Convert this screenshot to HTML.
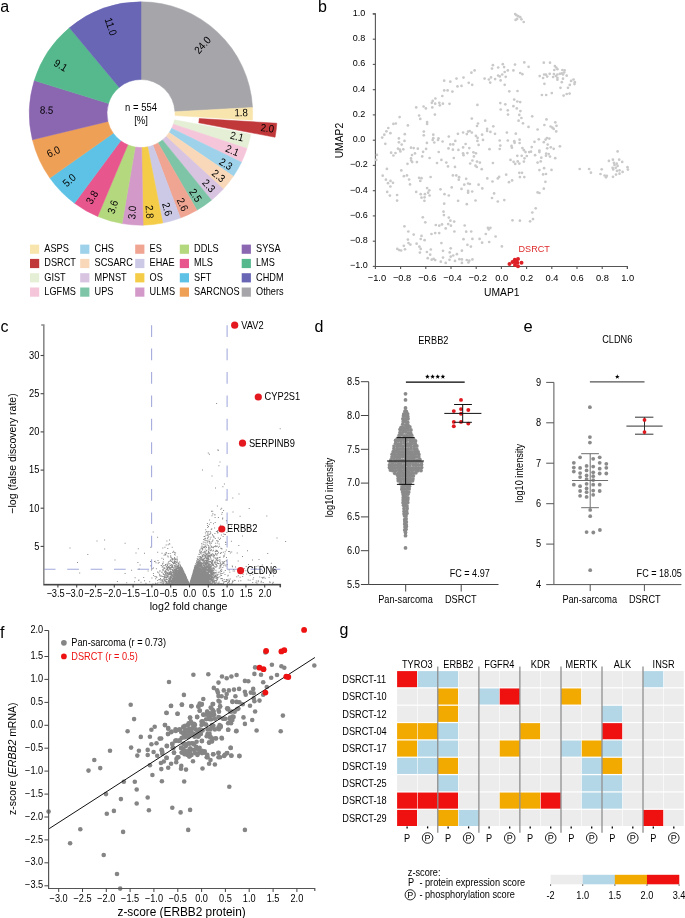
<!DOCTYPE html>
<html><head><meta charset="utf-8"><style>
html,body{margin:0;padding:0;background:#fff;width:685px;height:918px;overflow:hidden}
svg{display:block;font-family:"Liberation Sans", sans-serif;filter:blur(0.4px)}
</style></head><body>
<svg width="685" height="918" viewBox="0 0 685 918">
<rect width="685" height="918" fill="#fff"/>
<text transform="translate(0.20 11.90) scale(1 1)" font-size="16" text-anchor="start" fill="#000" >a</text><path d="M141.00,1.80 A111.7,111.7 0 0 1 252.54,107.50 L174.95,111.67 A34.0,34.0 0 0 0 141.00,79.50Z" fill="#a6a5aa" stroke="#a6a5aa" stroke-width="0.5" stroke-linejoin="round"/><path d="M252.54,107.50 A111.7,111.7 0 0 1 252.50,120.20 L174.94,115.54 A34.0,34.0 0 0 0 174.95,111.67Z" fill="#f8e5ae" stroke="#f8e5ae" stroke-width="0.5" stroke-linejoin="round"/><path d="M276.81,123.22 A111.7,111.7 0 0 1 275.08,137.22 L198.72,122.82 A34.0,34.0 0 0 0 199.25,118.55Z" fill="#c0383a" stroke="#c0383a" stroke-width="0.5" stroke-linejoin="round"/><path d="M250.76,134.21 A111.7,111.7 0 0 1 247.06,148.55 L173.28,124.17 A34.0,34.0 0 0 0 174.41,119.80Z" fill="#e5efd6" stroke="#e5efd6" stroke-width="0.5" stroke-linejoin="round"/><path d="M247.06,148.55 A111.7,111.7 0 0 1 241.48,162.28 L171.59,128.35 A34.0,34.0 0 0 0 173.28,124.17Z" fill="#f5c6da" stroke="#f5c6da" stroke-width="0.5" stroke-linejoin="round"/><path d="M241.48,162.28 A111.7,111.7 0 0 1 233.36,176.33 L169.11,132.62 A34.0,34.0 0 0 0 171.59,128.35Z" fill="#9dd2ea" stroke="#9dd2ea" stroke-width="0.5" stroke-linejoin="round"/><path d="M233.36,176.33 A111.7,111.7 0 0 1 223.28,189.04 L166.05,136.49 A34.0,34.0 0 0 0 169.11,132.62Z" fill="#f8d8b8" stroke="#f8d8b8" stroke-width="0.5" stroke-linejoin="round"/><path d="M223.28,189.04 A111.7,111.7 0 0 1 211.47,200.17 L162.45,139.88 A34.0,34.0 0 0 0 166.05,136.49Z" fill="#d8c3e1" stroke="#d8c3e1" stroke-width="0.5" stroke-linejoin="round"/><path d="M211.47,200.17 A111.7,111.7 0 0 1 196.95,210.18 L158.03,142.93 A34.0,34.0 0 0 0 162.45,139.88Z" fill="#7ec5a7" stroke="#7ec5a7" stroke-width="0.5" stroke-linejoin="round"/><path d="M196.95,210.18 A111.7,111.7 0 0 1 180.38,218.03 L152.99,145.32 A34.0,34.0 0 0 0 158.03,142.93Z" fill="#f0a492" stroke="#f0a492" stroke-width="0.5" stroke-linejoin="round"/><path d="M180.38,218.03 A111.7,111.7 0 0 1 162.75,223.06 L147.62,146.85 A34.0,34.0 0 0 0 152.99,145.32Z" fill="#cbc9e6" stroke="#cbc9e6" stroke-width="0.5" stroke-linejoin="round"/><path d="M162.75,223.06 A111.7,111.7 0 0 1 143.12,225.18 L141.64,147.49 A34.0,34.0 0 0 0 147.62,146.85Z" fill="#f4cc47" stroke="#f4cc47" stroke-width="0.5" stroke-linejoin="round"/><path d="M143.12,225.18 A111.7,111.7 0 0 1 122.03,223.58 L135.23,147.01 A34.0,34.0 0 0 0 141.64,147.49Z" fill="#d39ac9" stroke="#d39ac9" stroke-width="0.5" stroke-linejoin="round"/><path d="M122.03,223.58 A111.7,111.7 0 0 1 97.68,216.46 L127.82,144.84 A34.0,34.0 0 0 0 135.23,147.01Z" fill="#b4d87e" stroke="#b4d87e" stroke-width="0.5" stroke-linejoin="round"/><path d="M97.68,216.46 A111.7,111.7 0 0 1 74.43,203.20 L120.74,140.80 A34.0,34.0 0 0 0 127.82,144.84Z" fill="#e7578e" stroke="#e7578e" stroke-width="0.5" stroke-linejoin="round"/><path d="M74.43,203.20 A111.7,111.7 0 0 1 49.85,178.07 L113.26,133.15 A34.0,34.0 0 0 0 120.74,140.80Z" fill="#5dc2e5" stroke="#5dc2e5" stroke-width="0.5" stroke-linejoin="round"/><path d="M49.85,178.07 A111.7,111.7 0 0 1 32.42,139.73 L107.95,121.48 A34.0,34.0 0 0 0 113.26,133.15Z" fill="#efa057" stroke="#efa057" stroke-width="0.5" stroke-linejoin="round"/><path d="M32.42,139.73 A111.7,111.7 0 0 1 34.30,80.46 L108.52,103.44 A34.0,34.0 0 0 0 107.95,121.48Z" fill="#8b66b1" stroke="#8b66b1" stroke-width="0.5" stroke-linejoin="round"/><path d="M34.30,80.46 A111.7,111.7 0 0 1 69.44,27.73 L119.22,87.39 A34.0,34.0 0 0 0 108.52,103.44Z" fill="#56b98d" stroke="#56b98d" stroke-width="0.5" stroke-linejoin="round"/><path d="M69.44,27.73 A111.7,111.7 0 0 1 141.00,1.80 L141.00,79.50 A34.0,34.0 0 0 0 119.22,87.39Z" fill="#6966b5" stroke="#6966b5" stroke-width="0.5" stroke-linejoin="round"/><text transform="translate(202.60 45.10) rotate(-47.99) scale(1 1.1)" y="3.3" font-size="9.7" text-anchor="middle" fill="#000" >24.0</text><text transform="translate(241.10 112.50) rotate(-0.57) scale(1 1.1)" y="3.3" font-size="9.7" text-anchor="middle" fill="#000" >1.8</text><text transform="translate(267.40 128.20) rotate(7.00) scale(1 1.1)" y="3.3" font-size="9.7" text-anchor="middle" fill="#000" >2.0</text><text transform="translate(237.00 136.40) rotate(13.42) scale(1 1.1)" y="3.3" font-size="9.7" text-anchor="middle" fill="#000" >2.1</text><text transform="translate(232.40 150.50) rotate(22.04) scale(1 1.1)" y="3.3" font-size="9.7" text-anchor="middle" fill="#000" >2.1</text><text transform="translate(225.80 164.00) rotate(30.77) scale(1 1.1)" y="3.3" font-size="9.7" text-anchor="middle" fill="#000" >2.3</text><text transform="translate(218.60 175.80) rotate(38.76) scale(1 1.1)" y="3.3" font-size="9.7" text-anchor="middle" fill="#000" >2.3</text><text transform="translate(208.80 185.70) rotate(46.80) scale(1 1.1)" y="3.3" font-size="9.7" text-anchor="middle" fill="#000" >2.3</text><text transform="translate(195.60 195.30) rotate(56.28) scale(1 1.1)" y="3.3" font-size="9.7" text-anchor="middle" fill="#000" >2.5</text><text transform="translate(182.50 204.50) rotate(65.48) scale(1 1.1)" y="3.3" font-size="9.7" text-anchor="middle" fill="#000" >2.6</text><text transform="translate(167.20 209.20) rotate(74.69) scale(1 1.1)" y="3.3" font-size="9.7" text-anchor="middle" fill="#000" >2.6</text><text transform="translate(149.60 211.80) rotate(85.00) scale(1 1.1)" y="3.3" font-size="9.7" text-anchor="middle" fill="#000" >2.8</text><text transform="translate(132.10 212.40) rotate(-84.86) scale(1 1.1)" y="3.3" font-size="9.7" text-anchor="middle" fill="#000" >3.0</text><text transform="translate(112.80 207.00) rotate(-73.22) scale(1 1.1)" y="3.3" font-size="9.7" text-anchor="middle" fill="#000" >3.6</text><text transform="translate(92.10 197.30) rotate(-59.74) scale(1 1.1)" y="3.3" font-size="9.7" text-anchor="middle" fill="#000" >3.8</text><text transform="translate(69.30 180.30) rotate(-42.97) scale(1 1.1)" y="3.3" font-size="9.7" text-anchor="middle" fill="#000" >5.0</text><text transform="translate(53.40 151.80) rotate(-23.62) scale(1 1.1)" y="3.3" font-size="9.7" text-anchor="middle" fill="#000" >6.0</text><text transform="translate(46.60 110.00) rotate(2.12) scale(1 1.1)" y="3.3" font-size="9.7" text-anchor="middle" fill="#000" >8.5</text><text transform="translate(60.70 65.40) rotate(30.92) scale(1 1.1)" y="3.3" font-size="9.7" text-anchor="middle" fill="#000" >9.1</text><text transform="translate(110.80 26.60) rotate(70.84) scale(1 1.1)" y="3.3" font-size="9.7" text-anchor="middle" fill="#000" >11.0</text><text transform="translate(141.00 111.00) scale(1 1.1)" font-size="9.5" text-anchor="middle" fill="#000" >n = 554</text><text transform="translate(141.00 124.20) scale(1 1.1)" font-size="9.5" text-anchor="middle" fill="#000" >[%]</text><rect x="30.0" y="244.6" width="9.2" height="9.2" fill="#f8e5ae"/><text transform="translate(44.30 252.10) scale(1 1.1)" font-size="9.2" text-anchor="start" fill="#000" >ASPS</text><rect x="30.0" y="258.9" width="9.2" height="9.2" fill="#c0383a"/><text transform="translate(44.30 266.40) scale(1 1.1)" font-size="9.2" text-anchor="start" fill="#000" >DSRCT</text><rect x="30.0" y="273.2" width="9.2" height="9.2" fill="#e5efd6"/><text transform="translate(44.30 280.70) scale(1 1.1)" font-size="9.2" text-anchor="start" fill="#000" >GIST</text><rect x="30.0" y="287.5" width="9.2" height="9.2" fill="#f5c6da"/><text transform="translate(44.30 295.00) scale(1 1.1)" font-size="9.2" text-anchor="start" fill="#000" >LGFMS</text><rect x="80.2" y="244.6" width="9.2" height="9.2" fill="#9dd2ea"/><text transform="translate(94.50 252.10) scale(1 1.1)" font-size="9.2" text-anchor="start" fill="#000" >CHS</text><rect x="80.2" y="258.9" width="9.2" height="9.2" fill="#f8d8b8"/><text transform="translate(94.50 266.40) scale(1 1.1)" font-size="9.2" text-anchor="start" fill="#000" >SCSARC</text><rect x="80.2" y="273.2" width="9.2" height="9.2" fill="#d8c3e1"/><text transform="translate(94.50 280.70) scale(1 1.1)" font-size="9.2" text-anchor="start" fill="#000" >MPNST</text><rect x="80.2" y="287.5" width="9.2" height="9.2" fill="#7ec5a7"/><text transform="translate(94.50 295.00) scale(1 1.1)" font-size="9.2" text-anchor="start" fill="#000" >UPS</text><rect x="135.2" y="244.6" width="9.2" height="9.2" fill="#f0a492"/><text transform="translate(149.50 252.10) scale(1 1.1)" font-size="9.2" text-anchor="start" fill="#000" >ES</text><rect x="135.2" y="258.9" width="9.2" height="9.2" fill="#cbc9e6"/><text transform="translate(149.50 266.40) scale(1 1.1)" font-size="9.2" text-anchor="start" fill="#000" >EHAE</text><rect x="135.2" y="273.2" width="9.2" height="9.2" fill="#f4cc47"/><text transform="translate(149.50 280.70) scale(1 1.1)" font-size="9.2" text-anchor="start" fill="#000" >OS</text><rect x="135.2" y="287.5" width="9.2" height="9.2" fill="#d39ac9"/><text transform="translate(149.50 295.00) scale(1 1.1)" font-size="9.2" text-anchor="start" fill="#000" >ULMS</text><rect x="179.8" y="244.6" width="9.2" height="9.2" fill="#b4d87e"/><text transform="translate(194.10 252.10) scale(1 1.1)" font-size="9.2" text-anchor="start" fill="#000" >DDLS</text><rect x="179.8" y="258.9" width="9.2" height="9.2" fill="#e7578e"/><text transform="translate(194.10 266.40) scale(1 1.1)" font-size="9.2" text-anchor="start" fill="#000" >MLS</text><rect x="179.8" y="273.2" width="9.2" height="9.2" fill="#5dc2e5"/><text transform="translate(194.10 280.70) scale(1 1.1)" font-size="9.2" text-anchor="start" fill="#000" >SFT</text><rect x="179.8" y="287.5" width="9.2" height="9.2" fill="#efa057"/><text transform="translate(194.10 295.00) scale(1 1.1)" font-size="9.2" text-anchor="start" fill="#000" >SARCNOS</text><rect x="241.7" y="244.6" width="9.2" height="9.2" fill="#8b66b1"/><text transform="translate(256.00 252.10) scale(1 1.1)" font-size="9.2" text-anchor="start" fill="#000" >SYSA</text><rect x="241.7" y="258.9" width="9.2" height="9.2" fill="#56b98d"/><text transform="translate(256.00 266.40) scale(1 1.1)" font-size="9.2" text-anchor="start" fill="#000" >LMS</text><rect x="241.7" y="273.2" width="9.2" height="9.2" fill="#6966b5"/><text transform="translate(256.00 280.70) scale(1 1.1)" font-size="9.2" text-anchor="start" fill="#000" >CHDM</text><rect x="241.7" y="287.5" width="9.2" height="9.2" fill="#a6a5aa"/><text transform="translate(256.00 295.00) scale(1 1.1)" font-size="9.2" text-anchor="start" fill="#000" >Others</text><text transform="translate(318.00 11.50) scale(1 1)" font-size="16" text-anchor="start" fill="#000" >b</text><path d="M372.79999999999995,13.9 H375.4 V266.5 H627.4 V269.1" fill="none" stroke="#555" stroke-width="1.1"/><line x1="372.8" y1="13.9" x2="375.4" y2="13.9" stroke="#555" stroke-width="1.1"/><text transform="translate(358.90 15.90) scale(1 1)" font-size="9.0" text-anchor="middle" fill="#000" >1.0</text><line x1="372.8" y1="39.2" x2="375.4" y2="39.2" stroke="#555" stroke-width="1.1"/><text transform="translate(358.90 41.15) scale(1 1)" font-size="9.0" text-anchor="middle" fill="#000" >0.8</text><line x1="372.8" y1="64.4" x2="375.4" y2="64.4" stroke="#555" stroke-width="1.1"/><text transform="translate(358.90 66.40) scale(1 1)" font-size="9.0" text-anchor="middle" fill="#000" >0.6</text><line x1="372.8" y1="89.7" x2="375.4" y2="89.7" stroke="#555" stroke-width="1.1"/><text transform="translate(358.90 91.65) scale(1 1)" font-size="9.0" text-anchor="middle" fill="#000" >0.4</text><line x1="372.8" y1="114.9" x2="375.4" y2="114.9" stroke="#555" stroke-width="1.1"/><text transform="translate(358.90 116.90) scale(1 1)" font-size="9.0" text-anchor="middle" fill="#000" >0.2</text><line x1="372.8" y1="140.2" x2="375.4" y2="140.2" stroke="#555" stroke-width="1.1"/><text transform="translate(358.90 142.15) scale(1 1)" font-size="9.0" text-anchor="middle" fill="#000" >0.0</text><line x1="372.8" y1="165.4" x2="375.4" y2="165.4" stroke="#555" stroke-width="1.1"/><text transform="translate(358.90 167.40) scale(1 1)" font-size="9.0" text-anchor="middle" fill="#000" >−0.2</text><line x1="372.8" y1="190.7" x2="375.4" y2="190.7" stroke="#555" stroke-width="1.1"/><text transform="translate(358.90 192.65) scale(1 1)" font-size="9.0" text-anchor="middle" fill="#000" >−0.4</text><line x1="372.8" y1="215.9" x2="375.4" y2="215.9" stroke="#555" stroke-width="1.1"/><text transform="translate(358.90 217.90) scale(1 1)" font-size="9.0" text-anchor="middle" fill="#000" >−0.6</text><line x1="372.8" y1="241.2" x2="375.4" y2="241.2" stroke="#555" stroke-width="1.1"/><text transform="translate(358.90 243.15) scale(1 1)" font-size="9.0" text-anchor="middle" fill="#000" >−0.8</text><line x1="372.8" y1="266.4" x2="375.4" y2="266.4" stroke="#555" stroke-width="1.1"/><text transform="translate(358.90 268.40) scale(1 1)" font-size="9.0" text-anchor="middle" fill="#000" >−1.0</text><line x1="375.4" y1="266.5" x2="375.4" y2="269.1" stroke="#555" stroke-width="1.1"/><text transform="translate(376.90 281.20) scale(1 1)" font-size="9.3" text-anchor="middle" fill="#000" >−1.0</text><line x1="400.6" y1="266.5" x2="400.6" y2="269.1" stroke="#555" stroke-width="1.1"/><text transform="translate(402.10 281.20) scale(1 1)" font-size="9.3" text-anchor="middle" fill="#000" >−0.8</text><line x1="425.8" y1="266.5" x2="425.8" y2="269.1" stroke="#555" stroke-width="1.1"/><text transform="translate(427.30 281.20) scale(1 1)" font-size="9.3" text-anchor="middle" fill="#000" >−0.6</text><line x1="451.0" y1="266.5" x2="451.0" y2="269.1" stroke="#555" stroke-width="1.1"/><text transform="translate(452.50 281.20) scale(1 1)" font-size="9.3" text-anchor="middle" fill="#000" >−0.4</text><line x1="476.2" y1="266.5" x2="476.2" y2="269.1" stroke="#555" stroke-width="1.1"/><text transform="translate(477.70 281.20) scale(1 1)" font-size="9.3" text-anchor="middle" fill="#000" >−0.2</text><line x1="501.4" y1="266.5" x2="501.4" y2="269.1" stroke="#555" stroke-width="1.1"/><text transform="translate(501.60 281.20) scale(1 1)" font-size="9.3" text-anchor="middle" fill="#000" >0.0</text><line x1="526.6" y1="266.5" x2="526.6" y2="269.1" stroke="#555" stroke-width="1.1"/><text transform="translate(526.80 281.20) scale(1 1)" font-size="9.3" text-anchor="middle" fill="#000" >0.2</text><line x1="551.8" y1="266.5" x2="551.8" y2="269.1" stroke="#555" stroke-width="1.1"/><text transform="translate(552.00 281.20) scale(1 1)" font-size="9.3" text-anchor="middle" fill="#000" >0.4</text><line x1="577.0" y1="266.5" x2="577.0" y2="269.1" stroke="#555" stroke-width="1.1"/><text transform="translate(577.20 281.20) scale(1 1)" font-size="9.3" text-anchor="middle" fill="#000" >0.6</text><line x1="602.2" y1="266.5" x2="602.2" y2="269.1" stroke="#555" stroke-width="1.1"/><text transform="translate(602.40 281.20) scale(1 1)" font-size="9.3" text-anchor="middle" fill="#000" >0.8</text><line x1="627.4" y1="266.5" x2="627.4" y2="269.1" stroke="#555" stroke-width="1.1"/><text transform="translate(627.60 281.20) scale(1 1)" font-size="9.3" text-anchor="middle" fill="#000" >1.0</text><text transform="translate(501.80 296.00) scale(1 1.1)" font-size="10.3" text-anchor="middle" fill="#000" >UMAP1</text><text transform="translate(342.60 140.60) rotate(-90.00) scale(1 1.1)" y="0.0" font-size="10.3" text-anchor="middle" fill="#000" >UMAP2</text><g fill="#c9c9c9"><circle cx="444.2" cy="80.7" r="1.35"/><circle cx="450.3" cy="81.7" r="1.35"/><circle cx="456.5" cy="78.6" r="1.35"/><circle cx="457.5" cy="86.4" r="1.35"/><circle cx="444.2" cy="90.4" r="1.35"/><circle cx="447.6" cy="90.4" r="1.35"/><circle cx="452.4" cy="91.6" r="1.35"/><circle cx="442.3" cy="96.0" r="1.35"/><circle cx="435.4" cy="98.5" r="1.35"/><circle cx="432.7" cy="100.9" r="1.35"/><circle cx="431.8" cy="102.8" r="1.35"/><circle cx="435.2" cy="103.7" r="1.35"/><circle cx="439.3" cy="102.8" r="1.35"/><circle cx="439.8" cy="105.3" r="1.35"/><circle cx="442.9" cy="103.7" r="1.35"/><circle cx="449.5" cy="103.8" r="1.35"/><circle cx="416.2" cy="107.4" r="1.35"/><circle cx="423.6" cy="106.5" r="1.35"/><circle cx="425.9" cy="108.4" r="1.35"/><circle cx="432.3" cy="107.4" r="1.35"/><circle cx="419.1" cy="115.5" r="1.35"/><circle cx="420.3" cy="118.9" r="1.35"/><circle cx="434.9" cy="114.6" r="1.35"/><circle cx="399.6" cy="117.1" r="1.35"/><circle cx="393.4" cy="123.9" r="1.35"/><circle cx="395.8" cy="123.5" r="1.35"/><circle cx="407.9" cy="125.4" r="1.35"/><circle cx="427.1" cy="122.0" r="1.35"/><circle cx="427.1" cy="123.9" r="1.35"/><circle cx="388.3" cy="128.0" r="1.35"/><circle cx="386.4" cy="131.3" r="1.35"/><circle cx="384.3" cy="134.7" r="1.35"/><circle cx="382.2" cy="137.6" r="1.35"/><circle cx="390.4" cy="133.2" r="1.35"/><circle cx="404.8" cy="134.2" r="1.35"/><circle cx="423.8" cy="131.6" r="1.35"/><circle cx="423.8" cy="135.3" r="1.35"/><circle cx="433.3" cy="134.7" r="1.35"/><circle cx="433.3" cy="138.2" r="1.35"/><circle cx="438.5" cy="138.4" r="1.35"/><circle cx="438.0" cy="140.0" r="1.35"/><circle cx="442.6" cy="141.5" r="1.35"/><circle cx="448.8" cy="136.6" r="1.35"/><circle cx="457.9" cy="133.8" r="1.35"/><circle cx="398.9" cy="138.4" r="1.35"/><circle cx="398.9" cy="142.3" r="1.35"/><circle cx="404.5" cy="140.9" r="1.35"/><circle cx="401.7" cy="144.6" r="1.35"/><circle cx="385.3" cy="143.8" r="1.35"/><circle cx="426.9" cy="142.9" r="1.35"/><circle cx="434.3" cy="142.5" r="1.35"/><circle cx="450.3" cy="144.4" r="1.35"/><circle cx="453.2" cy="144.4" r="1.35"/><circle cx="455.3" cy="140.9" r="1.35"/><circle cx="515.2" cy="14.1" r="1.35"/><circle cx="516.5" cy="15.2" r="1.35"/><circle cx="518.3" cy="16.2" r="1.35"/><circle cx="520.2" cy="17.2" r="1.35"/><circle cx="521.4" cy="19.3" r="1.35"/><circle cx="517.1" cy="18.9" r="1.35"/><circle cx="515.6" cy="19.9" r="1.35"/><circle cx="523.7" cy="22.0" r="1.35"/><circle cx="492.9" cy="65.2" r="1.35"/><circle cx="492.0" cy="68.6" r="1.35"/><circle cx="498.2" cy="67.5" r="1.35"/><circle cx="502.8" cy="64.2" r="1.35"/><circle cx="504.1" cy="67.1" r="1.35"/><circle cx="515.0" cy="64.6" r="1.35"/><circle cx="524.3" cy="62.4" r="1.35"/><circle cx="528.6" cy="66.8" r="1.35"/><circle cx="543.8" cy="62.7" r="1.35"/><circle cx="474.6" cy="70.4" r="1.35"/><circle cx="471.4" cy="72.7" r="1.35"/><circle cx="463.5" cy="77.6" r="1.35"/><circle cx="507.8" cy="70.4" r="1.35"/><circle cx="513.4" cy="70.4" r="1.35"/><circle cx="504.7" cy="72.0" r="1.35"/><circle cx="520.2" cy="73.0" r="1.35"/><circle cx="522.4" cy="74.2" r="1.35"/><circle cx="498.1" cy="75.5" r="1.35"/><circle cx="499.7" cy="76.4" r="1.35"/><circle cx="502.2" cy="74.5" r="1.35"/><circle cx="505.7" cy="76.8" r="1.35"/><circle cx="539.7" cy="76.1" r="1.35"/><circle cx="543.1" cy="78.0" r="1.35"/><circle cx="544.1" cy="74.5" r="1.35"/><circle cx="484.6" cy="78.6" r="1.35"/><circle cx="488.9" cy="79.5" r="1.35"/><circle cx="491.0" cy="77.4" r="1.35"/><circle cx="495.1" cy="79.1" r="1.35"/><circle cx="490.2" cy="82.6" r="1.35"/><circle cx="500.6" cy="80.4" r="1.35"/><circle cx="468.7" cy="82.8" r="1.35"/><circle cx="472.2" cy="84.8" r="1.35"/><circle cx="461.5" cy="85.9" r="1.35"/><circle cx="504.7" cy="84.8" r="1.35"/><circle cx="509.3" cy="91.3" r="1.35"/><circle cx="517.5" cy="91.0" r="1.35"/><circle cx="544.4" cy="83.8" r="1.35"/><circle cx="541.9" cy="95.0" r="1.35"/><circle cx="550.0" cy="62.7" r="1.35"/><circle cx="554.9" cy="66.1" r="1.35"/><circle cx="556.2" cy="67.5" r="1.35"/><circle cx="557.4" cy="69.2" r="1.35"/><circle cx="554.3" cy="70.0" r="1.35"/><circle cx="562.4" cy="70.0" r="1.35"/><circle cx="564.6" cy="70.4" r="1.35"/><circle cx="564.2" cy="72.5" r="1.35"/><circle cx="561.8" cy="73.3" r="1.35"/><circle cx="559.9" cy="73.8" r="1.35"/><circle cx="557.4" cy="74.5" r="1.35"/><circle cx="555.9" cy="76.0" r="1.35"/><circle cx="553.1" cy="77.0" r="1.35"/><circle cx="547.2" cy="76.6" r="1.35"/><circle cx="546.0" cy="74.7" r="1.35"/><circle cx="549.7" cy="73.8" r="1.35"/><circle cx="553.9" cy="74.1" r="1.35"/><circle cx="563.0" cy="74.5" r="1.35"/><circle cx="566.7" cy="75.7" r="1.35"/><circle cx="557.4" cy="77.8" r="1.35"/><circle cx="557.4" cy="79.7" r="1.35"/><circle cx="563.0" cy="78.7" r="1.35"/><circle cx="573.5" cy="79.5" r="1.35"/><circle cx="571.1" cy="80.9" r="1.35"/><circle cx="574.8" cy="82.2" r="1.35"/><circle cx="574.5" cy="84.1" r="1.35"/><circle cx="561.8" cy="82.2" r="1.35"/><circle cx="569.8" cy="84.9" r="1.35"/><circle cx="568.0" cy="87.8" r="1.35"/><circle cx="560.5" cy="87.8" r="1.35"/><circle cx="551.8" cy="93.1" r="1.35"/><circle cx="546.2" cy="95.0" r="1.35"/><circle cx="563.6" cy="95.6" r="1.35"/><circle cx="566.7" cy="94.0" r="1.35"/><circle cx="569.6" cy="93.6" r="1.35"/><circle cx="546.5" cy="119.4" r="1.35"/><circle cx="555.3" cy="122.3" r="1.35"/><circle cx="398.0" cy="148.7" r="1.35"/><circle cx="399.8" cy="149.7" r="1.35"/><circle cx="400.4" cy="151.4" r="1.35"/><circle cx="403.3" cy="149.3" r="1.35"/><circle cx="391.1" cy="152.7" r="1.35"/><circle cx="395.5" cy="153.0" r="1.35"/><circle cx="393.4" cy="155.5" r="1.35"/><circle cx="411.0" cy="147.7" r="1.35"/><circle cx="413.7" cy="148.1" r="1.35"/><circle cx="417.8" cy="148.7" r="1.35"/><circle cx="415.0" cy="153.4" r="1.35"/><circle cx="412.0" cy="155.1" r="1.35"/><circle cx="411.0" cy="158.4" r="1.35"/><circle cx="411.2" cy="160.5" r="1.35"/><circle cx="412.2" cy="162.1" r="1.35"/><circle cx="416.9" cy="162.1" r="1.35"/><circle cx="407.5" cy="163.8" r="1.35"/><circle cx="423.1" cy="151.8" r="1.35"/><circle cx="426.1" cy="148.9" r="1.35"/><circle cx="422.2" cy="156.4" r="1.35"/><circle cx="432.7" cy="140.0" r="1.35"/><circle cx="448.5" cy="148.4" r="1.35"/><circle cx="452.9" cy="149.7" r="1.35"/><circle cx="458.4" cy="149.9" r="1.35"/><circle cx="438.7" cy="152.0" r="1.35"/><circle cx="429.6" cy="158.0" r="1.35"/><circle cx="441.4" cy="159.9" r="1.35"/><circle cx="437.0" cy="163.0" r="1.35"/><circle cx="446.3" cy="162.6" r="1.35"/><circle cx="448.0" cy="166.4" r="1.35"/><circle cx="455.0" cy="166.9" r="1.35"/><circle cx="453.8" cy="158.0" r="1.35"/><circle cx="376.9" cy="154.9" r="1.35"/><circle cx="376.2" cy="159.9" r="1.35"/><circle cx="386.9" cy="168.9" r="1.35"/><circle cx="401.3" cy="170.4" r="1.35"/><circle cx="382.7" cy="175.7" r="1.35"/><circle cx="403.9" cy="176.2" r="1.35"/><circle cx="407.0" cy="175.4" r="1.35"/><circle cx="385.9" cy="179.7" r="1.35"/><circle cx="390.5" cy="180.9" r="1.35"/><circle cx="388.0" cy="183.2" r="1.35"/><circle cx="393.0" cy="182.8" r="1.35"/><circle cx="390.4" cy="186.5" r="1.35"/><circle cx="409.1" cy="179.5" r="1.35"/><circle cx="410.0" cy="184.4" r="1.35"/><circle cx="419.1" cy="177.8" r="1.35"/><circle cx="421.5" cy="178.2" r="1.35"/><circle cx="420.3" cy="180.9" r="1.35"/><circle cx="430.6" cy="177.0" r="1.35"/><circle cx="452.9" cy="175.4" r="1.35"/><circle cx="456.3" cy="175.4" r="1.35"/><circle cx="459.1" cy="177.2" r="1.35"/><circle cx="458.8" cy="179.7" r="1.35"/><circle cx="387.2" cy="191.9" r="1.35"/><circle cx="389.9" cy="195.6" r="1.35"/><circle cx="397.1" cy="195.0" r="1.35"/><circle cx="397.1" cy="200.6" r="1.35"/><circle cx="416.2" cy="191.9" r="1.35"/><circle cx="420.7" cy="194.2" r="1.35"/><circle cx="424.9" cy="194.2" r="1.35"/><circle cx="427.1" cy="188.1" r="1.35"/><circle cx="429.3" cy="190.3" r="1.35"/><circle cx="428.1" cy="192.7" r="1.35"/><circle cx="429.6" cy="195.5" r="1.35"/><circle cx="421.5" cy="197.7" r="1.35"/><circle cx="424.6" cy="197.3" r="1.35"/><circle cx="424.4" cy="200.8" r="1.35"/><circle cx="440.5" cy="189.3" r="1.35"/><circle cx="451.7" cy="187.4" r="1.35"/><circle cx="444.5" cy="194.2" r="1.35"/><circle cx="448.8" cy="195.5" r="1.35"/><circle cx="458.1" cy="200.8" r="1.35"/><circle cx="444.2" cy="203.7" r="1.35"/><circle cx="443.5" cy="211.7" r="1.35"/><circle cx="443.9" cy="215.1" r="1.35"/><circle cx="422.8" cy="217.3" r="1.35"/><circle cx="448.8" cy="217.6" r="1.35"/><circle cx="450.4" cy="220.7" r="1.35"/><circle cx="454.2" cy="221.6" r="1.35"/><circle cx="425.3" cy="222.3" r="1.35"/><circle cx="448.2" cy="224.1" r="1.35"/><circle cx="435.8" cy="225.0" r="1.35"/><circle cx="442.0" cy="224.4" r="1.35"/><circle cx="514.2" cy="99.6" r="1.35"/><circle cx="517.3" cy="101.5" r="1.35"/><circle cx="520.2" cy="102.1" r="1.35"/><circle cx="500.3" cy="103.1" r="1.35"/><circle cx="505.3" cy="104.3" r="1.35"/><circle cx="477.4" cy="104.9" r="1.35"/><circle cx="513.4" cy="106.2" r="1.35"/><circle cx="516.8" cy="108.4" r="1.35"/><circle cx="500.7" cy="109.5" r="1.35"/><circle cx="507.8" cy="110.3" r="1.35"/><circle cx="520.4" cy="111.1" r="1.35"/><circle cx="508.0" cy="114.6" r="1.35"/><circle cx="519.3" cy="114.9" r="1.35"/><circle cx="521.4" cy="118.0" r="1.35"/><circle cx="518.6" cy="120.7" r="1.35"/><circle cx="532.2" cy="116.3" r="1.35"/><circle cx="523.0" cy="123.3" r="1.35"/><circle cx="528.5" cy="126.9" r="1.35"/><circle cx="537.6" cy="129.5" r="1.35"/><circle cx="544.4" cy="125.0" r="1.35"/><circle cx="471.8" cy="118.6" r="1.35"/><circle cx="485.2" cy="120.7" r="1.35"/><circle cx="478.0" cy="123.5" r="1.35"/><circle cx="477.0" cy="126.0" r="1.35"/><circle cx="493.3" cy="126.3" r="1.35"/><circle cx="487.1" cy="128.8" r="1.35"/><circle cx="487.1" cy="131.0" r="1.35"/><circle cx="490.4" cy="131.9" r="1.35"/><circle cx="495.0" cy="133.8" r="1.35"/><circle cx="482.1" cy="134.7" r="1.35"/><circle cx="463.1" cy="132.5" r="1.35"/><circle cx="466.8" cy="134.1" r="1.35"/><circle cx="468.1" cy="131.6" r="1.35"/><circle cx="469.7" cy="131.0" r="1.35"/><circle cx="471.8" cy="132.6" r="1.35"/><circle cx="475.9" cy="135.9" r="1.35"/><circle cx="477.6" cy="137.8" r="1.35"/><circle cx="477.4" cy="140.9" r="1.35"/><circle cx="483.0" cy="139.9" r="1.35"/><circle cx="478.6" cy="144.9" r="1.35"/><circle cx="465.6" cy="144.0" r="1.35"/><circle cx="463.1" cy="147.4" r="1.35"/><circle cx="469.3" cy="148.1" r="1.35"/><circle cx="467.4" cy="153.1" r="1.35"/><circle cx="463.1" cy="153.3" r="1.35"/><circle cx="463.5" cy="155.2" r="1.35"/><circle cx="473.4" cy="152.3" r="1.35"/><circle cx="475.9" cy="153.3" r="1.35"/><circle cx="473.9" cy="156.4" r="1.35"/><circle cx="472.4" cy="160.5" r="1.35"/><circle cx="470.2" cy="163.5" r="1.35"/><circle cx="477.0" cy="161.6" r="1.35"/><circle cx="479.9" cy="162.6" r="1.35"/><circle cx="475.5" cy="165.7" r="1.35"/><circle cx="476.8" cy="167.0" r="1.35"/><circle cx="481.7" cy="169.2" r="1.35"/><circle cx="489.5" cy="149.2" r="1.35"/><circle cx="492.9" cy="163.0" r="1.35"/><circle cx="499.7" cy="140.5" r="1.35"/><circle cx="507.8" cy="140.5" r="1.35"/><circle cx="506.9" cy="132.6" r="1.35"/><circle cx="515.8" cy="133.7" r="1.35"/><circle cx="519.6" cy="139.7" r="1.35"/><circle cx="519.6" cy="143.0" r="1.35"/><circle cx="514.3" cy="141.2" r="1.35"/><circle cx="514.6" cy="142.8" r="1.35"/><circle cx="500.3" cy="145.6" r="1.35"/><circle cx="499.7" cy="149.0" r="1.35"/><circle cx="511.5" cy="145.9" r="1.35"/><circle cx="511.9" cy="147.7" r="1.35"/><circle cx="522.4" cy="148.1" r="1.35"/><circle cx="523.9" cy="150.2" r="1.35"/><circle cx="525.5" cy="152.1" r="1.35"/><circle cx="529.2" cy="152.1" r="1.35"/><circle cx="531.0" cy="151.7" r="1.35"/><circle cx="531.7" cy="147.1" r="1.35"/><circle cx="534.5" cy="141.8" r="1.35"/><circle cx="538.8" cy="139.3" r="1.35"/><circle cx="543.8" cy="142.2" r="1.35"/><circle cx="539.4" cy="150.5" r="1.35"/><circle cx="539.4" cy="152.1" r="1.35"/><circle cx="535.1" cy="155.2" r="1.35"/><circle cx="517.3" cy="155.8" r="1.35"/><circle cx="521.7" cy="155.8" r="1.35"/><circle cx="526.8" cy="156.0" r="1.35"/><circle cx="524.5" cy="158.3" r="1.35"/><circle cx="523.9" cy="161.6" r="1.35"/><circle cx="510.5" cy="159.9" r="1.35"/><circle cx="513.6" cy="161.8" r="1.35"/><circle cx="515.2" cy="163.9" r="1.35"/><circle cx="517.7" cy="161.4" r="1.35"/><circle cx="519.3" cy="163.6" r="1.35"/><circle cx="537.6" cy="162.6" r="1.35"/><circle cx="540.7" cy="161.4" r="1.35"/><circle cx="541.3" cy="157.7" r="1.35"/><circle cx="539.4" cy="170.1" r="1.35"/><circle cx="544.1" cy="168.2" r="1.35"/><circle cx="519.3" cy="172.8" r="1.35"/><circle cx="522.0" cy="172.8" r="1.35"/><circle cx="519.9" cy="177.1" r="1.35"/><circle cx="524.3" cy="177.1" r="1.35"/><circle cx="506.2" cy="174.7" r="1.35"/><circle cx="499.1" cy="176.9" r="1.35"/><circle cx="497.8" cy="178.4" r="1.35"/><circle cx="487.3" cy="178.4" r="1.35"/><circle cx="466.2" cy="178.8" r="1.35"/><circle cx="543.1" cy="174.4" r="1.35"/><circle cx="556.5" cy="125.8" r="1.35"/><circle cx="550.6" cy="126.5" r="1.35"/><circle cx="552.4" cy="127.7" r="1.35"/><circle cx="553.7" cy="128.9" r="1.35"/><circle cx="556.2" cy="131.4" r="1.35"/><circle cx="546.9" cy="138.0" r="1.35"/><circle cx="549.3" cy="138.6" r="1.35"/><circle cx="545.6" cy="139.6" r="1.35"/><circle cx="547.7" cy="144.6" r="1.35"/><circle cx="547.2" cy="148.3" r="1.35"/><circle cx="550.8" cy="147.3" r="1.35"/><circle cx="553.7" cy="148.8" r="1.35"/><circle cx="559.9" cy="146.3" r="1.35"/><circle cx="546.2" cy="153.5" r="1.35"/><circle cx="548.7" cy="154.1" r="1.35"/><circle cx="550.0" cy="156.6" r="1.35"/><circle cx="546.0" cy="155.7" r="1.35"/><circle cx="555.2" cy="158.2" r="1.35"/><circle cx="551.5" cy="169.9" r="1.35"/><circle cx="546.0" cy="174.0" r="1.35"/><circle cx="545.4" cy="181.8" r="1.35"/><circle cx="617.6" cy="151.4" r="1.35"/><circle cx="608.9" cy="160.9" r="1.35"/><circle cx="612.9" cy="159.7" r="1.35"/><circle cx="619.2" cy="159.7" r="1.35"/><circle cx="622.2" cy="161.9" r="1.35"/><circle cx="613.9" cy="162.8" r="1.35"/><circle cx="616.7" cy="163.7" r="1.35"/><circle cx="614.5" cy="164.9" r="1.35"/><circle cx="617.6" cy="165.9" r="1.35"/><circle cx="612.6" cy="167.8" r="1.35"/><circle cx="615.7" cy="167.8" r="1.35"/><circle cx="613.2" cy="169.4" r="1.35"/><circle cx="617.0" cy="170.9" r="1.35"/><circle cx="619.5" cy="170.3" r="1.35"/><circle cx="622.6" cy="171.9" r="1.35"/><circle cx="627.5" cy="167.2" r="1.35"/><circle cx="627.9" cy="169.6" r="1.35"/><circle cx="619.5" cy="173.7" r="1.35"/><circle cx="616.0" cy="174.6" r="1.35"/><circle cx="613.0" cy="176.8" r="1.35"/><circle cx="579.7" cy="169.0" r="1.35"/><circle cx="589.1" cy="169.0" r="1.35"/><circle cx="590.9" cy="172.7" r="1.35"/><circle cx="601.7" cy="169.3" r="1.35"/><circle cx="600.5" cy="174.0" r="1.35"/><circle cx="604.6" cy="175.5" r="1.35"/><circle cx="606.8" cy="175.8" r="1.35"/><circle cx="606.0" cy="177.3" r="1.35"/><circle cx="404.4" cy="226.3" r="1.35"/><circle cx="408.3" cy="231.5" r="1.35"/><circle cx="413.7" cy="234.6" r="1.35"/><circle cx="421.5" cy="235.9" r="1.35"/><circle cx="420.7" cy="239.0" r="1.35"/><circle cx="424.6" cy="240.2" r="1.35"/><circle cx="407.9" cy="239.6" r="1.35"/><circle cx="408.5" cy="243.1" r="1.35"/><circle cx="410.4" cy="244.6" r="1.35"/><circle cx="416.6" cy="243.7" r="1.35"/><circle cx="403.8" cy="245.8" r="1.35"/><circle cx="397.3" cy="248.9" r="1.35"/><circle cx="399.2" cy="250.1" r="1.35"/><circle cx="401.1" cy="250.5" r="1.35"/><circle cx="405.0" cy="249.3" r="1.35"/><circle cx="419.4" cy="246.7" r="1.35"/><circle cx="420.7" cy="248.9" r="1.35"/><circle cx="419.9" cy="252.6" r="1.35"/><circle cx="426.9" cy="252.0" r="1.35"/><circle cx="430.8" cy="249.5" r="1.35"/><circle cx="430.2" cy="254.7" r="1.35"/><circle cx="427.7" cy="258.2" r="1.35"/><circle cx="431.7" cy="259.7" r="1.35"/><circle cx="433.6" cy="258.8" r="1.35"/><circle cx="435.2" cy="260.1" r="1.35"/><circle cx="440.8" cy="261.7" r="1.35"/><circle cx="443.0" cy="257.6" r="1.35"/><circle cx="445.7" cy="262.9" r="1.35"/><circle cx="449.5" cy="259.8" r="1.35"/><circle cx="450.7" cy="256.7" r="1.35"/><circle cx="453.2" cy="255.5" r="1.35"/><circle cx="456.9" cy="254.2" r="1.35"/><circle cx="455.0" cy="260.9" r="1.35"/><circle cx="459.4" cy="259.2" r="1.35"/><circle cx="449.7" cy="252.4" r="1.35"/><circle cx="450.7" cy="248.3" r="1.35"/><circle cx="443.0" cy="250.8" r="1.35"/><circle cx="441.4" cy="243.1" r="1.35"/><circle cx="431.5" cy="234.0" r="1.35"/><circle cx="435.2" cy="233.1" r="1.35"/><circle cx="439.2" cy="233.1" r="1.35"/><circle cx="439.3" cy="225.7" r="1.35"/><circle cx="445.7" cy="228.4" r="1.35"/><circle cx="450.9" cy="225.7" r="1.35"/><circle cx="454.4" cy="231.5" r="1.35"/><circle cx="464.3" cy="184.7" r="1.35"/><circle cx="468.1" cy="183.5" r="1.35"/><circle cx="469.9" cy="184.0" r="1.35"/><circle cx="478.6" cy="184.7" r="1.35"/><circle cx="492.5" cy="181.5" r="1.35"/><circle cx="509.0" cy="182.2" r="1.35"/><circle cx="512.1" cy="180.4" r="1.35"/><circle cx="461.5" cy="188.9" r="1.35"/><circle cx="468.1" cy="190.9" r="1.35"/><circle cx="468.1" cy="192.7" r="1.35"/><circle cx="472.2" cy="191.5" r="1.35"/><circle cx="482.3" cy="188.4" r="1.35"/><circle cx="494.1" cy="193.4" r="1.35"/><circle cx="492.0" cy="198.0" r="1.35"/><circle cx="497.8" cy="201.5" r="1.35"/><circle cx="504.3" cy="200.1" r="1.35"/><circle cx="475.5" cy="200.5" r="1.35"/><circle cx="466.8" cy="204.2" r="1.35"/><circle cx="543.8" cy="188.7" r="1.35"/><circle cx="537.6" cy="192.4" r="1.35"/><circle cx="539.4" cy="193.0" r="1.35"/><circle cx="535.7" cy="208.3" r="1.35"/><circle cx="532.3" cy="212.5" r="1.35"/><circle cx="533.0" cy="219.1" r="1.35"/><circle cx="530.1" cy="221.3" r="1.35"/><circle cx="512.5" cy="220.3" r="1.35"/><circle cx="519.9" cy="220.7" r="1.35"/><circle cx="464.7" cy="225.5" r="1.35"/><circle cx="466.2" cy="231.7" r="1.35"/><circle cx="471.2" cy="231.5" r="1.35"/><circle cx="487.9" cy="227.8" r="1.35"/><circle cx="490.4" cy="227.8" r="1.35"/><circle cx="488.8" cy="229.4" r="1.35"/><circle cx="485.8" cy="234.0" r="1.35"/><circle cx="495.6" cy="236.5" r="1.35"/><circle cx="463.5" cy="239.2" r="1.35"/><circle cx="472.4" cy="238.9" r="1.35"/><circle cx="479.6" cy="238.9" r="1.35"/><circle cx="482.1" cy="242.7" r="1.35"/><circle cx="489.2" cy="242.0" r="1.35"/><circle cx="467.4" cy="244.8" r="1.35"/><circle cx="470.9" cy="246.6" r="1.35"/><circle cx="501.9" cy="246.4" r="1.35"/><circle cx="461.9" cy="250.7" r="1.35"/><circle cx="461.9" cy="259.4" r="1.35"/><circle cx="466.8" cy="260.0" r="1.35"/><circle cx="469.3" cy="260.7" r="1.35"/><circle cx="472.4" cy="259.4" r="1.35"/><circle cx="468.4" cy="262.5" r="1.35"/><circle cx="461.9" cy="262.9" r="1.35"/></g><g fill="#dd1f26"><circle cx="509.5" cy="263.9" r="2.0"/><circle cx="512.5" cy="262.1" r="2.0"/><circle cx="514.8" cy="259.8" r="2.0"/><circle cx="518.0" cy="259.0" r="2.0"/><circle cx="515.0" cy="262.1" r="2.0"/><circle cx="517.4" cy="262.7" r="2.0"/><circle cx="521.5" cy="262.7" r="2.0"/><circle cx="515.0" cy="265.0" r="2.0"/><circle cx="518.0" cy="266.2" r="2.0"/><circle cx="516.2" cy="261.0" r="2.0"/></g><text transform="translate(518.50 251.80) scale(1 1.02)" font-size="9.1" text-anchor="start" fill="#dd2a2a" >DSRCT</text><text transform="translate(0.40 331.80) scale(1 1)" font-size="16" text-anchor="start" fill="#000" >c</text><g stroke="#a2a9dc" stroke-width="1.05" fill="none" stroke-dasharray="11.7 11.7"><path d="M43.8,569.2 H151.6"/><path d="M151.6,325.2 V569.2"/><path d="M227.1,325.2 V569.2"/><path d="M227.1,569.2 H280.3"/></g><path d="M200.2 577.4h1v1h-1zM195.1 579.1h1v1h-1zM204.5 578.8h1v1h-1zM197.5 583.6h1v1h-1zM193.3 572.4h1v1h-1zM208.8 583.9h1v1h-1zM197.6 563.6h1v1h-1zM198.5 576.4h1v1h-1zM208.9 523.8h1v1h-1zM202.6 582.9h1v1h-1zM202.1 565.8h1v1h-1zM212.3 584.1h1v1h-1zM193.7 583.3h1v1h-1zM203.5 582.9h1v1h-1zM192.3 583.9h1v1h-1zM195.0 581.9h1v1h-1zM191.3 582.5h1v1h-1zM204.8 582.5h1v1h-1zM194.3 576.6h1v1h-1zM194.0 572.9h1v1h-1zM195.5 583.8h1v1h-1zM197.7 578.3h1v1h-1zM198.5 576.8h1v1h-1zM192.3 582.1h1v1h-1zM200.4 569.2h1v1h-1zM208.0 550.9h1v1h-1zM194.5 583.7h1v1h-1zM199.0 573.0h1v1h-1zM194.1 580.9h1v1h-1zM199.8 562.9h1v1h-1zM197.1 584.0h1v1h-1zM197.6 580.7h1v1h-1zM207.0 540.5h1v1h-1zM199.6 583.7h1v1h-1zM208.5 572.0h1v1h-1zM193.8 573.7h1v1h-1zM202.1 558.6h1v1h-1zM205.8 579.3h1v1h-1zM202.2 569.0h1v1h-1zM199.5 578.8h1v1h-1zM206.9 583.2h1v1h-1zM191.4 578.7h1v1h-1zM206.6 577.7h1v1h-1zM193.0 581.8h1v1h-1zM198.5 583.9h1v1h-1zM200.2 582.0h1v1h-1zM200.9 571.4h1v1h-1zM207.1 577.9h1v1h-1zM198.5 582.8h1v1h-1zM201.3 564.0h1v1h-1zM209.4 583.5h1v1h-1zM198.7 578.2h1v1h-1zM193.2 582.7h1v1h-1zM195.1 570.4h1v1h-1zM191.6 581.7h1v1h-1zM189.6 584.0h1v1h-1zM200.3 577.6h1v1h-1zM204.6 578.0h1v1h-1zM191.9 584.0h1v1h-1zM200.1 570.9h1v1h-1zM196.1 571.7h1v1h-1zM193.1 577.7h1v1h-1zM204.8 573.2h1v1h-1zM202.4 577.2h1v1h-1zM203.3 569.9h1v1h-1zM210.3 558.6h1v1h-1zM200.4 575.6h1v1h-1zM206.9 582.0h1v1h-1zM190.3 583.6h1v1h-1zM192.4 582.4h1v1h-1zM192.3 582.3h1v1h-1zM214.4 566.0h1v1h-1zM193.4 581.3h1v1h-1zM206.2 575.9h1v1h-1zM194.9 580.6h1v1h-1zM204.6 545.8h1v1h-1zM190.2 581.6h1v1h-1zM216.6 545.5h1v1h-1zM210.0 576.6h1v1h-1zM201.9 549.3h1v1h-1zM197.5 581.0h1v1h-1zM207.0 581.5h1v1h-1zM195.1 582.6h1v1h-1zM191.2 579.5h1v1h-1zM196.7 582.9h1v1h-1zM197.0 581.7h1v1h-1zM193.0 581.3h1v1h-1zM197.9 572.8h1v1h-1zM193.8 573.6h1v1h-1zM205.8 578.1h1v1h-1zM193.4 581.4h1v1h-1zM192.4 582.7h1v1h-1zM197.3 578.0h1v1h-1zM195.2 584.0h1v1h-1zM192.4 574.4h1v1h-1zM210.5 583.9h1v1h-1zM192.8 582.4h1v1h-1zM198.6 563.8h1v1h-1zM198.6 569.5h1v1h-1zM201.8 577.9h1v1h-1zM205.4 582.5h1v1h-1zM207.5 582.9h1v1h-1zM195.0 570.6h1v1h-1zM216.8 578.4h1v1h-1zM190.6 580.8h1v1h-1zM212.4 567.4h1v1h-1zM204.8 571.0h1v1h-1zM198.2 578.3h1v1h-1zM192.3 584.0h1v1h-1zM193.9 581.2h1v1h-1zM199.2 574.8h1v1h-1zM223.9 483.5h1v1h-1zM202.8 583.8h1v1h-1zM191.8 583.9h1v1h-1zM198.0 580.9h1v1h-1zM219.3 576.3h1v1h-1zM205.4 573.1h1v1h-1zM194.3 583.6h1v1h-1zM209.7 576.5h1v1h-1zM194.7 575.8h1v1h-1zM196.8 580.4h1v1h-1zM206.7 583.1h1v1h-1zM203.3 578.6h1v1h-1zM192.3 583.5h1v1h-1zM192.0 578.1h1v1h-1zM193.2 575.9h1v1h-1zM206.4 565.3h1v1h-1zM199.8 581.9h1v1h-1zM194.5 577.6h1v1h-1zM203.4 580.7h1v1h-1zM217.9 517.1h1v1h-1zM192.4 581.4h1v1h-1zM202.2 580.6h1v1h-1zM192.0 574.2h1v1h-1zM208.8 540.9h1v1h-1zM199.6 584.0h1v1h-1zM194.6 583.4h1v1h-1zM199.2 575.2h1v1h-1zM197.7 579.4h1v1h-1zM199.6 583.4h1v1h-1zM201.3 579.1h1v1h-1zM198.1 572.4h1v1h-1zM201.5 577.1h1v1h-1zM198.6 582.5h1v1h-1zM196.5 580.2h1v1h-1zM201.5 583.4h1v1h-1zM190.6 582.8h1v1h-1zM202.5 570.4h1v1h-1zM216.8 553.0h1v1h-1zM196.3 580.1h1v1h-1zM195.0 582.9h1v1h-1zM196.3 581.7h1v1h-1zM197.0 575.5h1v1h-1zM191.2 583.7h1v1h-1zM205.0 575.4h1v1h-1zM191.8 583.4h1v1h-1zM192.1 583.4h1v1h-1zM191.7 582.4h1v1h-1zM204.4 581.7h1v1h-1zM192.4 579.5h1v1h-1zM193.9 576.6h1v1h-1zM204.9 578.2h1v1h-1zM206.8 562.8h1v1h-1zM210.1 572.8h1v1h-1zM200.6 576.6h1v1h-1zM200.5 583.0h1v1h-1zM197.3 580.3h1v1h-1zM195.4 572.5h1v1h-1zM191.1 583.7h1v1h-1zM190.4 583.6h1v1h-1zM190.6 582.2h1v1h-1zM195.6 580.0h1v1h-1zM198.1 577.7h1v1h-1zM222.2 579.9h1v1h-1zM195.9 578.7h1v1h-1zM201.6 580.5h1v1h-1zM193.5 578.5h1v1h-1zM200.5 583.6h1v1h-1zM198.8 576.1h1v1h-1zM205.3 582.3h1v1h-1zM206.3 578.9h1v1h-1zM200.0 583.6h1v1h-1zM193.4 580.1h1v1h-1zM196.9 568.3h1v1h-1zM200.1 582.2h1v1h-1zM202.7 582.8h1v1h-1zM193.4 579.0h1v1h-1zM200.9 546.4h1v1h-1zM192.5 576.4h1v1h-1zM190.8 584.0h1v1h-1zM195.2 582.0h1v1h-1zM190.1 581.1h1v1h-1zM196.3 579.7h1v1h-1zM197.0 572.3h1v1h-1zM195.7 571.6h1v1h-1zM194.0 578.4h1v1h-1zM206.6 583.3h1v1h-1zM196.1 576.2h1v1h-1zM192.2 577.8h1v1h-1zM193.8 570.8h1v1h-1zM201.3 572.1h1v1h-1zM191.2 579.7h1v1h-1zM198.7 566.9h1v1h-1zM200.7 558.3h1v1h-1zM201.6 578.6h1v1h-1zM195.3 566.1h1v1h-1zM200.9 583.5h1v1h-1zM198.4 575.3h1v1h-1zM207.1 566.8h1v1h-1zM193.1 580.7h1v1h-1zM208.9 565.3h1v1h-1zM204.9 573.2h1v1h-1zM191.6 581.8h1v1h-1zM204.3 536.0h1v1h-1zM190.9 580.0h1v1h-1zM198.7 580.5h1v1h-1zM194.1 583.1h1v1h-1zM195.7 578.1h1v1h-1zM204.8 548.6h1v1h-1zM196.5 578.2h1v1h-1zM205.8 576.7h1v1h-1zM210.2 575.8h1v1h-1zM199.4 576.6h1v1h-1zM200.4 583.5h1v1h-1zM206.2 574.9h1v1h-1zM195.6 583.7h1v1h-1zM198.1 581.6h1v1h-1zM208.2 557.3h1v1h-1zM210.5 570.6h1v1h-1zM202.5 569.0h1v1h-1zM196.4 584.1h1v1h-1zM192.6 583.4h1v1h-1zM196.9 583.8h1v1h-1zM200.1 580.3h1v1h-1zM191.6 580.2h1v1h-1zM195.7 581.7h1v1h-1zM205.9 560.7h1v1h-1zM196.2 574.3h1v1h-1zM191.5 579.9h1v1h-1zM199.6 574.5h1v1h-1zM191.4 582.1h1v1h-1zM198.4 572.0h1v1h-1zM198.5 572.1h1v1h-1zM201.7 555.2h1v1h-1zM203.4 573.0h1v1h-1zM193.0 583.6h1v1h-1zM196.1 580.9h1v1h-1zM193.2 582.4h1v1h-1zM208.6 558.9h1v1h-1zM192.7 578.7h1v1h-1zM194.7 581.9h1v1h-1zM201.8 567.2h1v1h-1zM221.8 563.4h1v1h-1zM195.0 573.9h1v1h-1zM194.6 577.7h1v1h-1zM205.7 579.8h1v1h-1zM191.6 583.7h1v1h-1zM199.8 584.1h1v1h-1zM190.5 582.4h1v1h-1zM195.3 574.8h1v1h-1zM196.5 583.2h1v1h-1zM192.5 579.2h1v1h-1zM197.9 579.3h1v1h-1zM203.1 577.1h1v1h-1zM199.6 581.4h1v1h-1zM194.4 575.4h1v1h-1zM194.5 583.7h1v1h-1zM195.6 583.9h1v1h-1zM194.6 568.1h1v1h-1zM196.5 581.2h1v1h-1zM192.3 579.5h1v1h-1zM191.8 580.1h1v1h-1zM204.8 562.0h1v1h-1zM200.8 569.2h1v1h-1zM192.8 581.5h1v1h-1zM195.0 581.0h1v1h-1zM210.4 571.5h1v1h-1zM195.6 580.5h1v1h-1zM191.3 578.6h1v1h-1zM196.6 583.6h1v1h-1zM201.2 569.9h1v1h-1zM196.9 583.1h1v1h-1zM203.6 567.8h1v1h-1zM196.6 583.8h1v1h-1zM199.7 578.0h1v1h-1zM197.3 569.8h1v1h-1zM195.5 578.8h1v1h-1zM194.6 583.1h1v1h-1zM201.8 573.1h1v1h-1zM217.9 571.8h1v1h-1zM212.2 571.2h1v1h-1zM195.4 579.4h1v1h-1zM195.9 583.9h1v1h-1zM189.4 583.1h1v1h-1zM193.6 583.1h1v1h-1zM195.6 570.7h1v1h-1zM196.4 584.0h1v1h-1zM199.4 576.5h1v1h-1zM190.5 583.9h1v1h-1zM193.9 580.7h1v1h-1zM202.4 573.1h1v1h-1zM201.5 567.8h1v1h-1zM196.3 580.5h1v1h-1zM195.3 578.8h1v1h-1zM191.3 580.1h1v1h-1zM189.5 582.5h1v1h-1zM190.2 581.4h1v1h-1zM208.2 575.3h1v1h-1zM196.4 580.1h1v1h-1zM203.2 570.2h1v1h-1zM210.2 582.2h1v1h-1zM189.8 581.5h1v1h-1zM199.7 583.5h1v1h-1zM199.6 584.0h1v1h-1zM199.6 577.4h1v1h-1zM191.5 582.1h1v1h-1zM193.6 576.3h1v1h-1zM195.9 574.1h1v1h-1zM203.7 563.6h1v1h-1zM203.2 578.1h1v1h-1zM200.6 583.1h1v1h-1zM210.7 582.8h1v1h-1zM200.5 576.0h1v1h-1zM214.7 554.1h1v1h-1zM193.2 583.7h1v1h-1zM198.4 584.1h1v1h-1zM192.9 580.0h1v1h-1zM192.0 581.8h1v1h-1zM221.0 571.0h1v1h-1zM195.0 583.9h1v1h-1zM191.6 584.1h1v1h-1zM190.4 582.4h1v1h-1zM201.7 583.8h1v1h-1zM193.7 583.7h1v1h-1zM198.8 581.6h1v1h-1zM190.8 581.0h1v1h-1zM212.5 574.0h1v1h-1zM221.1 564.2h1v1h-1zM196.1 584.1h1v1h-1zM202.0 580.0h1v1h-1zM209.8 584.0h1v1h-1zM209.5 566.7h1v1h-1zM204.8 567.9h1v1h-1zM234.1 570.6h1v1h-1zM199.0 580.4h1v1h-1zM200.2 579.1h1v1h-1zM191.8 580.5h1v1h-1zM196.2 573.0h1v1h-1zM194.4 582.8h1v1h-1zM195.2 584.0h1v1h-1zM196.1 579.8h1v1h-1zM192.0 579.8h1v1h-1zM196.4 565.7h1v1h-1zM198.1 582.6h1v1h-1zM194.3 582.6h1v1h-1zM190.9 578.8h1v1h-1zM200.6 573.5h1v1h-1zM201.7 576.3h1v1h-1zM198.9 577.4h1v1h-1zM196.6 573.9h1v1h-1zM199.9 583.7h1v1h-1zM195.8 575.2h1v1h-1zM202.1 573.2h1v1h-1zM190.0 582.6h1v1h-1zM202.2 581.1h1v1h-1zM214.3 566.4h1v1h-1zM190.8 583.4h1v1h-1zM197.8 577.4h1v1h-1zM199.3 582.5h1v1h-1zM195.9 578.1h1v1h-1zM209.2 567.8h1v1h-1zM197.5 583.9h1v1h-1zM200.7 561.9h1v1h-1zM199.8 563.2h1v1h-1zM192.5 583.3h1v1h-1zM204.9 574.5h1v1h-1zM193.7 584.0h1v1h-1zM194.6 582.4h1v1h-1zM200.2 583.3h1v1h-1zM194.1 581.7h1v1h-1zM194.6 579.5h1v1h-1zM193.6 578.0h1v1h-1zM199.0 577.3h1v1h-1zM192.8 581.1h1v1h-1zM198.9 567.8h1v1h-1zM199.6 578.7h1v1h-1zM191.7 581.3h1v1h-1zM199.6 580.3h1v1h-1zM194.2 583.7h1v1h-1zM194.5 579.5h1v1h-1zM208.6 574.2h1v1h-1zM201.1 580.5h1v1h-1zM192.2 579.4h1v1h-1zM190.5 580.8h1v1h-1zM219.4 571.8h1v1h-1zM195.2 578.5h1v1h-1zM203.2 570.7h1v1h-1zM196.9 572.4h1v1h-1zM189.8 582.1h1v1h-1zM196.5 572.5h1v1h-1zM191.8 580.9h1v1h-1zM206.5 578.1h1v1h-1zM202.1 577.4h1v1h-1zM194.2 575.4h1v1h-1zM196.4 583.3h1v1h-1zM189.6 583.9h1v1h-1zM208.4 577.4h1v1h-1zM199.7 565.6h1v1h-1zM206.2 578.3h1v1h-1zM205.5 584.0h1v1h-1zM195.6 576.8h1v1h-1zM200.8 546.6h1v1h-1zM189.3 584.1h1v1h-1zM194.1 581.2h1v1h-1zM222.8 551.7h1v1h-1zM190.3 580.2h1v1h-1zM195.6 581.7h1v1h-1zM212.5 583.5h1v1h-1zM191.0 583.5h1v1h-1zM211.0 583.1h1v1h-1zM203.0 578.3h1v1h-1zM191.0 579.1h1v1h-1zM196.7 580.1h1v1h-1zM203.3 576.1h1v1h-1zM193.7 580.6h1v1h-1zM192.2 578.6h1v1h-1zM194.3 578.0h1v1h-1zM205.1 566.9h1v1h-1zM204.0 573.2h1v1h-1zM198.8 553.9h1v1h-1zM191.2 578.1h1v1h-1zM209.3 569.2h1v1h-1zM194.4 583.3h1v1h-1zM196.0 582.4h1v1h-1zM200.0 583.7h1v1h-1zM194.0 575.0h1v1h-1zM204.4 567.4h1v1h-1zM197.9 584.0h1v1h-1zM211.7 574.0h1v1h-1zM194.2 575.3h1v1h-1zM198.3 579.3h1v1h-1zM195.3 578.7h1v1h-1zM198.5 576.8h1v1h-1zM191.4 580.6h1v1h-1zM200.3 583.4h1v1h-1zM215.7 575.5h1v1h-1zM198.1 582.5h1v1h-1zM202.3 583.1h1v1h-1zM192.3 582.8h1v1h-1zM208.6 568.1h1v1h-1zM198.5 581.6h1v1h-1zM205.5 582.7h1v1h-1zM203.2 571.8h1v1h-1zM191.1 580.3h1v1h-1zM195.7 583.9h1v1h-1zM195.9 583.6h1v1h-1zM190.7 580.5h1v1h-1zM196.9 582.2h1v1h-1zM204.4 569.4h1v1h-1zM197.3 556.2h1v1h-1zM193.5 579.1h1v1h-1zM200.5 579.2h1v1h-1zM194.0 579.6h1v1h-1zM219.9 552.9h1v1h-1zM200.6 575.0h1v1h-1zM194.9 571.4h1v1h-1zM203.2 539.1h1v1h-1zM205.4 567.1h1v1h-1zM195.3 580.0h1v1h-1zM200.3 577.5h1v1h-1zM206.7 544.3h1v1h-1zM212.1 581.3h1v1h-1zM208.9 555.4h1v1h-1zM193.6 584.0h1v1h-1zM204.1 574.2h1v1h-1zM190.2 583.8h1v1h-1zM208.9 564.5h1v1h-1zM190.8 582.9h1v1h-1zM209.4 543.1h1v1h-1zM193.3 583.9h1v1h-1zM199.2 574.3h1v1h-1zM201.2 581.1h1v1h-1zM190.9 583.2h1v1h-1zM198.9 578.0h1v1h-1zM192.8 579.7h1v1h-1zM201.1 571.7h1v1h-1zM189.5 583.2h1v1h-1zM197.5 577.3h1v1h-1zM193.5 581.5h1v1h-1zM205.8 579.1h1v1h-1zM204.2 571.8h1v1h-1zM190.1 583.4h1v1h-1zM209.4 581.6h1v1h-1zM198.7 570.5h1v1h-1zM199.8 582.5h1v1h-1zM198.5 583.3h1v1h-1zM191.6 580.6h1v1h-1zM191.6 582.9h1v1h-1zM214.6 574.8h1v1h-1zM192.7 583.2h1v1h-1zM202.7 555.5h1v1h-1zM196.9 580.2h1v1h-1zM196.9 577.3h1v1h-1zM199.8 552.2h1v1h-1zM197.6 584.0h1v1h-1zM192.2 583.5h1v1h-1zM198.5 584.0h1v1h-1zM195.6 583.8h1v1h-1zM197.5 580.4h1v1h-1zM198.7 578.1h1v1h-1zM191.8 581.2h1v1h-1zM199.7 574.4h1v1h-1zM192.2 575.8h1v1h-1zM192.6 582.2h1v1h-1zM199.2 576.5h1v1h-1zM191.1 581.5h1v1h-1zM201.5 580.7h1v1h-1zM194.3 572.7h1v1h-1zM204.2 569.3h1v1h-1zM199.3 580.8h1v1h-1zM191.9 574.9h1v1h-1zM198.9 563.7h1v1h-1zM200.8 564.2h1v1h-1zM202.2 556.5h1v1h-1zM208.7 569.5h1v1h-1zM200.4 581.0h1v1h-1zM195.8 566.7h1v1h-1zM213.0 554.3h1v1h-1zM208.5 539.5h1v1h-1zM191.0 581.8h1v1h-1zM211.1 582.6h1v1h-1zM207.3 567.1h1v1h-1zM209.3 552.3h1v1h-1zM189.5 583.9h1v1h-1zM196.5 572.4h1v1h-1zM199.6 581.8h1v1h-1zM201.6 566.4h1v1h-1zM196.4 573.4h1v1h-1zM192.0 581.8h1v1h-1zM191.0 577.8h1v1h-1zM206.4 581.6h1v1h-1zM200.6 583.8h1v1h-1zM193.8 581.4h1v1h-1zM190.1 583.1h1v1h-1zM212.2 553.2h1v1h-1zM197.6 575.5h1v1h-1zM190.1 583.7h1v1h-1zM200.4 570.0h1v1h-1zM204.9 578.2h1v1h-1zM195.2 577.0h1v1h-1zM194.3 580.6h1v1h-1zM193.7 574.7h1v1h-1zM194.6 572.5h1v1h-1zM206.0 583.4h1v1h-1zM195.0 577.4h1v1h-1zM201.9 576.7h1v1h-1zM213.4 580.6h1v1h-1zM191.3 578.9h1v1h-1zM205.4 581.2h1v1h-1zM196.7 579.9h1v1h-1zM194.9 578.2h1v1h-1zM206.3 578.9h1v1h-1zM195.2 571.8h1v1h-1zM201.6 569.8h1v1h-1zM203.4 575.1h1v1h-1zM203.4 570.5h1v1h-1zM190.9 580.8h1v1h-1zM229.8 578.5h1v1h-1zM196.8 574.4h1v1h-1zM201.6 570.3h1v1h-1zM201.8 577.3h1v1h-1zM193.5 582.5h1v1h-1zM195.2 569.7h1v1h-1zM201.9 579.4h1v1h-1zM196.6 574.4h1v1h-1zM193.5 577.3h1v1h-1zM217.0 574.8h1v1h-1zM196.3 580.1h1v1h-1zM208.9 582.2h1v1h-1zM198.4 582.5h1v1h-1zM202.1 583.7h1v1h-1zM205.3 581.7h1v1h-1zM205.6 581.5h1v1h-1zM192.3 579.5h1v1h-1zM201.2 577.6h1v1h-1zM193.2 573.7h1v1h-1zM195.6 582.3h1v1h-1zM202.3 578.8h1v1h-1zM197.3 579.2h1v1h-1zM197.5 560.4h1v1h-1zM204.6 574.3h1v1h-1zM198.1 583.7h1v1h-1zM205.0 537.8h1v1h-1zM191.4 583.9h1v1h-1zM192.7 580.6h1v1h-1zM197.5 580.3h1v1h-1zM189.5 582.7h1v1h-1zM190.9 583.0h1v1h-1zM198.4 577.1h1v1h-1zM211.0 573.3h1v1h-1zM199.8 581.1h1v1h-1zM191.7 575.7h1v1h-1zM204.2 583.3h1v1h-1zM193.1 580.9h1v1h-1zM193.1 571.4h1v1h-1zM202.1 575.2h1v1h-1zM204.6 556.5h1v1h-1zM194.7 575.4h1v1h-1zM199.8 562.2h1v1h-1zM189.2 584.0h1v1h-1zM197.9 582.8h1v1h-1zM195.7 574.2h1v1h-1zM194.0 577.2h1v1h-1zM196.1 579.1h1v1h-1zM189.8 584.0h1v1h-1zM193.7 579.6h1v1h-1zM190.6 582.9h1v1h-1zM204.8 583.6h1v1h-1zM194.0 584.0h1v1h-1zM198.7 580.5h1v1h-1zM194.9 572.9h1v1h-1zM191.6 578.8h1v1h-1zM197.8 577.2h1v1h-1zM202.4 556.5h1v1h-1zM196.2 580.3h1v1h-1zM209.2 540.9h1v1h-1zM196.4 580.4h1v1h-1zM197.2 583.9h1v1h-1zM190.4 582.3h1v1h-1zM204.5 581.9h1v1h-1zM192.9 581.9h1v1h-1zM191.3 582.1h1v1h-1zM194.0 568.9h1v1h-1zM202.2 584.0h1v1h-1zM195.1 583.3h1v1h-1zM190.9 582.0h1v1h-1zM195.3 581.6h1v1h-1zM193.1 582.1h1v1h-1zM199.3 580.4h1v1h-1zM194.0 580.1h1v1h-1zM195.1 578.6h1v1h-1zM193.7 574.5h1v1h-1zM189.1 584.0h1v1h-1zM207.6 576.6h1v1h-1zM194.8 568.4h1v1h-1zM211.4 573.8h1v1h-1zM210.2 574.6h1v1h-1zM191.3 576.4h1v1h-1zM200.7 582.5h1v1h-1zM195.1 579.8h1v1h-1zM198.1 577.5h1v1h-1zM192.9 573.0h1v1h-1zM189.5 584.1h1v1h-1zM190.0 580.5h1v1h-1zM190.3 583.4h1v1h-1zM207.9 562.6h1v1h-1zM189.9 582.8h1v1h-1zM199.2 582.3h1v1h-1zM191.0 581.6h1v1h-1zM191.6 581.9h1v1h-1zM195.7 571.7h1v1h-1zM195.7 577.3h1v1h-1zM190.6 580.8h1v1h-1zM191.4 583.1h1v1h-1zM194.7 573.9h1v1h-1zM197.5 569.7h1v1h-1zM203.4 574.4h1v1h-1zM219.3 567.6h1v1h-1zM197.1 584.1h1v1h-1zM195.2 583.7h1v1h-1zM207.0 532.5h1v1h-1zM205.0 567.5h1v1h-1zM192.3 582.1h1v1h-1zM189.3 583.2h1v1h-1zM190.1 583.0h1v1h-1zM200.3 579.0h1v1h-1zM193.5 584.0h1v1h-1zM202.0 559.6h1v1h-1zM206.5 577.6h1v1h-1zM192.6 582.4h1v1h-1zM207.1 583.7h1v1h-1zM192.9 582.6h1v1h-1zM216.2 580.1h1v1h-1zM204.6 555.6h1v1h-1zM206.8 558.2h1v1h-1zM191.7 575.3h1v1h-1zM192.1 580.9h1v1h-1zM196.1 577.5h1v1h-1zM193.9 582.4h1v1h-1zM194.4 576.5h1v1h-1zM194.2 579.1h1v1h-1zM195.1 574.0h1v1h-1zM201.8 573.7h1v1h-1zM191.2 582.2h1v1h-1zM194.3 580.0h1v1h-1zM203.6 578.7h1v1h-1zM196.6 580.8h1v1h-1zM192.7 583.2h1v1h-1zM191.9 583.4h1v1h-1zM207.3 582.0h1v1h-1zM202.5 580.5h1v1h-1zM195.8 583.6h1v1h-1zM200.1 584.0h1v1h-1zM196.9 584.0h1v1h-1zM197.3 561.7h1v1h-1zM195.5 573.9h1v1h-1zM191.7 582.2h1v1h-1zM197.1 558.9h1v1h-1zM208.9 567.4h1v1h-1zM193.4 579.8h1v1h-1zM209.7 566.9h1v1h-1zM196.2 583.8h1v1h-1zM193.1 577.2h1v1h-1zM193.3 570.0h1v1h-1zM192.8 583.0h1v1h-1zM208.3 574.2h1v1h-1zM190.7 580.3h1v1h-1zM202.1 583.2h1v1h-1zM193.2 584.1h1v1h-1zM203.7 564.7h1v1h-1zM200.1 568.5h1v1h-1zM191.8 582.3h1v1h-1zM190.4 581.6h1v1h-1zM204.8 576.5h1v1h-1zM191.9 580.6h1v1h-1zM196.6 583.4h1v1h-1zM201.8 583.9h1v1h-1zM196.9 582.8h1v1h-1zM190.5 583.5h1v1h-1zM200.5 569.8h1v1h-1zM190.1 582.3h1v1h-1zM197.7 580.2h1v1h-1zM216.2 565.7h1v1h-1zM202.7 582.0h1v1h-1zM206.9 578.6h1v1h-1zM195.7 581.6h1v1h-1zM192.1 581.8h1v1h-1zM192.8 574.1h1v1h-1zM209.2 583.8h1v1h-1zM196.7 578.4h1v1h-1zM194.1 583.9h1v1h-1zM197.9 583.1h1v1h-1zM206.6 583.5h1v1h-1zM217.4 577.6h1v1h-1zM199.1 581.0h1v1h-1zM201.5 576.4h1v1h-1zM207.8 577.5h1v1h-1zM193.3 575.9h1v1h-1zM194.6 573.5h1v1h-1zM193.9 583.9h1v1h-1zM191.2 582.4h1v1h-1zM199.9 571.1h1v1h-1zM196.1 560.7h1v1h-1zM189.6 583.2h1v1h-1zM193.3 580.1h1v1h-1zM193.4 582.9h1v1h-1zM191.9 580.6h1v1h-1zM200.4 582.0h1v1h-1zM203.6 554.4h1v1h-1zM196.7 582.8h1v1h-1zM198.2 583.7h1v1h-1zM191.1 581.5h1v1h-1zM192.1 581.0h1v1h-1zM203.8 580.8h1v1h-1zM196.3 568.9h1v1h-1zM194.1 580.6h1v1h-1zM196.1 582.3h1v1h-1zM208.9 581.3h1v1h-1zM202.8 563.2h1v1h-1zM220.0 583.2h1v1h-1zM207.2 583.4h1v1h-1zM192.4 577.5h1v1h-1zM210.0 575.7h1v1h-1zM198.0 580.4h1v1h-1zM193.3 571.5h1v1h-1zM189.7 583.4h1v1h-1zM193.7 570.9h1v1h-1zM193.8 573.7h1v1h-1zM190.6 583.8h1v1h-1zM200.0 557.3h1v1h-1zM206.8 565.8h1v1h-1zM212.8 583.9h1v1h-1zM196.1 562.1h1v1h-1zM192.9 573.2h1v1h-1zM207.5 562.9h1v1h-1zM190.1 582.3h1v1h-1zM192.0 578.9h1v1h-1zM193.7 580.8h1v1h-1zM198.5 566.6h1v1h-1zM198.9 584.0h1v1h-1zM214.3 576.7h1v1h-1zM191.9 580.2h1v1h-1zM216.8 561.8h1v1h-1zM208.2 563.8h1v1h-1zM198.0 582.2h1v1h-1zM210.9 545.8h1v1h-1zM192.6 582.8h1v1h-1zM196.2 580.1h1v1h-1zM213.3 572.0h1v1h-1zM191.0 580.9h1v1h-1zM193.5 583.1h1v1h-1zM217.2 577.5h1v1h-1zM199.3 583.9h1v1h-1zM200.6 583.7h1v1h-1zM200.0 570.0h1v1h-1zM204.7 567.8h1v1h-1zM195.7 580.4h1v1h-1zM212.6 581.0h1v1h-1zM205.0 539.7h1v1h-1zM194.7 573.6h1v1h-1zM190.5 583.2h1v1h-1zM192.4 578.4h1v1h-1zM196.8 564.7h1v1h-1zM194.4 570.7h1v1h-1zM193.8 571.2h1v1h-1zM208.3 546.3h1v1h-1zM192.7 580.9h1v1h-1zM190.8 583.6h1v1h-1zM199.8 583.9h1v1h-1zM221.2 583.0h1v1h-1zM195.8 580.7h1v1h-1zM202.2 578.6h1v1h-1zM193.3 570.2h1v1h-1zM191.5 582.8h1v1h-1zM199.8 583.4h1v1h-1zM206.0 553.8h1v1h-1zM195.5 582.0h1v1h-1zM202.4 583.8h1v1h-1zM198.5 579.5h1v1h-1zM199.1 582.5h1v1h-1zM201.0 583.9h1v1h-1zM195.5 583.8h1v1h-1zM215.4 557.2h1v1h-1zM205.5 577.8h1v1h-1zM197.0 575.9h1v1h-1zM219.1 545.7h1v1h-1zM205.3 576.9h1v1h-1zM199.5 579.7h1v1h-1zM194.8 578.1h1v1h-1zM207.2 575.7h1v1h-1zM195.3 581.4h1v1h-1zM193.0 579.0h1v1h-1zM200.3 561.8h1v1h-1zM198.4 574.4h1v1h-1zM200.4 583.9h1v1h-1zM206.8 582.2h1v1h-1zM192.3 580.2h1v1h-1zM189.3 583.8h1v1h-1zM202.4 581.0h1v1h-1zM199.5 576.3h1v1h-1zM203.6 561.6h1v1h-1zM196.2 577.8h1v1h-1zM189.4 583.3h1v1h-1zM193.5 582.4h1v1h-1zM198.6 579.1h1v1h-1zM208.2 573.9h1v1h-1zM196.1 580.4h1v1h-1zM199.0 562.0h1v1h-1zM195.1 584.0h1v1h-1zM202.0 573.8h1v1h-1zM192.0 575.1h1v1h-1zM201.8 560.0h1v1h-1zM197.5 574.6h1v1h-1zM190.6 583.8h1v1h-1zM195.2 582.9h1v1h-1zM202.7 577.5h1v1h-1zM194.3 577.2h1v1h-1zM218.7 543.4h1v1h-1zM204.4 578.1h1v1h-1zM195.5 581.8h1v1h-1zM197.9 576.5h1v1h-1zM194.8 583.9h1v1h-1zM206.9 573.5h1v1h-1zM198.5 573.0h1v1h-1zM193.6 578.0h1v1h-1zM199.1 580.4h1v1h-1zM195.6 582.1h1v1h-1zM204.7 576.0h1v1h-1zM204.3 565.4h1v1h-1zM194.9 581.7h1v1h-1zM204.1 573.8h1v1h-1zM194.0 574.4h1v1h-1zM191.9 580.6h1v1h-1zM191.3 582.9h1v1h-1zM191.7 580.3h1v1h-1zM208.8 566.5h1v1h-1zM205.5 542.4h1v1h-1zM196.9 577.7h1v1h-1zM203.7 567.5h1v1h-1zM195.0 575.9h1v1h-1zM229.2 550.9h1v1h-1zM189.5 583.5h1v1h-1zM192.7 576.5h1v1h-1zM190.3 583.8h1v1h-1zM210.6 572.5h1v1h-1zM199.7 582.6h1v1h-1zM206.2 580.3h1v1h-1zM190.5 581.7h1v1h-1zM193.3 576.3h1v1h-1zM209.1 568.7h1v1h-1zM193.6 574.4h1v1h-1zM192.2 584.0h1v1h-1zM194.2 582.2h1v1h-1zM208.0 525.9h1v1h-1zM200.3 575.5h1v1h-1zM202.6 581.9h1v1h-1zM194.1 581.8h1v1h-1zM219.6 565.4h1v1h-1zM200.5 577.6h1v1h-1zM200.6 577.3h1v1h-1zM201.1 578.6h1v1h-1zM189.9 582.3h1v1h-1zM202.2 580.7h1v1h-1zM200.7 567.2h1v1h-1zM199.1 581.9h1v1h-1zM192.7 582.2h1v1h-1zM207.3 584.0h1v1h-1zM201.1 584.0h1v1h-1zM194.8 583.6h1v1h-1zM194.2 575.9h1v1h-1zM193.4 573.9h1v1h-1zM194.6 575.9h1v1h-1zM198.4 572.9h1v1h-1zM199.2 575.7h1v1h-1zM199.7 564.6h1v1h-1zM199.5 582.9h1v1h-1zM200.1 573.6h1v1h-1zM196.1 580.1h1v1h-1zM200.7 582.2h1v1h-1zM200.0 567.9h1v1h-1zM196.3 575.6h1v1h-1zM197.2 578.1h1v1h-1zM210.4 582.7h1v1h-1zM200.6 558.3h1v1h-1zM196.7 580.9h1v1h-1zM196.1 571.7h1v1h-1zM196.7 581.9h1v1h-1zM198.1 571.6h1v1h-1zM201.3 582.2h1v1h-1zM207.0 553.5h1v1h-1zM202.3 578.5h1v1h-1zM196.7 572.2h1v1h-1zM201.7 581.6h1v1h-1zM201.7 582.6h1v1h-1zM191.2 581.7h1v1h-1zM194.5 570.7h1v1h-1zM203.0 573.4h1v1h-1zM216.5 550.5h1v1h-1zM196.6 578.5h1v1h-1zM194.3 583.9h1v1h-1zM212.5 579.3h1v1h-1zM204.9 570.6h1v1h-1zM200.8 572.8h1v1h-1zM210.5 576.0h1v1h-1zM200.8 563.7h1v1h-1zM211.2 576.6h1v1h-1zM201.4 580.7h1v1h-1zM229.0 581.0h1v1h-1zM204.1 579.7h1v1h-1zM189.4 583.9h1v1h-1zM199.3 583.8h1v1h-1zM203.3 582.7h1v1h-1zM198.1 580.2h1v1h-1zM192.7 583.9h1v1h-1zM196.9 583.4h1v1h-1zM227.1 583.2h1v1h-1zM211.7 569.5h1v1h-1zM199.5 582.0h1v1h-1zM197.0 581.2h1v1h-1zM194.7 580.9h1v1h-1zM200.6 548.0h1v1h-1zM200.3 552.8h1v1h-1zM195.0 577.3h1v1h-1zM200.7 578.3h1v1h-1zM194.9 581.0h1v1h-1zM201.6 573.7h1v1h-1zM191.3 576.5h1v1h-1zM192.0 580.6h1v1h-1zM197.0 562.2h1v1h-1zM201.8 554.7h1v1h-1zM194.4 582.7h1v1h-1zM203.5 583.7h1v1h-1zM197.1 573.0h1v1h-1zM198.3 583.7h1v1h-1zM192.4 583.6h1v1h-1zM196.7 578.4h1v1h-1zM207.1 577.2h1v1h-1zM197.4 569.5h1v1h-1zM192.2 582.0h1v1h-1zM199.3 580.0h1v1h-1zM195.3 578.2h1v1h-1zM200.6 564.0h1v1h-1zM195.1 581.5h1v1h-1zM190.2 581.0h1v1h-1zM203.2 582.9h1v1h-1zM210.6 577.3h1v1h-1zM224.6 564.4h1v1h-1zM191.3 577.6h1v1h-1zM194.6 574.3h1v1h-1zM208.4 581.3h1v1h-1zM202.4 548.5h1v1h-1zM204.4 581.5h1v1h-1zM195.8 579.1h1v1h-1zM222.3 567.0h1v1h-1zM200.7 583.0h1v1h-1zM198.1 583.9h1v1h-1zM196.4 583.3h1v1h-1zM197.3 583.5h1v1h-1zM192.1 576.6h1v1h-1zM193.1 575.1h1v1h-1zM216.9 557.2h1v1h-1zM193.7 581.0h1v1h-1zM196.5 573.4h1v1h-1zM193.8 581.4h1v1h-1zM191.5 580.3h1v1h-1zM204.0 568.1h1v1h-1zM193.7 583.8h1v1h-1zM202.2 583.1h1v1h-1zM207.2 556.7h1v1h-1zM196.8 567.5h1v1h-1zM200.8 583.9h1v1h-1zM204.5 580.3h1v1h-1zM193.7 582.9h1v1h-1zM199.2 574.1h1v1h-1zM196.5 576.2h1v1h-1zM199.9 583.8h1v1h-1zM204.5 580.6h1v1h-1zM198.7 579.1h1v1h-1zM198.0 572.8h1v1h-1zM193.8 574.1h1v1h-1zM195.3 581.4h1v1h-1zM193.0 575.3h1v1h-1zM189.9 581.4h1v1h-1zM198.2 561.6h1v1h-1zM198.5 582.5h1v1h-1zM196.0 583.9h1v1h-1zM198.0 560.9h1v1h-1zM210.9 546.7h1v1h-1zM209.7 583.1h1v1h-1zM193.1 581.2h1v1h-1zM200.7 576.4h1v1h-1zM202.4 579.3h1v1h-1zM190.4 583.9h1v1h-1zM202.3 565.8h1v1h-1zM194.1 569.8h1v1h-1zM206.7 574.1h1v1h-1zM193.4 575.6h1v1h-1zM195.7 580.0h1v1h-1zM199.2 584.1h1v1h-1zM197.3 582.8h1v1h-1zM198.3 583.0h1v1h-1zM199.8 576.3h1v1h-1zM199.1 577.8h1v1h-1zM202.4 583.9h1v1h-1zM203.5 574.8h1v1h-1zM207.7 559.3h1v1h-1zM192.6 572.4h1v1h-1zM206.0 558.0h1v1h-1zM190.7 583.0h1v1h-1zM210.5 583.5h1v1h-1zM200.6 582.7h1v1h-1zM196.2 582.6h1v1h-1zM191.2 579.1h1v1h-1zM195.9 567.6h1v1h-1zM194.8 576.6h1v1h-1zM191.4 580.5h1v1h-1zM195.8 566.9h1v1h-1zM194.5 574.3h1v1h-1zM199.1 583.7h1v1h-1zM207.1 572.6h1v1h-1zM207.6 575.1h1v1h-1zM197.1 573.6h1v1h-1zM190.6 583.1h1v1h-1zM192.4 584.0h1v1h-1zM193.9 577.8h1v1h-1zM196.7 582.7h1v1h-1zM197.3 582.1h1v1h-1zM194.8 577.4h1v1h-1zM202.9 583.0h1v1h-1zM202.9 577.7h1v1h-1zM192.8 578.3h1v1h-1zM192.6 582.2h1v1h-1zM193.8 584.0h1v1h-1zM199.2 564.2h1v1h-1zM193.3 579.9h1v1h-1zM197.3 564.2h1v1h-1zM189.9 581.9h1v1h-1zM198.9 578.0h1v1h-1zM204.4 582.5h1v1h-1zM210.2 570.2h1v1h-1zM207.7 583.6h1v1h-1zM208.4 576.7h1v1h-1zM214.8 537.9h1v1h-1zM220.0 566.5h1v1h-1zM193.4 583.8h1v1h-1zM206.5 576.7h1v1h-1zM198.1 567.8h1v1h-1zM196.0 584.1h1v1h-1zM190.6 582.9h1v1h-1zM203.8 583.5h1v1h-1zM190.8 578.9h1v1h-1zM210.3 580.8h1v1h-1zM195.2 582.0h1v1h-1zM197.3 582.6h1v1h-1zM195.5 570.0h1v1h-1zM234.6 579.9h1v1h-1zM192.1 574.8h1v1h-1zM196.0 567.3h1v1h-1zM203.2 577.7h1v1h-1zM199.3 577.2h1v1h-1zM194.2 576.3h1v1h-1zM217.0 531.4h1v1h-1zM201.3 543.0h1v1h-1zM195.0 577.4h1v1h-1zM200.4 582.4h1v1h-1zM206.8 583.8h1v1h-1zM212.3 578.8h1v1h-1zM193.0 581.2h1v1h-1zM197.5 580.2h1v1h-1zM200.2 575.1h1v1h-1zM201.9 580.7h1v1h-1zM205.6 583.7h1v1h-1zM194.0 581.5h1v1h-1zM200.0 583.4h1v1h-1zM208.8 561.1h1v1h-1zM202.7 578.8h1v1h-1zM193.8 582.6h1v1h-1zM222.3 573.0h1v1h-1zM197.5 583.2h1v1h-1zM194.5 582.3h1v1h-1zM194.6 569.6h1v1h-1zM192.4 578.8h1v1h-1zM205.3 574.2h1v1h-1zM190.5 583.3h1v1h-1zM204.0 583.6h1v1h-1zM196.0 576.5h1v1h-1zM189.4 583.6h1v1h-1zM212.5 583.8h1v1h-1zM205.6 582.7h1v1h-1zM212.8 547.2h1v1h-1zM208.0 579.9h1v1h-1zM202.3 568.2h1v1h-1zM201.2 578.0h1v1h-1zM193.6 577.5h1v1h-1zM203.1 573.1h1v1h-1zM204.2 584.0h1v1h-1zM197.6 583.2h1v1h-1zM204.2 578.6h1v1h-1zM215.5 566.7h1v1h-1zM194.5 569.2h1v1h-1zM202.2 571.5h1v1h-1zM200.3 570.5h1v1h-1zM205.0 582.8h1v1h-1zM193.1 582.2h1v1h-1zM205.4 582.7h1v1h-1zM193.2 576.2h1v1h-1zM201.5 567.1h1v1h-1zM211.9 579.8h1v1h-1zM190.6 583.4h1v1h-1zM191.3 582.5h1v1h-1zM190.9 578.7h1v1h-1zM199.3 581.1h1v1h-1zM200.4 583.8h1v1h-1zM201.1 575.1h1v1h-1zM195.6 582.4h1v1h-1zM209.8 567.3h1v1h-1zM196.9 569.0h1v1h-1zM196.5 576.4h1v1h-1zM202.8 577.8h1v1h-1zM198.8 583.4h1v1h-1zM202.9 547.1h1v1h-1zM197.5 581.2h1v1h-1zM195.8 576.9h1v1h-1zM198.2 582.7h1v1h-1zM191.6 578.3h1v1h-1zM197.2 584.0h1v1h-1zM205.9 547.1h1v1h-1zM193.6 578.4h1v1h-1zM198.2 580.7h1v1h-1zM197.1 575.2h1v1h-1zM203.2 574.2h1v1h-1zM197.3 579.0h1v1h-1zM191.7 582.6h1v1h-1zM205.4 562.7h1v1h-1zM196.1 582.4h1v1h-1zM216.3 540.0h1v1h-1zM200.7 557.8h1v1h-1zM208.3 558.4h1v1h-1zM205.6 571.0h1v1h-1zM208.2 556.0h1v1h-1zM191.9 577.9h1v1h-1zM190.1 580.7h1v1h-1zM204.4 562.1h1v1h-1zM194.6 577.3h1v1h-1zM208.7 556.0h1v1h-1zM192.6 582.6h1v1h-1zM200.2 581.9h1v1h-1zM194.8 573.5h1v1h-1zM207.1 570.5h1v1h-1zM191.5 583.5h1v1h-1zM216.8 574.7h1v1h-1zM194.5 580.9h1v1h-1zM201.3 579.8h1v1h-1zM209.2 570.8h1v1h-1zM198.5 568.1h1v1h-1zM214.6 582.8h1v1h-1zM199.5 581.6h1v1h-1zM193.0 576.0h1v1h-1zM194.1 580.9h1v1h-1zM190.9 582.8h1v1h-1zM193.8 580.1h1v1h-1zM192.4 582.5h1v1h-1zM204.5 562.8h1v1h-1zM197.1 578.9h1v1h-1zM197.1 576.7h1v1h-1zM215.3 562.5h1v1h-1zM209.5 570.5h1v1h-1zM209.3 569.3h1v1h-1zM190.2 579.8h1v1h-1zM194.8 568.3h1v1h-1zM195.4 581.9h1v1h-1zM191.7 578.5h1v1h-1zM189.2 583.7h1v1h-1zM191.2 578.8h1v1h-1zM191.4 581.1h1v1h-1zM193.8 579.3h1v1h-1zM197.3 575.7h1v1h-1zM201.9 558.4h1v1h-1zM199.5 574.9h1v1h-1zM196.6 580.8h1v1h-1zM194.2 582.5h1v1h-1zM202.9 573.9h1v1h-1zM195.2 574.8h1v1h-1zM194.3 570.7h1v1h-1zM200.7 580.1h1v1h-1zM199.6 583.3h1v1h-1zM199.8 568.3h1v1h-1zM207.6 559.9h1v1h-1zM194.5 574.9h1v1h-1zM190.2 581.1h1v1h-1zM192.5 583.8h1v1h-1zM197.7 578.9h1v1h-1zM226.6 580.1h1v1h-1zM198.2 575.8h1v1h-1zM200.6 579.9h1v1h-1zM206.7 574.8h1v1h-1zM199.6 576.9h1v1h-1zM205.4 545.6h1v1h-1zM209.1 567.5h1v1h-1zM191.6 580.3h1v1h-1zM193.4 569.4h1v1h-1zM198.9 567.3h1v1h-1zM190.6 582.8h1v1h-1zM191.4 581.8h1v1h-1zM203.7 584.1h1v1h-1zM198.9 584.1h1v1h-1zM197.0 572.5h1v1h-1zM192.2 578.6h1v1h-1zM199.3 580.3h1v1h-1zM210.2 564.6h1v1h-1zM196.0 583.0h1v1h-1zM193.3 583.4h1v1h-1zM202.0 575.6h1v1h-1zM191.4 582.3h1v1h-1zM204.0 568.9h1v1h-1zM198.7 574.9h1v1h-1zM189.4 583.9h1v1h-1zM198.9 578.8h1v1h-1zM190.7 579.4h1v1h-1zM195.1 583.5h1v1h-1zM202.7 580.9h1v1h-1zM195.8 580.8h1v1h-1zM197.6 568.6h1v1h-1zM195.5 579.3h1v1h-1zM196.2 583.0h1v1h-1zM205.9 573.8h1v1h-1zM194.4 578.3h1v1h-1zM196.0 576.4h1v1h-1zM191.5 577.0h1v1h-1zM193.8 584.0h1v1h-1zM196.0 582.6h1v1h-1zM199.6 559.7h1v1h-1zM203.1 581.3h1v1h-1zM204.6 583.9h1v1h-1zM200.5 582.8h1v1h-1zM199.2 577.1h1v1h-1zM192.2 583.4h1v1h-1zM203.7 577.8h1v1h-1zM216.0 550.4h1v1h-1zM196.4 582.7h1v1h-1zM201.2 583.7h1v1h-1zM195.6 571.4h1v1h-1zM191.3 580.0h1v1h-1zM195.7 580.1h1v1h-1zM197.4 575.8h1v1h-1zM202.7 582.2h1v1h-1zM195.5 580.5h1v1h-1zM210.5 567.8h1v1h-1zM199.3 551.3h1v1h-1zM214.4 575.5h1v1h-1zM196.4 574.2h1v1h-1zM195.0 575.3h1v1h-1zM193.7 583.1h1v1h-1zM207.7 534.3h1v1h-1zM191.0 582.4h1v1h-1zM199.6 583.3h1v1h-1zM193.3 580.9h1v1h-1zM211.5 569.0h1v1h-1zM208.9 575.6h1v1h-1zM215.4 581.8h1v1h-1zM195.5 574.2h1v1h-1zM199.5 573.5h1v1h-1zM192.9 583.8h1v1h-1zM192.3 580.8h1v1h-1zM211.2 576.9h1v1h-1zM198.4 576.8h1v1h-1zM193.6 579.2h1v1h-1zM216.1 559.6h1v1h-1zM193.9 580.6h1v1h-1zM195.2 579.4h1v1h-1zM194.9 581.8h1v1h-1zM198.1 574.3h1v1h-1zM202.7 581.1h1v1h-1zM193.6 583.9h1v1h-1zM192.5 574.5h1v1h-1zM193.7 582.2h1v1h-1zM195.7 569.2h1v1h-1zM199.5 575.3h1v1h-1zM191.9 582.3h1v1h-1zM201.8 583.1h1v1h-1zM223.9 584.0h1v1h-1zM201.9 575.8h1v1h-1zM204.2 582.5h1v1h-1zM204.0 583.4h1v1h-1zM196.1 566.4h1v1h-1zM192.7 584.1h1v1h-1zM194.6 576.7h1v1h-1zM213.5 556.5h1v1h-1zM199.7 568.3h1v1h-1zM194.0 573.3h1v1h-1zM195.4 578.7h1v1h-1zM210.3 532.6h1v1h-1zM196.3 580.6h1v1h-1zM196.4 583.6h1v1h-1zM196.0 575.8h1v1h-1zM194.8 582.5h1v1h-1zM200.1 581.9h1v1h-1zM194.6 572.1h1v1h-1zM210.5 550.0h1v1h-1zM195.3 581.6h1v1h-1zM203.0 580.6h1v1h-1zM203.8 552.5h1v1h-1zM192.7 584.1h1v1h-1zM204.5 581.6h1v1h-1zM197.6 578.1h1v1h-1zM197.2 579.8h1v1h-1zM192.1 582.9h1v1h-1zM190.7 583.9h1v1h-1zM204.1 563.2h1v1h-1zM189.4 583.3h1v1h-1zM191.6 580.7h1v1h-1zM192.0 582.3h1v1h-1zM193.1 583.9h1v1h-1zM193.5 572.9h1v1h-1zM197.6 578.9h1v1h-1zM193.7 575.2h1v1h-1zM217.1 542.6h1v1h-1zM192.9 579.2h1v1h-1zM199.6 580.1h1v1h-1zM197.4 579.9h1v1h-1zM198.6 570.8h1v1h-1zM198.8 579.9h1v1h-1zM197.1 566.1h1v1h-1zM197.3 565.9h1v1h-1zM196.2 571.9h1v1h-1zM192.6 583.4h1v1h-1zM192.9 575.6h1v1h-1zM206.2 569.2h1v1h-1zM201.2 583.1h1v1h-1zM204.2 581.4h1v1h-1zM210.7 579.0h1v1h-1zM199.4 576.3h1v1h-1zM206.8 572.2h1v1h-1zM193.4 575.1h1v1h-1zM198.2 581.9h1v1h-1zM203.6 571.1h1v1h-1zM203.9 583.1h1v1h-1zM202.8 541.5h1v1h-1zM191.1 577.4h1v1h-1zM206.1 565.6h1v1h-1zM191.7 583.3h1v1h-1zM206.1 583.7h1v1h-1zM192.1 577.5h1v1h-1zM192.0 582.4h1v1h-1zM199.0 574.7h1v1h-1zM192.1 583.3h1v1h-1zM200.3 583.7h1v1h-1zM192.5 581.1h1v1h-1zM190.0 583.9h1v1h-1zM210.3 580.3h1v1h-1zM198.9 580.0h1v1h-1zM192.5 576.9h1v1h-1zM204.5 561.3h1v1h-1zM191.4 584.0h1v1h-1zM201.1 569.0h1v1h-1zM207.4 577.1h1v1h-1zM207.8 551.8h1v1h-1zM206.8 558.5h1v1h-1zM196.3 580.7h1v1h-1zM201.7 578.2h1v1h-1zM196.8 569.6h1v1h-1zM214.2 573.4h1v1h-1zM195.6 582.9h1v1h-1zM194.1 583.5h1v1h-1zM203.5 576.4h1v1h-1zM211.8 561.8h1v1h-1zM215.1 553.0h1v1h-1zM191.5 581.9h1v1h-1zM192.5 575.6h1v1h-1zM195.0 580.3h1v1h-1zM195.8 581.2h1v1h-1zM191.5 583.5h1v1h-1zM201.0 581.6h1v1h-1zM194.9 569.1h1v1h-1zM193.7 582.8h1v1h-1zM189.8 583.7h1v1h-1zM210.6 567.0h1v1h-1zM193.4 583.9h1v1h-1zM202.6 577.9h1v1h-1zM209.0 578.9h1v1h-1zM197.3 571.7h1v1h-1zM203.1 579.7h1v1h-1zM198.4 575.0h1v1h-1zM192.3 581.8h1v1h-1zM198.6 583.9h1v1h-1zM195.7 575.3h1v1h-1zM195.6 567.2h1v1h-1zM208.4 570.6h1v1h-1zM198.0 584.1h1v1h-1zM210.4 572.0h1v1h-1zM197.5 575.3h1v1h-1zM197.2 583.3h1v1h-1zM192.8 583.1h1v1h-1zM212.5 572.9h1v1h-1zM199.5 577.7h1v1h-1zM204.9 577.8h1v1h-1zM208.4 564.1h1v1h-1zM197.8 583.4h1v1h-1zM195.7 577.7h1v1h-1zM193.2 583.1h1v1h-1zM192.3 580.3h1v1h-1zM203.5 581.5h1v1h-1zM201.0 572.4h1v1h-1zM192.7 584.1h1v1h-1zM195.4 580.1h1v1h-1zM191.9 583.1h1v1h-1zM194.1 582.6h1v1h-1zM190.4 582.7h1v1h-1zM195.5 572.6h1v1h-1zM196.8 583.7h1v1h-1zM214.9 572.0h1v1h-1zM195.2 577.8h1v1h-1zM192.9 583.9h1v1h-1zM196.6 580.5h1v1h-1zM206.9 576.8h1v1h-1zM194.0 578.4h1v1h-1zM190.4 583.8h1v1h-1zM194.0 584.0h1v1h-1zM200.4 580.8h1v1h-1zM200.0 570.4h1v1h-1zM209.8 571.0h1v1h-1zM196.6 583.7h1v1h-1zM209.0 575.1h1v1h-1zM203.0 579.3h1v1h-1zM201.9 577.3h1v1h-1zM192.5 580.5h1v1h-1zM201.5 565.4h1v1h-1zM189.6 582.9h1v1h-1zM204.9 576.1h1v1h-1zM205.4 582.1h1v1h-1zM191.9 582.2h1v1h-1zM197.3 581.6h1v1h-1zM206.8 583.2h1v1h-1zM194.8 579.4h1v1h-1zM201.7 570.9h1v1h-1zM199.7 583.2h1v1h-1zM204.0 569.0h1v1h-1zM201.2 584.0h1v1h-1zM204.5 544.2h1v1h-1zM197.1 565.7h1v1h-1zM201.1 583.5h1v1h-1zM190.2 582.0h1v1h-1zM209.8 582.2h1v1h-1zM191.8 581.9h1v1h-1zM196.5 575.7h1v1h-1zM195.0 576.5h1v1h-1zM220.2 573.3h1v1h-1zM199.8 576.5h1v1h-1zM195.6 572.6h1v1h-1zM208.5 575.1h1v1h-1zM189.9 582.0h1v1h-1zM197.0 579.5h1v1h-1zM199.3 571.1h1v1h-1zM212.0 576.7h1v1h-1zM191.1 583.8h1v1h-1zM202.1 576.5h1v1h-1zM196.0 579.4h1v1h-1zM196.6 582.4h1v1h-1zM205.1 564.0h1v1h-1zM192.3 583.5h1v1h-1zM206.1 566.7h1v1h-1zM200.9 572.9h1v1h-1zM206.0 565.3h1v1h-1zM191.8 583.8h1v1h-1zM190.5 579.4h1v1h-1zM191.8 582.3h1v1h-1zM190.9 582.6h1v1h-1zM194.8 578.7h1v1h-1zM191.5 580.0h1v1h-1zM201.0 557.1h1v1h-1zM191.7 575.4h1v1h-1zM195.6 583.5h1v1h-1zM190.0 580.9h1v1h-1zM193.2 575.3h1v1h-1zM189.5 582.8h1v1h-1zM207.5 574.3h1v1h-1zM195.0 573.7h1v1h-1zM200.6 580.6h1v1h-1zM191.6 580.9h1v1h-1zM193.1 575.4h1v1h-1zM197.4 571.3h1v1h-1zM192.6 582.2h1v1h-1zM192.9 577.1h1v1h-1zM205.5 534.7h1v1h-1zM216.5 558.0h1v1h-1zM198.4 577.1h1v1h-1zM200.6 565.2h1v1h-1zM196.2 580.0h1v1h-1zM199.5 561.2h1v1h-1zM206.1 575.4h1v1h-1zM194.4 583.9h1v1h-1zM195.6 576.0h1v1h-1zM192.8 583.8h1v1h-1zM193.0 581.7h1v1h-1zM190.4 584.1h1v1h-1zM190.7 580.1h1v1h-1zM191.1 578.0h1v1h-1zM193.1 574.1h1v1h-1zM210.4 536.7h1v1h-1zM195.9 580.1h1v1h-1zM220.3 578.2h1v1h-1zM198.4 579.6h1v1h-1zM192.2 580.4h1v1h-1zM195.4 568.4h1v1h-1zM196.4 566.9h1v1h-1zM198.0 582.8h1v1h-1zM194.2 582.7h1v1h-1zM204.9 532.5h1v1h-1zM198.9 581.6h1v1h-1zM199.0 578.9h1v1h-1zM199.7 572.8h1v1h-1zM197.3 583.5h1v1h-1zM200.4 574.0h1v1h-1zM202.3 581.1h1v1h-1zM202.0 583.1h1v1h-1zM190.4 582.9h1v1h-1zM202.6 583.1h1v1h-1zM199.9 581.5h1v1h-1zM198.5 583.2h1v1h-1zM193.3 582.6h1v1h-1zM194.4 574.6h1v1h-1zM205.7 565.4h1v1h-1zM200.2 580.7h1v1h-1zM195.5 576.8h1v1h-1zM198.2 577.3h1v1h-1zM195.1 568.2h1v1h-1zM205.0 583.2h1v1h-1zM195.2 580.8h1v1h-1zM199.6 574.9h1v1h-1zM190.8 579.6h1v1h-1zM200.2 566.2h1v1h-1zM197.7 572.9h1v1h-1zM193.0 584.1h1v1h-1zM193.1 577.5h1v1h-1zM209.1 568.4h1v1h-1zM204.3 572.6h1v1h-1zM205.3 546.2h1v1h-1zM193.6 582.4h1v1h-1zM196.4 582.6h1v1h-1zM221.4 569.6h1v1h-1zM203.5 583.0h1v1h-1zM200.2 574.2h1v1h-1zM199.5 582.6h1v1h-1zM194.4 583.7h1v1h-1zM202.0 584.0h1v1h-1zM191.2 577.3h1v1h-1zM197.9 578.7h1v1h-1zM190.0 582.9h1v1h-1zM194.3 584.0h1v1h-1zM197.9 583.6h1v1h-1zM189.2 583.9h1v1h-1zM190.7 583.7h1v1h-1zM209.7 533.2h1v1h-1zM199.2 583.9h1v1h-1zM208.6 582.9h1v1h-1zM211.4 583.9h1v1h-1zM195.8 580.2h1v1h-1zM197.8 578.2h1v1h-1zM196.8 565.2h1v1h-1zM193.8 579.2h1v1h-1zM195.8 578.5h1v1h-1zM191.9 579.9h1v1h-1zM205.8 579.5h1v1h-1zM191.3 577.0h1v1h-1zM194.2 582.6h1v1h-1zM206.7 575.6h1v1h-1zM202.3 581.2h1v1h-1zM206.3 582.8h1v1h-1zM189.4 582.9h1v1h-1zM198.7 580.2h1v1h-1zM196.5 583.5h1v1h-1zM198.9 570.3h1v1h-1zM209.0 575.7h1v1h-1zM194.4 581.7h1v1h-1zM194.2 582.7h1v1h-1zM195.9 584.0h1v1h-1zM194.9 579.6h1v1h-1zM191.9 581.5h1v1h-1zM191.0 582.0h1v1h-1zM197.3 582.4h1v1h-1zM202.5 575.9h1v1h-1zM201.5 570.4h1v1h-1zM196.4 573.8h1v1h-1zM206.6 575.5h1v1h-1zM194.2 581.0h1v1h-1zM208.4 562.5h1v1h-1zM192.9 575.6h1v1h-1zM203.1 543.7h1v1h-1zM232.1 580.6h1v1h-1zM195.8 567.4h1v1h-1zM194.4 581.5h1v1h-1zM190.0 583.8h1v1h-1zM193.1 583.3h1v1h-1zM189.3 584.1h1v1h-1zM193.9 582.5h1v1h-1zM199.0 581.5h1v1h-1zM212.3 568.2h1v1h-1zM195.4 581.9h1v1h-1zM199.5 577.7h1v1h-1zM191.5 583.3h1v1h-1zM192.2 577.9h1v1h-1zM191.3 580.7h1v1h-1zM192.3 583.4h1v1h-1zM209.2 554.7h1v1h-1zM192.6 581.5h1v1h-1zM207.2 542.2h1v1h-1zM193.2 582.1h1v1h-1zM193.7 579.5h1v1h-1zM191.9 578.9h1v1h-1zM189.7 581.8h1v1h-1zM207.7 554.6h1v1h-1zM196.8 564.4h1v1h-1zM195.0 567.6h1v1h-1zM194.2 573.0h1v1h-1zM195.6 582.7h1v1h-1zM216.3 584.0h1v1h-1zM191.8 580.3h1v1h-1zM198.2 571.2h1v1h-1zM194.7 583.6h1v1h-1zM197.5 583.9h1v1h-1zM213.3 572.0h1v1h-1zM206.1 554.0h1v1h-1zM197.7 580.2h1v1h-1zM195.9 582.0h1v1h-1zM197.8 581.2h1v1h-1zM208.0 552.7h1v1h-1zM205.6 553.2h1v1h-1zM190.0 582.7h1v1h-1zM203.6 582.9h1v1h-1zM205.5 554.8h1v1h-1zM197.5 572.2h1v1h-1zM196.8 581.9h1v1h-1zM194.3 582.8h1v1h-1zM201.5 578.1h1v1h-1zM191.9 583.6h1v1h-1zM200.6 583.9h1v1h-1zM203.8 574.3h1v1h-1zM201.5 577.0h1v1h-1zM198.2 580.9h1v1h-1zM193.7 582.1h1v1h-1zM211.8 568.8h1v1h-1zM205.1 580.4h1v1h-1zM193.9 570.5h1v1h-1zM191.6 581.0h1v1h-1zM200.5 577.4h1v1h-1zM206.7 575.0h1v1h-1zM192.5 577.7h1v1h-1zM198.8 584.0h1v1h-1zM196.7 580.5h1v1h-1zM192.3 582.8h1v1h-1zM201.8 582.2h1v1h-1zM193.6 582.4h1v1h-1zM209.3 575.4h1v1h-1zM209.4 575.1h1v1h-1zM201.2 582.6h1v1h-1zM197.6 578.0h1v1h-1zM194.1 568.8h1v1h-1zM192.7 583.8h1v1h-1zM199.8 574.3h1v1h-1zM197.7 567.8h1v1h-1zM199.2 576.8h1v1h-1zM190.9 580.5h1v1h-1zM199.7 561.0h1v1h-1zM201.0 582.1h1v1h-1zM201.2 568.7h1v1h-1zM207.8 572.5h1v1h-1zM202.5 567.1h1v1h-1zM202.6 581.8h1v1h-1zM196.3 577.6h1v1h-1zM192.8 582.4h1v1h-1zM192.7 579.1h1v1h-1zM196.2 568.7h1v1h-1zM193.2 583.0h1v1h-1zM198.0 583.2h1v1h-1zM198.8 578.6h1v1h-1zM192.4 581.8h1v1h-1zM201.7 583.8h1v1h-1zM206.4 580.3h1v1h-1zM197.4 569.0h1v1h-1zM213.1 546.5h1v1h-1zM197.3 577.0h1v1h-1zM198.5 582.9h1v1h-1zM202.3 580.0h1v1h-1zM204.5 581.6h1v1h-1zM207.0 577.6h1v1h-1zM191.4 577.1h1v1h-1zM193.5 583.7h1v1h-1zM198.0 582.4h1v1h-1zM191.1 582.6h1v1h-1zM209.4 570.1h1v1h-1zM203.4 579.5h1v1h-1zM208.9 555.3h1v1h-1zM194.4 581.0h1v1h-1zM204.9 573.1h1v1h-1zM194.2 583.9h1v1h-1zM196.6 576.5h1v1h-1zM193.5 583.4h1v1h-1zM206.1 550.2h1v1h-1zM193.5 579.6h1v1h-1zM193.4 573.3h1v1h-1zM198.4 574.7h1v1h-1zM194.7 578.7h1v1h-1zM191.4 582.7h1v1h-1zM203.9 579.6h1v1h-1zM216.1 581.6h1v1h-1zM205.6 581.4h1v1h-1zM195.4 577.2h1v1h-1zM194.5 576.0h1v1h-1zM191.0 583.7h1v1h-1zM201.7 577.3h1v1h-1zM198.1 582.3h1v1h-1zM195.3 579.3h1v1h-1zM208.1 551.5h1v1h-1zM193.2 581.5h1v1h-1zM203.0 580.3h1v1h-1zM195.1 581.3h1v1h-1zM208.1 582.6h1v1h-1zM198.9 582.0h1v1h-1zM205.4 582.6h1v1h-1zM192.4 577.5h1v1h-1zM191.8 582.7h1v1h-1zM201.0 557.2h1v1h-1zM192.4 583.8h1v1h-1zM197.0 581.7h1v1h-1zM203.8 566.4h1v1h-1zM195.0 581.1h1v1h-1zM201.2 575.4h1v1h-1zM203.7 582.1h1v1h-1zM197.9 576.7h1v1h-1zM195.8 576.6h1v1h-1zM215.9 564.1h1v1h-1zM201.7 581.3h1v1h-1zM195.2 581.2h1v1h-1zM218.0 552.2h1v1h-1zM195.5 584.0h1v1h-1zM193.9 578.1h1v1h-1zM208.0 569.6h1v1h-1zM205.8 582.5h1v1h-1zM195.7 574.1h1v1h-1zM206.0 583.9h1v1h-1zM190.3 583.7h1v1h-1zM197.7 582.2h1v1h-1zM208.5 576.3h1v1h-1zM191.2 583.9h1v1h-1zM199.8 583.6h1v1h-1zM197.3 579.1h1v1h-1zM196.0 582.7h1v1h-1zM193.2 581.4h1v1h-1zM193.8 580.7h1v1h-1zM206.3 576.2h1v1h-1zM191.8 578.3h1v1h-1zM203.8 568.7h1v1h-1zM207.4 570.3h1v1h-1zM196.5 583.3h1v1h-1zM191.8 580.2h1v1h-1zM209.2 533.9h1v1h-1zM192.7 581.8h1v1h-1zM198.0 577.8h1v1h-1zM208.3 576.8h1v1h-1zM199.3 583.9h1v1h-1zM207.4 571.9h1v1h-1zM212.8 574.4h1v1h-1zM193.7 581.4h1v1h-1zM203.7 584.0h1v1h-1zM207.4 583.1h1v1h-1zM204.9 578.8h1v1h-1zM194.9 567.9h1v1h-1zM194.2 583.6h1v1h-1zM196.2 569.8h1v1h-1zM195.6 571.1h1v1h-1zM193.5 571.0h1v1h-1zM206.0 561.8h1v1h-1zM198.3 575.1h1v1h-1zM206.2 582.5h1v1h-1zM204.6 562.9h1v1h-1zM195.6 584.1h1v1h-1zM190.0 582.7h1v1h-1zM208.2 536.2h1v1h-1zM195.0 576.9h1v1h-1zM203.0 582.1h1v1h-1zM206.2 573.6h1v1h-1zM189.7 583.8h1v1h-1zM190.0 582.6h1v1h-1zM194.8 574.4h1v1h-1zM218.3 583.5h1v1h-1zM191.1 580.7h1v1h-1zM200.2 577.3h1v1h-1zM194.9 581.6h1v1h-1zM216.5 583.0h1v1h-1zM211.4 574.2h1v1h-1zM203.7 579.1h1v1h-1zM199.9 584.0h1v1h-1zM214.9 576.2h1v1h-1zM220.0 537.7h1v1h-1zM190.2 581.9h1v1h-1zM212.9 572.6h1v1h-1zM205.2 581.2h1v1h-1zM197.5 563.1h1v1h-1zM193.4 580.8h1v1h-1zM213.9 580.9h1v1h-1zM201.6 582.5h1v1h-1zM203.7 574.6h1v1h-1zM207.2 557.7h1v1h-1zM199.5 562.7h1v1h-1zM215.9 563.9h1v1h-1zM197.3 583.0h1v1h-1zM211.0 574.2h1v1h-1zM196.5 575.6h1v1h-1zM202.7 579.3h1v1h-1zM189.7 583.8h1v1h-1zM206.5 581.2h1v1h-1zM197.8 573.1h1v1h-1zM202.8 562.6h1v1h-1zM195.1 565.2h1v1h-1zM197.8 566.5h1v1h-1zM203.3 573.4h1v1h-1zM206.8 582.2h1v1h-1zM210.3 560.9h1v1h-1zM200.5 579.1h1v1h-1zM197.0 578.1h1v1h-1zM205.7 574.5h1v1h-1zM196.5 583.2h1v1h-1zM198.0 583.8h1v1h-1zM191.3 580.1h1v1h-1zM195.1 581.0h1v1h-1zM198.5 580.2h1v1h-1zM195.9 582.7h1v1h-1zM194.3 578.1h1v1h-1zM204.6 566.1h1v1h-1zM204.9 583.1h1v1h-1zM200.5 565.8h1v1h-1zM194.9 574.6h1v1h-1zM195.5 568.3h1v1h-1zM199.8 567.5h1v1h-1zM193.3 583.5h1v1h-1zM194.8 566.5h1v1h-1zM205.7 576.4h1v1h-1zM193.9 575.8h1v1h-1zM204.7 575.6h1v1h-1zM195.9 584.0h1v1h-1zM210.2 583.7h1v1h-1zM196.2 577.1h1v1h-1zM199.0 578.8h1v1h-1zM200.6 582.1h1v1h-1zM189.5 583.6h1v1h-1zM200.6 583.5h1v1h-1zM191.7 577.5h1v1h-1zM197.3 571.1h1v1h-1zM213.8 583.1h1v1h-1zM200.9 582.1h1v1h-1zM192.3 582.6h1v1h-1zM205.6 556.8h1v1h-1zM206.6 578.8h1v1h-1zM192.1 583.1h1v1h-1zM190.9 579.5h1v1h-1zM197.5 583.2h1v1h-1zM192.4 579.6h1v1h-1zM195.7 580.1h1v1h-1zM212.2 561.6h1v1h-1zM204.4 579.2h1v1h-1zM201.9 580.4h1v1h-1zM196.5 577.3h1v1h-1zM191.9 583.3h1v1h-1zM199.7 573.9h1v1h-1zM201.0 581.9h1v1h-1zM201.3 582.5h1v1h-1zM191.1 579.6h1v1h-1zM200.4 582.7h1v1h-1zM196.7 577.9h1v1h-1zM202.8 574.9h1v1h-1zM191.7 576.2h1v1h-1zM208.1 567.9h1v1h-1zM195.2 583.4h1v1h-1zM203.1 583.1h1v1h-1zM191.6 583.6h1v1h-1zM194.2 577.2h1v1h-1zM201.0 584.0h1v1h-1zM191.1 580.8h1v1h-1zM215.6 580.2h1v1h-1zM194.4 582.7h1v1h-1zM203.2 574.9h1v1h-1zM208.4 583.5h1v1h-1zM195.6 583.5h1v1h-1zM194.4 575.6h1v1h-1zM196.2 569.7h1v1h-1zM216.1 576.4h1v1h-1zM202.3 572.5h1v1h-1zM194.7 575.3h1v1h-1zM198.7 583.6h1v1h-1zM196.1 582.8h1v1h-1zM226.1 580.9h1v1h-1zM227.2 584.0h1v1h-1zM203.5 583.3h1v1h-1zM205.0 569.3h1v1h-1zM209.4 571.3h1v1h-1zM205.4 555.1h1v1h-1zM205.1 576.2h1v1h-1zM197.9 577.5h1v1h-1zM195.6 576.5h1v1h-1zM200.2 583.2h1v1h-1zM198.3 575.7h1v1h-1zM199.4 567.8h1v1h-1zM208.6 583.5h1v1h-1zM192.4 583.8h1v1h-1zM206.1 576.1h1v1h-1zM191.6 578.7h1v1h-1zM193.5 583.2h1v1h-1zM202.1 577.3h1v1h-1zM191.5 583.3h1v1h-1zM206.8 538.3h1v1h-1zM195.6 579.6h1v1h-1zM199.9 582.5h1v1h-1zM195.9 575.9h1v1h-1zM189.9 582.4h1v1h-1zM189.5 582.9h1v1h-1zM191.6 578.2h1v1h-1zM203.9 584.0h1v1h-1zM209.3 549.4h1v1h-1zM199.2 576.3h1v1h-1zM207.1 579.3h1v1h-1zM200.6 581.1h1v1h-1zM200.2 570.3h1v1h-1zM210.7 565.2h1v1h-1zM205.2 553.2h1v1h-1zM193.5 575.3h1v1h-1zM197.1 584.0h1v1h-1zM202.0 582.3h1v1h-1zM199.5 574.0h1v1h-1zM204.2 567.6h1v1h-1zM194.9 579.3h1v1h-1zM193.6 583.9h1v1h-1zM190.1 580.5h1v1h-1zM191.8 584.0h1v1h-1zM190.6 581.5h1v1h-1zM208.6 583.4h1v1h-1zM190.2 584.1h1v1h-1zM191.7 583.9h1v1h-1zM192.4 583.5h1v1h-1zM190.7 584.0h1v1h-1zM209.0 577.5h1v1h-1zM195.7 566.2h1v1h-1zM191.8 581.4h1v1h-1zM189.9 581.8h1v1h-1zM195.4 577.9h1v1h-1zM198.9 570.5h1v1h-1zM195.0 581.0h1v1h-1zM204.6 571.7h1v1h-1zM189.9 584.0h1v1h-1zM203.4 561.3h1v1h-1zM201.8 584.0h1v1h-1zM201.5 573.4h1v1h-1zM191.3 582.5h1v1h-1zM203.7 568.0h1v1h-1zM200.4 565.0h1v1h-1zM191.8 583.3h1v1h-1zM199.8 577.5h1v1h-1zM201.1 579.1h1v1h-1zM189.7 583.3h1v1h-1zM201.5 569.9h1v1h-1zM190.3 583.5h1v1h-1zM212.9 578.4h1v1h-1zM204.5 581.7h1v1h-1zM196.3 572.4h1v1h-1zM199.8 556.9h1v1h-1zM193.2 580.0h1v1h-1zM216.9 560.2h1v1h-1zM196.7 582.1h1v1h-1zM201.6 560.0h1v1h-1zM203.1 579.8h1v1h-1zM201.3 577.7h1v1h-1zM200.9 567.0h1v1h-1zM211.4 559.8h1v1h-1zM198.9 584.1h1v1h-1zM195.0 584.0h1v1h-1zM193.8 582.2h1v1h-1zM193.4 575.8h1v1h-1zM198.2 583.0h1v1h-1zM192.7 584.1h1v1h-1zM190.6 583.3h1v1h-1zM199.7 569.1h1v1h-1zM208.2 579.5h1v1h-1zM194.2 583.2h1v1h-1zM206.1 566.5h1v1h-1zM191.5 582.7h1v1h-1zM205.7 558.5h1v1h-1zM215.2 574.8h1v1h-1zM210.2 575.2h1v1h-1zM200.9 580.6h1v1h-1zM210.9 567.9h1v1h-1zM198.3 574.3h1v1h-1zM189.2 583.9h1v1h-1zM196.0 581.0h1v1h-1zM211.8 570.4h1v1h-1zM196.9 584.1h1v1h-1zM190.8 580.7h1v1h-1zM192.6 578.0h1v1h-1zM205.1 582.1h1v1h-1zM194.7 580.6h1v1h-1zM208.3 583.4h1v1h-1zM196.0 582.4h1v1h-1zM196.1 575.3h1v1h-1zM189.5 582.3h1v1h-1zM189.4 583.8h1v1h-1zM191.4 582.0h1v1h-1zM213.2 555.7h1v1h-1zM192.4 575.6h1v1h-1zM189.3 583.3h1v1h-1zM200.4 575.4h1v1h-1zM198.1 584.0h1v1h-1zM205.6 580.0h1v1h-1zM190.9 579.9h1v1h-1zM200.1 572.8h1v1h-1zM194.8 574.9h1v1h-1zM208.5 554.7h1v1h-1zM205.2 582.9h1v1h-1zM193.1 580.1h1v1h-1zM193.1 582.4h1v1h-1zM204.5 538.0h1v1h-1zM200.9 574.1h1v1h-1zM191.9 582.1h1v1h-1zM205.8 581.9h1v1h-1zM208.5 583.9h1v1h-1zM206.1 583.6h1v1h-1zM212.3 577.5h1v1h-1zM196.3 583.8h1v1h-1zM210.5 570.0h1v1h-1zM191.3 581.8h1v1h-1zM193.7 582.6h1v1h-1zM193.4 571.7h1v1h-1zM208.9 579.5h1v1h-1zM200.6 572.9h1v1h-1zM197.8 579.9h1v1h-1zM192.5 578.9h1v1h-1zM200.5 573.9h1v1h-1zM200.6 583.6h1v1h-1zM198.9 581.7h1v1h-1zM194.9 582.5h1v1h-1zM204.0 578.4h1v1h-1zM192.3 583.4h1v1h-1zM196.9 579.2h1v1h-1zM207.5 570.0h1v1h-1zM200.1 583.1h1v1h-1zM197.7 583.2h1v1h-1zM194.7 584.0h1v1h-1zM202.4 573.4h1v1h-1zM195.4 581.1h1v1h-1zM191.5 580.7h1v1h-1zM198.8 581.9h1v1h-1zM209.7 583.7h1v1h-1zM207.8 567.7h1v1h-1zM190.8 578.7h1v1h-1zM193.2 573.1h1v1h-1zM196.8 578.0h1v1h-1zM221.4 548.4h1v1h-1zM196.6 566.4h1v1h-1zM192.9 583.3h1v1h-1zM190.8 582.3h1v1h-1zM209.2 553.1h1v1h-1zM191.9 582.3h1v1h-1zM193.4 583.8h1v1h-1zM203.1 565.3h1v1h-1zM201.5 544.6h1v1h-1zM198.0 579.3h1v1h-1zM196.3 577.1h1v1h-1zM199.9 574.6h1v1h-1zM193.5 574.0h1v1h-1zM195.4 583.1h1v1h-1zM203.7 582.9h1v1h-1zM197.8 582.1h1v1h-1zM194.1 582.6h1v1h-1zM192.4 582.6h1v1h-1zM218.0 583.4h1v1h-1zM199.8 581.7h1v1h-1zM192.4 583.4h1v1h-1zM190.4 583.7h1v1h-1zM194.5 574.5h1v1h-1zM203.2 581.5h1v1h-1zM195.3 584.0h1v1h-1zM207.3 580.7h1v1h-1zM199.6 565.3h1v1h-1zM190.5 581.0h1v1h-1zM196.0 581.4h1v1h-1zM199.5 573.3h1v1h-1zM194.3 579.5h1v1h-1zM196.9 574.8h1v1h-1zM201.9 567.9h1v1h-1zM195.9 577.4h1v1h-1zM202.4 584.0h1v1h-1zM192.3 584.1h1v1h-1zM194.4 579.0h1v1h-1zM197.8 583.0h1v1h-1zM191.4 583.7h1v1h-1zM200.6 580.7h1v1h-1zM215.9 550.0h1v1h-1zM196.1 580.0h1v1h-1zM192.8 575.0h1v1h-1zM215.2 561.9h1v1h-1zM196.9 578.7h1v1h-1zM217.0 574.3h1v1h-1zM203.2 567.3h1v1h-1zM192.6 582.9h1v1h-1zM210.2 579.8h1v1h-1zM191.8 583.7h1v1h-1zM190.6 582.4h1v1h-1zM206.5 576.2h1v1h-1zM198.5 582.1h1v1h-1zM209.8 538.5h1v1h-1zM196.7 572.9h1v1h-1zM195.6 583.3h1v1h-1zM193.1 583.5h1v1h-1zM192.9 580.6h1v1h-1zM189.9 582.3h1v1h-1zM193.7 577.0h1v1h-1zM195.1 566.1h1v1h-1zM195.2 572.7h1v1h-1zM204.0 582.2h1v1h-1zM205.2 529.3h1v1h-1zM204.4 537.9h1v1h-1zM198.5 573.7h1v1h-1zM202.0 572.2h1v1h-1zM193.8 584.1h1v1h-1zM193.0 583.8h1v1h-1zM195.3 572.7h1v1h-1zM207.9 557.9h1v1h-1zM192.1 581.9h1v1h-1zM190.5 581.5h1v1h-1zM194.5 582.0h1v1h-1zM199.6 581.2h1v1h-1zM192.2 579.5h1v1h-1zM203.3 583.8h1v1h-1zM200.3 576.2h1v1h-1zM193.9 579.1h1v1h-1zM213.8 568.2h1v1h-1zM203.8 576.8h1v1h-1zM208.7 578.5h1v1h-1zM198.0 577.9h1v1h-1zM197.6 566.6h1v1h-1zM204.9 568.7h1v1h-1zM206.6 583.9h1v1h-1zM197.8 570.4h1v1h-1zM194.4 567.8h1v1h-1zM202.1 582.4h1v1h-1zM201.1 584.0h1v1h-1zM191.6 583.2h1v1h-1zM201.2 579.9h1v1h-1zM194.4 576.7h1v1h-1zM190.6 583.9h1v1h-1zM206.4 569.0h1v1h-1zM202.7 583.4h1v1h-1zM192.4 584.0h1v1h-1zM209.9 571.8h1v1h-1zM191.3 580.6h1v1h-1zM191.2 580.1h1v1h-1zM200.1 562.9h1v1h-1zM200.5 582.8h1v1h-1zM201.4 559.2h1v1h-1zM198.7 581.9h1v1h-1zM212.1 583.7h1v1h-1zM190.4 580.8h1v1h-1zM193.2 577.1h1v1h-1zM189.6 583.0h1v1h-1zM205.1 568.1h1v1h-1zM202.7 582.4h1v1h-1zM202.9 583.7h1v1h-1zM206.7 582.1h1v1h-1zM194.2 580.4h1v1h-1zM203.6 578.3h1v1h-1zM203.9 574.6h1v1h-1zM197.6 583.5h1v1h-1zM190.1 583.2h1v1h-1zM199.4 583.5h1v1h-1zM202.8 558.5h1v1h-1zM207.5 557.3h1v1h-1zM206.5 583.3h1v1h-1zM192.7 577.1h1v1h-1zM191.6 583.7h1v1h-1zM191.4 581.7h1v1h-1zM223.4 582.0h1v1h-1zM199.4 581.3h1v1h-1zM199.6 582.2h1v1h-1zM194.2 578.5h1v1h-1zM205.1 582.7h1v1h-1zM207.1 575.4h1v1h-1zM191.5 581.6h1v1h-1zM190.5 583.8h1v1h-1zM200.9 579.5h1v1h-1zM190.1 583.6h1v1h-1zM195.7 583.4h1v1h-1zM194.0 583.7h1v1h-1zM195.4 583.7h1v1h-1zM193.5 578.6h1v1h-1zM198.8 567.8h1v1h-1zM199.0 584.0h1v1h-1zM196.1 577.6h1v1h-1zM209.5 566.8h1v1h-1zM197.0 566.0h1v1h-1zM197.8 583.3h1v1h-1zM196.1 583.9h1v1h-1zM195.7 572.5h1v1h-1zM196.2 576.8h1v1h-1zM203.6 582.4h1v1h-1zM197.3 582.7h1v1h-1zM208.2 568.8h1v1h-1zM202.9 581.7h1v1h-1zM195.9 578.2h1v1h-1zM208.5 582.7h1v1h-1zM190.5 583.5h1v1h-1zM197.5 579.3h1v1h-1zM217.8 576.8h1v1h-1zM190.3 581.3h1v1h-1zM201.0 568.5h1v1h-1zM198.2 573.3h1v1h-1zM195.5 578.0h1v1h-1zM208.5 577.7h1v1h-1zM191.4 583.9h1v1h-1zM204.9 577.3h1v1h-1zM207.9 573.4h1v1h-1zM202.6 573.7h1v1h-1zM199.4 552.0h1v1h-1zM240.3 580.3h1v1h-1zM191.4 580.3h1v1h-1zM190.2 584.0h1v1h-1zM203.9 582.7h1v1h-1zM219.4 559.2h1v1h-1zM189.6 583.9h1v1h-1zM191.2 577.8h1v1h-1zM190.8 583.4h1v1h-1zM191.7 579.1h1v1h-1zM191.1 582.7h1v1h-1zM203.8 583.4h1v1h-1zM201.1 582.3h1v1h-1zM190.4 580.4h1v1h-1zM199.0 579.1h1v1h-1zM189.5 584.1h1v1h-1zM197.4 578.9h1v1h-1zM191.0 580.0h1v1h-1zM193.0 581.8h1v1h-1zM193.9 581.0h1v1h-1zM196.1 571.2h1v1h-1zM192.0 578.5h1v1h-1zM201.8 581.9h1v1h-1zM195.6 580.4h1v1h-1zM196.4 578.2h1v1h-1zM211.4 554.3h1v1h-1zM195.4 581.2h1v1h-1zM193.3 583.5h1v1h-1zM211.4 571.4h1v1h-1zM192.1 576.6h1v1h-1zM195.3 581.2h1v1h-1zM193.3 574.4h1v1h-1zM193.4 584.1h1v1h-1zM192.5 583.7h1v1h-1zM197.3 570.3h1v1h-1zM195.3 582.0h1v1h-1zM206.2 557.7h1v1h-1zM197.1 581.2h1v1h-1zM197.9 574.3h1v1h-1zM194.9 583.2h1v1h-1zM201.5 567.9h1v1h-1zM193.2 582.7h1v1h-1zM198.5 578.9h1v1h-1zM203.7 572.3h1v1h-1zM225.3 544.1h1v1h-1zM210.2 583.0h1v1h-1zM210.5 572.9h1v1h-1zM201.5 574.3h1v1h-1zM201.1 551.4h1v1h-1zM209.3 577.8h1v1h-1zM192.7 580.5h1v1h-1zM198.5 566.1h1v1h-1zM194.5 582.2h1v1h-1zM198.3 583.6h1v1h-1zM197.4 575.7h1v1h-1zM194.2 581.1h1v1h-1zM201.7 549.4h1v1h-1zM194.8 573.6h1v1h-1zM196.3 568.3h1v1h-1zM194.9 577.5h1v1h-1zM200.8 574.3h1v1h-1zM196.4 574.2h1v1h-1zM210.4 569.3h1v1h-1zM204.0 579.1h1v1h-1zM195.2 579.3h1v1h-1zM193.2 583.8h1v1h-1zM202.7 580.4h1v1h-1zM199.9 580.2h1v1h-1zM193.4 579.2h1v1h-1zM198.0 582.9h1v1h-1zM211.0 573.6h1v1h-1zM200.4 565.5h1v1h-1zM200.9 578.0h1v1h-1zM215.4 562.0h1v1h-1zM203.8 572.8h1v1h-1zM192.6 580.3h1v1h-1zM191.8 580.1h1v1h-1zM196.3 577.3h1v1h-1zM206.7 578.1h1v1h-1zM208.7 568.6h1v1h-1zM222.4 563.1h1v1h-1zM192.3 583.7h1v1h-1zM194.2 581.4h1v1h-1zM220.8 552.0h1v1h-1zM210.8 574.9h1v1h-1zM196.9 569.1h1v1h-1zM200.9 582.1h1v1h-1zM191.8 578.4h1v1h-1zM204.6 570.7h1v1h-1zM200.8 583.9h1v1h-1zM201.5 575.6h1v1h-1zM191.9 583.1h1v1h-1zM189.2 584.0h1v1h-1zM202.9 574.3h1v1h-1zM191.3 584.1h1v1h-1zM192.3 579.9h1v1h-1zM196.1 574.0h1v1h-1zM236.3 576.3h1v1h-1zM193.8 582.1h1v1h-1zM197.3 583.5h1v1h-1zM198.3 580.7h1v1h-1zM212.0 581.8h1v1h-1zM197.9 569.3h1v1h-1zM207.9 578.6h1v1h-1zM191.0 583.0h1v1h-1zM211.1 579.5h1v1h-1zM194.6 577.4h1v1h-1zM231.0 525.8h1v1h-1zM197.2 582.9h1v1h-1zM200.5 575.8h1v1h-1zM204.8 567.7h1v1h-1zM191.6 578.1h1v1h-1zM192.0 581.4h1v1h-1zM192.1 583.8h1v1h-1zM191.5 583.7h1v1h-1zM196.7 581.3h1v1h-1zM207.0 577.4h1v1h-1zM209.1 573.7h1v1h-1zM197.4 575.3h1v1h-1zM213.0 523.2h1v1h-1zM201.8 581.6h1v1h-1zM197.8 581.4h1v1h-1zM195.3 581.6h1v1h-1zM195.0 581.5h1v1h-1zM204.9 576.5h1v1h-1zM195.6 583.8h1v1h-1zM195.5 583.1h1v1h-1zM201.5 582.2h1v1h-1zM202.6 572.7h1v1h-1zM197.2 582.3h1v1h-1zM213.4 554.9h1v1h-1zM195.7 575.0h1v1h-1zM197.6 576.6h1v1h-1zM198.8 573.0h1v1h-1zM196.3 560.3h1v1h-1zM209.6 583.8h1v1h-1zM194.3 583.6h1v1h-1zM207.1 570.7h1v1h-1zM202.4 577.7h1v1h-1zM201.5 581.9h1v1h-1zM204.7 568.2h1v1h-1zM196.1 568.6h1v1h-1zM193.4 583.8h1v1h-1zM200.1 577.6h1v1h-1zM198.7 575.4h1v1h-1zM192.5 575.8h1v1h-1zM196.9 581.8h1v1h-1zM205.7 567.2h1v1h-1zM193.0 580.7h1v1h-1zM195.7 580.5h1v1h-1zM192.6 583.7h1v1h-1zM201.5 580.1h1v1h-1zM192.9 578.2h1v1h-1zM197.2 575.2h1v1h-1zM194.2 584.0h1v1h-1zM193.9 578.9h1v1h-1zM192.7 582.5h1v1h-1zM206.7 563.6h1v1h-1zM195.5 577.1h1v1h-1zM223.9 561.3h1v1h-1zM192.7 573.4h1v1h-1zM231.8 565.5h1v1h-1zM201.6 570.4h1v1h-1zM198.9 577.0h1v1h-1zM191.8 576.7h1v1h-1zM192.3 582.1h1v1h-1zM197.2 583.2h1v1h-1zM204.9 582.2h1v1h-1zM202.5 577.3h1v1h-1zM201.3 582.0h1v1h-1zM196.5 576.6h1v1h-1zM202.6 567.0h1v1h-1zM197.9 565.1h1v1h-1zM193.4 580.6h1v1h-1zM192.1 582.6h1v1h-1zM197.2 583.8h1v1h-1zM192.6 582.6h1v1h-1zM197.8 575.0h1v1h-1zM201.7 577.6h1v1h-1zM202.4 583.4h1v1h-1zM195.6 581.5h1v1h-1zM194.5 577.7h1v1h-1zM214.0 572.3h1v1h-1zM195.3 575.5h1v1h-1zM220.3 547.8h1v1h-1zM205.9 567.2h1v1h-1zM210.6 566.2h1v1h-1zM194.2 569.5h1v1h-1zM203.6 558.5h1v1h-1zM212.5 573.3h1v1h-1zM193.9 582.8h1v1h-1zM194.0 583.6h1v1h-1zM221.7 583.8h1v1h-1zM198.9 568.4h1v1h-1zM195.9 573.2h1v1h-1zM194.5 582.2h1v1h-1zM192.0 578.3h1v1h-1zM198.7 576.8h1v1h-1zM203.9 576.1h1v1h-1zM194.5 571.9h1v1h-1zM193.6 583.1h1v1h-1zM196.0 565.7h1v1h-1zM200.8 575.4h1v1h-1zM192.3 580.7h1v1h-1zM197.5 583.8h1v1h-1zM199.8 569.8h1v1h-1zM197.3 580.8h1v1h-1zM196.6 582.8h1v1h-1zM197.9 584.1h1v1h-1zM198.4 578.4h1v1h-1zM194.4 583.4h1v1h-1zM202.2 570.9h1v1h-1zM192.4 580.0h1v1h-1zM207.7 575.4h1v1h-1zM192.7 578.3h1v1h-1zM204.4 579.5h1v1h-1zM199.8 580.6h1v1h-1zM200.8 576.2h1v1h-1zM211.0 549.2h1v1h-1zM201.3 571.4h1v1h-1zM193.7 581.1h1v1h-1zM191.0 578.2h1v1h-1zM203.7 583.2h1v1h-1zM223.4 571.7h1v1h-1zM211.7 564.2h1v1h-1zM199.1 577.0h1v1h-1zM196.0 570.7h1v1h-1zM203.0 564.5h1v1h-1zM195.6 583.6h1v1h-1zM204.4 583.3h1v1h-1zM204.2 582.8h1v1h-1zM193.4 579.3h1v1h-1zM196.0 574.7h1v1h-1zM200.9 581.3h1v1h-1zM196.1 574.8h1v1h-1zM203.8 578.6h1v1h-1zM194.7 576.1h1v1h-1zM190.9 578.5h1v1h-1zM193.5 573.3h1v1h-1zM211.0 561.8h1v1h-1zM194.6 572.6h1v1h-1zM213.7 562.7h1v1h-1zM198.9 583.2h1v1h-1zM224.5 574.1h1v1h-1zM189.3 583.6h1v1h-1zM208.4 551.4h1v1h-1zM206.5 583.9h1v1h-1zM214.2 565.7h1v1h-1zM192.6 580.9h1v1h-1zM194.0 577.6h1v1h-1zM194.7 583.4h1v1h-1zM196.5 583.3h1v1h-1zM193.5 581.6h1v1h-1zM200.6 583.3h1v1h-1zM232.5 580.9h1v1h-1zM192.8 578.2h1v1h-1zM203.7 582.4h1v1h-1zM215.4 575.8h1v1h-1zM209.2 581.4h1v1h-1zM205.0 584.0h1v1h-1zM204.4 578.6h1v1h-1zM190.9 579.3h1v1h-1zM205.6 555.3h1v1h-1zM195.8 583.6h1v1h-1zM194.7 580.1h1v1h-1zM210.0 575.4h1v1h-1zM195.6 579.0h1v1h-1zM200.8 568.5h1v1h-1zM202.0 548.1h1v1h-1zM204.4 569.7h1v1h-1zM193.7 583.9h1v1h-1zM202.1 575.3h1v1h-1zM201.9 579.0h1v1h-1zM195.7 564.7h1v1h-1zM200.5 584.0h1v1h-1zM200.0 577.2h1v1h-1zM197.2 583.6h1v1h-1zM194.2 581.6h1v1h-1zM206.9 576.0h1v1h-1zM199.5 580.8h1v1h-1zM196.9 583.5h1v1h-1zM193.8 580.0h1v1h-1zM189.7 583.8h1v1h-1zM203.6 580.0h1v1h-1zM197.1 581.7h1v1h-1zM230.5 583.5h1v1h-1zM190.9 581.7h1v1h-1zM196.8 573.4h1v1h-1zM220.1 570.1h1v1h-1zM203.2 558.9h1v1h-1zM210.9 559.7h1v1h-1zM192.5 575.9h1v1h-1zM191.2 579.9h1v1h-1zM193.9 582.5h1v1h-1zM208.5 581.2h1v1h-1zM198.9 582.9h1v1h-1zM198.7 576.4h1v1h-1zM204.3 554.6h1v1h-1zM199.5 576.4h1v1h-1zM193.6 579.2h1v1h-1zM196.7 580.2h1v1h-1zM199.6 549.3h1v1h-1zM221.0 578.1h1v1h-1zM195.3 574.5h1v1h-1zM210.8 554.1h1v1h-1zM193.9 567.2h1v1h-1zM192.1 578.0h1v1h-1zM211.4 541.3h1v1h-1zM198.1 579.6h1v1h-1zM190.6 583.3h1v1h-1zM191.2 579.5h1v1h-1zM193.7 583.9h1v1h-1zM193.6 576.9h1v1h-1zM193.1 575.7h1v1h-1zM196.4 577.1h1v1h-1zM193.9 582.0h1v1h-1zM198.2 583.6h1v1h-1zM192.0 577.7h1v1h-1zM200.4 584.0h1v1h-1zM202.4 559.4h1v1h-1zM208.3 548.0h1v1h-1zM191.8 579.6h1v1h-1zM199.0 569.6h1v1h-1zM209.8 564.0h1v1h-1zM194.7 582.4h1v1h-1zM191.6 581.0h1v1h-1zM194.8 571.6h1v1h-1zM206.4 583.7h1v1h-1zM190.9 581.4h1v1h-1zM200.9 584.0h1v1h-1zM197.3 583.4h1v1h-1zM194.3 579.1h1v1h-1zM193.1 580.2h1v1h-1zM193.0 582.1h1v1h-1zM195.4 580.8h1v1h-1zM196.0 567.0h1v1h-1zM193.9 577.2h1v1h-1zM196.8 574.9h1v1h-1zM198.4 580.0h1v1h-1zM196.1 579.3h1v1h-1zM203.9 582.2h1v1h-1zM201.1 577.1h1v1h-1zM214.0 583.0h1v1h-1zM200.8 580.9h1v1h-1zM193.3 574.8h1v1h-1zM193.4 581.7h1v1h-1zM202.6 579.4h1v1h-1zM196.3 584.1h1v1h-1zM196.3 574.5h1v1h-1zM191.9 584.0h1v1h-1zM194.4 575.5h1v1h-1zM197.4 582.5h1v1h-1zM193.1 584.0h1v1h-1zM189.7 584.1h1v1h-1zM196.5 580.5h1v1h-1zM207.3 558.0h1v1h-1zM189.9 583.0h1v1h-1zM194.4 571.4h1v1h-1zM195.7 582.1h1v1h-1zM199.1 582.5h1v1h-1zM202.8 583.9h1v1h-1zM192.3 580.9h1v1h-1zM207.0 580.3h1v1h-1zM199.1 573.6h1v1h-1zM202.7 580.5h1v1h-1zM197.5 583.5h1v1h-1zM198.6 581.8h1v1h-1zM201.3 571.4h1v1h-1zM216.5 546.0h1v1h-1zM193.2 583.2h1v1h-1zM194.4 572.1h1v1h-1zM196.7 582.7h1v1h-1zM201.3 579.8h1v1h-1zM209.8 582.5h1v1h-1zM203.7 575.4h1v1h-1zM192.7 580.7h1v1h-1zM195.6 580.5h1v1h-1zM200.5 575.0h1v1h-1zM207.3 563.2h1v1h-1zM204.2 578.8h1v1h-1zM194.0 583.1h1v1h-1zM208.4 583.9h1v1h-1zM191.2 576.8h1v1h-1zM193.5 582.5h1v1h-1zM196.7 571.5h1v1h-1zM193.4 581.8h1v1h-1zM204.2 583.5h1v1h-1zM208.2 564.6h1v1h-1zM194.5 583.6h1v1h-1zM195.5 576.4h1v1h-1zM197.0 567.6h1v1h-1zM196.7 575.1h1v1h-1zM196.1 583.4h1v1h-1zM194.7 581.5h1v1h-1zM205.0 581.8h1v1h-1zM200.8 578.3h1v1h-1zM199.1 579.2h1v1h-1zM199.3 549.9h1v1h-1zM200.3 564.1h1v1h-1zM196.2 582.3h1v1h-1zM197.2 581.5h1v1h-1zM194.8 583.2h1v1h-1zM200.8 577.7h1v1h-1zM203.1 538.9h1v1h-1zM202.2 560.4h1v1h-1zM189.7 583.6h1v1h-1zM202.6 570.5h1v1h-1zM191.0 578.4h1v1h-1zM199.6 576.3h1v1h-1zM194.4 569.4h1v1h-1zM190.7 584.1h1v1h-1zM243.7 568.0h1v1h-1zM201.6 575.8h1v1h-1zM199.5 577.5h1v1h-1zM195.3 583.3h1v1h-1zM195.1 583.1h1v1h-1zM197.9 583.3h1v1h-1zM190.6 580.1h1v1h-1zM191.6 577.2h1v1h-1zM189.7 582.9h1v1h-1zM210.8 573.9h1v1h-1zM202.5 580.1h1v1h-1zM212.4 581.4h1v1h-1zM199.0 576.8h1v1h-1zM196.7 582.9h1v1h-1zM191.5 581.5h1v1h-1zM200.6 577.7h1v1h-1zM199.4 582.3h1v1h-1zM199.8 573.5h1v1h-1zM202.4 583.2h1v1h-1zM207.8 581.1h1v1h-1zM199.8 577.9h1v1h-1zM232.3 497.5h1v1h-1zM205.4 583.8h1v1h-1zM192.8 571.2h1v1h-1zM192.0 582.5h1v1h-1zM192.7 580.6h1v1h-1zM195.1 583.8h1v1h-1zM192.6 582.4h1v1h-1zM195.0 566.1h1v1h-1zM198.1 582.3h1v1h-1zM192.7 576.2h1v1h-1zM193.5 573.3h1v1h-1zM191.2 583.4h1v1h-1zM207.4 566.3h1v1h-1zM200.6 583.4h1v1h-1zM211.4 578.9h1v1h-1zM196.0 579.4h1v1h-1zM192.3 581.3h1v1h-1zM199.5 582.6h1v1h-1zM191.9 582.9h1v1h-1zM209.7 583.9h1v1h-1zM193.2 579.4h1v1h-1zM194.4 582.1h1v1h-1zM195.4 583.2h1v1h-1zM199.1 582.5h1v1h-1zM207.3 570.7h1v1h-1zM204.9 561.7h1v1h-1zM193.5 582.5h1v1h-1zM195.6 564.1h1v1h-1zM192.7 573.9h1v1h-1zM198.8 583.8h1v1h-1zM205.5 582.1h1v1h-1zM228.3 582.1h1v1h-1zM192.3 573.3h1v1h-1zM202.0 567.7h1v1h-1zM202.9 580.5h1v1h-1zM194.6 568.1h1v1h-1zM200.0 584.1h1v1h-1zM203.1 572.0h1v1h-1zM192.9 581.5h1v1h-1zM194.9 565.7h1v1h-1zM193.4 571.1h1v1h-1zM202.6 580.4h1v1h-1zM201.0 583.1h1v1h-1zM210.9 571.2h1v1h-1zM195.6 583.8h1v1h-1zM198.8 583.2h1v1h-1zM205.2 573.0h1v1h-1zM204.4 581.5h1v1h-1zM207.1 578.7h1v1h-1zM193.9 567.9h1v1h-1zM195.6 565.1h1v1h-1zM194.0 583.2h1v1h-1zM208.3 571.1h1v1h-1zM193.1 574.1h1v1h-1zM210.2 550.3h1v1h-1zM195.0 584.1h1v1h-1zM191.2 583.3h1v1h-1zM194.0 579.2h1v1h-1zM200.8 566.8h1v1h-1zM191.3 583.9h1v1h-1zM196.3 569.9h1v1h-1zM193.5 571.4h1v1h-1zM218.0 562.9h1v1h-1zM195.1 581.1h1v1h-1zM208.3 530.9h1v1h-1zM194.8 573.3h1v1h-1zM196.0 577.8h1v1h-1zM192.2 581.7h1v1h-1zM193.4 582.6h1v1h-1zM189.7 582.4h1v1h-1zM194.5 565.0h1v1h-1zM202.3 577.2h1v1h-1zM194.6 577.6h1v1h-1zM224.0 555.5h1v1h-1zM191.2 578.2h1v1h-1zM197.9 566.2h1v1h-1zM192.5 578.6h1v1h-1zM193.7 578.0h1v1h-1zM223.0 583.1h1v1h-1zM209.9 554.5h1v1h-1zM189.8 583.1h1v1h-1zM208.0 558.5h1v1h-1zM204.8 576.5h1v1h-1zM194.9 582.0h1v1h-1zM192.3 579.5h1v1h-1zM198.6 559.6h1v1h-1zM208.9 583.6h1v1h-1zM203.6 581.9h1v1h-1zM212.7 570.0h1v1h-1zM199.4 583.6h1v1h-1zM190.0 584.1h1v1h-1zM199.7 578.8h1v1h-1zM193.0 579.8h1v1h-1zM191.5 582.7h1v1h-1zM200.0 569.5h1v1h-1zM191.3 577.3h1v1h-1zM202.1 577.8h1v1h-1zM196.9 575.0h1v1h-1zM194.7 582.2h1v1h-1zM189.8 582.8h1v1h-1zM206.0 584.1h1v1h-1zM216.5 582.9h1v1h-1zM194.9 577.5h1v1h-1zM201.2 582.9h1v1h-1zM190.4 582.2h1v1h-1zM194.9 574.9h1v1h-1zM206.5 561.2h1v1h-1zM194.8 583.8h1v1h-1zM195.9 576.0h1v1h-1zM202.2 579.6h1v1h-1zM197.1 581.8h1v1h-1zM198.0 579.2h1v1h-1zM194.7 583.8h1v1h-1zM193.5 572.1h1v1h-1zM201.0 576.8h1v1h-1zM194.2 579.2h1v1h-1zM203.3 575.2h1v1h-1zM204.2 562.3h1v1h-1zM201.9 579.0h1v1h-1zM195.4 581.8h1v1h-1zM195.2 566.5h1v1h-1zM199.5 575.6h1v1h-1zM202.6 577.0h1v1h-1zM197.2 579.9h1v1h-1zM199.1 567.4h1v1h-1zM193.4 582.2h1v1h-1zM209.7 583.8h1v1h-1zM192.3 579.9h1v1h-1zM194.3 582.7h1v1h-1zM212.7 580.9h1v1h-1zM216.2 565.4h1v1h-1zM193.3 582.3h1v1h-1zM194.9 578.8h1v1h-1zM199.7 575.9h1v1h-1zM196.0 583.7h1v1h-1zM190.9 582.5h1v1h-1zM191.6 579.6h1v1h-1zM190.9 583.6h1v1h-1zM191.3 583.9h1v1h-1zM208.4 580.2h1v1h-1zM207.1 561.7h1v1h-1zM208.0 571.1h1v1h-1zM194.3 582.6h1v1h-1zM192.5 576.3h1v1h-1zM197.8 579.4h1v1h-1zM200.6 579.7h1v1h-1zM191.5 583.3h1v1h-1zM210.9 578.6h1v1h-1zM199.5 556.0h1v1h-1zM203.7 581.4h1v1h-1zM193.0 582.3h1v1h-1zM192.5 572.9h1v1h-1zM193.0 582.1h1v1h-1zM194.0 581.9h1v1h-1zM203.6 583.3h1v1h-1zM190.9 581.5h1v1h-1zM195.0 570.0h1v1h-1zM196.8 577.4h1v1h-1zM213.3 580.2h1v1h-1zM190.0 583.6h1v1h-1zM200.4 573.7h1v1h-1zM203.9 583.9h1v1h-1zM194.7 566.5h1v1h-1zM224.8 580.9h1v1h-1zM195.7 576.7h1v1h-1zM192.6 579.2h1v1h-1zM195.2 582.8h1v1h-1zM194.0 581.9h1v1h-1zM197.6 577.0h1v1h-1zM193.5 579.8h1v1h-1zM192.5 574.3h1v1h-1zM194.2 583.3h1v1h-1zM200.8 580.9h1v1h-1zM200.9 580.5h1v1h-1zM194.2 574.1h1v1h-1zM202.2 580.5h1v1h-1zM195.3 580.3h1v1h-1zM197.2 583.0h1v1h-1zM211.8 574.0h1v1h-1zM214.7 560.7h1v1h-1zM192.4 581.4h1v1h-1zM197.2 576.4h1v1h-1zM190.6 584.1h1v1h-1zM208.4 551.4h1v1h-1zM198.8 570.4h1v1h-1zM190.7 582.6h1v1h-1zM193.4 578.6h1v1h-1zM195.1 578.4h1v1h-1zM203.2 582.9h1v1h-1zM209.1 578.7h1v1h-1zM189.9 583.9h1v1h-1zM195.1 570.7h1v1h-1zM199.2 581.3h1v1h-1zM193.9 580.7h1v1h-1zM200.6 582.3h1v1h-1zM192.0 583.1h1v1h-1zM201.8 584.1h1v1h-1zM200.3 579.1h1v1h-1zM203.3 572.9h1v1h-1zM217.2 557.8h1v1h-1zM194.6 580.0h1v1h-1zM196.7 566.0h1v1h-1zM200.4 576.6h1v1h-1zM191.7 578.6h1v1h-1zM214.1 576.4h1v1h-1zM205.9 580.6h1v1h-1zM191.4 578.4h1v1h-1zM193.2 575.1h1v1h-1zM195.8 582.1h1v1h-1zM190.3 583.7h1v1h-1zM198.4 559.0h1v1h-1zM197.4 582.7h1v1h-1zM205.1 579.3h1v1h-1zM199.3 580.0h1v1h-1zM215.6 584.1h1v1h-1zM190.4 583.7h1v1h-1zM202.0 578.8h1v1h-1zM194.3 583.0h1v1h-1zM197.2 578.4h1v1h-1zM195.8 580.9h1v1h-1zM193.0 582.2h1v1h-1zM194.8 579.4h1v1h-1zM192.9 579.4h1v1h-1zM227.2 582.2h1v1h-1zM190.9 578.6h1v1h-1zM196.3 582.3h1v1h-1zM200.6 582.5h1v1h-1zM202.9 572.1h1v1h-1zM197.8 580.6h1v1h-1zM204.8 581.8h1v1h-1zM190.2 582.4h1v1h-1zM197.0 577.8h1v1h-1zM209.7 569.7h1v1h-1zM210.9 574.3h1v1h-1zM196.7 572.3h1v1h-1zM200.9 546.4h1v1h-1zM192.9 583.5h1v1h-1zM191.2 579.1h1v1h-1zM207.2 576.2h1v1h-1zM209.8 544.6h1v1h-1zM210.9 573.9h1v1h-1zM197.5 580.2h1v1h-1zM199.4 570.2h1v1h-1zM203.8 578.2h1v1h-1zM191.0 583.7h1v1h-1zM206.4 582.7h1v1h-1zM193.3 580.1h1v1h-1zM194.9 576.0h1v1h-1zM195.5 566.2h1v1h-1zM205.1 556.0h1v1h-1zM196.1 583.5h1v1h-1zM195.3 580.6h1v1h-1zM194.6 565.5h1v1h-1zM202.9 580.2h1v1h-1zM202.9 582.8h1v1h-1zM213.1 572.2h1v1h-1zM197.9 579.0h1v1h-1zM199.3 579.9h1v1h-1zM200.3 577.8h1v1h-1zM195.6 581.5h1v1h-1zM189.5 583.3h1v1h-1zM200.1 576.0h1v1h-1zM198.4 584.0h1v1h-1zM191.0 583.1h1v1h-1zM197.2 583.4h1v1h-1zM214.2 579.8h1v1h-1zM193.0 582.9h1v1h-1zM209.3 560.9h1v1h-1zM208.3 560.9h1v1h-1zM206.8 558.4h1v1h-1zM199.5 577.4h1v1h-1zM196.5 574.2h1v1h-1zM225.5 565.4h1v1h-1zM191.9 578.7h1v1h-1zM194.1 575.0h1v1h-1zM190.4 580.0h1v1h-1zM207.2 575.8h1v1h-1zM210.9 575.4h1v1h-1zM195.6 566.0h1v1h-1zM196.4 568.4h1v1h-1zM208.7 583.6h1v1h-1zM197.9 563.6h1v1h-1zM192.9 578.6h1v1h-1zM195.0 578.4h1v1h-1zM220.7 568.7h1v1h-1zM230.9 540.8h1v1h-1zM195.4 577.5h1v1h-1zM198.9 576.7h1v1h-1zM209.6 571.5h1v1h-1zM207.6 536.8h1v1h-1zM191.9 583.1h1v1h-1zM200.4 568.7h1v1h-1zM197.8 565.1h1v1h-1zM197.9 574.6h1v1h-1zM196.8 574.8h1v1h-1zM203.6 570.5h1v1h-1zM207.8 583.7h1v1h-1zM201.2 566.8h1v1h-1zM189.5 582.6h1v1h-1zM199.7 570.2h1v1h-1zM196.5 573.6h1v1h-1zM202.6 582.8h1v1h-1zM201.2 566.6h1v1h-1zM202.4 576.0h1v1h-1zM199.8 567.6h1v1h-1zM202.7 580.9h1v1h-1zM204.9 575.5h1v1h-1zM201.3 579.8h1v1h-1zM203.9 582.0h1v1h-1zM194.7 572.3h1v1h-1zM194.3 583.8h1v1h-1zM192.9 575.9h1v1h-1zM195.2 583.7h1v1h-1zM197.5 573.8h1v1h-1zM199.5 576.9h1v1h-1zM197.9 583.8h1v1h-1zM200.7 572.6h1v1h-1zM219.6 565.0h1v1h-1zM200.1 583.9h1v1h-1zM194.4 583.4h1v1h-1zM196.2 583.9h1v1h-1zM190.8 578.9h1v1h-1zM201.9 573.5h1v1h-1zM194.4 581.4h1v1h-1zM211.3 580.4h1v1h-1zM196.4 582.8h1v1h-1zM210.6 554.3h1v1h-1zM190.2 581.3h1v1h-1zM207.8 583.4h1v1h-1zM192.0 582.3h1v1h-1zM206.9 561.7h1v1h-1zM196.6 573.4h1v1h-1zM203.1 564.5h1v1h-1zM209.8 561.6h1v1h-1zM203.1 584.0h1v1h-1zM198.1 560.6h1v1h-1zM218.7 557.1h1v1h-1zM197.2 568.7h1v1h-1zM194.1 580.4h1v1h-1zM198.8 583.5h1v1h-1zM196.1 580.0h1v1h-1zM199.4 583.6h1v1h-1zM199.6 579.1h1v1h-1zM198.4 581.7h1v1h-1zM194.2 583.8h1v1h-1zM212.3 564.6h1v1h-1zM194.2 582.0h1v1h-1zM199.5 583.8h1v1h-1zM197.0 579.5h1v1h-1zM198.3 563.1h1v1h-1zM203.2 582.3h1v1h-1zM192.6 579.5h1v1h-1zM210.2 583.9h1v1h-1zM191.3 577.6h1v1h-1zM203.4 572.0h1v1h-1zM196.1 575.5h1v1h-1zM192.5 573.3h1v1h-1zM193.1 580.2h1v1h-1zM201.0 570.7h1v1h-1zM197.6 582.4h1v1h-1zM189.4 582.9h1v1h-1zM207.9 584.0h1v1h-1zM202.4 578.7h1v1h-1zM206.9 572.1h1v1h-1zM189.9 581.7h1v1h-1zM205.6 584.1h1v1h-1zM201.0 566.2h1v1h-1zM207.7 581.4h1v1h-1zM199.3 580.3h1v1h-1zM198.8 582.3h1v1h-1zM194.2 583.0h1v1h-1zM196.4 583.7h1v1h-1zM196.5 576.9h1v1h-1zM198.7 567.1h1v1h-1zM199.7 560.3h1v1h-1zM206.2 583.6h1v1h-1zM197.8 574.4h1v1h-1zM196.8 582.1h1v1h-1zM191.4 584.1h1v1h-1zM198.3 584.0h1v1h-1zM198.8 583.8h1v1h-1zM192.1 583.9h1v1h-1zM196.2 580.7h1v1h-1zM197.9 567.1h1v1h-1zM190.0 582.4h1v1h-1zM202.9 576.8h1v1h-1zM212.1 546.7h1v1h-1zM194.1 577.3h1v1h-1zM192.1 578.7h1v1h-1zM196.3 572.1h1v1h-1zM197.9 573.7h1v1h-1zM191.0 579.3h1v1h-1zM192.0 583.2h1v1h-1zM209.4 542.1h1v1h-1zM190.9 584.0h1v1h-1zM214.5 576.6h1v1h-1zM198.3 583.2h1v1h-1zM211.4 577.5h1v1h-1zM196.8 583.1h1v1h-1zM210.2 573.7h1v1h-1zM196.6 580.1h1v1h-1zM198.2 571.3h1v1h-1zM201.4 567.4h1v1h-1zM198.7 583.0h1v1h-1zM193.1 583.7h1v1h-1zM209.7 569.4h1v1h-1zM197.6 583.7h1v1h-1zM204.0 546.5h1v1h-1zM207.1 562.3h1v1h-1zM189.5 584.1h1v1h-1zM194.7 580.9h1v1h-1zM190.3 582.8h1v1h-1zM197.4 582.9h1v1h-1zM203.4 579.6h1v1h-1zM199.4 582.6h1v1h-1zM193.6 581.0h1v1h-1zM205.5 571.2h1v1h-1zM218.6 563.3h1v1h-1zM206.5 560.0h1v1h-1zM192.8 583.3h1v1h-1zM195.3 581.6h1v1h-1zM195.5 573.2h1v1h-1zM197.5 577.5h1v1h-1zM193.4 578.4h1v1h-1zM198.4 569.7h1v1h-1zM236.7 552.5h1v1h-1zM190.9 577.7h1v1h-1zM189.1 584.1h1v1h-1zM195.9 580.4h1v1h-1zM202.2 581.7h1v1h-1zM192.4 582.9h1v1h-1zM192.3 582.4h1v1h-1zM202.8 569.9h1v1h-1zM197.1 582.2h1v1h-1zM190.5 583.6h1v1h-1zM194.8 581.4h1v1h-1zM191.7 579.2h1v1h-1zM194.0 583.4h1v1h-1zM223.2 565.3h1v1h-1zM202.7 579.9h1v1h-1zM205.0 580.1h1v1h-1zM201.6 576.9h1v1h-1zM207.1 575.5h1v1h-1zM210.1 571.7h1v1h-1zM194.6 569.2h1v1h-1zM191.0 577.6h1v1h-1zM202.0 572.7h1v1h-1zM192.4 578.9h1v1h-1zM195.9 575.7h1v1h-1zM192.0 581.9h1v1h-1zM192.0 578.5h1v1h-1zM193.7 580.1h1v1h-1zM190.4 583.8h1v1h-1zM201.8 582.4h1v1h-1zM192.7 578.4h1v1h-1zM195.2 573.5h1v1h-1zM214.9 583.5h1v1h-1zM207.8 545.0h1v1h-1zM198.7 574.9h1v1h-1zM202.4 580.1h1v1h-1zM190.8 579.2h1v1h-1zM199.9 576.9h1v1h-1zM207.2 574.2h1v1h-1zM194.4 566.2h1v1h-1zM196.6 572.9h1v1h-1zM204.8 583.0h1v1h-1zM202.8 582.4h1v1h-1zM195.5 581.7h1v1h-1zM198.4 577.6h1v1h-1zM200.3 583.6h1v1h-1zM213.0 580.5h1v1h-1zM205.4 552.4h1v1h-1zM190.2 580.6h1v1h-1zM196.7 576.0h1v1h-1zM199.3 563.7h1v1h-1zM193.2 580.2h1v1h-1zM201.3 579.3h1v1h-1zM190.2 583.1h1v1h-1zM192.3 578.0h1v1h-1zM196.2 577.4h1v1h-1zM193.2 573.7h1v1h-1zM193.3 583.5h1v1h-1zM194.2 582.7h1v1h-1zM199.5 582.7h1v1h-1zM196.1 580.3h1v1h-1zM197.3 572.0h1v1h-1zM205.1 577.6h1v1h-1zM201.3 583.2h1v1h-1zM190.8 583.4h1v1h-1zM202.3 582.0h1v1h-1zM200.4 577.5h1v1h-1zM193.1 579.3h1v1h-1zM193.0 580.4h1v1h-1zM201.6 580.0h1v1h-1zM203.8 558.0h1v1h-1zM198.8 584.0h1v1h-1zM193.0 583.8h1v1h-1zM214.2 573.2h1v1h-1zM211.9 560.7h1v1h-1zM199.6 581.9h1v1h-1zM198.9 583.2h1v1h-1zM195.0 572.8h1v1h-1zM196.7 579.5h1v1h-1zM202.2 581.8h1v1h-1zM197.8 583.0h1v1h-1zM195.1 581.6h1v1h-1zM198.3 581.9h1v1h-1zM214.8 580.0h1v1h-1zM198.8 583.1h1v1h-1zM192.6 573.7h1v1h-1zM202.2 571.5h1v1h-1zM191.4 580.8h1v1h-1zM225.5 560.4h1v1h-1zM193.2 574.1h1v1h-1zM207.3 555.1h1v1h-1zM191.4 579.5h1v1h-1zM206.7 582.9h1v1h-1zM206.7 572.8h1v1h-1zM205.2 583.7h1v1h-1zM206.0 581.0h1v1h-1zM197.5 571.4h1v1h-1zM196.8 584.0h1v1h-1zM196.9 577.5h1v1h-1zM191.7 584.0h1v1h-1zM199.7 581.6h1v1h-1zM195.3 576.6h1v1h-1zM193.5 579.4h1v1h-1zM200.8 580.0h1v1h-1zM201.0 583.2h1v1h-1zM194.0 581.0h1v1h-1zM202.6 577.3h1v1h-1zM194.2 571.2h1v1h-1zM194.5 583.2h1v1h-1zM194.9 576.8h1v1h-1zM194.1 571.9h1v1h-1zM194.3 581.2h1v1h-1zM193.7 579.1h1v1h-1zM192.7 580.3h1v1h-1zM193.3 583.9h1v1h-1zM200.0 577.6h1v1h-1zM201.3 583.6h1v1h-1zM207.2 578.5h1v1h-1zM202.1 579.4h1v1h-1zM206.8 584.0h1v1h-1zM199.8 562.9h1v1h-1zM195.4 580.0h1v1h-1zM201.2 577.9h1v1h-1zM224.4 534.0h1v1h-1zM194.2 582.4h1v1h-1zM197.2 571.2h1v1h-1zM191.4 581.4h1v1h-1zM192.6 572.8h1v1h-1zM206.4 582.7h1v1h-1zM197.1 584.0h1v1h-1zM195.6 580.0h1v1h-1zM194.1 576.5h1v1h-1zM193.4 581.8h1v1h-1zM199.0 581.1h1v1h-1zM204.9 583.7h1v1h-1zM212.0 572.8h1v1h-1zM196.0 577.6h1v1h-1zM205.9 576.8h1v1h-1zM193.7 583.8h1v1h-1zM194.3 581.4h1v1h-1zM191.7 580.2h1v1h-1zM193.1 581.7h1v1h-1zM206.8 577.5h1v1h-1zM194.4 583.6h1v1h-1zM192.7 574.1h1v1h-1zM202.0 580.6h1v1h-1zM197.5 572.0h1v1h-1zM203.8 568.4h1v1h-1zM217.5 582.5h1v1h-1zM190.9 583.7h1v1h-1zM194.7 582.9h1v1h-1zM204.3 555.5h1v1h-1zM199.9 565.6h1v1h-1zM191.8 580.4h1v1h-1zM196.9 583.9h1v1h-1zM201.8 583.2h1v1h-1zM202.3 582.9h1v1h-1zM196.6 575.1h1v1h-1zM193.7 577.3h1v1h-1zM191.9 576.8h1v1h-1zM200.2 576.5h1v1h-1zM194.1 581.8h1v1h-1zM257.7 581.2h1v1h-1zM203.3 576.2h1v1h-1zM204.3 576.3h1v1h-1zM226.8 579.2h1v1h-1zM209.5 555.8h1v1h-1zM204.6 569.0h1v1h-1zM200.2 582.9h1v1h-1zM191.6 582.2h1v1h-1zM200.2 583.6h1v1h-1zM199.5 575.6h1v1h-1zM191.8 583.1h1v1h-1zM192.1 582.7h1v1h-1zM197.8 572.4h1v1h-1zM194.4 580.9h1v1h-1zM196.0 568.7h1v1h-1zM212.1 580.5h1v1h-1zM206.2 582.8h1v1h-1zM203.6 574.1h1v1h-1zM189.2 583.8h1v1h-1zM193.7 577.7h1v1h-1zM194.7 583.0h1v1h-1zM194.4 574.7h1v1h-1zM197.5 568.6h1v1h-1zM191.1 577.9h1v1h-1zM192.5 581.1h1v1h-1zM191.1 582.8h1v1h-1zM206.1 581.4h1v1h-1zM191.7 576.4h1v1h-1zM193.2 578.7h1v1h-1zM202.8 581.9h1v1h-1zM193.9 583.7h1v1h-1zM200.2 581.7h1v1h-1zM207.5 560.4h1v1h-1zM189.4 584.1h1v1h-1zM191.2 582.6h1v1h-1zM195.8 575.4h1v1h-1zM202.1 580.9h1v1h-1zM196.0 578.4h1v1h-1zM196.0 567.7h1v1h-1zM195.7 575.0h1v1h-1zM222.5 583.6h1v1h-1zM202.2 583.6h1v1h-1zM193.8 568.9h1v1h-1zM197.5 575.0h1v1h-1zM207.3 581.9h1v1h-1zM197.7 581.8h1v1h-1zM209.6 583.4h1v1h-1zM204.5 583.5h1v1h-1zM204.1 539.5h1v1h-1zM194.1 583.1h1v1h-1zM191.7 583.0h1v1h-1zM216.4 578.7h1v1h-1zM191.2 583.8h1v1h-1zM191.6 583.6h1v1h-1zM196.5 581.3h1v1h-1zM214.1 555.0h1v1h-1zM197.2 560.5h1v1h-1zM191.3 581.9h1v1h-1zM197.7 570.8h1v1h-1zM204.3 560.1h1v1h-1zM190.5 582.8h1v1h-1zM200.4 582.9h1v1h-1zM199.6 579.7h1v1h-1zM190.6 582.9h1v1h-1zM194.6 578.1h1v1h-1zM192.1 582.1h1v1h-1zM197.3 582.1h1v1h-1zM198.7 568.4h1v1h-1zM207.0 558.1h1v1h-1zM195.9 582.9h1v1h-1zM212.0 534.3h1v1h-1zM208.5 578.4h1v1h-1zM200.7 583.7h1v1h-1zM217.4 529.9h1v1h-1zM198.8 581.9h1v1h-1zM191.5 579.0h1v1h-1zM190.2 581.9h1v1h-1zM196.9 578.8h1v1h-1zM205.1 582.9h1v1h-1zM206.1 540.2h1v1h-1zM196.6 580.7h1v1h-1zM194.4 575.3h1v1h-1zM201.0 582.1h1v1h-1zM191.5 578.6h1v1h-1zM209.9 583.5h1v1h-1zM203.9 582.1h1v1h-1zM192.6 583.3h1v1h-1zM193.0 571.3h1v1h-1zM192.5 580.8h1v1h-1zM196.8 577.0h1v1h-1zM216.3 554.8h1v1h-1zM195.2 583.4h1v1h-1zM195.9 582.9h1v1h-1zM192.3 581.6h1v1h-1zM201.8 571.4h1v1h-1zM207.3 583.7h1v1h-1zM195.1 579.9h1v1h-1zM191.0 583.6h1v1h-1zM191.2 582.9h1v1h-1zM196.3 583.0h1v1h-1zM199.4 574.1h1v1h-1zM200.6 579.4h1v1h-1zM193.4 580.4h1v1h-1zM202.7 574.6h1v1h-1zM198.3 583.4h1v1h-1zM208.3 581.8h1v1h-1zM199.9 570.8h1v1h-1zM199.5 579.6h1v1h-1zM192.7 580.3h1v1h-1zM210.4 576.4h1v1h-1zM196.7 581.1h1v1h-1zM194.9 583.5h1v1h-1zM196.2 573.2h1v1h-1zM197.0 583.5h1v1h-1zM204.1 567.6h1v1h-1zM190.6 583.4h1v1h-1zM189.7 583.4h1v1h-1zM199.3 561.0h1v1h-1zM192.7 581.2h1v1h-1zM199.0 582.0h1v1h-1zM195.6 583.9h1v1h-1zM210.2 568.5h1v1h-1zM202.4 575.1h1v1h-1zM205.4 568.6h1v1h-1zM203.2 568.3h1v1h-1zM191.3 582.3h1v1h-1zM204.4 557.8h1v1h-1zM197.7 574.9h1v1h-1zM195.7 578.2h1v1h-1zM193.8 582.3h1v1h-1zM202.9 583.6h1v1h-1zM204.7 572.8h1v1h-1zM206.7 572.4h1v1h-1zM191.8 581.3h1v1h-1zM191.8 577.0h1v1h-1zM199.4 579.5h1v1h-1zM199.8 568.8h1v1h-1zM219.3 559.3h1v1h-1zM192.4 582.5h1v1h-1zM204.9 578.9h1v1h-1zM211.2 565.6h1v1h-1zM189.4 583.6h1v1h-1zM213.0 564.2h1v1h-1zM207.7 559.3h1v1h-1zM223.5 563.2h1v1h-1zM200.2 583.1h1v1h-1zM192.0 583.3h1v1h-1zM198.3 582.2h1v1h-1zM192.4 574.4h1v1h-1zM190.5 580.0h1v1h-1zM205.1 581.6h1v1h-1zM220.9 534.5h1v1h-1zM204.5 573.8h1v1h-1zM204.9 563.8h1v1h-1zM193.6 574.5h1v1h-1zM197.7 576.0h1v1h-1zM193.5 583.8h1v1h-1zM195.5 578.6h1v1h-1zM202.4 567.3h1v1h-1zM193.8 583.7h1v1h-1zM196.0 578.7h1v1h-1zM200.0 577.9h1v1h-1zM203.8 581.9h1v1h-1zM196.7 569.6h1v1h-1zM194.4 583.1h1v1h-1zM189.6 583.7h1v1h-1zM193.9 575.4h1v1h-1zM197.2 583.5h1v1h-1zM195.3 583.9h1v1h-1zM197.6 573.4h1v1h-1zM206.9 569.2h1v1h-1zM198.2 565.0h1v1h-1zM190.1 582.8h1v1h-1zM192.7 580.0h1v1h-1zM197.5 568.2h1v1h-1zM210.0 582.2h1v1h-1zM210.8 580.5h1v1h-1zM195.1 571.9h1v1h-1zM196.2 576.7h1v1h-1zM201.1 577.0h1v1h-1zM192.9 579.6h1v1h-1zM196.2 565.7h1v1h-1zM193.2 579.3h1v1h-1zM206.1 581.3h1v1h-1zM191.5 582.0h1v1h-1zM198.0 573.5h1v1h-1zM202.0 581.8h1v1h-1zM199.3 567.7h1v1h-1zM207.7 555.5h1v1h-1zM196.2 583.4h1v1h-1zM197.7 582.6h1v1h-1zM206.5 582.6h1v1h-1zM194.3 581.1h1v1h-1zM195.7 573.6h1v1h-1zM191.6 581.8h1v1h-1zM198.4 566.4h1v1h-1zM200.7 582.7h1v1h-1zM198.1 579.8h1v1h-1zM197.5 583.1h1v1h-1zM191.6 580.2h1v1h-1zM235.0 566.6h1v1h-1zM198.1 579.1h1v1h-1zM202.9 567.7h1v1h-1zM193.4 580.3h1v1h-1zM200.8 574.3h1v1h-1zM193.2 570.2h1v1h-1zM202.5 582.5h1v1h-1zM202.0 580.2h1v1h-1zM192.0 582.7h1v1h-1zM208.3 576.8h1v1h-1zM191.7 581.7h1v1h-1zM216.3 583.9h1v1h-1zM198.3 578.0h1v1h-1zM215.4 577.8h1v1h-1zM201.6 575.0h1v1h-1zM202.4 580.4h1v1h-1zM204.6 581.7h1v1h-1zM196.7 581.5h1v1h-1zM191.3 578.6h1v1h-1zM196.8 581.5h1v1h-1zM195.3 580.4h1v1h-1zM196.6 573.1h1v1h-1zM197.7 581.1h1v1h-1zM194.2 570.8h1v1h-1zM200.7 569.0h1v1h-1zM195.4 582.9h1v1h-1zM203.2 579.2h1v1h-1zM204.1 582.5h1v1h-1zM195.5 570.1h1v1h-1zM196.7 575.6h1v1h-1zM199.5 583.9h1v1h-1zM204.3 569.2h1v1h-1zM205.5 578.7h1v1h-1zM208.7 577.3h1v1h-1zM204.1 547.0h1v1h-1zM191.2 583.4h1v1h-1zM210.4 575.5h1v1h-1zM198.9 582.4h1v1h-1zM197.5 573.1h1v1h-1zM191.6 581.3h1v1h-1zM203.6 578.4h1v1h-1zM198.2 567.5h1v1h-1zM201.0 584.1h1v1h-1zM190.2 582.7h1v1h-1zM198.9 565.1h1v1h-1zM191.1 580.9h1v1h-1zM204.7 583.7h1v1h-1zM195.5 584.1h1v1h-1zM204.5 582.8h1v1h-1zM194.5 570.9h1v1h-1zM195.2 581.3h1v1h-1zM191.8 581.4h1v1h-1zM200.6 576.1h1v1h-1zM204.1 565.9h1v1h-1zM201.6 581.5h1v1h-1zM191.6 575.2h1v1h-1zM190.3 582.6h1v1h-1zM195.0 578.3h1v1h-1zM190.6 581.4h1v1h-1zM191.9 580.3h1v1h-1zM210.8 562.6h1v1h-1zM198.1 579.3h1v1h-1zM196.8 580.3h1v1h-1zM199.2 569.6h1v1h-1zM197.1 576.4h1v1h-1zM195.4 566.2h1v1h-1zM199.8 563.0h1v1h-1zM196.7 580.9h1v1h-1zM191.2 582.6h1v1h-1zM202.4 577.9h1v1h-1zM191.4 579.9h1v1h-1zM194.7 582.9h1v1h-1zM199.1 580.3h1v1h-1zM207.0 568.7h1v1h-1zM193.1 582.6h1v1h-1zM202.6 579.4h1v1h-1zM190.8 578.6h1v1h-1zM202.7 568.3h1v1h-1zM194.7 581.3h1v1h-1zM197.5 566.5h1v1h-1zM194.0 574.9h1v1h-1zM193.6 583.1h1v1h-1zM191.4 581.4h1v1h-1zM205.3 571.8h1v1h-1zM203.0 575.7h1v1h-1zM197.4 567.4h1v1h-1zM206.8 574.1h1v1h-1zM196.2 573.5h1v1h-1zM198.5 556.4h1v1h-1zM191.8 581.4h1v1h-1zM190.6 583.9h1v1h-1zM189.6 582.7h1v1h-1zM191.3 584.0h1v1h-1zM215.4 546.3h1v1h-1zM192.2 580.4h1v1h-1zM193.8 579.4h1v1h-1zM195.0 583.4h1v1h-1zM205.7 581.9h1v1h-1zM212.9 567.8h1v1h-1zM204.7 556.1h1v1h-1zM195.3 581.3h1v1h-1zM196.6 574.9h1v1h-1zM192.9 583.2h1v1h-1zM190.9 579.9h1v1h-1zM204.5 569.9h1v1h-1zM200.0 557.5h1v1h-1zM210.6 569.8h1v1h-1zM199.5 576.0h1v1h-1zM202.8 579.3h1v1h-1zM191.3 581.9h1v1h-1zM193.6 577.3h1v1h-1zM196.4 577.5h1v1h-1zM195.3 583.3h1v1h-1zM192.8 575.9h1v1h-1zM192.6 583.9h1v1h-1zM205.7 578.4h1v1h-1zM195.1 583.6h1v1h-1zM203.2 570.6h1v1h-1zM192.8 575.9h1v1h-1zM202.4 571.0h1v1h-1zM198.6 581.8h1v1h-1zM197.8 580.5h1v1h-1zM197.3 583.0h1v1h-1zM195.3 583.8h1v1h-1zM210.3 581.1h1v1h-1zM201.9 582.2h1v1h-1zM212.9 572.9h1v1h-1zM214.2 545.9h1v1h-1zM204.6 581.0h1v1h-1zM197.3 583.9h1v1h-1zM206.2 580.3h1v1h-1zM205.2 567.9h1v1h-1zM194.2 579.3h1v1h-1zM189.5 583.8h1v1h-1zM190.1 581.6h1v1h-1zM197.3 580.2h1v1h-1zM190.7 582.2h1v1h-1zM195.0 577.3h1v1h-1zM192.4 579.6h1v1h-1zM194.4 572.4h1v1h-1zM194.7 576.9h1v1h-1zM195.8 582.3h1v1h-1zM191.3 580.8h1v1h-1zM197.3 578.0h1v1h-1zM197.6 563.1h1v1h-1zM194.2 577.6h1v1h-1zM197.8 571.2h1v1h-1zM205.8 577.6h1v1h-1zM190.9 581.5h1v1h-1zM201.7 555.6h1v1h-1zM195.2 578.6h1v1h-1zM195.3 577.2h1v1h-1zM206.6 583.8h1v1h-1zM203.6 535.9h1v1h-1zM191.6 580.8h1v1h-1zM207.4 561.9h1v1h-1zM205.0 581.6h1v1h-1zM198.1 580.3h1v1h-1zM227.3 575.5h1v1h-1zM199.7 583.7h1v1h-1zM200.7 583.5h1v1h-1zM191.4 580.2h1v1h-1zM192.2 579.0h1v1h-1zM195.6 571.5h1v1h-1zM204.3 574.8h1v1h-1zM196.6 575.0h1v1h-1zM196.3 580.5h1v1h-1zM209.3 566.9h1v1h-1zM202.0 573.0h1v1h-1zM208.0 574.9h1v1h-1zM197.7 583.9h1v1h-1zM209.4 581.6h1v1h-1zM211.3 570.5h1v1h-1zM198.4 578.7h1v1h-1zM212.2 571.5h1v1h-1zM195.2 578.4h1v1h-1zM216.7 574.5h1v1h-1zM197.9 583.0h1v1h-1zM199.1 577.7h1v1h-1zM194.7 584.0h1v1h-1zM200.9 584.0h1v1h-1zM196.2 582.0h1v1h-1zM208.2 576.7h1v1h-1zM200.0 582.5h1v1h-1zM189.3 583.3h1v1h-1zM199.9 583.9h1v1h-1zM192.9 583.9h1v1h-1zM190.4 583.8h1v1h-1zM190.8 582.4h1v1h-1zM199.3 575.2h1v1h-1zM190.0 582.7h1v1h-1zM193.6 574.6h1v1h-1zM206.0 583.0h1v1h-1zM204.6 573.5h1v1h-1zM196.0 575.9h1v1h-1zM199.1 582.4h1v1h-1zM197.5 566.2h1v1h-1zM190.9 582.1h1v1h-1zM205.2 577.6h1v1h-1zM193.7 583.5h1v1h-1zM202.9 583.8h1v1h-1zM192.9 573.6h1v1h-1zM193.3 577.9h1v1h-1zM197.9 580.6h1v1h-1zM194.6 568.6h1v1h-1zM204.8 565.2h1v1h-1zM192.0 582.7h1v1h-1zM196.7 579.3h1v1h-1zM193.2 573.5h1v1h-1zM204.1 583.6h1v1h-1zM191.9 583.8h1v1h-1zM197.3 581.3h1v1h-1zM208.8 565.3h1v1h-1zM192.6 582.7h1v1h-1zM214.7 566.4h1v1h-1zM190.3 580.4h1v1h-1zM197.2 573.7h1v1h-1zM196.8 583.0h1v1h-1zM212.5 574.1h1v1h-1zM194.3 568.3h1v1h-1zM191.6 583.9h1v1h-1zM201.7 575.1h1v1h-1zM199.4 568.5h1v1h-1zM191.3 582.4h1v1h-1zM189.9 583.2h1v1h-1zM208.9 578.1h1v1h-1zM189.6 583.7h1v1h-1zM191.1 583.7h1v1h-1zM200.8 570.6h1v1h-1zM203.0 583.6h1v1h-1zM213.3 571.6h1v1h-1zM203.8 582.0h1v1h-1zM196.2 580.6h1v1h-1zM199.4 575.5h1v1h-1zM199.4 564.9h1v1h-1zM192.9 582.3h1v1h-1zM198.3 562.4h1v1h-1zM202.0 574.5h1v1h-1zM201.8 580.2h1v1h-1zM191.7 576.3h1v1h-1zM196.7 579.5h1v1h-1zM204.1 579.8h1v1h-1zM193.5 580.3h1v1h-1zM215.5 549.7h1v1h-1zM203.4 567.0h1v1h-1zM202.5 572.4h1v1h-1zM199.4 577.4h1v1h-1zM194.7 582.1h1v1h-1zM210.7 555.1h1v1h-1zM201.5 581.8h1v1h-1zM197.3 575.9h1v1h-1zM197.1 582.3h1v1h-1zM200.7 550.9h1v1h-1zM202.3 574.0h1v1h-1zM200.2 575.2h1v1h-1zM197.2 582.2h1v1h-1zM199.2 570.3h1v1h-1zM198.3 584.1h1v1h-1zM200.7 578.9h1v1h-1zM193.8 576.9h1v1h-1zM205.1 570.9h1v1h-1zM193.5 581.8h1v1h-1zM196.0 582.1h1v1h-1zM200.6 575.2h1v1h-1zM196.0 577.6h1v1h-1zM200.2 576.9h1v1h-1zM194.8 583.5h1v1h-1zM197.1 567.1h1v1h-1zM197.4 583.7h1v1h-1zM193.3 584.0h1v1h-1zM192.3 583.1h1v1h-1zM204.0 570.9h1v1h-1zM197.1 579.4h1v1h-1zM195.1 582.7h1v1h-1zM196.6 580.1h1v1h-1zM193.8 568.6h1v1h-1zM202.5 579.7h1v1h-1zM208.5 581.7h1v1h-1zM194.1 582.3h1v1h-1zM198.3 567.2h1v1h-1zM195.1 575.8h1v1h-1zM206.3 582.8h1v1h-1zM195.4 583.7h1v1h-1zM194.2 577.7h1v1h-1zM204.7 569.6h1v1h-1zM190.6 581.0h1v1h-1zM195.9 581.5h1v1h-1zM194.8 584.1h1v1h-1zM192.4 577.5h1v1h-1zM199.1 578.8h1v1h-1zM205.2 575.1h1v1h-1zM195.5 578.6h1v1h-1zM192.2 583.7h1v1h-1zM203.0 559.3h1v1h-1zM191.4 580.9h1v1h-1zM200.7 583.5h1v1h-1zM200.2 575.5h1v1h-1zM202.6 580.5h1v1h-1zM202.1 583.6h1v1h-1zM213.0 559.6h1v1h-1zM193.6 575.9h1v1h-1zM193.3 582.3h1v1h-1zM193.2 578.8h1v1h-1zM191.1 581.4h1v1h-1zM196.1 579.6h1v1h-1zM208.3 576.5h1v1h-1zM198.2 578.8h1v1h-1zM194.5 582.8h1v1h-1zM212.3 573.8h1v1h-1zM191.3 579.6h1v1h-1zM209.9 566.6h1v1h-1zM197.6 576.4h1v1h-1zM208.6 573.7h1v1h-1zM195.7 583.8h1v1h-1zM212.1 573.1h1v1h-1zM192.8 582.8h1v1h-1zM201.9 581.5h1v1h-1zM209.2 582.8h1v1h-1zM198.7 583.3h1v1h-1zM203.9 568.2h1v1h-1zM205.1 579.2h1v1h-1zM192.1 579.7h1v1h-1zM198.6 579.6h1v1h-1zM206.7 584.0h1v1h-1zM215.4 569.7h1v1h-1zM196.8 584.1h1v1h-1zM193.1 571.2h1v1h-1zM192.5 583.0h1v1h-1zM210.9 542.8h1v1h-1zM190.8 582.1h1v1h-1zM202.8 567.8h1v1h-1zM196.1 575.5h1v1h-1zM197.5 563.1h1v1h-1zM192.1 583.8h1v1h-1zM204.6 580.1h1v1h-1zM197.3 572.4h1v1h-1zM196.2 576.3h1v1h-1zM205.2 574.4h1v1h-1zM192.3 583.4h1v1h-1zM201.3 563.3h1v1h-1zM196.5 563.5h1v1h-1zM197.0 568.9h1v1h-1zM197.1 584.1h1v1h-1zM195.3 583.1h1v1h-1zM190.4 583.3h1v1h-1zM197.8 584.1h1v1h-1zM193.5 576.3h1v1h-1zM190.1 582.5h1v1h-1zM200.0 581.9h1v1h-1zM196.9 571.9h1v1h-1zM199.1 583.2h1v1h-1zM202.6 573.6h1v1h-1zM196.8 568.4h1v1h-1zM193.8 568.2h1v1h-1zM199.9 570.7h1v1h-1zM199.3 580.9h1v1h-1zM204.5 573.6h1v1h-1zM200.8 583.9h1v1h-1zM190.2 583.9h1v1h-1zM190.7 578.8h1v1h-1zM204.8 575.5h1v1h-1zM195.6 577.5h1v1h-1zM194.7 581.8h1v1h-1zM191.5 581.7h1v1h-1zM192.8 580.8h1v1h-1zM192.5 582.7h1v1h-1zM195.7 583.4h1v1h-1zM200.8 581.0h1v1h-1zM207.6 532.6h1v1h-1zM200.2 559.1h1v1h-1zM195.8 582.3h1v1h-1zM193.8 575.3h1v1h-1zM191.4 581.3h1v1h-1zM196.5 580.5h1v1h-1zM203.6 578.0h1v1h-1zM194.6 576.6h1v1h-1zM201.4 583.8h1v1h-1zM198.3 575.6h1v1h-1zM190.6 583.8h1v1h-1zM192.1 579.3h1v1h-1zM192.7 581.4h1v1h-1zM193.8 571.7h1v1h-1zM207.5 570.3h1v1h-1zM203.0 567.1h1v1h-1zM192.8 579.6h1v1h-1zM205.6 568.4h1v1h-1zM192.8 581.7h1v1h-1zM197.2 566.8h1v1h-1zM203.7 573.3h1v1h-1zM213.5 577.1h1v1h-1zM191.2 578.0h1v1h-1zM199.4 581.2h1v1h-1zM194.3 570.9h1v1h-1zM190.9 583.2h1v1h-1zM216.8 560.0h1v1h-1zM194.6 583.6h1v1h-1zM195.8 579.5h1v1h-1zM193.1 581.8h1v1h-1zM207.4 540.8h1v1h-1zM204.3 578.8h1v1h-1zM197.9 583.1h1v1h-1zM198.5 583.0h1v1h-1zM210.0 578.9h1v1h-1zM210.6 580.6h1v1h-1zM203.4 579.8h1v1h-1zM190.7 578.5h1v1h-1zM207.6 584.0h1v1h-1zM211.3 553.8h1v1h-1zM196.5 576.5h1v1h-1zM193.5 582.1h1v1h-1zM206.8 580.2h1v1h-1zM193.2 576.7h1v1h-1zM194.0 578.4h1v1h-1zM193.5 583.2h1v1h-1zM207.4 564.6h1v1h-1zM202.1 563.4h1v1h-1zM191.1 581.5h1v1h-1zM197.8 579.5h1v1h-1zM190.4 583.4h1v1h-1zM195.1 578.5h1v1h-1zM200.2 573.9h1v1h-1zM197.7 584.1h1v1h-1zM212.8 581.6h1v1h-1zM217.8 559.8h1v1h-1zM211.3 571.1h1v1h-1zM196.2 574.5h1v1h-1zM197.3 574.7h1v1h-1zM189.6 582.3h1v1h-1zM192.2 576.8h1v1h-1zM193.5 582.7h1v1h-1zM198.0 578.9h1v1h-1zM201.2 576.0h1v1h-1zM190.5 581.8h1v1h-1zM196.4 577.5h1v1h-1zM199.2 581.7h1v1h-1zM201.0 576.7h1v1h-1zM190.1 582.5h1v1h-1zM198.2 575.3h1v1h-1zM189.7 582.8h1v1h-1zM191.2 582.6h1v1h-1zM193.4 571.5h1v1h-1zM194.5 582.4h1v1h-1zM194.3 579.3h1v1h-1zM201.6 571.2h1v1h-1zM215.1 551.0h1v1h-1zM190.6 581.6h1v1h-1zM190.8 583.1h1v1h-1zM195.7 572.6h1v1h-1zM196.7 573.2h1v1h-1zM193.7 577.2h1v1h-1zM205.8 581.7h1v1h-1zM192.9 582.2h1v1h-1zM207.0 583.0h1v1h-1zM190.7 581.4h1v1h-1zM197.6 578.0h1v1h-1zM196.8 578.8h1v1h-1zM195.3 584.0h1v1h-1zM197.0 569.2h1v1h-1zM194.9 580.2h1v1h-1zM201.9 582.1h1v1h-1zM201.6 579.8h1v1h-1zM196.0 583.4h1v1h-1zM195.2 583.1h1v1h-1zM192.5 579.3h1v1h-1zM194.7 574.4h1v1h-1zM197.1 579.7h1v1h-1zM197.7 566.2h1v1h-1zM202.9 560.1h1v1h-1zM195.3 572.5h1v1h-1zM197.1 580.6h1v1h-1zM201.7 573.8h1v1h-1zM199.7 582.1h1v1h-1zM194.0 580.1h1v1h-1zM192.5 583.8h1v1h-1zM190.5 584.0h1v1h-1zM206.5 565.1h1v1h-1zM190.0 581.9h1v1h-1zM199.6 569.4h1v1h-1zM192.7 584.0h1v1h-1zM195.3 578.0h1v1h-1zM203.5 565.2h1v1h-1zM200.6 573.0h1v1h-1zM202.6 580.0h1v1h-1zM197.7 582.6h1v1h-1zM211.3 528.2h1v1h-1zM205.8 570.0h1v1h-1zM195.1 583.4h1v1h-1zM206.1 563.4h1v1h-1zM194.2 581.9h1v1h-1zM194.4 582.1h1v1h-1zM215.2 562.3h1v1h-1zM205.5 550.6h1v1h-1zM199.8 583.9h1v1h-1zM196.5 580.7h1v1h-1zM209.1 583.8h1v1h-1zM192.2 581.7h1v1h-1zM194.1 577.8h1v1h-1zM198.5 579.6h1v1h-1zM192.7 580.1h1v1h-1zM199.5 577.3h1v1h-1zM197.0 579.5h1v1h-1zM208.5 565.9h1v1h-1zM212.6 566.9h1v1h-1zM201.2 579.0h1v1h-1zM201.2 578.4h1v1h-1zM190.7 580.7h1v1h-1zM192.3 578.4h1v1h-1zM202.1 555.2h1v1h-1zM208.1 557.5h1v1h-1zM197.2 573.9h1v1h-1zM191.9 582.2h1v1h-1zM203.1 577.7h1v1h-1zM199.9 583.6h1v1h-1zM206.7 555.8h1v1h-1zM196.4 583.1h1v1h-1zM204.3 564.9h1v1h-1zM212.9 567.7h1v1h-1zM202.4 552.3h1v1h-1zM189.8 582.5h1v1h-1zM194.6 566.0h1v1h-1zM203.8 580.3h1v1h-1zM199.0 572.3h1v1h-1zM197.8 582.0h1v1h-1zM192.0 582.6h1v1h-1zM205.7 556.9h1v1h-1zM189.6 582.8h1v1h-1zM199.6 582.3h1v1h-1zM193.8 568.5h1v1h-1zM215.1 545.3h1v1h-1zM190.8 583.4h1v1h-1zM204.0 567.2h1v1h-1zM219.6 583.6h1v1h-1zM194.4 574.1h1v1h-1zM191.5 583.7h1v1h-1zM206.0 575.2h1v1h-1zM200.9 567.0h1v1h-1zM202.7 575.7h1v1h-1zM200.8 577.7h1v1h-1zM194.9 581.1h1v1h-1zM208.5 560.8h1v1h-1zM205.3 576.3h1v1h-1zM190.7 584.0h1v1h-1zM204.7 569.0h1v1h-1zM200.4 571.3h1v1h-1zM199.9 583.2h1v1h-1zM189.7 581.9h1v1h-1zM191.2 581.0h1v1h-1zM194.7 577.5h1v1h-1zM209.8 576.2h1v1h-1zM197.0 567.1h1v1h-1zM209.6 548.2h1v1h-1zM201.7 547.4h1v1h-1zM199.1 575.9h1v1h-1zM193.4 575.6h1v1h-1zM193.1 581.9h1v1h-1zM196.9 577.4h1v1h-1zM216.6 577.0h1v1h-1zM190.8 580.7h1v1h-1zM191.1 582.6h1v1h-1zM191.4 577.8h1v1h-1zM190.8 582.5h1v1h-1zM213.4 568.0h1v1h-1zM198.9 568.7h1v1h-1zM203.5 574.8h1v1h-1zM191.6 581.6h1v1h-1zM195.6 582.0h1v1h-1zM197.0 568.5h1v1h-1zM222.0 578.2h1v1h-1zM206.1 549.7h1v1h-1zM209.9 583.4h1v1h-1zM212.9 574.2h1v1h-1zM197.5 583.7h1v1h-1zM192.5 581.0h1v1h-1zM212.2 561.0h1v1h-1zM206.4 584.1h1v1h-1zM191.0 583.4h1v1h-1zM207.7 566.8h1v1h-1zM193.8 583.2h1v1h-1zM197.5 583.2h1v1h-1zM193.9 580.6h1v1h-1zM212.3 550.6h1v1h-1zM192.0 574.9h1v1h-1zM190.4 581.3h1v1h-1zM202.8 583.8h1v1h-1zM203.2 582.0h1v1h-1zM191.0 578.3h1v1h-1zM192.6 573.8h1v1h-1zM210.8 561.8h1v1h-1zM208.0 568.7h1v1h-1zM190.9 583.2h1v1h-1zM198.8 575.4h1v1h-1zM200.9 580.4h1v1h-1zM195.2 582.8h1v1h-1zM209.4 561.5h1v1h-1zM191.8 575.1h1v1h-1zM194.2 583.5h1v1h-1zM191.4 583.8h1v1h-1zM194.7 580.6h1v1h-1zM191.8 577.5h1v1h-1zM195.0 579.6h1v1h-1zM211.6 575.6h1v1h-1zM195.7 583.0h1v1h-1zM192.1 577.9h1v1h-1zM198.1 584.0h1v1h-1zM195.2 577.8h1v1h-1zM195.2 582.7h1v1h-1zM192.1 579.4h1v1h-1zM198.9 580.5h1v1h-1zM199.6 570.9h1v1h-1zM211.8 575.9h1v1h-1zM196.0 580.3h1v1h-1zM205.7 571.1h1v1h-1zM196.2 582.6h1v1h-1zM209.4 546.7h1v1h-1zM190.9 583.4h1v1h-1zM198.3 575.1h1v1h-1zM205.2 582.2h1v1h-1zM204.7 565.2h1v1h-1zM201.2 569.7h1v1h-1zM205.1 553.2h1v1h-1zM202.4 583.0h1v1h-1zM191.9 581.3h1v1h-1zM192.1 583.3h1v1h-1zM195.0 580.5h1v1h-1zM216.6 578.7h1v1h-1zM194.8 570.7h1v1h-1zM194.8 580.6h1v1h-1zM205.6 572.6h1v1h-1zM193.9 577.7h1v1h-1zM195.5 579.0h1v1h-1zM196.1 582.7h1v1h-1zM192.8 583.7h1v1h-1zM201.9 570.4h1v1h-1zM203.5 572.3h1v1h-1zM198.4 553.8h1v1h-1zM203.0 584.0h1v1h-1zM195.5 582.9h1v1h-1zM197.1 576.7h1v1h-1zM196.8 581.5h1v1h-1zM202.4 582.7h1v1h-1zM196.4 579.6h1v1h-1zM191.4 581.3h1v1h-1zM194.5 583.4h1v1h-1zM194.5 583.3h1v1h-1zM203.7 560.7h1v1h-1zM200.2 575.7h1v1h-1zM191.9 583.8h1v1h-1zM202.2 575.1h1v1h-1zM205.8 562.4h1v1h-1zM212.9 578.8h1v1h-1zM213.0 554.3h1v1h-1zM199.1 576.3h1v1h-1zM219.6 566.2h1v1h-1zM194.4 582.4h1v1h-1zM191.9 577.5h1v1h-1zM213.3 581.1h1v1h-1zM206.6 567.5h1v1h-1zM191.4 583.0h1v1h-1zM194.8 577.6h1v1h-1zM189.7 582.8h1v1h-1zM193.7 579.9h1v1h-1zM201.2 579.2h1v1h-1zM194.6 583.2h1v1h-1zM194.5 571.8h1v1h-1zM200.8 583.4h1v1h-1zM193.7 581.8h1v1h-1zM219.9 524.8h1v1h-1zM197.1 562.7h1v1h-1zM194.5 583.0h1v1h-1zM198.3 573.6h1v1h-1zM200.6 576.0h1v1h-1zM197.1 580.4h1v1h-1zM193.3 578.0h1v1h-1zM210.6 566.4h1v1h-1zM198.8 582.4h1v1h-1zM203.1 570.1h1v1h-1zM190.7 581.5h1v1h-1zM210.1 569.5h1v1h-1zM195.1 574.6h1v1h-1zM206.1 571.9h1v1h-1zM195.6 579.1h1v1h-1zM195.3 583.9h1v1h-1zM198.0 581.6h1v1h-1zM207.0 570.3h1v1h-1zM202.0 574.4h1v1h-1zM195.0 574.9h1v1h-1zM192.1 582.2h1v1h-1zM210.4 558.3h1v1h-1zM192.8 581.5h1v1h-1zM208.4 567.0h1v1h-1zM194.1 580.9h1v1h-1zM202.5 546.1h1v1h-1zM206.4 566.8h1v1h-1zM217.1 576.8h1v1h-1zM192.8 574.7h1v1h-1zM200.7 570.3h1v1h-1zM209.7 567.2h1v1h-1zM189.3 583.6h1v1h-1zM214.8 572.4h1v1h-1zM190.5 580.5h1v1h-1zM202.3 562.8h1v1h-1zM195.8 583.4h1v1h-1zM191.2 584.0h1v1h-1zM192.1 584.0h1v1h-1zM194.1 583.6h1v1h-1zM199.8 576.3h1v1h-1zM195.8 581.4h1v1h-1zM194.4 573.0h1v1h-1zM198.9 576.3h1v1h-1zM203.5 576.3h1v1h-1zM191.7 582.7h1v1h-1zM193.8 582.2h1v1h-1zM195.8 572.6h1v1h-1zM237.8 572.4h1v1h-1zM199.7 583.9h1v1h-1zM201.7 569.5h1v1h-1zM197.1 579.9h1v1h-1zM190.3 584.0h1v1h-1zM197.2 575.2h1v1h-1zM196.1 584.1h1v1h-1zM206.3 581.4h1v1h-1zM194.0 582.9h1v1h-1zM198.0 563.9h1v1h-1zM195.9 582.4h1v1h-1zM190.6 582.6h1v1h-1zM202.3 581.3h1v1h-1zM191.6 581.0h1v1h-1zM199.1 579.6h1v1h-1zM197.5 580.6h1v1h-1zM204.7 551.6h1v1h-1zM199.3 580.9h1v1h-1zM206.5 579.4h1v1h-1zM200.6 578.9h1v1h-1zM191.3 577.4h1v1h-1zM198.9 581.8h1v1h-1zM194.9 577.5h1v1h-1zM192.1 583.8h1v1h-1zM202.1 576.8h1v1h-1zM213.5 557.3h1v1h-1zM194.9 581.5h1v1h-1zM211.5 562.2h1v1h-1zM214.0 561.7h1v1h-1zM193.8 579.6h1v1h-1zM190.5 581.8h1v1h-1zM196.9 583.1h1v1h-1zM208.8 581.8h1v1h-1zM197.7 571.2h1v1h-1zM198.9 583.5h1v1h-1zM189.4 584.0h1v1h-1zM204.3 581.2h1v1h-1zM197.1 574.7h1v1h-1zM196.6 576.9h1v1h-1zM196.4 581.7h1v1h-1zM194.1 580.7h1v1h-1zM194.1 584.1h1v1h-1zM189.5 582.5h1v1h-1zM201.6 577.5h1v1h-1zM191.9 583.9h1v1h-1zM196.7 558.3h1v1h-1zM209.1 552.7h1v1h-1zM197.4 580.6h1v1h-1zM196.9 571.3h1v1h-1zM195.4 575.3h1v1h-1zM195.2 578.6h1v1h-1zM196.2 581.7h1v1h-1zM206.0 564.0h1v1h-1zM194.0 583.0h1v1h-1zM214.7 574.9h1v1h-1zM201.8 573.5h1v1h-1zM224.3 553.6h1v1h-1zM191.3 576.9h1v1h-1zM197.0 579.6h1v1h-1zM216.3 573.4h1v1h-1zM197.7 573.3h1v1h-1zM190.3 583.9h1v1h-1zM214.1 581.4h1v1h-1zM197.0 570.5h1v1h-1zM205.3 560.1h1v1h-1zM196.7 579.7h1v1h-1zM190.7 578.7h1v1h-1zM198.5 574.6h1v1h-1zM202.1 570.8h1v1h-1zM194.0 568.3h1v1h-1zM194.5 580.8h1v1h-1zM190.6 581.6h1v1h-1zM191.3 577.2h1v1h-1zM201.0 580.3h1v1h-1zM190.0 583.6h1v1h-1zM201.2 569.6h1v1h-1zM205.3 576.6h1v1h-1zM197.3 583.9h1v1h-1zM207.1 553.3h1v1h-1zM191.6 583.1h1v1h-1zM207.9 580.7h1v1h-1zM192.4 575.8h1v1h-1zM200.7 581.6h1v1h-1zM196.1 583.2h1v1h-1zM189.6 584.0h1v1h-1zM201.1 578.7h1v1h-1zM194.1 576.4h1v1h-1zM196.9 575.8h1v1h-1zM193.7 583.3h1v1h-1zM192.2 582.3h1v1h-1zM211.1 582.9h1v1h-1zM193.2 583.0h1v1h-1zM195.3 577.0h1v1h-1zM191.7 582.4h1v1h-1zM193.1 582.7h1v1h-1zM193.3 578.3h1v1h-1zM204.4 570.3h1v1h-1zM192.7 578.9h1v1h-1zM205.9 583.9h1v1h-1zM195.2 583.8h1v1h-1zM191.2 582.8h1v1h-1zM193.9 581.8h1v1h-1zM213.0 565.3h1v1h-1zM194.9 567.9h1v1h-1zM195.6 575.7h1v1h-1zM197.7 580.5h1v1h-1zM193.0 576.0h1v1h-1zM216.4 554.1h1v1h-1zM194.6 573.0h1v1h-1zM200.6 576.3h1v1h-1zM200.6 567.2h1v1h-1zM200.8 551.5h1v1h-1zM209.5 583.7h1v1h-1zM194.1 582.9h1v1h-1zM200.2 583.2h1v1h-1zM207.6 567.0h1v1h-1zM196.1 581.9h1v1h-1zM225.1 581.0h1v1h-1zM200.1 582.7h1v1h-1zM202.3 577.0h1v1h-1zM194.2 570.8h1v1h-1zM203.1 579.2h1v1h-1zM214.6 516.9h1v1h-1zM197.7 574.3h1v1h-1zM197.5 562.4h1v1h-1zM207.5 535.0h1v1h-1zM202.4 580.2h1v1h-1zM196.7 575.1h1v1h-1zM238.1 580.5h1v1h-1zM199.1 581.1h1v1h-1zM191.8 583.0h1v1h-1zM198.3 577.2h1v1h-1zM199.6 563.6h1v1h-1zM194.0 566.7h1v1h-1zM201.3 572.6h1v1h-1zM219.6 571.3h1v1h-1zM203.7 580.6h1v1h-1zM189.3 583.2h1v1h-1zM193.7 574.1h1v1h-1zM193.0 577.6h1v1h-1zM202.6 580.3h1v1h-1zM199.2 558.1h1v1h-1zM193.1 576.4h1v1h-1zM195.7 583.2h1v1h-1zM208.1 549.2h1v1h-1zM201.4 579.8h1v1h-1zM198.1 571.0h1v1h-1zM204.4 583.5h1v1h-1zM202.3 576.4h1v1h-1zM203.4 577.7h1v1h-1zM198.1 582.9h1v1h-1zM201.0 577.8h1v1h-1zM193.2 582.6h1v1h-1zM200.5 576.2h1v1h-1zM195.0 577.9h1v1h-1zM196.6 583.4h1v1h-1zM194.3 578.4h1v1h-1zM192.7 571.7h1v1h-1zM205.4 566.7h1v1h-1zM189.5 583.0h1v1h-1zM193.1 580.5h1v1h-1zM199.7 578.1h1v1h-1zM198.8 584.1h1v1h-1zM202.0 571.1h1v1h-1zM213.3 576.9h1v1h-1zM199.2 582.6h1v1h-1zM195.6 572.7h1v1h-1zM191.7 577.0h1v1h-1zM209.7 567.1h1v1h-1zM192.9 571.7h1v1h-1zM196.4 580.3h1v1h-1zM199.3 584.0h1v1h-1zM197.9 579.6h1v1h-1zM193.8 571.5h1v1h-1zM212.1 564.0h1v1h-1zM208.5 581.8h1v1h-1zM190.5 583.3h1v1h-1zM209.6 582.7h1v1h-1zM198.2 578.9h1v1h-1zM196.5 578.3h1v1h-1zM191.7 582.8h1v1h-1zM198.9 581.7h1v1h-1zM202.7 583.4h1v1h-1zM193.7 580.6h1v1h-1zM194.1 579.5h1v1h-1zM202.9 581.5h1v1h-1zM193.6 583.4h1v1h-1zM213.4 568.6h1v1h-1zM200.4 563.5h1v1h-1zM191.5 584.1h1v1h-1zM201.0 582.9h1v1h-1zM201.4 581.8h1v1h-1zM192.9 580.4h1v1h-1zM195.5 571.3h1v1h-1zM196.9 579.6h1v1h-1zM194.3 577.7h1v1h-1zM200.7 565.7h1v1h-1zM203.6 581.2h1v1h-1zM193.2 579.7h1v1h-1zM209.7 565.7h1v1h-1zM190.7 583.8h1v1h-1zM207.9 565.2h1v1h-1zM203.4 581.2h1v1h-1zM199.2 583.8h1v1h-1zM201.9 583.4h1v1h-1zM202.7 578.0h1v1h-1zM189.7 582.7h1v1h-1zM193.4 582.5h1v1h-1zM193.1 583.7h1v1h-1zM212.3 580.3h1v1h-1zM194.4 570.0h1v1h-1zM202.2 581.8h1v1h-1zM221.1 574.9h1v1h-1zM194.7 582.4h1v1h-1zM201.0 563.2h1v1h-1zM194.2 583.5h1v1h-1zM199.5 582.0h1v1h-1zM195.4 562.9h1v1h-1zM193.8 583.8h1v1h-1zM190.1 583.5h1v1h-1zM205.7 571.7h1v1h-1zM195.6 575.5h1v1h-1zM193.8 576.3h1v1h-1zM196.3 571.3h1v1h-1zM197.5 576.7h1v1h-1zM196.1 573.6h1v1h-1zM200.1 572.3h1v1h-1zM206.0 580.1h1v1h-1zM202.5 580.7h1v1h-1zM197.1 583.1h1v1h-1zM204.7 570.5h1v1h-1zM194.8 579.7h1v1h-1zM198.6 567.3h1v1h-1zM199.8 584.0h1v1h-1zM194.7 583.3h1v1h-1zM202.4 582.9h1v1h-1zM205.8 569.4h1v1h-1zM208.3 572.2h1v1h-1zM201.3 565.5h1v1h-1zM195.7 583.3h1v1h-1zM200.2 566.5h1v1h-1zM195.4 584.0h1v1h-1zM204.9 574.7h1v1h-1zM198.5 582.9h1v1h-1zM197.5 561.9h1v1h-1zM192.8 581.5h1v1h-1zM193.4 583.5h1v1h-1zM193.7 581.7h1v1h-1zM197.2 582.8h1v1h-1zM200.5 578.8h1v1h-1zM195.5 583.7h1v1h-1zM194.4 582.8h1v1h-1zM202.0 583.2h1v1h-1zM193.1 580.0h1v1h-1zM222.2 517.6h1v1h-1zM218.7 567.8h1v1h-1zM193.9 584.1h1v1h-1zM221.2 583.8h1v1h-1zM198.6 574.5h1v1h-1zM201.2 573.8h1v1h-1zM199.8 580.7h1v1h-1zM195.2 573.8h1v1h-1zM202.8 576.0h1v1h-1zM192.4 582.3h1v1h-1zM201.1 580.9h1v1h-1zM202.5 560.6h1v1h-1zM208.2 583.5h1v1h-1zM213.0 581.7h1v1h-1zM203.5 566.4h1v1h-1zM194.7 577.2h1v1h-1zM189.7 583.6h1v1h-1zM191.8 578.9h1v1h-1zM196.0 574.7h1v1h-1zM192.7 577.4h1v1h-1zM204.7 580.9h1v1h-1zM198.0 582.2h1v1h-1zM207.0 573.9h1v1h-1zM190.4 580.0h1v1h-1zM196.9 581.7h1v1h-1zM204.1 566.9h1v1h-1zM207.3 583.3h1v1h-1zM205.1 571.9h1v1h-1zM190.9 583.0h1v1h-1zM192.1 579.4h1v1h-1zM201.8 573.6h1v1h-1zM193.5 582.0h1v1h-1zM199.3 576.9h1v1h-1zM193.3 582.6h1v1h-1zM200.6 562.5h1v1h-1zM194.6 566.8h1v1h-1zM196.9 582.8h1v1h-1zM192.8 579.6h1v1h-1zM198.3 570.9h1v1h-1zM195.9 579.4h1v1h-1zM191.4 579.9h1v1h-1zM198.6 583.5h1v1h-1zM192.3 580.0h1v1h-1zM197.9 580.6h1v1h-1zM194.7 583.2h1v1h-1zM202.0 583.6h1v1h-1zM195.4 581.2h1v1h-1zM196.2 568.3h1v1h-1zM203.7 581.6h1v1h-1zM207.3 575.9h1v1h-1zM207.8 583.3h1v1h-1zM209.8 571.9h1v1h-1zM192.5 583.4h1v1h-1zM201.8 583.8h1v1h-1zM189.2 584.0h1v1h-1zM195.2 568.1h1v1h-1zM208.6 571.1h1v1h-1zM208.0 579.2h1v1h-1zM204.6 575.1h1v1h-1zM211.7 555.6h1v1h-1zM195.4 581.8h1v1h-1zM199.6 577.7h1v1h-1zM199.7 573.4h1v1h-1zM196.1 568.0h1v1h-1zM192.8 581.3h1v1h-1zM193.2 577.5h1v1h-1zM201.0 569.3h1v1h-1zM207.0 578.6h1v1h-1zM198.0 573.4h1v1h-1zM195.2 583.3h1v1h-1zM199.3 579.5h1v1h-1zM199.5 572.5h1v1h-1zM214.3 583.0h1v1h-1zM200.3 571.3h1v1h-1zM228.2 580.4h1v1h-1zM197.8 576.6h1v1h-1zM200.5 583.3h1v1h-1zM196.0 579.3h1v1h-1zM199.0 583.4h1v1h-1zM194.8 583.7h1v1h-1zM195.5 564.2h1v1h-1zM193.7 579.8h1v1h-1zM197.8 573.8h1v1h-1zM200.7 579.0h1v1h-1zM190.7 581.7h1v1h-1zM213.5 578.3h1v1h-1zM206.2 557.8h1v1h-1zM201.1 562.4h1v1h-1zM198.8 581.7h1v1h-1zM191.7 582.8h1v1h-1zM204.2 550.7h1v1h-1zM202.3 583.6h1v1h-1zM195.3 579.9h1v1h-1zM194.5 581.2h1v1h-1zM192.6 583.0h1v1h-1zM210.7 578.0h1v1h-1zM201.9 568.5h1v1h-1zM201.4 566.6h1v1h-1zM195.6 578.6h1v1h-1zM199.0 581.5h1v1h-1zM194.0 582.8h1v1h-1zM198.8 568.7h1v1h-1zM195.2 580.7h1v1h-1zM195.7 579.3h1v1h-1zM189.9 583.5h1v1h-1zM197.6 582.9h1v1h-1zM199.0 573.1h1v1h-1zM196.0 583.5h1v1h-1zM197.0 577.7h1v1h-1zM198.3 572.5h1v1h-1zM232.0 566.3h1v1h-1zM203.3 581.2h1v1h-1zM207.5 573.2h1v1h-1zM202.2 573.8h1v1h-1zM196.5 576.1h1v1h-1zM213.9 582.4h1v1h-1zM207.3 580.1h1v1h-1zM200.4 576.8h1v1h-1zM200.2 573.9h1v1h-1zM211.2 570.0h1v1h-1zM194.0 584.1h1v1h-1zM206.9 583.9h1v1h-1zM197.4 576.6h1v1h-1zM192.3 576.5h1v1h-1zM203.8 572.3h1v1h-1zM197.5 558.5h1v1h-1zM196.7 566.5h1v1h-1zM192.0 580.5h1v1h-1zM193.5 568.9h1v1h-1zM194.2 584.0h1v1h-1zM202.0 578.0h1v1h-1zM193.6 580.1h1v1h-1zM208.2 568.5h1v1h-1zM193.1 578.8h1v1h-1zM194.7 582.6h1v1h-1zM201.6 571.2h1v1h-1zM195.6 577.1h1v1h-1zM217.2 550.9h1v1h-1zM203.5 569.5h1v1h-1zM216.9 579.2h1v1h-1zM199.8 582.0h1v1h-1zM193.2 579.0h1v1h-1zM197.2 579.1h1v1h-1zM192.0 580.6h1v1h-1zM198.9 584.0h1v1h-1zM196.8 571.0h1v1h-1zM211.6 571.6h1v1h-1zM193.0 584.1h1v1h-1zM214.4 514.1h1v1h-1zM201.0 568.8h1v1h-1zM216.6 558.5h1v1h-1zM197.5 579.9h1v1h-1zM204.0 584.1h1v1h-1zM194.0 582.2h1v1h-1zM203.1 569.4h1v1h-1zM195.3 575.8h1v1h-1zM191.9 579.7h1v1h-1zM193.6 581.7h1v1h-1zM210.5 573.5h1v1h-1zM201.2 570.0h1v1h-1zM195.1 578.6h1v1h-1zM211.5 559.7h1v1h-1zM189.0 584.1h1v1h-1zM199.4 565.0h1v1h-1zM207.3 575.9h1v1h-1zM207.5 572.7h1v1h-1zM229.8 531.0h1v1h-1zM211.7 582.8h1v1h-1zM197.0 582.2h1v1h-1zM190.2 584.1h1v1h-1zM199.4 569.9h1v1h-1zM190.9 582.8h1v1h-1zM202.8 554.0h1v1h-1zM200.6 553.6h1v1h-1zM203.5 582.9h1v1h-1zM202.6 582.9h1v1h-1zM192.4 581.9h1v1h-1zM213.5 537.0h1v1h-1zM207.1 583.0h1v1h-1zM193.1 577.9h1v1h-1zM204.6 578.7h1v1h-1zM200.0 581.5h1v1h-1zM200.9 564.6h1v1h-1zM212.9 584.0h1v1h-1zM201.0 582.0h1v1h-1zM202.9 560.5h1v1h-1zM198.9 571.9h1v1h-1zM190.4 581.0h1v1h-1zM205.9 563.0h1v1h-1zM191.5 580.8h1v1h-1zM193.2 583.7h1v1h-1zM189.2 583.6h1v1h-1zM192.1 574.2h1v1h-1zM197.9 582.1h1v1h-1zM207.5 581.0h1v1h-1zM199.7 583.6h1v1h-1zM200.0 583.8h1v1h-1zM216.5 565.7h1v1h-1zM191.6 582.9h1v1h-1zM189.9 582.5h1v1h-1zM198.9 576.4h1v1h-1zM196.6 582.1h1v1h-1zM208.2 578.0h1v1h-1zM201.3 567.3h1v1h-1zM204.4 541.8h1v1h-1zM192.5 579.7h1v1h-1zM197.0 582.3h1v1h-1zM198.2 583.0h1v1h-1zM195.2 579.5h1v1h-1zM193.3 580.4h1v1h-1zM203.4 551.4h1v1h-1zM192.7 582.5h1v1h-1zM195.1 582.1h1v1h-1zM211.0 576.3h1v1h-1zM208.7 580.1h1v1h-1zM202.9 580.7h1v1h-1zM204.2 563.4h1v1h-1zM202.3 581.8h1v1h-1zM219.6 529.6h1v1h-1zM201.9 565.3h1v1h-1zM210.1 555.7h1v1h-1zM195.5 573.4h1v1h-1zM194.9 582.4h1v1h-1zM218.6 581.5h1v1h-1zM202.6 570.5h1v1h-1zM191.9 581.6h1v1h-1zM193.2 582.7h1v1h-1zM198.1 582.7h1v1h-1zM207.7 578.9h1v1h-1zM191.6 582.2h1v1h-1zM202.2 578.7h1v1h-1zM201.2 581.6h1v1h-1zM192.3 579.4h1v1h-1zM197.3 561.0h1v1h-1zM195.4 581.5h1v1h-1zM191.6 582.5h1v1h-1zM197.3 581.3h1v1h-1zM194.5 581.8h1v1h-1zM221.2 547.9h1v1h-1zM206.4 573.7h1v1h-1zM194.1 583.7h1v1h-1zM193.3 573.1h1v1h-1zM201.0 583.2h1v1h-1zM197.2 584.0h1v1h-1zM196.3 583.5h1v1h-1zM231.2 551.4h1v1h-1zM206.2 577.1h1v1h-1zM201.3 571.1h1v1h-1zM199.4 581.6h1v1h-1zM193.1 582.0h1v1h-1zM219.2 561.0h1v1h-1zM191.8 582.3h1v1h-1zM193.7 577.6h1v1h-1zM190.3 581.8h1v1h-1zM203.1 582.8h1v1h-1zM199.2 562.7h1v1h-1zM194.5 584.1h1v1h-1zM201.9 565.4h1v1h-1zM193.4 583.8h1v1h-1zM207.0 568.8h1v1h-1zM193.6 584.1h1v1h-1zM200.2 580.7h1v1h-1zM193.8 578.3h1v1h-1zM202.1 579.3h1v1h-1zM194.4 569.5h1v1h-1zM201.5 582.1h1v1h-1zM232.6 570.4h1v1h-1zM191.8 582.7h1v1h-1zM205.8 531.3h1v1h-1zM206.4 565.9h1v1h-1zM191.2 582.9h1v1h-1zM193.4 574.8h1v1h-1zM202.0 565.7h1v1h-1zM194.5 584.1h1v1h-1zM206.6 580.3h1v1h-1zM212.3 560.0h1v1h-1zM193.1 570.0h1v1h-1zM198.6 583.8h1v1h-1zM194.6 577.6h1v1h-1zM201.7 580.6h1v1h-1zM197.8 583.7h1v1h-1zM196.1 568.6h1v1h-1zM196.0 583.7h1v1h-1zM210.2 578.7h1v1h-1zM195.6 583.3h1v1h-1zM207.1 579.2h1v1h-1zM201.3 581.8h1v1h-1zM196.0 583.0h1v1h-1zM204.7 578.5h1v1h-1zM193.0 583.8h1v1h-1zM193.8 568.8h1v1h-1zM201.2 559.6h1v1h-1zM202.8 568.4h1v1h-1zM190.8 580.8h1v1h-1zM201.4 569.1h1v1h-1zM200.9 582.7h1v1h-1zM191.9 581.4h1v1h-1zM212.6 535.3h1v1h-1zM199.9 556.0h1v1h-1zM189.7 583.6h1v1h-1zM195.3 568.9h1v1h-1zM204.1 577.0h1v1h-1zM197.9 570.3h1v1h-1zM204.6 569.6h1v1h-1zM192.0 582.4h1v1h-1zM193.0 571.9h1v1h-1zM192.7 581.3h1v1h-1zM203.6 581.1h1v1h-1zM202.6 577.6h1v1h-1zM205.4 567.3h1v1h-1zM206.3 575.6h1v1h-1zM206.0 561.9h1v1h-1zM197.9 580.7h1v1h-1zM196.3 569.1h1v1h-1zM196.1 584.0h1v1h-1zM201.7 579.4h1v1h-1zM195.4 579.6h1v1h-1zM196.0 582.1h1v1h-1zM193.7 578.6h1v1h-1zM195.1 583.4h1v1h-1zM196.5 572.6h1v1h-1zM193.6 583.3h1v1h-1zM212.6 575.3h1v1h-1zM199.8 582.0h1v1h-1zM192.7 583.5h1v1h-1zM199.7 580.9h1v1h-1zM191.8 581.9h1v1h-1zM198.4 583.3h1v1h-1zM201.1 581.3h1v1h-1zM207.0 583.1h1v1h-1zM193.8 576.2h1v1h-1zM195.1 580.7h1v1h-1zM192.0 574.8h1v1h-1zM200.2 563.7h1v1h-1zM196.1 570.4h1v1h-1zM208.8 578.3h1v1h-1zM204.3 579.0h1v1h-1zM198.3 577.6h1v1h-1zM213.2 583.9h1v1h-1zM193.4 583.5h1v1h-1zM206.2 573.6h1v1h-1zM193.9 572.1h1v1h-1zM199.5 583.6h1v1h-1zM197.6 582.0h1v1h-1zM222.2 583.4h1v1h-1zM193.6 577.1h1v1h-1zM193.9 578.5h1v1h-1zM204.4 565.8h1v1h-1zM197.0 574.8h1v1h-1zM197.2 580.1h1v1h-1zM190.5 583.1h1v1h-1zM193.7 581.8h1v1h-1zM192.0 577.2h1v1h-1zM192.4 575.8h1v1h-1zM190.9 583.6h1v1h-1zM196.1 577.8h1v1h-1zM197.8 584.0h1v1h-1zM196.2 583.3h1v1h-1zM190.9 583.0h1v1h-1zM207.9 572.6h1v1h-1zM194.5 582.5h1v1h-1zM209.4 561.5h1v1h-1zM192.1 577.7h1v1h-1zM193.5 579.0h1v1h-1zM192.7 581.7h1v1h-1zM223.1 556.4h1v1h-1zM199.1 582.1h1v1h-1zM197.0 583.0h1v1h-1zM210.2 577.9h1v1h-1zM212.3 571.4h1v1h-1zM193.2 579.0h1v1h-1zM228.3 581.8h1v1h-1zM205.9 575.6h1v1h-1zM203.9 583.3h1v1h-1zM202.6 579.1h1v1h-1zM199.5 578.5h1v1h-1zM195.7 571.5h1v1h-1zM213.6 575.8h1v1h-1zM201.4 582.5h1v1h-1zM195.3 583.3h1v1h-1zM216.2 571.8h1v1h-1zM204.7 578.2h1v1h-1zM204.7 573.4h1v1h-1zM221.8 580.2h1v1h-1zM199.1 571.4h1v1h-1zM204.2 577.6h1v1h-1zM218.3 573.7h1v1h-1zM202.4 578.3h1v1h-1zM202.6 562.0h1v1h-1zM192.5 582.6h1v1h-1zM193.9 578.0h1v1h-1zM210.9 567.8h1v1h-1zM200.1 576.3h1v1h-1zM215.9 577.8h1v1h-1zM205.9 570.4h1v1h-1zM192.9 582.2h1v1h-1zM200.4 582.8h1v1h-1zM209.1 574.5h1v1h-1zM210.7 582.8h1v1h-1zM194.5 577.1h1v1h-1zM202.6 577.0h1v1h-1zM199.5 583.6h1v1h-1zM209.0 578.3h1v1h-1zM198.7 581.1h1v1h-1zM229.1 583.2h1v1h-1zM200.3 579.1h1v1h-1zM199.5 575.1h1v1h-1zM203.5 571.9h1v1h-1zM195.3 582.3h1v1h-1zM190.9 583.7h1v1h-1zM199.5 583.8h1v1h-1zM199.1 560.3h1v1h-1zM191.6 583.4h1v1h-1zM216.2 559.1h1v1h-1zM192.7 578.5h1v1h-1zM204.2 577.5h1v1h-1zM200.0 582.9h1v1h-1zM195.1 583.9h1v1h-1zM191.2 584.0h1v1h-1zM198.2 581.3h1v1h-1zM193.9 571.1h1v1h-1zM203.2 575.1h1v1h-1zM200.4 579.6h1v1h-1zM201.4 576.3h1v1h-1zM193.8 581.2h1v1h-1zM195.8 572.8h1v1h-1zM195.4 575.7h1v1h-1zM207.7 578.5h1v1h-1zM201.8 574.5h1v1h-1zM200.4 580.0h1v1h-1zM192.8 583.9h1v1h-1zM205.5 578.3h1v1h-1zM200.8 584.1h1v1h-1zM199.3 581.9h1v1h-1zM192.8 581.2h1v1h-1zM189.9 582.0h1v1h-1zM192.9 576.9h1v1h-1zM189.4 583.4h1v1h-1zM196.8 583.7h1v1h-1zM196.2 579.7h1v1h-1zM214.4 533.0h1v1h-1zM197.2 574.3h1v1h-1zM194.2 583.4h1v1h-1zM209.3 577.2h1v1h-1zM223.5 581.1h1v1h-1zM193.8 582.4h1v1h-1zM193.0 583.2h1v1h-1zM192.2 579.1h1v1h-1zM197.1 583.0h1v1h-1zM195.6 581.6h1v1h-1zM210.1 582.6h1v1h-1zM204.4 581.3h1v1h-1zM191.0 582.8h1v1h-1zM195.3 566.6h1v1h-1zM191.7 583.3h1v1h-1zM194.4 583.5h1v1h-1zM201.6 556.0h1v1h-1zM199.4 565.9h1v1h-1zM195.0 582.5h1v1h-1zM200.5 579.4h1v1h-1zM190.8 582.5h1v1h-1zM198.5 568.6h1v1h-1zM212.7 577.3h1v1h-1zM209.0 576.5h1v1h-1zM200.5 565.9h1v1h-1zM191.4 576.8h1v1h-1zM197.9 567.1h1v1h-1zM204.7 556.8h1v1h-1zM191.4 583.8h1v1h-1zM196.2 583.9h1v1h-1zM213.6 569.6h1v1h-1zM191.0 579.3h1v1h-1zM197.8 583.0h1v1h-1zM201.0 572.8h1v1h-1zM192.4 583.8h1v1h-1zM196.5 565.8h1v1h-1zM199.3 581.0h1v1h-1zM194.8 582.3h1v1h-1zM191.1 578.6h1v1h-1zM193.0 583.8h1v1h-1zM195.7 583.8h1v1h-1zM192.8 583.0h1v1h-1zM211.5 572.3h1v1h-1zM204.4 583.0h1v1h-1zM203.4 582.1h1v1h-1zM202.5 582.6h1v1h-1zM190.1 584.1h1v1h-1zM195.1 583.6h1v1h-1zM207.3 582.6h1v1h-1zM199.3 582.3h1v1h-1zM192.9 584.0h1v1h-1zM190.5 580.6h1v1h-1zM197.6 574.1h1v1h-1zM193.4 582.9h1v1h-1zM202.2 570.7h1v1h-1zM203.4 582.2h1v1h-1zM194.0 575.4h1v1h-1zM192.4 577.5h1v1h-1zM201.5 577.8h1v1h-1zM195.4 584.1h1v1h-1zM193.6 576.3h1v1h-1zM193.5 583.3h1v1h-1zM194.9 567.8h1v1h-1zM191.4 584.0h1v1h-1zM193.9 582.2h1v1h-1zM189.8 581.6h1v1h-1zM220.4 566.4h1v1h-1zM196.9 573.3h1v1h-1zM200.8 568.8h1v1h-1zM196.9 583.9h1v1h-1zM197.4 581.2h1v1h-1zM191.6 582.4h1v1h-1zM193.8 583.8h1v1h-1zM204.9 579.0h1v1h-1zM195.5 571.2h1v1h-1zM200.5 581.5h1v1h-1zM192.1 574.9h1v1h-1zM191.9 584.0h1v1h-1zM205.7 559.7h1v1h-1zM194.7 578.5h1v1h-1zM197.8 570.1h1v1h-1zM192.9 583.4h1v1h-1zM213.3 535.9h1v1h-1zM202.8 583.7h1v1h-1zM192.8 583.3h1v1h-1zM190.3 581.0h1v1h-1zM194.8 569.4h1v1h-1zM204.9 576.9h1v1h-1zM190.3 584.0h1v1h-1zM199.6 583.5h1v1h-1zM193.4 579.7h1v1h-1zM207.7 577.2h1v1h-1zM213.5 576.4h1v1h-1zM209.4 570.9h1v1h-1zM206.0 583.7h1v1h-1zM190.8 582.7h1v1h-1zM193.4 582.6h1v1h-1zM214.7 551.3h1v1h-1zM195.0 583.6h1v1h-1zM211.2 573.4h1v1h-1zM197.2 580.0h1v1h-1zM195.3 583.3h1v1h-1zM192.8 577.4h1v1h-1zM205.9 566.7h1v1h-1zM190.4 583.7h1v1h-1zM194.6 573.2h1v1h-1zM220.2 574.7h1v1h-1zM185.4 576.9h1v1h-1zM180.2 583.9h1v1h-1zM176.8 579.5h1v1h-1zM184.1 581.7h1v1h-1zM183.1 581.1h1v1h-1zM183.4 572.5h1v1h-1zM183.0 583.8h1v1h-1zM185.6 583.5h1v1h-1zM184.8 583.2h1v1h-1zM171.0 579.5h1v1h-1zM185.4 582.6h1v1h-1zM174.3 582.5h1v1h-1zM174.9 571.1h1v1h-1zM182.7 581.8h1v1h-1zM181.4 582.7h1v1h-1zM176.7 573.0h1v1h-1zM176.4 578.6h1v1h-1zM182.2 582.9h1v1h-1zM180.9 567.1h1v1h-1zM171.3 582.6h1v1h-1zM183.2 584.1h1v1h-1zM179.8 579.4h1v1h-1zM164.3 571.7h1v1h-1zM151.4 577.6h1v1h-1zM186.2 579.1h1v1h-1zM184.0 577.6h1v1h-1zM181.2 581.7h1v1h-1zM173.1 580.5h1v1h-1zM183.2 582.4h1v1h-1zM168.3 581.7h1v1h-1zM179.7 570.0h1v1h-1zM173.2 584.0h1v1h-1zM176.7 558.4h1v1h-1zM168.0 581.5h1v1h-1zM181.9 582.8h1v1h-1zM183.4 581.1h1v1h-1zM184.0 581.5h1v1h-1zM185.2 584.1h1v1h-1zM179.5 583.6h1v1h-1zM159.7 570.4h1v1h-1zM176.7 576.6h1v1h-1zM187.0 584.0h1v1h-1zM186.4 583.5h1v1h-1zM185.9 584.1h1v1h-1zM185.2 579.0h1v1h-1zM169.7 567.3h1v1h-1zM182.4 577.0h1v1h-1zM179.2 569.9h1v1h-1zM184.5 576.5h1v1h-1zM181.2 581.2h1v1h-1zM187.9 583.4h1v1h-1zM185.4 578.4h1v1h-1zM184.3 583.8h1v1h-1zM176.7 556.6h1v1h-1zM179.5 580.7h1v1h-1zM180.8 584.1h1v1h-1zM185.8 584.1h1v1h-1zM184.0 582.7h1v1h-1zM174.3 578.0h1v1h-1zM183.8 578.8h1v1h-1zM179.7 581.7h1v1h-1zM179.0 580.3h1v1h-1zM180.5 571.3h1v1h-1zM181.0 580.2h1v1h-1zM168.4 565.9h1v1h-1zM181.8 573.2h1v1h-1zM185.6 583.0h1v1h-1zM173.9 569.5h1v1h-1zM183.1 582.1h1v1h-1zM182.8 583.1h1v1h-1zM155.9 576.7h1v1h-1zM186.4 579.7h1v1h-1zM181.7 580.4h1v1h-1zM181.3 579.9h1v1h-1zM183.1 583.0h1v1h-1zM183.0 583.7h1v1h-1zM171.2 583.8h1v1h-1zM185.5 582.8h1v1h-1zM174.7 569.9h1v1h-1zM177.8 580.7h1v1h-1zM175.0 566.8h1v1h-1zM184.0 577.0h1v1h-1zM180.8 581.9h1v1h-1zM180.3 583.5h1v1h-1zM185.3 581.3h1v1h-1zM184.0 582.8h1v1h-1zM180.5 574.2h1v1h-1zM177.8 575.7h1v1h-1zM181.0 581.3h1v1h-1zM179.3 575.8h1v1h-1zM184.0 583.7h1v1h-1zM185.2 580.0h1v1h-1zM186.5 580.0h1v1h-1zM188.0 584.0h1v1h-1zM179.1 583.7h1v1h-1zM179.9 582.8h1v1h-1zM188.5 583.8h1v1h-1zM175.1 581.8h1v1h-1zM178.2 582.5h1v1h-1zM186.5 580.6h1v1h-1zM177.6 579.7h1v1h-1zM187.0 581.8h1v1h-1zM171.9 580.5h1v1h-1zM168.1 580.4h1v1h-1zM180.3 583.4h1v1h-1zM182.0 580.6h1v1h-1zM184.5 575.3h1v1h-1zM178.8 575.3h1v1h-1zM169.6 584.1h1v1h-1zM187.9 583.8h1v1h-1zM173.7 568.6h1v1h-1zM173.0 571.5h1v1h-1zM178.9 583.5h1v1h-1zM177.6 580.8h1v1h-1zM178.1 579.3h1v1h-1zM174.0 561.7h1v1h-1zM183.0 582.4h1v1h-1zM182.9 577.5h1v1h-1zM154.0 560.9h1v1h-1zM186.3 580.9h1v1h-1zM178.6 581.9h1v1h-1zM182.7 579.5h1v1h-1zM183.7 576.1h1v1h-1zM183.5 579.8h1v1h-1zM175.3 583.3h1v1h-1zM186.3 583.1h1v1h-1zM179.8 565.8h1v1h-1zM180.7 573.0h1v1h-1zM184.6 583.7h1v1h-1zM185.5 578.9h1v1h-1zM184.9 581.0h1v1h-1zM185.1 580.5h1v1h-1zM182.1 583.3h1v1h-1zM184.4 583.5h1v1h-1zM185.4 584.1h1v1h-1zM187.3 583.4h1v1h-1zM176.5 583.9h1v1h-1zM181.8 582.3h1v1h-1zM183.7 579.0h1v1h-1zM186.3 584.1h1v1h-1zM172.2 581.3h1v1h-1zM177.9 584.0h1v1h-1zM172.2 582.4h1v1h-1zM172.0 570.1h1v1h-1zM180.3 582.3h1v1h-1zM187.4 580.6h1v1h-1zM184.7 583.8h1v1h-1zM176.7 566.7h1v1h-1zM157.5 582.2h1v1h-1zM181.8 582.7h1v1h-1zM187.7 582.4h1v1h-1zM181.0 580.6h1v1h-1zM179.4 576.6h1v1h-1zM170.9 582.1h1v1h-1zM177.5 573.4h1v1h-1zM182.2 578.5h1v1h-1zM176.5 584.1h1v1h-1zM181.6 579.1h1v1h-1zM185.9 584.1h1v1h-1zM178.3 568.6h1v1h-1zM178.5 574.8h1v1h-1zM179.7 572.6h1v1h-1zM181.5 583.6h1v1h-1zM182.0 575.4h1v1h-1zM182.4 584.0h1v1h-1zM184.3 573.6h1v1h-1zM178.6 566.8h1v1h-1zM184.2 581.5h1v1h-1zM180.9 582.8h1v1h-1zM175.2 578.5h1v1h-1zM178.1 565.2h1v1h-1zM186.8 583.6h1v1h-1zM177.5 584.1h1v1h-1zM181.7 583.9h1v1h-1zM186.4 583.8h1v1h-1zM176.2 580.1h1v1h-1zM162.6 581.2h1v1h-1zM182.1 583.7h1v1h-1zM185.1 580.1h1v1h-1zM171.7 577.3h1v1h-1zM178.8 572.2h1v1h-1zM184.8 580.2h1v1h-1zM184.8 581.0h1v1h-1zM179.7 577.0h1v1h-1zM187.2 584.1h1v1h-1zM174.8 571.4h1v1h-1zM170.2 578.7h1v1h-1zM182.6 579.0h1v1h-1zM182.9 581.2h1v1h-1zM176.9 583.5h1v1h-1zM185.5 581.6h1v1h-1zM179.2 584.0h1v1h-1zM178.2 582.5h1v1h-1zM184.7 577.5h1v1h-1zM172.2 579.4h1v1h-1zM157.5 560.1h1v1h-1zM185.9 582.6h1v1h-1zM183.0 584.0h1v1h-1zM188.7 583.5h1v1h-1zM175.1 572.7h1v1h-1zM172.0 579.2h1v1h-1zM170.0 576.8h1v1h-1zM179.1 580.1h1v1h-1zM179.6 583.9h1v1h-1zM176.8 578.8h1v1h-1zM187.4 581.8h1v1h-1zM186.3 581.3h1v1h-1zM186.5 582.8h1v1h-1zM177.9 564.3h1v1h-1zM179.5 582.4h1v1h-1zM171.3 575.8h1v1h-1zM184.1 581.0h1v1h-1zM180.2 575.8h1v1h-1zM185.8 579.9h1v1h-1zM181.7 567.4h1v1h-1zM185.9 581.2h1v1h-1zM185.5 580.4h1v1h-1zM169.1 574.2h1v1h-1zM188.2 582.4h1v1h-1zM183.4 578.1h1v1h-1zM180.4 578.6h1v1h-1zM176.9 583.4h1v1h-1zM177.0 576.0h1v1h-1zM180.4 578.2h1v1h-1zM186.2 583.5h1v1h-1zM176.0 584.1h1v1h-1zM166.4 575.0h1v1h-1zM179.9 582.7h1v1h-1zM184.2 574.0h1v1h-1zM184.1 579.8h1v1h-1zM179.8 571.8h1v1h-1zM180.5 582.2h1v1h-1zM184.7 583.7h1v1h-1zM183.4 583.6h1v1h-1zM176.7 583.5h1v1h-1zM181.8 583.5h1v1h-1zM186.3 584.1h1v1h-1zM182.6 581.8h1v1h-1zM184.3 581.8h1v1h-1zM183.1 584.1h1v1h-1zM179.5 581.8h1v1h-1zM169.0 573.6h1v1h-1zM178.8 568.4h1v1h-1zM186.8 582.7h1v1h-1zM178.3 583.1h1v1h-1zM179.0 574.9h1v1h-1zM182.8 576.2h1v1h-1zM178.6 582.7h1v1h-1zM181.6 582.7h1v1h-1zM181.0 572.5h1v1h-1zM184.8 579.1h1v1h-1zM178.8 576.1h1v1h-1zM182.8 584.1h1v1h-1zM187.1 583.3h1v1h-1zM188.6 583.3h1v1h-1zM175.9 573.5h1v1h-1zM179.6 580.4h1v1h-1zM180.5 582.2h1v1h-1zM181.8 573.8h1v1h-1zM176.1 576.7h1v1h-1zM176.2 580.1h1v1h-1zM185.2 581.1h1v1h-1zM186.8 583.2h1v1h-1zM181.8 581.5h1v1h-1zM186.5 581.3h1v1h-1zM183.3 583.8h1v1h-1zM187.2 580.3h1v1h-1zM170.5 575.5h1v1h-1zM176.3 579.9h1v1h-1zM184.5 584.0h1v1h-1zM166.5 581.4h1v1h-1zM181.8 581.7h1v1h-1zM185.7 580.6h1v1h-1zM185.7 584.0h1v1h-1zM184.2 576.1h1v1h-1zM182.0 578.3h1v1h-1zM183.2 583.4h1v1h-1zM183.8 579.0h1v1h-1zM178.3 580.7h1v1h-1zM180.1 582.3h1v1h-1zM171.1 573.9h1v1h-1zM181.2 580.0h1v1h-1zM177.3 582.5h1v1h-1zM165.9 583.3h1v1h-1zM184.9 580.4h1v1h-1zM183.3 581.6h1v1h-1zM181.5 577.5h1v1h-1zM185.7 580.0h1v1h-1zM183.6 583.9h1v1h-1zM179.5 581.1h1v1h-1zM184.7 574.1h1v1h-1zM184.1 581.5h1v1h-1zM174.3 583.4h1v1h-1zM186.1 582.6h1v1h-1zM138.6 568.5h1v1h-1zM184.4 582.7h1v1h-1zM178.2 581.7h1v1h-1zM175.6 568.9h1v1h-1zM186.4 583.6h1v1h-1zM173.9 583.6h1v1h-1zM155.2 584.1h1v1h-1zM180.3 583.9h1v1h-1zM162.3 547.6h1v1h-1zM177.1 567.6h1v1h-1zM185.3 584.0h1v1h-1zM182.1 581.8h1v1h-1zM180.8 584.1h1v1h-1zM176.4 580.4h1v1h-1zM177.4 581.4h1v1h-1zM182.2 583.0h1v1h-1zM178.8 580.8h1v1h-1zM187.6 583.1h1v1h-1zM177.0 580.9h1v1h-1zM184.8 583.5h1v1h-1zM178.9 583.3h1v1h-1zM185.9 579.1h1v1h-1zM186.4 583.9h1v1h-1zM184.2 583.7h1v1h-1zM181.6 573.8h1v1h-1zM187.1 582.8h1v1h-1zM149.2 581.2h1v1h-1zM173.1 572.1h1v1h-1zM181.5 575.7h1v1h-1zM178.0 577.1h1v1h-1zM186.6 583.0h1v1h-1zM179.3 583.2h1v1h-1zM176.0 581.7h1v1h-1zM180.6 579.2h1v1h-1zM186.6 580.5h1v1h-1zM169.2 573.4h1v1h-1zM181.7 576.9h1v1h-1zM177.1 583.9h1v1h-1zM179.9 583.3h1v1h-1zM184.4 583.8h1v1h-1zM182.8 582.2h1v1h-1zM181.5 581.2h1v1h-1zM177.4 579.6h1v1h-1zM183.4 581.1h1v1h-1zM176.8 582.1h1v1h-1zM170.9 573.9h1v1h-1zM178.0 583.3h1v1h-1zM181.5 583.4h1v1h-1zM178.7 571.0h1v1h-1zM182.9 572.1h1v1h-1zM174.7 582.2h1v1h-1zM182.9 581.7h1v1h-1zM182.3 582.7h1v1h-1zM184.3 584.0h1v1h-1zM176.3 576.9h1v1h-1zM179.9 570.3h1v1h-1zM184.7 584.1h1v1h-1zM180.1 579.5h1v1h-1zM187.1 583.6h1v1h-1zM177.5 578.8h1v1h-1zM157.6 583.9h1v1h-1zM181.0 579.5h1v1h-1zM177.3 579.8h1v1h-1zM184.8 584.0h1v1h-1zM185.1 581.0h1v1h-1zM178.2 583.3h1v1h-1zM182.1 583.2h1v1h-1zM174.3 583.8h1v1h-1zM185.8 581.0h1v1h-1zM183.6 582.8h1v1h-1zM171.6 572.2h1v1h-1zM185.1 578.3h1v1h-1zM164.2 579.2h1v1h-1zM179.0 582.5h1v1h-1zM174.8 570.8h1v1h-1zM186.7 581.5h1v1h-1zM185.0 583.1h1v1h-1zM180.1 574.8h1v1h-1zM186.0 582.7h1v1h-1zM181.0 579.6h1v1h-1zM187.1 583.3h1v1h-1zM179.4 578.5h1v1h-1zM184.8 575.5h1v1h-1zM181.1 584.0h1v1h-1zM185.5 581.9h1v1h-1zM180.8 581.4h1v1h-1zM180.0 583.7h1v1h-1zM187.6 582.0h1v1h-1zM179.2 573.1h1v1h-1zM169.8 570.8h1v1h-1zM184.1 582.9h1v1h-1zM170.3 572.7h1v1h-1zM185.7 583.4h1v1h-1zM183.9 582.5h1v1h-1zM184.0 583.5h1v1h-1zM185.4 583.8h1v1h-1zM181.4 581.6h1v1h-1zM178.7 567.3h1v1h-1zM185.4 581.0h1v1h-1zM181.9 581.2h1v1h-1zM185.2 580.5h1v1h-1zM177.9 582.6h1v1h-1zM184.3 577.8h1v1h-1zM183.4 579.7h1v1h-1zM183.4 583.3h1v1h-1zM177.1 580.9h1v1h-1zM170.3 578.1h1v1h-1zM187.6 584.1h1v1h-1zM180.4 583.3h1v1h-1zM185.1 581.8h1v1h-1zM181.9 571.0h1v1h-1zM183.6 583.3h1v1h-1zM183.3 582.3h1v1h-1zM183.2 579.7h1v1h-1zM180.2 574.8h1v1h-1zM185.9 580.3h1v1h-1zM188.8 584.0h1v1h-1zM174.3 582.5h1v1h-1zM174.7 583.1h1v1h-1zM186.9 584.1h1v1h-1zM182.8 584.0h1v1h-1zM178.7 578.6h1v1h-1zM175.4 575.8h1v1h-1zM185.3 576.8h1v1h-1zM185.4 584.0h1v1h-1zM181.9 576.4h1v1h-1zM180.7 582.2h1v1h-1zM170.1 582.4h1v1h-1zM179.2 579.9h1v1h-1zM181.0 570.6h1v1h-1zM186.7 583.6h1v1h-1zM169.2 583.0h1v1h-1zM183.7 581.3h1v1h-1zM188.1 582.8h1v1h-1zM182.2 581.7h1v1h-1zM170.9 580.8h1v1h-1zM176.0 577.1h1v1h-1zM180.4 575.1h1v1h-1zM178.3 581.7h1v1h-1zM182.7 581.6h1v1h-1zM186.8 580.0h1v1h-1zM187.6 582.8h1v1h-1zM182.5 583.5h1v1h-1zM169.2 579.2h1v1h-1zM182.6 581.8h1v1h-1zM175.7 579.8h1v1h-1zM186.8 579.6h1v1h-1zM186.0 583.1h1v1h-1zM178.8 583.9h1v1h-1zM187.5 583.0h1v1h-1zM183.6 574.7h1v1h-1zM184.3 583.6h1v1h-1zM180.6 577.5h1v1h-1zM180.0 583.9h1v1h-1zM185.5 580.0h1v1h-1zM165.2 573.1h1v1h-1zM173.9 578.1h1v1h-1zM180.8 575.0h1v1h-1zM181.0 570.2h1v1h-1zM188.3 583.1h1v1h-1zM185.1 580.6h1v1h-1zM178.8 576.7h1v1h-1zM183.4 573.9h1v1h-1zM183.4 576.6h1v1h-1zM178.7 581.5h1v1h-1zM184.0 579.0h1v1h-1zM185.6 583.5h1v1h-1zM184.9 581.9h1v1h-1zM182.0 578.0h1v1h-1zM172.5 571.0h1v1h-1zM182.4 575.2h1v1h-1zM187.5 582.9h1v1h-1zM181.8 580.5h1v1h-1zM173.1 579.3h1v1h-1zM184.1 583.3h1v1h-1zM181.1 571.5h1v1h-1zM177.9 581.6h1v1h-1zM170.2 583.3h1v1h-1zM186.6 582.6h1v1h-1zM176.6 582.4h1v1h-1zM176.6 574.3h1v1h-1zM178.8 584.0h1v1h-1zM177.9 569.4h1v1h-1zM179.8 583.7h1v1h-1zM182.5 583.7h1v1h-1zM180.9 583.0h1v1h-1zM185.3 584.0h1v1h-1zM178.0 572.6h1v1h-1zM182.4 573.1h1v1h-1zM186.2 582.4h1v1h-1zM179.4 581.6h1v1h-1zM153.0 567.6h1v1h-1zM188.2 583.9h1v1h-1zM187.3 582.4h1v1h-1zM177.3 567.3h1v1h-1zM174.2 574.5h1v1h-1zM172.3 552.1h1v1h-1zM180.6 584.0h1v1h-1zM186.8 582.3h1v1h-1zM174.1 578.3h1v1h-1zM174.1 583.5h1v1h-1zM183.8 581.2h1v1h-1zM185.9 583.3h1v1h-1zM188.8 584.0h1v1h-1zM179.1 583.7h1v1h-1zM163.5 576.3h1v1h-1zM187.8 583.1h1v1h-1zM168.2 572.8h1v1h-1zM187.6 581.2h1v1h-1zM182.6 580.1h1v1h-1zM177.5 582.8h1v1h-1zM179.7 569.7h1v1h-1zM177.1 580.4h1v1h-1zM177.7 581.3h1v1h-1zM184.8 582.1h1v1h-1zM182.9 571.2h1v1h-1zM145.4 582.7h1v1h-1zM181.7 582.4h1v1h-1zM180.1 583.4h1v1h-1zM178.7 570.1h1v1h-1zM186.4 582.7h1v1h-1zM131.1 569.8h1v1h-1zM185.5 583.5h1v1h-1zM183.1 583.2h1v1h-1zM183.0 570.5h1v1h-1zM183.6 583.8h1v1h-1zM188.3 583.6h1v1h-1zM181.1 583.1h1v1h-1zM174.0 553.7h1v1h-1zM185.7 583.8h1v1h-1zM187.1 581.0h1v1h-1zM166.0 552.4h1v1h-1zM175.0 577.5h1v1h-1zM181.6 581.3h1v1h-1zM180.0 580.5h1v1h-1zM182.9 577.5h1v1h-1zM180.3 583.5h1v1h-1zM185.3 582.5h1v1h-1zM186.9 583.1h1v1h-1zM180.6 584.0h1v1h-1zM176.8 582.4h1v1h-1zM185.5 583.9h1v1h-1zM172.2 561.6h1v1h-1zM186.8 583.3h1v1h-1zM187.8 582.8h1v1h-1zM177.2 574.3h1v1h-1zM185.5 580.7h1v1h-1zM184.3 583.3h1v1h-1zM182.7 582.4h1v1h-1zM188.0 582.5h1v1h-1zM180.6 578.8h1v1h-1zM172.6 571.5h1v1h-1zM168.8 578.0h1v1h-1zM185.2 582.4h1v1h-1zM180.5 580.7h1v1h-1zM185.2 575.8h1v1h-1zM184.7 584.0h1v1h-1zM185.5 579.8h1v1h-1zM180.2 577.4h1v1h-1zM183.8 581.6h1v1h-1zM184.9 583.9h1v1h-1zM167.7 544.3h1v1h-1zM181.1 574.9h1v1h-1zM181.6 580.2h1v1h-1zM180.7 583.8h1v1h-1zM186.6 582.4h1v1h-1zM187.0 581.9h1v1h-1zM183.7 584.0h1v1h-1zM187.5 581.5h1v1h-1zM186.8 583.1h1v1h-1zM187.9 581.6h1v1h-1zM182.4 582.1h1v1h-1zM182.8 580.3h1v1h-1zM175.2 582.1h1v1h-1zM184.6 583.8h1v1h-1zM181.4 575.8h1v1h-1zM179.3 573.6h1v1h-1zM184.7 582.5h1v1h-1zM182.1 583.6h1v1h-1zM185.4 579.1h1v1h-1zM173.3 578.1h1v1h-1zM177.7 583.1h1v1h-1zM178.7 570.2h1v1h-1zM169.2 577.9h1v1h-1zM173.5 576.0h1v1h-1zM182.1 582.7h1v1h-1zM185.0 582.4h1v1h-1zM164.0 577.1h1v1h-1zM182.2 577.1h1v1h-1zM183.8 583.0h1v1h-1zM173.6 584.0h1v1h-1zM179.3 573.7h1v1h-1zM179.8 582.9h1v1h-1zM185.8 583.0h1v1h-1zM181.6 569.7h1v1h-1zM180.7 578.9h1v1h-1zM186.1 580.2h1v1h-1zM173.1 579.7h1v1h-1zM182.5 580.9h1v1h-1zM175.8 582.5h1v1h-1zM174.1 577.1h1v1h-1zM184.2 582.7h1v1h-1zM187.2 581.5h1v1h-1zM183.9 584.1h1v1h-1zM183.1 578.7h1v1h-1zM179.6 579.8h1v1h-1zM179.7 583.1h1v1h-1zM179.3 579.8h1v1h-1zM180.7 584.0h1v1h-1zM182.0 584.0h1v1h-1zM175.8 583.9h1v1h-1zM174.0 583.8h1v1h-1zM177.4 581.7h1v1h-1zM173.6 584.0h1v1h-1zM182.5 574.8h1v1h-1zM182.0 569.0h1v1h-1zM165.2 572.5h1v1h-1zM184.7 578.0h1v1h-1zM179.1 583.7h1v1h-1zM179.1 583.1h1v1h-1zM176.2 575.9h1v1h-1zM182.2 583.0h1v1h-1zM175.6 579.7h1v1h-1zM180.7 582.8h1v1h-1zM187.6 583.1h1v1h-1zM184.9 583.5h1v1h-1zM185.7 582.7h1v1h-1zM182.7 583.8h1v1h-1zM173.3 562.3h1v1h-1zM175.0 578.3h1v1h-1zM179.8 582.2h1v1h-1zM176.4 581.8h1v1h-1zM187.3 581.0h1v1h-1zM180.5 578.2h1v1h-1zM168.1 583.7h1v1h-1zM186.5 582.0h1v1h-1zM181.4 583.8h1v1h-1zM168.7 567.4h1v1h-1zM181.9 576.0h1v1h-1zM182.9 582.0h1v1h-1zM180.0 580.5h1v1h-1zM184.1 572.9h1v1h-1zM183.9 578.1h1v1h-1zM184.2 582.1h1v1h-1zM186.0 584.1h1v1h-1zM179.8 577.8h1v1h-1zM185.8 583.5h1v1h-1zM181.3 568.8h1v1h-1zM179.6 582.2h1v1h-1zM175.1 552.5h1v1h-1zM172.2 571.8h1v1h-1zM184.9 583.5h1v1h-1zM169.0 582.2h1v1h-1zM184.0 582.8h1v1h-1zM167.7 579.4h1v1h-1zM164.8 583.6h1v1h-1zM176.7 583.9h1v1h-1zM184.8 581.9h1v1h-1zM181.8 580.6h1v1h-1zM182.5 582.3h1v1h-1zM180.6 579.5h1v1h-1zM185.0 580.3h1v1h-1zM182.0 581.0h1v1h-1zM182.6 583.0h1v1h-1zM175.2 571.0h1v1h-1zM184.9 580.5h1v1h-1zM155.0 582.7h1v1h-1zM170.5 567.3h1v1h-1zM183.5 582.3h1v1h-1zM175.0 558.6h1v1h-1zM176.5 582.2h1v1h-1zM172.8 582.7h1v1h-1zM181.7 571.3h1v1h-1zM181.7 579.8h1v1h-1zM184.3 579.4h1v1h-1zM183.8 581.3h1v1h-1zM175.3 582.0h1v1h-1zM178.9 582.7h1v1h-1zM178.0 576.8h1v1h-1zM184.1 582.5h1v1h-1zM159.2 574.1h1v1h-1zM172.7 567.0h1v1h-1zM185.1 579.6h1v1h-1zM172.5 559.1h1v1h-1zM181.0 580.9h1v1h-1zM169.7 553.0h1v1h-1zM185.4 583.8h1v1h-1zM178.6 570.5h1v1h-1zM179.6 581.3h1v1h-1zM179.2 577.6h1v1h-1zM186.4 581.3h1v1h-1zM187.7 583.3h1v1h-1zM184.4 575.5h1v1h-1zM172.4 564.3h1v1h-1zM186.6 582.3h1v1h-1zM176.1 583.6h1v1h-1zM177.7 579.0h1v1h-1zM183.1 583.0h1v1h-1zM185.9 579.6h1v1h-1zM176.9 580.6h1v1h-1zM181.9 577.2h1v1h-1zM186.0 582.4h1v1h-1zM182.9 581.5h1v1h-1zM178.8 584.1h1v1h-1zM186.1 583.6h1v1h-1zM177.8 569.6h1v1h-1zM179.5 578.8h1v1h-1zM182.5 583.1h1v1h-1zM185.5 579.2h1v1h-1zM179.0 575.8h1v1h-1zM177.4 570.6h1v1h-1zM187.7 583.7h1v1h-1zM165.4 581.3h1v1h-1zM174.0 575.5h1v1h-1zM188.2 583.3h1v1h-1zM185.4 583.9h1v1h-1zM172.9 576.1h1v1h-1zM184.8 584.0h1v1h-1zM183.5 572.8h1v1h-1zM184.1 577.1h1v1h-1zM174.3 574.2h1v1h-1zM156.1 584.0h1v1h-1zM187.9 581.7h1v1h-1zM183.5 583.3h1v1h-1zM182.3 579.3h1v1h-1zM179.1 568.4h1v1h-1zM180.1 584.0h1v1h-1zM186.4 584.0h1v1h-1zM177.7 584.0h1v1h-1zM183.4 583.9h1v1h-1zM182.0 577.2h1v1h-1zM174.9 581.0h1v1h-1zM179.5 583.3h1v1h-1zM181.1 576.8h1v1h-1zM180.1 581.3h1v1h-1zM187.4 582.3h1v1h-1zM173.9 569.3h1v1h-1zM181.0 582.5h1v1h-1zM186.0 578.2h1v1h-1zM179.5 582.6h1v1h-1zM186.6 583.6h1v1h-1zM178.1 578.4h1v1h-1zM175.7 579.1h1v1h-1zM178.2 573.8h1v1h-1zM184.8 582.7h1v1h-1zM181.4 583.9h1v1h-1zM179.0 577.1h1v1h-1zM174.0 576.9h1v1h-1zM178.8 576.0h1v1h-1zM181.2 580.4h1v1h-1zM184.0 581.9h1v1h-1zM174.8 579.3h1v1h-1zM181.6 571.3h1v1h-1zM185.2 580.4h1v1h-1zM185.0 578.8h1v1h-1zM178.5 575.4h1v1h-1zM184.3 574.7h1v1h-1zM184.2 583.9h1v1h-1zM182.8 583.1h1v1h-1zM181.2 583.2h1v1h-1zM173.6 578.2h1v1h-1zM188.1 584.1h1v1h-1zM174.2 572.3h1v1h-1zM180.9 582.8h1v1h-1zM180.6 573.2h1v1h-1zM183.6 580.5h1v1h-1zM187.4 582.8h1v1h-1zM181.2 583.3h1v1h-1zM178.9 574.4h1v1h-1zM182.3 583.7h1v1h-1zM169.2 580.6h1v1h-1zM166.5 582.7h1v1h-1zM175.9 575.2h1v1h-1zM174.3 580.6h1v1h-1zM181.8 578.7h1v1h-1zM185.1 579.0h1v1h-1zM176.0 583.8h1v1h-1zM175.8 568.1h1v1h-1zM171.3 566.9h1v1h-1zM177.1 581.2h1v1h-1zM180.5 581.1h1v1h-1zM172.1 581.3h1v1h-1zM176.0 583.2h1v1h-1zM186.6 583.6h1v1h-1zM169.3 566.7h1v1h-1zM156.5 583.5h1v1h-1zM184.5 578.2h1v1h-1zM178.5 580.2h1v1h-1zM186.2 580.0h1v1h-1zM174.7 582.8h1v1h-1zM184.5 581.9h1v1h-1zM183.1 581.0h1v1h-1zM178.4 580.3h1v1h-1zM176.6 576.6h1v1h-1zM174.7 569.9h1v1h-1zM172.5 580.6h1v1h-1zM177.7 581.6h1v1h-1zM171.0 583.3h1v1h-1zM181.2 579.2h1v1h-1zM187.0 581.2h1v1h-1zM182.5 584.0h1v1h-1zM184.7 583.1h1v1h-1zM180.9 579.8h1v1h-1zM174.4 582.2h1v1h-1zM174.7 584.0h1v1h-1zM178.1 582.8h1v1h-1zM183.8 583.7h1v1h-1zM181.6 584.0h1v1h-1zM185.6 580.5h1v1h-1zM187.6 581.7h1v1h-1zM161.9 580.0h1v1h-1zM167.4 575.4h1v1h-1zM185.8 576.8h1v1h-1zM187.0 580.6h1v1h-1zM188.0 583.2h1v1h-1zM174.8 573.6h1v1h-1zM179.3 579.1h1v1h-1zM180.7 578.4h1v1h-1zM177.0 583.8h1v1h-1zM179.6 582.3h1v1h-1zM177.8 576.7h1v1h-1zM188.4 583.7h1v1h-1zM184.5 581.0h1v1h-1zM174.3 583.5h1v1h-1zM162.9 565.2h1v1h-1zM182.5 584.1h1v1h-1zM182.7 579.7h1v1h-1zM177.3 569.5h1v1h-1zM180.7 578.2h1v1h-1zM182.1 582.5h1v1h-1zM162.9 567.5h1v1h-1zM177.9 581.5h1v1h-1zM182.9 582.8h1v1h-1zM182.9 583.4h1v1h-1zM164.9 583.5h1v1h-1zM184.1 573.1h1v1h-1zM178.4 580.6h1v1h-1zM184.4 582.2h1v1h-1zM180.9 581.5h1v1h-1zM185.1 577.1h1v1h-1zM176.7 576.0h1v1h-1zM184.3 578.6h1v1h-1zM185.5 584.1h1v1h-1zM181.1 578.1h1v1h-1zM184.5 583.2h1v1h-1zM185.7 578.4h1v1h-1zM160.1 575.6h1v1h-1zM179.8 581.5h1v1h-1zM180.7 582.7h1v1h-1zM186.9 583.9h1v1h-1zM175.8 581.4h1v1h-1zM173.5 576.1h1v1h-1zM181.6 575.4h1v1h-1zM174.3 576.9h1v1h-1zM183.5 583.1h1v1h-1zM179.2 582.8h1v1h-1zM167.4 576.4h1v1h-1zM173.6 581.5h1v1h-1zM185.7 580.9h1v1h-1zM167.0 568.3h1v1h-1zM172.3 582.6h1v1h-1zM180.0 578.2h1v1h-1zM176.4 580.9h1v1h-1zM182.8 579.9h1v1h-1zM180.7 577.0h1v1h-1zM187.7 581.5h1v1h-1zM181.4 580.0h1v1h-1zM182.1 583.3h1v1h-1zM179.0 577.2h1v1h-1zM177.0 566.1h1v1h-1zM177.6 573.2h1v1h-1zM163.8 567.7h1v1h-1zM168.2 566.9h1v1h-1zM180.6 583.9h1v1h-1zM180.3 577.6h1v1h-1zM174.7 554.6h1v1h-1zM183.4 576.2h1v1h-1zM177.7 579.5h1v1h-1zM180.5 576.4h1v1h-1zM186.6 583.0h1v1h-1zM185.5 582.6h1v1h-1zM188.0 581.7h1v1h-1zM177.4 568.0h1v1h-1zM182.9 583.0h1v1h-1zM176.5 566.9h1v1h-1zM176.9 569.8h1v1h-1zM179.7 578.3h1v1h-1zM181.1 579.4h1v1h-1zM183.0 583.8h1v1h-1zM173.7 575.2h1v1h-1zM187.9 584.1h1v1h-1zM180.0 578.5h1v1h-1zM182.9 582.5h1v1h-1zM172.5 578.3h1v1h-1zM173.8 575.3h1v1h-1zM176.1 582.5h1v1h-1zM186.8 584.1h1v1h-1zM177.7 582.7h1v1h-1zM175.5 583.9h1v1h-1zM185.9 577.7h1v1h-1zM181.2 573.1h1v1h-1zM181.2 582.8h1v1h-1zM187.3 583.7h1v1h-1zM172.6 583.3h1v1h-1zM179.3 563.8h1v1h-1zM168.8 543.3h1v1h-1zM178.1 581.5h1v1h-1zM171.8 583.1h1v1h-1zM157.3 571.7h1v1h-1zM188.4 582.9h1v1h-1zM179.6 580.1h1v1h-1zM171.0 583.4h1v1h-1zM184.8 582.6h1v1h-1zM184.3 580.8h1v1h-1zM183.4 571.2h1v1h-1zM187.5 581.2h1v1h-1zM182.4 582.7h1v1h-1zM183.3 584.0h1v1h-1zM183.7 578.1h1v1h-1zM162.4 563.0h1v1h-1zM180.7 576.2h1v1h-1zM185.1 583.1h1v1h-1zM185.3 583.4h1v1h-1zM185.1 582.6h1v1h-1zM184.8 581.3h1v1h-1zM187.8 584.0h1v1h-1zM167.8 576.2h1v1h-1zM185.1 584.0h1v1h-1zM185.0 581.0h1v1h-1zM180.0 584.1h1v1h-1zM177.3 579.3h1v1h-1zM187.3 582.9h1v1h-1zM178.7 576.5h1v1h-1zM178.7 577.6h1v1h-1zM187.1 584.0h1v1h-1zM187.5 583.4h1v1h-1zM180.5 581.4h1v1h-1zM183.4 580.9h1v1h-1zM184.5 575.2h1v1h-1zM180.4 581.1h1v1h-1zM174.1 577.9h1v1h-1zM176.0 573.6h1v1h-1zM187.3 584.0h1v1h-1zM180.6 579.1h1v1h-1zM169.0 539.4h1v1h-1zM178.1 580.8h1v1h-1zM184.2 577.9h1v1h-1zM174.1 571.6h1v1h-1zM161.2 575.6h1v1h-1zM184.4 582.7h1v1h-1zM184.6 581.4h1v1h-1zM188.2 583.4h1v1h-1zM186.0 583.5h1v1h-1zM186.5 583.9h1v1h-1zM174.6 576.5h1v1h-1zM183.7 583.4h1v1h-1zM180.7 578.2h1v1h-1zM183.9 580.7h1v1h-1zM176.1 583.5h1v1h-1zM178.0 578.9h1v1h-1zM181.4 577.3h1v1h-1zM183.2 584.0h1v1h-1zM185.8 581.2h1v1h-1zM179.5 572.6h1v1h-1zM178.7 578.6h1v1h-1zM188.5 583.9h1v1h-1zM182.7 579.2h1v1h-1zM172.5 581.1h1v1h-1zM176.3 572.7h1v1h-1zM179.4 568.7h1v1h-1zM188.3 584.0h1v1h-1zM182.0 581.2h1v1h-1zM180.2 579.2h1v1h-1zM182.5 584.0h1v1h-1zM182.5 582.9h1v1h-1zM185.9 580.0h1v1h-1zM181.3 581.2h1v1h-1zM187.8 581.6h1v1h-1zM175.0 583.6h1v1h-1zM179.2 567.9h1v1h-1zM183.0 582.0h1v1h-1zM166.4 577.2h1v1h-1zM183.0 577.2h1v1h-1zM187.2 580.2h1v1h-1zM176.9 572.5h1v1h-1zM173.9 578.2h1v1h-1zM184.8 583.2h1v1h-1zM179.9 576.0h1v1h-1zM179.5 583.1h1v1h-1zM183.8 581.5h1v1h-1zM155.9 583.7h1v1h-1zM180.5 583.9h1v1h-1zM169.1 578.4h1v1h-1zM186.4 582.6h1v1h-1zM184.6 576.2h1v1h-1zM178.3 576.6h1v1h-1zM182.5 573.1h1v1h-1zM186.4 580.4h1v1h-1zM176.9 570.8h1v1h-1zM187.0 584.1h1v1h-1zM157.2 551.8h1v1h-1zM183.8 584.0h1v1h-1zM172.5 574.4h1v1h-1zM186.7 584.1h1v1h-1zM177.2 583.0h1v1h-1zM187.1 582.9h1v1h-1zM175.2 579.3h1v1h-1zM175.2 561.5h1v1h-1zM184.8 581.8h1v1h-1zM176.0 583.8h1v1h-1zM180.8 576.8h1v1h-1zM182.3 584.0h1v1h-1zM174.3 583.6h1v1h-1zM174.6 582.4h1v1h-1zM179.1 581.2h1v1h-1zM176.5 579.0h1v1h-1zM184.0 581.3h1v1h-1zM184.7 583.7h1v1h-1zM176.1 577.5h1v1h-1zM178.8 583.8h1v1h-1zM177.8 577.4h1v1h-1zM181.1 567.2h1v1h-1zM182.6 583.1h1v1h-1zM180.0 583.8h1v1h-1zM185.4 579.8h1v1h-1zM179.9 564.7h1v1h-1zM179.6 572.3h1v1h-1zM185.2 584.1h1v1h-1zM174.3 570.2h1v1h-1zM180.9 569.2h1v1h-1zM188.5 584.1h1v1h-1zM183.2 578.7h1v1h-1zM181.0 577.8h1v1h-1zM172.7 581.7h1v1h-1zM164.7 570.1h1v1h-1zM183.1 584.0h1v1h-1zM182.3 583.7h1v1h-1zM180.9 583.7h1v1h-1zM175.6 583.4h1v1h-1zM184.5 575.0h1v1h-1zM187.3 584.0h1v1h-1zM186.6 582.9h1v1h-1zM183.2 583.3h1v1h-1zM184.6 574.8h1v1h-1zM176.8 577.1h1v1h-1zM179.5 582.0h1v1h-1zM181.7 577.2h1v1h-1zM175.9 580.8h1v1h-1zM164.5 575.8h1v1h-1zM187.2 582.8h1v1h-1zM180.7 571.1h1v1h-1zM175.2 571.7h1v1h-1zM181.7 583.9h1v1h-1zM183.8 581.0h1v1h-1zM183.7 583.9h1v1h-1zM184.4 577.2h1v1h-1zM185.4 583.0h1v1h-1zM183.9 582.7h1v1h-1zM175.6 582.8h1v1h-1zM180.8 579.8h1v1h-1zM180.6 576.4h1v1h-1zM174.3 582.3h1v1h-1zM163.9 571.4h1v1h-1zM181.9 583.6h1v1h-1zM182.4 578.9h1v1h-1zM181.3 583.8h1v1h-1zM175.4 577.4h1v1h-1zM180.0 583.9h1v1h-1zM177.7 564.8h1v1h-1zM178.7 580.0h1v1h-1zM166.3 582.1h1v1h-1zM182.4 578.8h1v1h-1zM180.7 579.9h1v1h-1zM182.1 581.7h1v1h-1zM185.9 583.6h1v1h-1zM167.1 568.6h1v1h-1zM185.9 584.1h1v1h-1zM179.0 580.3h1v1h-1zM159.6 581.8h1v1h-1zM181.9 571.1h1v1h-1zM179.2 582.5h1v1h-1zM183.5 575.5h1v1h-1zM185.0 583.7h1v1h-1zM180.3 574.8h1v1h-1zM182.1 579.5h1v1h-1zM183.6 572.4h1v1h-1zM180.2 576.4h1v1h-1zM185.2 576.3h1v1h-1zM182.9 578.1h1v1h-1zM187.2 580.3h1v1h-1zM182.7 578.3h1v1h-1zM175.0 582.3h1v1h-1zM176.3 575.9h1v1h-1zM185.7 583.9h1v1h-1zM180.7 581.6h1v1h-1zM186.4 579.9h1v1h-1zM188.9 584.0h1v1h-1zM187.4 582.5h1v1h-1zM166.7 563.4h1v1h-1zM174.7 573.6h1v1h-1zM184.8 584.0h1v1h-1zM177.3 580.6h1v1h-1zM188.5 583.8h1v1h-1zM181.7 571.3h1v1h-1zM168.3 583.9h1v1h-1zM178.2 572.3h1v1h-1zM181.7 580.5h1v1h-1zM178.3 571.5h1v1h-1zM173.9 579.0h1v1h-1zM187.2 581.9h1v1h-1zM172.2 566.9h1v1h-1zM180.5 584.1h1v1h-1zM186.9 583.0h1v1h-1zM178.2 579.8h1v1h-1zM182.4 581.8h1v1h-1zM182.2 580.7h1v1h-1zM186.8 581.7h1v1h-1zM178.5 580.6h1v1h-1zM186.2 582.5h1v1h-1zM179.9 582.9h1v1h-1zM187.0 584.1h1v1h-1zM180.7 577.5h1v1h-1zM182.3 582.8h1v1h-1zM185.4 584.1h1v1h-1zM186.9 584.1h1v1h-1zM157.7 584.1h1v1h-1zM176.1 571.2h1v1h-1zM174.7 582.6h1v1h-1zM179.6 569.3h1v1h-1zM185.1 582.3h1v1h-1zM178.3 568.5h1v1h-1zM183.4 583.3h1v1h-1zM185.3 581.7h1v1h-1zM166.2 568.7h1v1h-1zM160.8 583.9h1v1h-1zM173.2 574.0h1v1h-1zM182.9 580.8h1v1h-1zM175.8 582.1h1v1h-1zM166.2 567.2h1v1h-1zM186.6 583.9h1v1h-1zM181.5 583.0h1v1h-1zM183.3 571.7h1v1h-1zM182.9 580.6h1v1h-1zM185.2 583.9h1v1h-1zM152.9 573.1h1v1h-1zM177.6 575.3h1v1h-1zM183.0 583.6h1v1h-1zM181.1 578.7h1v1h-1zM182.3 581.4h1v1h-1zM175.8 582.8h1v1h-1zM184.5 578.7h1v1h-1zM174.1 566.7h1v1h-1zM177.9 583.8h1v1h-1zM182.3 578.5h1v1h-1zM170.9 583.8h1v1h-1zM181.9 579.8h1v1h-1zM178.5 584.0h1v1h-1zM181.5 583.5h1v1h-1zM185.3 580.2h1v1h-1zM186.4 581.9h1v1h-1zM184.8 583.4h1v1h-1zM183.9 579.0h1v1h-1zM171.0 571.4h1v1h-1zM186.4 583.5h1v1h-1zM184.5 583.9h1v1h-1zM186.1 581.2h1v1h-1zM182.0 576.1h1v1h-1zM184.0 576.3h1v1h-1zM174.5 571.6h1v1h-1zM185.5 583.8h1v1h-1zM188.6 584.1h1v1h-1zM184.4 581.3h1v1h-1zM180.6 583.6h1v1h-1zM182.5 580.2h1v1h-1zM178.1 576.3h1v1h-1zM179.8 581.0h1v1h-1zM165.9 578.6h1v1h-1zM171.3 575.5h1v1h-1zM186.9 582.6h1v1h-1zM172.6 561.4h1v1h-1zM184.9 581.5h1v1h-1zM186.4 578.6h1v1h-1zM164.2 578.4h1v1h-1zM188.4 583.7h1v1h-1zM182.0 583.8h1v1h-1zM184.4 581.7h1v1h-1zM185.5 583.7h1v1h-1zM181.4 583.5h1v1h-1zM173.7 582.9h1v1h-1zM186.6 583.0h1v1h-1zM183.5 580.4h1v1h-1zM183.0 582.4h1v1h-1zM181.6 576.5h1v1h-1zM186.6 582.3h1v1h-1zM181.3 582.5h1v1h-1zM184.9 583.7h1v1h-1zM181.2 574.8h1v1h-1zM180.5 583.2h1v1h-1zM144.0 552.8h1v1h-1zM180.7 584.1h1v1h-1zM179.3 574.0h1v1h-1zM173.2 581.3h1v1h-1zM177.5 583.6h1v1h-1zM186.0 581.8h1v1h-1zM181.0 584.0h1v1h-1zM169.1 583.8h1v1h-1zM171.8 579.3h1v1h-1zM185.8 579.5h1v1h-1zM180.8 582.4h1v1h-1zM181.0 580.3h1v1h-1zM179.2 570.9h1v1h-1zM187.2 583.4h1v1h-1zM186.1 580.0h1v1h-1zM179.3 580.6h1v1h-1zM183.9 583.9h1v1h-1zM179.4 578.4h1v1h-1zM183.1 580.7h1v1h-1zM176.7 580.2h1v1h-1zM185.7 583.5h1v1h-1zM182.0 571.4h1v1h-1zM183.0 574.6h1v1h-1zM175.8 579.4h1v1h-1zM187.7 581.6h1v1h-1zM160.7 565.1h1v1h-1zM161.7 566.6h1v1h-1zM169.5 580.1h1v1h-1zM156.3 576.7h1v1h-1zM187.1 580.8h1v1h-1zM173.4 572.2h1v1h-1zM186.3 582.3h1v1h-1zM185.0 583.2h1v1h-1zM187.8 581.9h1v1h-1zM174.2 575.3h1v1h-1zM179.5 580.4h1v1h-1zM182.1 580.4h1v1h-1zM185.9 578.4h1v1h-1zM185.5 583.8h1v1h-1zM176.0 577.6h1v1h-1zM169.2 572.3h1v1h-1zM181.5 584.0h1v1h-1zM178.6 581.7h1v1h-1zM176.3 580.6h1v1h-1zM184.5 582.1h1v1h-1zM170.7 583.7h1v1h-1zM185.8 583.9h1v1h-1zM178.2 580.4h1v1h-1zM183.8 582.4h1v1h-1zM185.2 581.3h1v1h-1zM176.3 579.9h1v1h-1zM164.8 580.9h1v1h-1zM182.4 574.9h1v1h-1zM186.6 581.0h1v1h-1zM182.7 582.1h1v1h-1zM180.2 582.8h1v1h-1zM187.3 582.3h1v1h-1zM183.1 584.1h1v1h-1zM173.6 579.7h1v1h-1zM182.2 580.9h1v1h-1zM181.6 582.6h1v1h-1zM181.5 581.8h1v1h-1zM185.5 575.9h1v1h-1zM181.7 583.4h1v1h-1zM176.8 581.2h1v1h-1zM179.0 578.8h1v1h-1zM178.1 581.0h1v1h-1zM180.9 576.8h1v1h-1zM182.4 583.6h1v1h-1zM177.8 579.7h1v1h-1zM178.4 570.6h1v1h-1zM165.6 551.9h1v1h-1zM162.0 563.5h1v1h-1zM177.1 580.2h1v1h-1zM183.9 581.6h1v1h-1zM167.0 573.0h1v1h-1zM176.2 568.7h1v1h-1zM180.2 567.5h1v1h-1zM161.1 579.6h1v1h-1zM181.2 577.7h1v1h-1zM169.6 577.1h1v1h-1zM183.7 583.9h1v1h-1zM180.6 584.0h1v1h-1zM180.6 566.4h1v1h-1zM188.8 583.8h1v1h-1zM182.3 583.7h1v1h-1zM187.3 582.7h1v1h-1zM183.4 576.6h1v1h-1zM179.0 576.8h1v1h-1zM186.7 579.9h1v1h-1zM174.9 568.2h1v1h-1zM179.7 572.4h1v1h-1zM170.8 580.9h1v1h-1zM182.7 583.6h1v1h-1zM179.3 583.1h1v1h-1zM185.5 577.6h1v1h-1zM187.8 584.0h1v1h-1zM179.9 583.1h1v1h-1zM188.4 583.9h1v1h-1zM186.6 582.9h1v1h-1zM179.5 582.9h1v1h-1zM185.1 579.5h1v1h-1zM172.4 580.3h1v1h-1zM171.3 573.6h1v1h-1zM182.4 583.8h1v1h-1zM183.2 572.6h1v1h-1zM184.2 579.8h1v1h-1zM179.4 581.3h1v1h-1zM184.5 584.0h1v1h-1zM182.1 584.1h1v1h-1zM183.5 574.5h1v1h-1zM171.7 578.0h1v1h-1zM166.5 574.4h1v1h-1zM172.0 562.1h1v1h-1zM180.6 581.5h1v1h-1zM186.1 584.0h1v1h-1zM182.5 582.4h1v1h-1zM181.5 581.9h1v1h-1zM187.4 583.7h1v1h-1zM184.6 579.0h1v1h-1zM182.0 573.4h1v1h-1zM186.3 581.3h1v1h-1zM181.3 582.6h1v1h-1zM176.4 584.0h1v1h-1zM183.0 576.6h1v1h-1zM180.6 580.6h1v1h-1zM184.3 576.5h1v1h-1zM186.5 579.5h1v1h-1zM185.7 583.7h1v1h-1zM181.9 578.6h1v1h-1zM183.2 581.5h1v1h-1zM181.9 582.5h1v1h-1zM174.9 569.2h1v1h-1zM185.1 583.5h1v1h-1zM173.0 583.0h1v1h-1zM178.0 580.6h1v1h-1zM183.8 580.8h1v1h-1zM180.9 576.4h1v1h-1zM181.9 582.2h1v1h-1zM186.4 580.1h1v1h-1zM178.0 580.9h1v1h-1zM185.7 582.2h1v1h-1zM170.4 584.0h1v1h-1zM185.6 580.8h1v1h-1zM172.7 581.4h1v1h-1zM180.9 579.9h1v1h-1zM186.2 579.9h1v1h-1zM181.0 576.7h1v1h-1zM145.7 583.7h1v1h-1zM176.9 577.4h1v1h-1zM185.4 577.8h1v1h-1zM179.2 579.7h1v1h-1zM180.3 576.9h1v1h-1zM182.6 581.6h1v1h-1zM183.7 580.9h1v1h-1zM185.5 576.6h1v1h-1zM186.6 582.9h1v1h-1zM178.5 582.7h1v1h-1zM179.5 565.2h1v1h-1zM188.8 583.7h1v1h-1zM180.1 580.2h1v1h-1zM182.5 579.2h1v1h-1zM184.4 577.4h1v1h-1zM183.6 579.1h1v1h-1zM167.2 583.0h1v1h-1zM169.8 574.1h1v1h-1zM184.5 576.8h1v1h-1zM168.4 561.0h1v1h-1zM185.6 584.1h1v1h-1zM186.3 583.3h1v1h-1zM167.9 580.5h1v1h-1zM178.7 581.2h1v1h-1zM186.1 583.0h1v1h-1zM186.6 582.3h1v1h-1zM179.9 582.6h1v1h-1zM181.4 582.7h1v1h-1zM178.8 579.9h1v1h-1zM182.0 582.2h1v1h-1zM173.7 583.3h1v1h-1zM186.5 583.9h1v1h-1zM177.7 583.9h1v1h-1zM172.2 565.7h1v1h-1zM187.6 584.1h1v1h-1zM167.8 574.4h1v1h-1zM185.3 584.1h1v1h-1zM181.5 570.8h1v1h-1zM180.6 583.2h1v1h-1zM170.6 575.2h1v1h-1zM184.9 580.5h1v1h-1zM186.7 583.2h1v1h-1zM184.4 584.0h1v1h-1zM186.9 583.4h1v1h-1zM183.8 581.7h1v1h-1zM180.2 582.1h1v1h-1zM179.2 579.8h1v1h-1zM186.1 579.8h1v1h-1zM188.6 583.7h1v1h-1zM178.7 583.4h1v1h-1zM185.6 579.7h1v1h-1zM186.8 583.3h1v1h-1zM176.2 583.1h1v1h-1zM186.8 583.9h1v1h-1zM163.4 580.5h1v1h-1zM178.8 569.8h1v1h-1zM178.4 571.4h1v1h-1zM171.3 580.3h1v1h-1zM175.6 576.4h1v1h-1zM187.4 583.8h1v1h-1zM171.7 580.3h1v1h-1zM162.9 583.7h1v1h-1zM180.6 579.6h1v1h-1zM181.9 577.8h1v1h-1zM183.0 583.9h1v1h-1zM176.2 579.9h1v1h-1zM186.1 583.8h1v1h-1zM178.0 582.4h1v1h-1zM177.4 571.3h1v1h-1zM180.9 575.9h1v1h-1zM164.2 576.2h1v1h-1zM180.2 580.8h1v1h-1zM155.0 583.2h1v1h-1zM179.1 575.5h1v1h-1zM165.7 579.2h1v1h-1zM185.7 582.9h1v1h-1zM176.3 577.7h1v1h-1zM182.6 583.5h1v1h-1zM165.1 579.5h1v1h-1zM183.5 583.2h1v1h-1zM177.6 580.2h1v1h-1zM184.4 580.9h1v1h-1zM179.2 581.9h1v1h-1zM185.1 582.5h1v1h-1zM182.2 581.0h1v1h-1zM185.2 582.1h1v1h-1zM174.0 568.6h1v1h-1zM187.6 583.4h1v1h-1zM182.0 571.0h1v1h-1zM173.2 581.5h1v1h-1zM187.5 583.4h1v1h-1zM184.8 581.7h1v1h-1zM185.7 583.7h1v1h-1zM183.9 583.4h1v1h-1zM186.4 583.8h1v1h-1zM183.7 582.4h1v1h-1zM182.2 571.5h1v1h-1zM176.2 570.5h1v1h-1zM174.1 557.1h1v1h-1zM179.6 573.0h1v1h-1zM176.4 572.9h1v1h-1zM184.9 581.0h1v1h-1zM180.9 583.9h1v1h-1zM166.9 572.4h1v1h-1zM179.7 580.7h1v1h-1zM183.3 581.0h1v1h-1zM174.5 581.6h1v1h-1zM185.8 583.5h1v1h-1zM184.2 583.7h1v1h-1zM180.8 568.2h1v1h-1zM173.3 582.5h1v1h-1zM173.7 571.7h1v1h-1zM178.1 574.7h1v1h-1zM174.7 573.7h1v1h-1zM185.6 580.6h1v1h-1zM183.7 584.0h1v1h-1zM187.0 583.7h1v1h-1zM182.6 582.2h1v1h-1zM171.1 572.8h1v1h-1zM185.6 579.3h1v1h-1zM182.0 580.7h1v1h-1zM179.2 582.9h1v1h-1zM182.1 581.2h1v1h-1zM177.5 573.0h1v1h-1zM179.5 578.7h1v1h-1zM180.9 583.6h1v1h-1zM180.5 582.6h1v1h-1zM179.6 583.1h1v1h-1zM184.7 575.8h1v1h-1zM176.8 566.4h1v1h-1zM180.1 581.6h1v1h-1zM169.2 576.8h1v1h-1zM183.1 576.6h1v1h-1zM176.5 573.7h1v1h-1zM172.5 582.4h1v1h-1zM180.3 569.3h1v1h-1zM176.2 571.8h1v1h-1zM178.6 582.6h1v1h-1zM178.7 581.4h1v1h-1zM183.2 577.0h1v1h-1zM176.0 569.8h1v1h-1zM176.6 559.8h1v1h-1zM188.0 583.2h1v1h-1zM178.7 582.6h1v1h-1zM184.7 577.9h1v1h-1zM186.7 579.0h1v1h-1zM175.4 574.6h1v1h-1zM171.5 573.1h1v1h-1zM181.0 570.4h1v1h-1zM161.7 575.9h1v1h-1zM176.9 579.4h1v1h-1zM175.1 583.4h1v1h-1zM182.4 583.9h1v1h-1zM179.1 583.3h1v1h-1zM179.6 580.3h1v1h-1zM180.3 583.9h1v1h-1zM186.6 582.8h1v1h-1zM179.6 570.3h1v1h-1zM188.1 582.8h1v1h-1zM174.7 562.7h1v1h-1zM174.2 579.1h1v1h-1zM186.7 583.6h1v1h-1zM163.2 578.2h1v1h-1zM177.2 580.8h1v1h-1zM184.9 584.0h1v1h-1zM185.3 582.6h1v1h-1zM183.0 581.7h1v1h-1zM187.1 583.2h1v1h-1zM180.6 567.5h1v1h-1zM181.7 583.6h1v1h-1zM176.3 578.3h1v1h-1zM185.7 576.6h1v1h-1zM174.2 579.7h1v1h-1zM183.4 579.9h1v1h-1zM183.1 581.5h1v1h-1zM179.3 577.7h1v1h-1zM182.6 581.2h1v1h-1zM182.3 581.8h1v1h-1zM180.6 575.5h1v1h-1zM185.4 581.4h1v1h-1zM185.5 584.0h1v1h-1zM185.8 581.7h1v1h-1zM180.9 580.5h1v1h-1zM171.8 582.9h1v1h-1zM187.3 583.2h1v1h-1zM188.6 583.5h1v1h-1zM178.6 584.0h1v1h-1zM187.8 582.7h1v1h-1zM181.4 581.7h1v1h-1zM184.7 576.1h1v1h-1zM182.4 569.5h1v1h-1zM181.9 579.3h1v1h-1zM176.5 577.8h1v1h-1zM182.6 582.3h1v1h-1zM184.7 582.7h1v1h-1zM178.5 582.8h1v1h-1zM183.5 576.4h1v1h-1zM171.5 583.6h1v1h-1zM187.3 580.9h1v1h-1zM182.7 583.7h1v1h-1zM177.1 579.0h1v1h-1zM172.1 579.6h1v1h-1zM185.6 582.1h1v1h-1zM186.1 583.3h1v1h-1zM179.9 583.8h1v1h-1zM183.6 578.7h1v1h-1zM187.5 583.8h1v1h-1zM184.5 579.5h1v1h-1zM182.8 581.8h1v1h-1zM187.6 582.5h1v1h-1zM185.7 580.7h1v1h-1zM186.7 583.1h1v1h-1zM184.4 582.3h1v1h-1zM183.2 579.3h1v1h-1zM178.8 575.3h1v1h-1zM181.2 578.8h1v1h-1zM188.4 583.4h1v1h-1zM177.0 573.6h1v1h-1zM179.2 582.0h1v1h-1zM181.6 582.6h1v1h-1zM187.7 582.1h1v1h-1zM180.3 583.6h1v1h-1zM175.7 582.5h1v1h-1zM165.3 570.7h1v1h-1zM186.6 580.5h1v1h-1zM169.4 581.0h1v1h-1zM172.5 581.5h1v1h-1zM181.3 577.6h1v1h-1zM185.5 581.4h1v1h-1zM185.0 575.8h1v1h-1zM184.8 580.2h1v1h-1zM186.1 580.3h1v1h-1zM185.6 583.2h1v1h-1zM176.0 584.0h1v1h-1zM175.2 584.0h1v1h-1zM184.2 582.7h1v1h-1zM184.1 582.3h1v1h-1zM185.1 581.7h1v1h-1zM186.3 583.0h1v1h-1zM169.6 573.3h1v1h-1zM159.2 574.6h1v1h-1zM185.3 580.9h1v1h-1zM162.1 569.5h1v1h-1zM180.7 577.5h1v1h-1zM182.8 583.5h1v1h-1zM182.7 578.6h1v1h-1zM176.2 583.9h1v1h-1zM179.4 582.9h1v1h-1zM182.1 582.6h1v1h-1zM168.8 579.4h1v1h-1zM172.1 575.1h1v1h-1zM181.0 582.3h1v1h-1zM182.6 584.0h1v1h-1zM174.1 577.2h1v1h-1zM178.2 579.9h1v1h-1zM167.6 583.5h1v1h-1zM175.4 583.6h1v1h-1zM181.7 584.0h1v1h-1zM179.4 578.0h1v1h-1zM183.4 582.2h1v1h-1zM181.2 576.5h1v1h-1zM174.8 580.6h1v1h-1zM187.3 581.0h1v1h-1zM187.4 581.9h1v1h-1zM181.8 579.4h1v1h-1zM175.2 583.6h1v1h-1zM176.8 561.3h1v1h-1zM184.4 583.8h1v1h-1zM177.3 578.5h1v1h-1zM181.6 580.1h1v1h-1zM177.5 580.9h1v1h-1zM187.7 584.1h1v1h-1zM181.8 580.4h1v1h-1zM185.0 578.0h1v1h-1zM181.1 582.2h1v1h-1zM185.2 576.8h1v1h-1zM164.6 571.0h1v1h-1zM179.8 576.5h1v1h-1zM182.5 582.2h1v1h-1zM182.2 581.7h1v1h-1zM165.8 566.1h1v1h-1zM184.1 576.2h1v1h-1zM134.1 581.2h1v1h-1zM177.4 580.8h1v1h-1zM182.3 572.1h1v1h-1zM178.7 580.3h1v1h-1zM181.6 582.5h1v1h-1zM184.3 581.2h1v1h-1zM173.3 581.7h1v1h-1zM182.6 584.0h1v1h-1zM170.8 573.5h1v1h-1zM168.1 583.9h1v1h-1zM184.9 581.8h1v1h-1zM184.8 582.6h1v1h-1zM179.1 576.1h1v1h-1zM183.7 583.7h1v1h-1zM185.2 583.0h1v1h-1zM182.5 583.6h1v1h-1zM185.0 581.5h1v1h-1zM176.1 581.2h1v1h-1zM174.5 566.0h1v1h-1zM182.3 581.8h1v1h-1zM169.3 543.5h1v1h-1zM168.7 583.5h1v1h-1zM188.0 584.0h1v1h-1zM179.0 582.2h1v1h-1zM170.0 580.6h1v1h-1zM174.9 581.7h1v1h-1zM175.9 568.1h1v1h-1zM186.9 580.5h1v1h-1zM180.2 582.9h1v1h-1zM171.3 581.9h1v1h-1zM174.4 583.5h1v1h-1zM173.2 576.7h1v1h-1zM175.1 582.1h1v1h-1zM184.5 584.1h1v1h-1zM173.5 576.4h1v1h-1zM183.9 578.7h1v1h-1zM169.8 579.6h1v1h-1zM183.6 581.2h1v1h-1zM177.0 578.6h1v1h-1zM183.5 583.8h1v1h-1zM184.9 582.9h1v1h-1zM187.9 583.5h1v1h-1zM185.2 578.0h1v1h-1zM176.9 581.5h1v1h-1zM172.2 581.0h1v1h-1zM173.7 582.8h1v1h-1zM183.7 583.1h1v1h-1zM182.8 581.8h1v1h-1zM169.6 583.1h1v1h-1zM181.4 577.0h1v1h-1zM166.4 540.6h1v1h-1zM180.5 579.9h1v1h-1zM187.3 583.1h1v1h-1zM180.9 581.9h1v1h-1zM179.3 576.6h1v1h-1zM183.0 582.7h1v1h-1zM181.3 577.4h1v1h-1zM184.2 577.8h1v1h-1zM182.2 583.8h1v1h-1zM184.3 581.3h1v1h-1zM180.2 578.6h1v1h-1zM177.7 574.1h1v1h-1zM185.8 578.6h1v1h-1zM180.9 569.4h1v1h-1zM187.6 583.0h1v1h-1zM180.3 569.8h1v1h-1zM185.7 578.6h1v1h-1zM185.6 583.6h1v1h-1zM186.2 583.5h1v1h-1zM185.6 577.8h1v1h-1zM155.9 568.3h1v1h-1zM186.9 583.7h1v1h-1zM165.0 564.1h1v1h-1zM138.2 579.9h1v1h-1zM158.6 562.0h1v1h-1zM170.9 584.0h1v1h-1zM183.8 576.9h1v1h-1zM188.1 582.5h1v1h-1zM179.9 575.1h1v1h-1zM177.4 583.2h1v1h-1zM184.7 583.3h1v1h-1zM178.2 583.1h1v1h-1zM174.8 577.6h1v1h-1zM182.8 577.7h1v1h-1zM177.1 582.3h1v1h-1zM178.1 575.4h1v1h-1zM183.1 574.9h1v1h-1zM184.2 581.7h1v1h-1zM177.2 576.6h1v1h-1zM182.6 581.8h1v1h-1zM183.6 583.0h1v1h-1zM183.8 576.7h1v1h-1zM182.3 583.7h1v1h-1zM178.4 580.0h1v1h-1zM181.4 583.5h1v1h-1zM183.6 576.6h1v1h-1zM179.9 582.5h1v1h-1zM184.2 577.9h1v1h-1zM179.4 583.8h1v1h-1zM182.2 570.6h1v1h-1zM182.9 580.1h1v1h-1zM161.8 582.5h1v1h-1zM177.5 583.1h1v1h-1zM178.8 571.6h1v1h-1zM171.5 580.8h1v1h-1zM185.6 580.6h1v1h-1zM177.7 581.8h1v1h-1zM185.9 578.6h1v1h-1zM181.7 580.8h1v1h-1zM183.1 576.1h1v1h-1zM184.5 575.6h1v1h-1zM183.8 572.8h1v1h-1zM165.8 582.9h1v1h-1zM183.6 582.3h1v1h-1zM185.9 576.9h1v1h-1zM181.5 569.7h1v1h-1zM172.5 578.2h1v1h-1zM154.5 576.0h1v1h-1zM183.0 581.3h1v1h-1zM170.5 565.1h1v1h-1zM170.2 555.3h1v1h-1zM176.1 579.0h1v1h-1zM187.6 583.3h1v1h-1zM177.9 575.8h1v1h-1zM187.6 584.1h1v1h-1zM176.9 574.8h1v1h-1zM187.8 582.3h1v1h-1zM182.6 570.5h1v1h-1zM173.3 583.1h1v1h-1zM186.5 580.4h1v1h-1zM174.1 557.7h1v1h-1zM164.4 565.1h1v1h-1zM173.2 582.5h1v1h-1zM184.5 582.1h1v1h-1zM183.4 573.8h1v1h-1zM177.4 575.4h1v1h-1zM182.9 574.8h1v1h-1zM186.4 583.2h1v1h-1zM185.1 583.3h1v1h-1zM176.8 578.6h1v1h-1zM137.4 562.0h1v1h-1zM178.4 577.8h1v1h-1zM182.6 572.3h1v1h-1zM177.0 582.0h1v1h-1zM187.3 582.4h1v1h-1zM185.8 578.4h1v1h-1zM181.0 580.6h1v1h-1zM175.3 579.6h1v1h-1zM180.8 575.5h1v1h-1zM177.1 581.7h1v1h-1zM187.3 582.8h1v1h-1zM185.5 578.9h1v1h-1zM180.5 568.7h1v1h-1zM180.0 580.3h1v1h-1zM170.9 568.8h1v1h-1zM184.4 582.0h1v1h-1zM188.2 583.5h1v1h-1zM180.3 572.1h1v1h-1zM186.3 578.8h1v1h-1zM183.0 583.1h1v1h-1zM180.0 578.7h1v1h-1zM176.7 579.0h1v1h-1zM180.9 584.0h1v1h-1zM173.4 578.2h1v1h-1zM185.1 583.7h1v1h-1zM179.7 577.9h1v1h-1zM171.1 582.2h1v1h-1zM181.8 580.7h1v1h-1zM183.9 581.9h1v1h-1zM186.1 580.0h1v1h-1zM186.8 583.7h1v1h-1zM181.5 577.2h1v1h-1zM184.6 584.0h1v1h-1zM184.6 574.3h1v1h-1zM184.6 580.7h1v1h-1zM182.7 582.5h1v1h-1zM186.1 582.7h1v1h-1zM187.1 581.4h1v1h-1zM187.9 583.8h1v1h-1zM186.8 582.6h1v1h-1zM176.8 582.8h1v1h-1zM184.8 578.4h1v1h-1zM179.7 577.7h1v1h-1zM186.3 583.1h1v1h-1zM181.3 574.4h1v1h-1zM186.9 584.1h1v1h-1zM183.0 582.7h1v1h-1zM179.8 582.9h1v1h-1zM173.6 571.3h1v1h-1zM183.1 577.5h1v1h-1zM180.1 583.4h1v1h-1zM178.1 577.5h1v1h-1zM171.5 558.9h1v1h-1zM177.3 583.5h1v1h-1zM175.1 571.2h1v1h-1zM176.8 583.9h1v1h-1zM176.1 577.7h1v1h-1zM186.1 582.0h1v1h-1zM176.8 582.1h1v1h-1zM183.7 573.7h1v1h-1zM184.6 580.3h1v1h-1zM184.5 582.1h1v1h-1zM185.8 582.2h1v1h-1zM168.1 577.8h1v1h-1zM183.5 583.2h1v1h-1zM180.8 578.9h1v1h-1zM176.6 583.2h1v1h-1zM185.2 580.5h1v1h-1zM175.1 583.9h1v1h-1zM184.6 577.6h1v1h-1zM188.6 583.9h1v1h-1zM186.9 582.4h1v1h-1zM185.1 581.7h1v1h-1zM183.8 582.8h1v1h-1zM162.4 579.1h1v1h-1zM178.5 578.8h1v1h-1zM176.8 576.2h1v1h-1zM183.9 576.1h1v1h-1zM177.2 580.7h1v1h-1zM172.7 582.3h1v1h-1zM182.3 580.9h1v1h-1zM178.2 571.6h1v1h-1zM182.9 583.9h1v1h-1zM186.4 580.7h1v1h-1zM181.2 574.2h1v1h-1zM178.8 582.7h1v1h-1zM186.1 583.8h1v1h-1zM170.8 564.1h1v1h-1zM181.3 582.4h1v1h-1zM175.6 572.3h1v1h-1zM187.8 583.4h1v1h-1zM174.1 582.7h1v1h-1zM138.4 579.6h1v1h-1zM187.8 583.6h1v1h-1zM183.5 582.0h1v1h-1zM177.7 576.4h1v1h-1zM177.0 583.8h1v1h-1zM176.3 564.2h1v1h-1zM179.6 574.4h1v1h-1zM178.8 580.3h1v1h-1zM168.9 572.2h1v1h-1zM179.5 583.4h1v1h-1zM179.0 572.8h1v1h-1zM176.1 583.9h1v1h-1zM176.0 580.3h1v1h-1zM178.7 577.5h1v1h-1zM184.7 577.2h1v1h-1zM177.7 576.2h1v1h-1zM171.0 580.0h1v1h-1zM186.5 583.8h1v1h-1zM172.6 574.8h1v1h-1zM172.4 583.8h1v1h-1zM175.8 580.1h1v1h-1zM185.0 583.8h1v1h-1zM186.0 583.5h1v1h-1zM171.9 581.9h1v1h-1zM186.4 583.9h1v1h-1zM169.2 573.8h1v1h-1zM177.9 581.0h1v1h-1zM184.7 584.0h1v1h-1zM188.0 582.6h1v1h-1zM187.1 581.0h1v1h-1zM181.7 582.5h1v1h-1zM187.0 581.0h1v1h-1zM181.3 575.0h1v1h-1zM181.8 577.5h1v1h-1zM174.4 583.3h1v1h-1zM181.4 582.4h1v1h-1zM184.7 583.2h1v1h-1zM171.2 583.3h1v1h-1zM185.2 583.4h1v1h-1zM177.0 565.6h1v1h-1zM186.1 583.6h1v1h-1zM184.6 581.1h1v1h-1zM188.4 583.6h1v1h-1zM177.9 571.4h1v1h-1zM186.8 580.3h1v1h-1zM174.4 582.7h1v1h-1zM187.4 584.1h1v1h-1zM169.6 583.3h1v1h-1zM170.1 581.1h1v1h-1zM182.6 581.1h1v1h-1zM182.6 581.8h1v1h-1zM172.8 580.8h1v1h-1zM184.7 582.8h1v1h-1zM182.7 576.3h1v1h-1zM188.6 583.9h1v1h-1zM179.0 581.4h1v1h-1zM177.8 573.5h1v1h-1zM172.3 581.4h1v1h-1zM183.6 582.2h1v1h-1zM180.0 583.9h1v1h-1zM183.7 574.8h1v1h-1zM184.9 582.9h1v1h-1zM161.7 580.8h1v1h-1zM176.6 583.9h1v1h-1zM173.2 583.4h1v1h-1zM173.8 580.3h1v1h-1zM183.7 582.3h1v1h-1zM173.7 577.4h1v1h-1zM171.1 581.7h1v1h-1zM173.2 584.0h1v1h-1zM181.1 579.0h1v1h-1zM187.1 583.7h1v1h-1zM173.8 580.4h1v1h-1zM184.2 583.8h1v1h-1zM176.6 566.1h1v1h-1zM186.8 583.9h1v1h-1zM180.0 583.3h1v1h-1zM177.6 581.4h1v1h-1zM182.9 580.4h1v1h-1zM177.7 583.8h1v1h-1zM178.6 579.3h1v1h-1zM173.2 573.2h1v1h-1zM182.6 571.8h1v1h-1zM179.6 566.5h1v1h-1zM170.5 581.0h1v1h-1zM180.1 583.6h1v1h-1zM171.0 575.8h1v1h-1zM187.1 581.4h1v1h-1zM178.4 581.5h1v1h-1zM167.4 569.7h1v1h-1zM184.4 581.5h1v1h-1zM183.2 573.4h1v1h-1zM172.3 583.5h1v1h-1zM173.0 582.4h1v1h-1zM187.0 582.3h1v1h-1zM185.0 582.9h1v1h-1zM188.6 583.8h1v1h-1zM185.5 582.5h1v1h-1zM187.1 583.9h1v1h-1zM185.6 582.6h1v1h-1zM184.0 580.4h1v1h-1zM186.9 583.3h1v1h-1zM185.8 582.2h1v1h-1zM182.9 582.6h1v1h-1zM182.3 580.1h1v1h-1zM159.1 570.4h1v1h-1zM174.1 583.2h1v1h-1zM180.0 581.2h1v1h-1zM184.4 583.9h1v1h-1zM187.1 579.6h1v1h-1zM173.8 581.3h1v1h-1zM177.2 583.6h1v1h-1zM179.5 577.8h1v1h-1zM172.8 581.0h1v1h-1zM181.8 581.5h1v1h-1zM170.0 575.8h1v1h-1zM176.3 582.4h1v1h-1zM172.8 581.6h1v1h-1zM180.7 576.4h1v1h-1zM177.8 582.5h1v1h-1zM177.9 579.2h1v1h-1zM186.7 580.7h1v1h-1zM165.7 568.7h1v1h-1zM174.4 563.2h1v1h-1zM185.2 583.8h1v1h-1zM174.6 559.1h1v1h-1zM183.2 572.4h1v1h-1zM157.0 583.5h1v1h-1zM177.7 583.6h1v1h-1zM174.2 577.6h1v1h-1zM177.4 583.1h1v1h-1zM172.1 569.0h1v1h-1zM184.1 583.4h1v1h-1zM184.2 582.3h1v1h-1zM168.3 563.6h1v1h-1zM166.6 563.8h1v1h-1zM172.1 580.2h1v1h-1zM176.7 566.9h1v1h-1zM174.2 583.8h1v1h-1zM179.2 580.8h1v1h-1zM172.6 575.1h1v1h-1zM185.1 583.7h1v1h-1zM179.8 583.8h1v1h-1zM186.6 579.4h1v1h-1zM175.6 570.0h1v1h-1zM182.4 583.0h1v1h-1zM179.2 577.9h1v1h-1zM165.2 576.7h1v1h-1zM184.8 581.4h1v1h-1zM182.2 581.3h1v1h-1zM185.7 580.3h1v1h-1zM171.5 583.4h1v1h-1zM178.7 583.9h1v1h-1zM180.4 582.6h1v1h-1zM177.8 574.2h1v1h-1zM179.4 574.0h1v1h-1zM177.3 581.1h1v1h-1zM179.7 570.8h1v1h-1zM174.7 584.1h1v1h-1zM184.4 575.7h1v1h-1zM178.0 576.8h1v1h-1zM183.1 581.8h1v1h-1zM180.3 583.0h1v1h-1zM184.4 584.1h1v1h-1zM176.8 582.7h1v1h-1zM161.4 557.7h1v1h-1zM183.1 581.3h1v1h-1zM186.3 580.7h1v1h-1zM180.8 582.3h1v1h-1zM186.0 582.7h1v1h-1zM187.9 583.0h1v1h-1zM174.9 578.6h1v1h-1zM181.1 571.3h1v1h-1zM186.5 582.5h1v1h-1zM187.0 582.4h1v1h-1zM172.4 578.3h1v1h-1zM183.3 580.3h1v1h-1zM188.4 583.6h1v1h-1zM180.3 573.8h1v1h-1zM186.8 581.7h1v1h-1zM164.5 580.1h1v1h-1zM176.8 581.8h1v1h-1zM185.8 583.9h1v1h-1zM184.8 579.2h1v1h-1zM187.1 583.5h1v1h-1zM183.3 581.8h1v1h-1zM181.9 581.5h1v1h-1zM174.9 581.2h1v1h-1zM179.5 581.5h1v1h-1zM157.1 536.7h1v1h-1zM184.2 580.7h1v1h-1zM181.5 580.0h1v1h-1zM166.4 569.3h1v1h-1zM181.9 583.5h1v1h-1zM176.8 578.6h1v1h-1zM178.1 572.8h1v1h-1zM183.8 583.9h1v1h-1zM180.0 579.2h1v1h-1zM175.8 579.7h1v1h-1zM188.0 584.0h1v1h-1zM178.0 583.9h1v1h-1zM179.6 571.2h1v1h-1zM176.2 558.6h1v1h-1zM184.2 578.7h1v1h-1zM175.0 583.0h1v1h-1zM180.1 571.4h1v1h-1zM179.8 581.8h1v1h-1zM178.4 583.2h1v1h-1zM166.6 578.9h1v1h-1zM179.9 572.3h1v1h-1zM188.2 584.1h1v1h-1zM181.8 583.6h1v1h-1zM186.3 581.3h1v1h-1zM184.8 576.7h1v1h-1zM168.2 580.4h1v1h-1zM188.0 583.9h1v1h-1zM176.2 579.4h1v1h-1zM177.6 565.7h1v1h-1zM179.2 567.7h1v1h-1zM179.4 583.9h1v1h-1zM175.0 583.8h1v1h-1zM167.7 579.5h1v1h-1zM172.8 583.7h1v1h-1zM171.9 583.6h1v1h-1zM176.2 578.4h1v1h-1zM174.5 579.7h1v1h-1zM177.7 582.8h1v1h-1zM178.0 583.2h1v1h-1zM186.2 583.8h1v1h-1zM179.0 574.0h1v1h-1zM184.2 578.9h1v1h-1zM174.5 583.9h1v1h-1zM178.3 581.5h1v1h-1zM182.1 581.9h1v1h-1zM178.2 582.3h1v1h-1zM181.8 573.9h1v1h-1zM184.9 574.7h1v1h-1zM168.5 573.3h1v1h-1zM175.4 582.1h1v1h-1zM177.6 581.5h1v1h-1zM163.6 554.8h1v1h-1zM163.2 574.1h1v1h-1zM184.4 580.4h1v1h-1zM183.4 584.1h1v1h-1zM182.6 582.3h1v1h-1zM179.8 583.8h1v1h-1zM178.8 583.9h1v1h-1zM186.2 582.8h1v1h-1zM186.5 583.4h1v1h-1zM172.4 582.9h1v1h-1zM165.2 554.5h1v1h-1zM188.7 583.6h1v1h-1zM185.2 584.0h1v1h-1zM185.7 581.0h1v1h-1zM184.6 580.2h1v1h-1zM175.6 568.2h1v1h-1zM181.5 583.4h1v1h-1zM177.8 580.4h1v1h-1zM177.0 583.6h1v1h-1zM179.0 579.2h1v1h-1zM183.4 581.3h1v1h-1zM182.3 583.8h1v1h-1zM183.3 580.3h1v1h-1zM164.3 584.0h1v1h-1zM175.1 577.1h1v1h-1zM178.3 581.8h1v1h-1zM182.9 581.5h1v1h-1zM185.3 576.7h1v1h-1zM175.6 579.9h1v1h-1zM186.5 581.6h1v1h-1zM185.7 583.9h1v1h-1zM185.2 583.5h1v1h-1zM177.5 570.7h1v1h-1zM187.4 583.8h1v1h-1zM187.2 583.9h1v1h-1zM177.9 563.0h1v1h-1zM186.5 583.6h1v1h-1zM143.2 577.0h1v1h-1zM169.4 568.4h1v1h-1zM177.2 583.7h1v1h-1zM181.8 581.7h1v1h-1zM177.4 566.1h1v1h-1zM185.2 582.1h1v1h-1zM171.1 583.8h1v1h-1zM177.1 583.1h1v1h-1zM187.8 583.8h1v1h-1zM180.9 575.7h1v1h-1zM173.2 550.7h1v1h-1zM172.4 574.3h1v1h-1zM155.7 576.3h1v1h-1zM184.9 578.5h1v1h-1zM184.0 576.6h1v1h-1zM182.0 573.5h1v1h-1zM184.7 577.8h1v1h-1zM177.2 580.7h1v1h-1zM181.6 572.1h1v1h-1zM180.0 583.7h1v1h-1zM182.7 581.2h1v1h-1zM187.4 582.5h1v1h-1zM180.9 580.1h1v1h-1zM187.7 584.0h1v1h-1zM171.2 576.9h1v1h-1zM169.8 583.7h1v1h-1zM174.4 583.8h1v1h-1zM180.7 582.0h1v1h-1zM180.2 582.9h1v1h-1zM177.4 583.7h1v1h-1zM171.6 575.7h1v1h-1zM186.0 583.1h1v1h-1zM185.2 581.0h1v1h-1zM179.2 577.3h1v1h-1zM180.6 583.9h1v1h-1zM184.6 582.3h1v1h-1zM173.8 573.3h1v1h-1zM172.3 578.9h1v1h-1zM176.0 583.2h1v1h-1zM182.4 577.4h1v1h-1zM177.2 581.6h1v1h-1zM182.9 578.3h1v1h-1zM182.9 575.2h1v1h-1zM188.0 584.0h1v1h-1zM185.6 579.9h1v1h-1zM175.2 574.7h1v1h-1zM181.4 580.4h1v1h-1zM180.3 579.8h1v1h-1zM178.6 580.0h1v1h-1zM172.8 577.7h1v1h-1zM180.4 574.1h1v1h-1zM175.5 583.6h1v1h-1zM165.6 570.8h1v1h-1zM177.1 583.8h1v1h-1zM172.0 579.1h1v1h-1zM186.4 583.5h1v1h-1zM187.8 583.3h1v1h-1zM185.2 583.2h1v1h-1zM183.7 577.6h1v1h-1zM183.3 584.0h1v1h-1zM162.6 573.2h1v1h-1zM186.9 583.2h1v1h-1zM185.6 581.2h1v1h-1zM161.4 571.9h1v1h-1zM177.8 572.9h1v1h-1zM183.5 577.2h1v1h-1zM182.0 581.2h1v1h-1zM152.7 531.6h1v1h-1zM181.4 580.8h1v1h-1zM178.6 578.6h1v1h-1zM186.6 580.4h1v1h-1zM183.9 581.9h1v1h-1zM187.2 583.6h1v1h-1zM184.1 574.1h1v1h-1zM177.0 581.2h1v1h-1zM162.1 566.2h1v1h-1zM178.3 579.1h1v1h-1zM179.8 582.6h1v1h-1zM181.7 577.6h1v1h-1zM188.1 583.5h1v1h-1zM175.2 573.1h1v1h-1zM179.9 584.1h1v1h-1zM182.2 576.8h1v1h-1zM172.7 578.7h1v1h-1zM178.4 579.2h1v1h-1zM184.8 583.8h1v1h-1zM170.6 583.0h1v1h-1zM159.7 583.8h1v1h-1zM182.3 578.6h1v1h-1zM179.8 580.5h1v1h-1zM187.8 581.3h1v1h-1zM179.9 578.3h1v1h-1zM167.2 567.3h1v1h-1zM175.9 583.6h1v1h-1zM185.5 582.8h1v1h-1zM183.0 583.1h1v1h-1zM179.7 581.1h1v1h-1zM181.5 582.1h1v1h-1zM183.6 583.8h1v1h-1zM182.5 582.0h1v1h-1zM185.8 584.0h1v1h-1zM187.1 583.5h1v1h-1zM178.5 576.4h1v1h-1zM182.5 582.6h1v1h-1zM174.4 571.4h1v1h-1zM181.0 583.3h1v1h-1zM177.9 576.4h1v1h-1zM168.7 582.8h1v1h-1zM183.1 583.9h1v1h-1zM182.3 573.2h1v1h-1zM183.5 572.7h1v1h-1zM167.2 566.8h1v1h-1zM177.5 583.0h1v1h-1zM180.9 573.5h1v1h-1zM180.4 583.7h1v1h-1zM177.8 572.1h1v1h-1zM172.7 583.4h1v1h-1zM164.3 568.1h1v1h-1zM184.3 581.0h1v1h-1zM182.5 576.1h1v1h-1zM179.3 576.4h1v1h-1zM178.3 578.6h1v1h-1zM185.1 577.5h1v1h-1zM186.4 583.0h1v1h-1zM179.0 581.4h1v1h-1zM181.3 580.7h1v1h-1zM188.0 583.7h1v1h-1zM182.3 583.8h1v1h-1zM161.4 583.5h1v1h-1zM180.9 582.2h1v1h-1zM182.5 580.3h1v1h-1zM177.8 583.4h1v1h-1zM176.1 578.8h1v1h-1zM187.3 581.6h1v1h-1zM178.1 581.5h1v1h-1zM186.2 581.3h1v1h-1zM181.2 581.0h1v1h-1zM174.3 582.8h1v1h-1zM159.4 579.2h1v1h-1zM184.5 581.3h1v1h-1zM174.1 579.9h1v1h-1zM188.4 583.4h1v1h-1zM177.4 582.9h1v1h-1zM172.2 565.3h1v1h-1zM187.5 583.5h1v1h-1zM169.2 579.2h1v1h-1zM184.1 580.3h1v1h-1zM181.2 578.0h1v1h-1zM187.9 582.2h1v1h-1zM186.2 578.6h1v1h-1zM181.1 579.7h1v1h-1zM184.6 578.4h1v1h-1zM173.1 570.8h1v1h-1zM179.4 571.6h1v1h-1zM180.0 583.8h1v1h-1zM184.5 574.5h1v1h-1zM185.8 581.4h1v1h-1zM181.4 571.8h1v1h-1zM180.6 582.0h1v1h-1zM186.5 583.7h1v1h-1zM180.1 576.4h1v1h-1zM188.1 583.6h1v1h-1zM186.6 580.1h1v1h-1zM187.5 583.6h1v1h-1zM182.8 583.6h1v1h-1zM185.9 582.5h1v1h-1zM179.6 578.7h1v1h-1zM181.7 584.1h1v1h-1zM185.2 583.5h1v1h-1zM177.5 582.6h1v1h-1zM183.3 582.7h1v1h-1zM174.0 580.2h1v1h-1zM185.2 577.9h1v1h-1zM186.7 584.0h1v1h-1zM181.0 577.6h1v1h-1zM188.5 583.4h1v1h-1zM187.5 581.1h1v1h-1zM168.8 579.5h1v1h-1zM183.2 578.5h1v1h-1zM179.6 582.0h1v1h-1zM167.9 573.8h1v1h-1zM188.0 582.5h1v1h-1zM180.7 582.3h1v1h-1zM184.4 581.0h1v1h-1zM185.5 584.0h1v1h-1zM177.9 579.0h1v1h-1zM178.3 562.7h1v1h-1zM181.9 583.8h1v1h-1zM176.5 582.2h1v1h-1zM171.2 557.8h1v1h-1zM179.6 580.7h1v1h-1zM182.4 579.4h1v1h-1zM185.5 582.7h1v1h-1zM182.3 577.5h1v1h-1zM187.2 582.4h1v1h-1zM184.4 580.6h1v1h-1zM186.6 583.7h1v1h-1zM175.8 583.2h1v1h-1zM176.5 583.5h1v1h-1zM152.5 583.5h1v1h-1zM175.1 568.2h1v1h-1zM165.0 573.6h1v1h-1zM171.5 580.6h1v1h-1zM185.6 581.6h1v1h-1zM177.0 583.8h1v1h-1zM185.7 579.0h1v1h-1zM180.2 581.3h1v1h-1zM185.9 578.9h1v1h-1zM178.9 583.3h1v1h-1zM173.3 580.8h1v1h-1zM187.1 580.2h1v1h-1zM186.0 583.9h1v1h-1zM182.8 582.8h1v1h-1zM179.1 584.0h1v1h-1zM180.6 584.0h1v1h-1zM184.1 583.0h1v1h-1zM181.8 576.1h1v1h-1zM179.3 582.4h1v1h-1zM182.7 579.1h1v1h-1zM184.8 578.3h1v1h-1zM173.1 572.9h1v1h-1zM188.2 583.7h1v1h-1zM186.7 582.7h1v1h-1zM184.5 582.2h1v1h-1zM183.2 583.2h1v1h-1zM179.8 583.5h1v1h-1zM160.7 581.8h1v1h-1zM186.7 584.0h1v1h-1zM181.8 574.7h1v1h-1zM187.0 584.0h1v1h-1zM180.9 575.7h1v1h-1zM183.5 574.8h1v1h-1zM184.3 581.9h1v1h-1zM163.0 558.8h1v1h-1zM173.7 562.7h1v1h-1zM178.8 582.9h1v1h-1zM176.3 572.9h1v1h-1zM187.9 582.1h1v1h-1zM182.6 583.6h1v1h-1zM175.4 582.2h1v1h-1zM165.9 581.1h1v1h-1zM182.1 581.6h1v1h-1zM182.0 580.8h1v1h-1zM181.9 576.3h1v1h-1zM169.2 579.4h1v1h-1zM174.0 580.5h1v1h-1zM180.5 582.6h1v1h-1zM177.9 569.9h1v1h-1zM182.0 580.0h1v1h-1zM175.1 573.5h1v1h-1zM180.5 581.8h1v1h-1zM167.1 575.7h1v1h-1zM184.7 583.7h1v1h-1zM180.3 583.9h1v1h-1zM185.1 583.8h1v1h-1zM182.8 580.7h1v1h-1zM183.3 581.8h1v1h-1zM183.9 582.7h1v1h-1zM180.0 581.2h1v1h-1zM184.7 583.8h1v1h-1zM180.6 583.8h1v1h-1zM185.6 580.6h1v1h-1zM185.5 580.3h1v1h-1zM186.0 582.4h1v1h-1zM185.9 581.0h1v1h-1zM183.1 576.4h1v1h-1zM175.6 581.0h1v1h-1zM184.1 583.3h1v1h-1zM183.3 578.6h1v1h-1zM182.6 583.6h1v1h-1zM183.7 582.2h1v1h-1zM169.4 576.8h1v1h-1zM183.2 576.5h1v1h-1zM186.8 583.2h1v1h-1zM167.7 583.0h1v1h-1zM187.6 581.1h1v1h-1zM158.4 572.6h1v1h-1zM184.1 583.9h1v1h-1zM187.1 583.5h1v1h-1zM179.8 583.0h1v1h-1zM178.9 579.0h1v1h-1zM165.1 572.9h1v1h-1zM169.5 584.0h1v1h-1zM172.6 580.8h1v1h-1zM185.2 583.8h1v1h-1zM171.1 582.7h1v1h-1zM182.6 581.8h1v1h-1zM184.6 576.4h1v1h-1zM182.4 584.0h1v1h-1zM181.2 580.7h1v1h-1zM183.9 575.5h1v1h-1zM183.8 582.8h1v1h-1zM184.2 582.8h1v1h-1zM181.5 578.7h1v1h-1zM177.2 576.1h1v1h-1zM187.7 582.2h1v1h-1zM181.3 583.0h1v1h-1zM187.7 583.2h1v1h-1zM182.6 583.6h1v1h-1zM186.7 579.5h1v1h-1zM187.3 583.9h1v1h-1zM176.9 579.8h1v1h-1zM182.2 577.6h1v1h-1zM187.2 580.2h1v1h-1zM176.7 581.3h1v1h-1zM186.6 580.9h1v1h-1zM188.0 581.8h1v1h-1zM185.9 577.3h1v1h-1zM186.6 583.2h1v1h-1zM177.0 584.0h1v1h-1zM179.1 570.8h1v1h-1zM179.7 583.6h1v1h-1zM185.1 577.4h1v1h-1zM181.4 584.1h1v1h-1zM166.6 573.5h1v1h-1zM183.4 576.1h1v1h-1zM185.1 578.5h1v1h-1zM186.7 583.0h1v1h-1zM185.7 580.8h1v1h-1zM183.3 583.4h1v1h-1zM178.1 582.3h1v1h-1zM183.2 579.5h1v1h-1zM180.0 583.9h1v1h-1zM186.2 583.6h1v1h-1zM183.7 582.1h1v1h-1zM187.6 583.5h1v1h-1zM182.4 569.3h1v1h-1zM181.2 580.4h1v1h-1zM183.3 582.7h1v1h-1zM180.9 568.8h1v1h-1zM177.9 582.8h1v1h-1zM182.3 578.2h1v1h-1zM181.8 582.5h1v1h-1zM176.9 583.9h1v1h-1zM187.8 583.0h1v1h-1zM178.5 576.4h1v1h-1zM165.1 554.1h1v1h-1zM184.5 583.0h1v1h-1zM174.2 571.8h1v1h-1zM171.9 558.0h1v1h-1zM184.4 580.5h1v1h-1zM179.5 583.8h1v1h-1zM176.0 577.4h1v1h-1zM186.2 578.7h1v1h-1zM188.1 583.5h1v1h-1zM150.0 561.1h1v1h-1zM188.8 583.7h1v1h-1zM182.6 580.2h1v1h-1zM181.8 583.1h1v1h-1zM183.5 580.2h1v1h-1zM184.8 579.2h1v1h-1zM174.2 552.1h1v1h-1zM186.5 580.5h1v1h-1zM182.2 584.0h1v1h-1zM183.4 582.0h1v1h-1zM187.5 584.0h1v1h-1zM186.7 579.3h1v1h-1zM179.9 583.5h1v1h-1zM187.6 583.9h1v1h-1zM169.9 583.8h1v1h-1zM182.4 579.2h1v1h-1zM182.4 583.4h1v1h-1zM183.2 577.2h1v1h-1zM183.2 581.8h1v1h-1zM177.6 583.9h1v1h-1zM182.1 583.0h1v1h-1zM176.3 583.6h1v1h-1zM176.3 582.8h1v1h-1zM181.3 576.3h1v1h-1zM180.5 580.3h1v1h-1zM155.2 578.2h1v1h-1zM174.3 566.3h1v1h-1zM183.7 580.4h1v1h-1zM170.3 576.8h1v1h-1zM188.0 583.3h1v1h-1zM180.5 582.7h1v1h-1zM182.7 582.7h1v1h-1zM173.9 579.5h1v1h-1zM166.2 583.6h1v1h-1zM179.4 575.8h1v1h-1zM178.7 583.9h1v1h-1zM187.7 581.6h1v1h-1zM176.5 578.0h1v1h-1zM179.3 580.8h1v1h-1zM178.2 576.9h1v1h-1zM184.7 580.5h1v1h-1zM183.9 578.9h1v1h-1zM175.8 583.7h1v1h-1zM184.4 577.6h1v1h-1zM183.1 583.3h1v1h-1zM158.4 579.0h1v1h-1zM182.6 578.4h1v1h-1zM173.5 577.7h1v1h-1zM185.9 577.4h1v1h-1zM182.0 584.1h1v1h-1zM180.8 577.4h1v1h-1zM179.4 575.8h1v1h-1zM176.5 568.3h1v1h-1zM150.2 546.7h1v1h-1zM178.3 579.4h1v1h-1zM179.5 583.7h1v1h-1zM178.5 579.9h1v1h-1zM178.6 581.1h1v1h-1zM179.3 579.0h1v1h-1zM172.6 571.1h1v1h-1zM173.1 579.5h1v1h-1zM174.0 582.9h1v1h-1zM167.2 584.0h1v1h-1zM180.5 583.6h1v1h-1zM182.8 575.6h1v1h-1zM185.6 576.4h1v1h-1zM185.5 581.4h1v1h-1zM187.5 581.3h1v1h-1zM179.1 579.1h1v1h-1zM171.3 584.0h1v1h-1zM171.3 565.7h1v1h-1zM179.6 574.7h1v1h-1zM182.8 581.7h1v1h-1zM179.2 578.0h1v1h-1zM164.2 567.3h1v1h-1zM185.4 576.4h1v1h-1zM186.3 578.3h1v1h-1zM179.9 580.0h1v1h-1zM175.9 582.7h1v1h-1zM180.0 576.9h1v1h-1zM157.2 580.1h1v1h-1zM181.6 579.8h1v1h-1zM182.3 578.2h1v1h-1zM185.5 582.3h1v1h-1zM185.7 576.5h1v1h-1zM187.3 583.5h1v1h-1zM180.6 583.7h1v1h-1zM177.8 578.0h1v1h-1zM176.6 582.9h1v1h-1zM168.7 571.8h1v1h-1zM183.0 580.4h1v1h-1zM170.9 579.4h1v1h-1zM179.2 581.2h1v1h-1zM184.3 580.9h1v1h-1zM183.4 575.6h1v1h-1zM182.1 581.1h1v1h-1zM179.9 577.8h1v1h-1zM188.2 584.0h1v1h-1zM186.7 584.0h1v1h-1zM185.7 583.0h1v1h-1zM174.4 581.0h1v1h-1zM188.3 583.8h1v1h-1zM165.4 564.6h1v1h-1zM186.7 579.5h1v1h-1zM185.6 581.6h1v1h-1zM184.3 583.2h1v1h-1zM186.4 578.9h1v1h-1zM181.9 572.3h1v1h-1zM185.3 579.2h1v1h-1zM182.7 580.5h1v1h-1zM184.7 582.6h1v1h-1zM181.8 577.9h1v1h-1zM186.3 580.4h1v1h-1zM185.8 583.4h1v1h-1zM175.4 572.5h1v1h-1zM179.7 573.7h1v1h-1zM178.3 581.1h1v1h-1zM184.9 583.8h1v1h-1zM173.2 578.4h1v1h-1zM183.6 580.6h1v1h-1zM185.4 575.7h1v1h-1zM162.8 576.3h1v1h-1zM168.4 580.7h1v1h-1zM183.9 584.1h1v1h-1zM183.2 583.6h1v1h-1zM182.4 578.0h1v1h-1zM185.9 579.7h1v1h-1zM187.4 582.8h1v1h-1zM179.3 579.1h1v1h-1zM182.1 583.0h1v1h-1zM177.0 583.6h1v1h-1zM172.9 578.3h1v1h-1zM174.8 570.3h1v1h-1zM162.8 561.6h1v1h-1zM166.8 576.5h1v1h-1zM173.0 576.2h1v1h-1zM187.6 581.2h1v1h-1zM184.0 580.3h1v1h-1zM180.5 570.8h1v1h-1zM179.7 583.1h1v1h-1zM186.0 582.3h1v1h-1zM184.6 582.2h1v1h-1zM180.9 578.4h1v1h-1zM181.0 582.4h1v1h-1zM183.5 581.0h1v1h-1zM172.8 568.2h1v1h-1zM183.8 579.5h1v1h-1zM186.9 584.1h1v1h-1zM178.6 584.0h1v1h-1zM187.3 583.0h1v1h-1zM177.1 580.3h1v1h-1zM184.9 574.6h1v1h-1zM178.8 583.9h1v1h-1zM170.9 561.1h1v1h-1zM184.9 577.5h1v1h-1zM172.1 559.4h1v1h-1zM173.8 574.3h1v1h-1zM184.7 581.0h1v1h-1zM186.3 579.5h1v1h-1zM179.8 573.5h1v1h-1zM184.3 582.6h1v1h-1zM181.3 574.3h1v1h-1zM176.0 561.5h1v1h-1zM184.4 581.1h1v1h-1zM174.7 581.9h1v1h-1zM170.5 583.2h1v1h-1zM187.9 582.4h1v1h-1zM174.4 581.9h1v1h-1zM185.7 582.3h1v1h-1zM185.3 583.2h1v1h-1zM187.5 581.5h1v1h-1zM182.7 579.2h1v1h-1zM184.7 581.8h1v1h-1zM176.6 574.4h1v1h-1zM177.0 581.0h1v1h-1zM162.8 569.8h1v1h-1zM187.5 582.4h1v1h-1zM186.2 580.9h1v1h-1zM186.5 583.5h1v1h-1zM184.8 577.9h1v1h-1zM186.1 582.0h1v1h-1zM188.9 583.9h1v1h-1zM171.7 546.7h1v1h-1zM185.9 577.2h1v1h-1zM186.1 582.4h1v1h-1zM176.4 578.5h1v1h-1zM168.9 582.9h1v1h-1zM181.3 578.9h1v1h-1zM184.5 581.0h1v1h-1zM183.0 576.9h1v1h-1zM182.6 582.5h1v1h-1zM188.1 583.4h1v1h-1zM176.9 581.8h1v1h-1zM182.0 583.3h1v1h-1zM186.0 579.7h1v1h-1zM184.2 581.2h1v1h-1zM186.7 583.2h1v1h-1zM186.2 579.4h1v1h-1zM176.4 577.9h1v1h-1zM183.0 579.0h1v1h-1zM183.8 579.8h1v1h-1zM186.6 580.7h1v1h-1zM173.3 580.4h1v1h-1zM186.1 582.5h1v1h-1zM187.3 582.8h1v1h-1zM185.0 576.0h1v1h-1zM177.4 580.0h1v1h-1zM137.8 548.2h1v1h-1zM179.2 582.9h1v1h-1zM169.7 577.6h1v1h-1zM172.9 563.0h1v1h-1zM179.6 571.2h1v1h-1zM168.8 584.0h1v1h-1zM181.4 577.4h1v1h-1zM187.8 581.4h1v1h-1zM178.9 579.8h1v1h-1zM183.6 578.8h1v1h-1zM185.8 578.0h1v1h-1zM186.5 583.4h1v1h-1zM176.2 583.7h1v1h-1zM186.2 579.7h1v1h-1zM184.0 579.2h1v1h-1zM181.8 579.6h1v1h-1zM185.0 580.7h1v1h-1zM182.5 571.0h1v1h-1zM185.8 583.4h1v1h-1zM179.6 583.8h1v1h-1zM179.4 577.1h1v1h-1zM176.2 581.1h1v1h-1zM178.3 571.8h1v1h-1zM185.7 580.0h1v1h-1zM183.6 583.6h1v1h-1zM185.6 583.8h1v1h-1zM183.9 582.2h1v1h-1zM181.2 579.8h1v1h-1zM184.2 583.2h1v1h-1zM179.1 581.1h1v1h-1zM184.3 583.3h1v1h-1zM182.4 569.5h1v1h-1zM186.6 580.4h1v1h-1zM174.8 583.9h1v1h-1zM180.5 582.3h1v1h-1zM179.2 577.0h1v1h-1zM184.9 574.8h1v1h-1zM185.2 582.8h1v1h-1zM164.4 546.7h1v1h-1zM180.6 583.5h1v1h-1zM177.4 574.9h1v1h-1zM183.4 584.1h1v1h-1zM181.4 579.8h1v1h-1zM163.1 583.1h1v1h-1zM174.4 581.3h1v1h-1zM186.4 582.0h1v1h-1zM180.0 582.6h1v1h-1zM165.7 582.9h1v1h-1zM172.8 582.4h1v1h-1zM180.3 584.0h1v1h-1zM175.0 572.1h1v1h-1zM177.1 582.3h1v1h-1zM181.1 577.6h1v1h-1zM182.5 572.1h1v1h-1zM184.5 582.1h1v1h-1zM183.8 580.8h1v1h-1zM185.5 583.8h1v1h-1zM185.9 583.0h1v1h-1zM175.2 564.8h1v1h-1zM187.0 582.5h1v1h-1zM180.2 580.9h1v1h-1zM180.5 581.2h1v1h-1zM175.8 582.8h1v1h-1zM180.8 579.9h1v1h-1zM182.8 577.5h1v1h-1zM173.6 558.0h1v1h-1zM180.8 574.8h1v1h-1zM184.6 583.1h1v1h-1zM174.4 566.2h1v1h-1zM173.8 574.6h1v1h-1zM182.8 577.6h1v1h-1zM167.8 582.9h1v1h-1zM166.3 571.7h1v1h-1zM185.6 581.3h1v1h-1zM167.0 572.2h1v1h-1zM181.1 575.2h1v1h-1zM180.0 582.6h1v1h-1zM185.0 578.1h1v1h-1zM188.2 583.1h1v1h-1zM186.8 584.1h1v1h-1zM179.3 574.8h1v1h-1zM187.0 583.9h1v1h-1zM173.5 578.0h1v1h-1zM175.5 566.2h1v1h-1zM183.8 581.9h1v1h-1zM180.8 583.9h1v1h-1zM183.3 582.0h1v1h-1zM159.9 583.8h1v1h-1zM184.5 584.0h1v1h-1zM185.1 575.8h1v1h-1zM169.8 568.2h1v1h-1zM183.0 578.9h1v1h-1zM176.0 575.2h1v1h-1zM173.4 569.7h1v1h-1zM184.1 583.3h1v1h-1zM174.0 568.9h1v1h-1zM165.9 582.7h1v1h-1zM184.4 581.2h1v1h-1zM188.0 583.8h1v1h-1zM178.8 583.4h1v1h-1zM169.4 563.3h1v1h-1zM184.9 583.6h1v1h-1zM176.3 573.7h1v1h-1zM186.8 582.6h1v1h-1zM180.5 582.7h1v1h-1zM161.1 565.1h1v1h-1zM181.3 583.2h1v1h-1zM178.1 569.3h1v1h-1zM185.7 580.3h1v1h-1zM168.0 573.8h1v1h-1zM181.4 569.8h1v1h-1zM165.0 571.2h1v1h-1zM184.8 582.7h1v1h-1zM165.3 564.6h1v1h-1zM180.4 581.3h1v1h-1zM174.6 583.1h1v1h-1zM184.4 579.4h1v1h-1zM151.0 569.4h1v1h-1zM176.5 578.3h1v1h-1zM182.0 581.4h1v1h-1zM174.8 578.4h1v1h-1zM172.4 577.6h1v1h-1zM174.0 584.1h1v1h-1zM182.0 580.2h1v1h-1zM173.4 581.8h1v1h-1zM185.1 583.8h1v1h-1zM181.9 580.3h1v1h-1zM174.5 579.6h1v1h-1zM182.8 583.7h1v1h-1zM165.9 577.1h1v1h-1zM184.0 580.5h1v1h-1zM187.3 584.0h1v1h-1zM178.1 564.8h1v1h-1zM170.3 569.3h1v1h-1zM180.4 580.4h1v1h-1zM179.7 582.0h1v1h-1zM167.1 565.3h1v1h-1zM177.9 577.2h1v1h-1zM178.2 578.8h1v1h-1zM182.8 579.2h1v1h-1zM186.6 582.5h1v1h-1zM183.6 583.2h1v1h-1zM185.7 582.2h1v1h-1zM183.2 582.3h1v1h-1zM182.9 581.8h1v1h-1zM182.8 577.4h1v1h-1zM177.2 583.2h1v1h-1zM178.5 578.3h1v1h-1zM185.1 579.2h1v1h-1zM183.4 583.0h1v1h-1zM187.6 583.3h1v1h-1zM175.1 558.9h1v1h-1zM176.2 584.0h1v1h-1zM183.1 580.5h1v1h-1zM184.4 583.5h1v1h-1zM186.2 583.8h1v1h-1zM170.0 556.6h1v1h-1zM188.4 584.0h1v1h-1zM183.8 582.5h1v1h-1zM184.1 583.7h1v1h-1zM183.1 583.7h1v1h-1zM175.7 578.8h1v1h-1zM181.7 580.9h1v1h-1zM180.8 579.8h1v1h-1zM171.3 574.4h1v1h-1zM176.7 579.5h1v1h-1zM172.7 579.0h1v1h-1zM186.2 583.8h1v1h-1zM187.9 584.1h1v1h-1zM180.2 579.6h1v1h-1zM178.1 575.4h1v1h-1zM171.9 580.7h1v1h-1zM182.3 582.2h1v1h-1zM174.5 581.0h1v1h-1zM187.3 583.1h1v1h-1zM188.4 583.6h1v1h-1zM186.7 584.0h1v1h-1zM171.5 577.3h1v1h-1zM183.1 582.3h1v1h-1zM182.4 583.9h1v1h-1zM173.7 583.3h1v1h-1zM184.9 582.8h1v1h-1zM187.0 583.1h1v1h-1zM185.8 584.1h1v1h-1zM188.5 584.1h1v1h-1zM180.0 582.2h1v1h-1zM181.4 583.1h1v1h-1zM172.6 580.5h1v1h-1zM187.6 582.5h1v1h-1zM173.4 578.9h1v1h-1zM182.0 583.7h1v1h-1zM183.8 579.7h1v1h-1zM175.2 579.6h1v1h-1zM183.4 579.6h1v1h-1zM179.8 581.0h1v1h-1zM183.0 581.4h1v1h-1zM178.3 579.2h1v1h-1zM179.2 561.6h1v1h-1zM175.0 560.8h1v1h-1zM179.3 580.3h1v1h-1zM180.3 575.7h1v1h-1zM182.9 584.0h1v1h-1zM179.9 575.5h1v1h-1zM178.4 570.7h1v1h-1zM175.4 584.0h1v1h-1zM177.6 583.8h1v1h-1zM170.1 583.8h1v1h-1zM174.7 583.8h1v1h-1zM185.3 583.8h1v1h-1zM180.6 582.7h1v1h-1zM184.0 582.1h1v1h-1zM183.4 583.9h1v1h-1zM183.1 583.4h1v1h-1zM172.8 581.8h1v1h-1zM181.6 570.3h1v1h-1zM183.7 572.9h1v1h-1zM182.6 583.8h1v1h-1zM179.4 578.5h1v1h-1zM185.6 579.8h1v1h-1zM180.3 571.3h1v1h-1zM184.0 575.7h1v1h-1zM177.8 583.8h1v1h-1zM174.2 574.8h1v1h-1zM177.1 578.4h1v1h-1zM173.4 578.1h1v1h-1zM184.4 583.6h1v1h-1zM184.1 582.9h1v1h-1zM177.7 579.2h1v1h-1zM185.3 581.9h1v1h-1zM162.9 569.3h1v1h-1zM185.0 575.9h1v1h-1zM178.6 582.1h1v1h-1zM177.4 583.5h1v1h-1zM185.2 577.0h1v1h-1zM184.6 582.5h1v1h-1zM174.9 583.5h1v1h-1zM188.1 582.9h1v1h-1zM178.2 583.3h1v1h-1zM175.7 568.8h1v1h-1zM172.5 576.0h1v1h-1zM177.7 578.5h1v1h-1zM187.9 583.8h1v1h-1zM185.6 579.1h1v1h-1zM169.9 571.5h1v1h-1zM182.4 583.3h1v1h-1zM186.5 583.7h1v1h-1zM187.2 582.0h1v1h-1zM163.6 580.3h1v1h-1zM186.3 584.1h1v1h-1zM175.3 581.2h1v1h-1zM182.7 570.3h1v1h-1zM178.3 574.4h1v1h-1zM184.3 575.7h1v1h-1zM179.3 582.1h1v1h-1zM180.4 581.1h1v1h-1zM177.9 576.5h1v1h-1zM178.6 573.5h1v1h-1zM180.1 570.0h1v1h-1zM166.0 576.6h1v1h-1zM186.9 579.8h1v1h-1zM185.3 581.3h1v1h-1zM178.8 577.6h1v1h-1zM164.6 577.2h1v1h-1zM185.9 577.3h1v1h-1zM175.4 579.6h1v1h-1zM185.0 581.1h1v1h-1zM185.2 584.0h1v1h-1zM186.1 579.1h1v1h-1zM179.8 578.7h1v1h-1zM182.6 583.8h1v1h-1zM180.6 581.7h1v1h-1zM168.1 570.2h1v1h-1zM188.5 583.8h1v1h-1zM174.5 572.1h1v1h-1zM183.9 578.8h1v1h-1zM179.3 567.9h1v1h-1zM182.0 579.7h1v1h-1zM172.2 582.5h1v1h-1zM181.8 580.5h1v1h-1zM177.1 583.3h1v1h-1zM182.8 584.0h1v1h-1zM160.1 579.6h1v1h-1zM179.0 580.7h1v1h-1zM178.2 583.6h1v1h-1zM160.0 577.9h1v1h-1zM185.7 580.3h1v1h-1zM187.4 584.0h1v1h-1zM184.0 584.1h1v1h-1zM176.7 559.6h1v1h-1zM178.1 571.6h1v1h-1zM184.2 581.2h1v1h-1zM186.3 582.4h1v1h-1zM179.9 580.7h1v1h-1zM182.1 575.2h1v1h-1zM188.2 583.1h1v1h-1zM182.1 568.9h1v1h-1zM184.0 580.8h1v1h-1zM187.8 582.4h1v1h-1zM183.6 581.1h1v1h-1zM172.1 564.9h1v1h-1zM163.4 582.1h1v1h-1zM177.0 578.0h1v1h-1zM184.4 583.8h1v1h-1zM183.7 578.3h1v1h-1zM183.7 582.4h1v1h-1zM162.0 584.1h1v1h-1zM180.3 583.9h1v1h-1zM184.9 575.4h1v1h-1zM180.4 583.6h1v1h-1zM183.2 583.2h1v1h-1zM181.7 577.4h1v1h-1zM185.5 581.3h1v1h-1zM181.4 572.9h1v1h-1zM183.6 584.0h1v1h-1zM186.8 583.6h1v1h-1zM168.3 572.3h1v1h-1zM178.1 581.3h1v1h-1zM185.1 583.0h1v1h-1zM176.6 583.7h1v1h-1zM182.7 583.4h1v1h-1zM180.1 573.2h1v1h-1zM183.6 582.7h1v1h-1zM181.8 582.4h1v1h-1zM180.2 581.7h1v1h-1zM178.7 582.8h1v1h-1zM185.5 583.4h1v1h-1zM182.4 579.6h1v1h-1zM181.2 583.9h1v1h-1zM169.5 576.2h1v1h-1zM182.7 583.4h1v1h-1zM180.4 583.4h1v1h-1zM165.7 544.4h1v1h-1zM188.7 584.0h1v1h-1zM178.5 580.9h1v1h-1zM182.4 579.6h1v1h-1zM176.1 571.8h1v1h-1zM180.4 575.5h1v1h-1zM175.5 563.6h1v1h-1zM171.6 583.5h1v1h-1zM177.3 578.1h1v1h-1zM182.4 584.1h1v1h-1zM183.5 580.6h1v1h-1zM178.2 582.1h1v1h-1zM176.0 580.0h1v1h-1zM186.0 577.6h1v1h-1zM171.6 566.4h1v1h-1zM186.7 580.2h1v1h-1zM164.3 575.0h1v1h-1zM183.1 580.3h1v1h-1zM168.5 568.7h1v1h-1zM172.1 577.8h1v1h-1zM180.7 566.2h1v1h-1zM182.2 582.2h1v1h-1zM180.3 581.4h1v1h-1zM169.6 578.5h1v1h-1zM185.4 584.0h1v1h-1zM177.9 567.6h1v1h-1zM184.0 581.3h1v1h-1zM179.6 583.6h1v1h-1zM175.2 575.1h1v1h-1zM167.7 556.6h1v1h-1zM181.7 573.0h1v1h-1zM182.0 582.4h1v1h-1zM169.7 577.9h1v1h-1zM171.5 574.6h1v1h-1zM181.3 581.4h1v1h-1zM187.7 583.4h1v1h-1zM186.1 583.6h1v1h-1zM178.0 575.0h1v1h-1zM159.5 575.5h1v1h-1zM185.0 584.1h1v1h-1zM184.0 580.0h1v1h-1zM177.1 570.6h1v1h-1zM175.7 570.4h1v1h-1zM185.4 580.9h1v1h-1zM178.0 579.4h1v1h-1zM179.5 582.5h1v1h-1zM183.3 579.2h1v1h-1zM184.8 583.1h1v1h-1zM182.9 576.9h1v1h-1zM177.6 577.8h1v1h-1zM153.1 575.1h1v1h-1zM181.5 582.1h1v1h-1zM182.2 573.3h1v1h-1zM169.8 572.4h1v1h-1zM175.6 576.3h1v1h-1zM185.5 582.1h1v1h-1zM185.3 581.6h1v1h-1zM177.4 578.3h1v1h-1zM181.0 578.1h1v1h-1zM178.9 583.7h1v1h-1zM183.2 583.4h1v1h-1zM182.3 581.5h1v1h-1zM177.5 583.3h1v1h-1zM183.4 572.4h1v1h-1zM179.4 584.1h1v1h-1zM157.1 571.5h1v1h-1zM177.9 580.8h1v1h-1zM183.7 582.8h1v1h-1zM165.6 582.0h1v1h-1zM186.5 579.7h1v1h-1zM185.0 582.2h1v1h-1zM184.6 583.1h1v1h-1zM170.0 559.5h1v1h-1zM184.1 576.3h1v1h-1zM170.6 560.6h1v1h-1zM182.6 577.5h1v1h-1zM177.5 567.4h1v1h-1zM180.1 581.4h1v1h-1zM185.8 576.9h1v1h-1zM185.2 582.5h1v1h-1zM187.9 583.3h1v1h-1zM175.2 583.8h1v1h-1zM185.3 583.8h1v1h-1zM182.1 584.1h1v1h-1zM186.9 579.7h1v1h-1zM187.0 580.8h1v1h-1zM188.1 583.8h1v1h-1zM179.5 583.2h1v1h-1zM167.2 567.2h1v1h-1zM181.0 584.1h1v1h-1zM175.1 572.3h1v1h-1zM181.1 578.8h1v1h-1zM180.3 582.5h1v1h-1zM180.3 582.9h1v1h-1zM182.4 583.2h1v1h-1zM180.3 581.8h1v1h-1zM176.7 583.7h1v1h-1zM176.3 574.4h1v1h-1zM179.6 569.8h1v1h-1zM181.0 582.6h1v1h-1zM172.2 566.5h1v1h-1zM182.9 583.0h1v1h-1zM185.4 583.0h1v1h-1zM172.7 570.3h1v1h-1zM169.5 560.4h1v1h-1zM177.1 583.0h1v1h-1zM183.1 577.8h1v1h-1zM182.3 580.6h1v1h-1zM181.9 584.0h1v1h-1zM178.0 581.6h1v1h-1zM178.6 583.4h1v1h-1zM180.2 580.0h1v1h-1zM176.5 583.1h1v1h-1zM187.8 582.6h1v1h-1zM184.5 582.3h1v1h-1zM170.6 556.7h1v1h-1zM173.3 580.2h1v1h-1zM184.5 583.8h1v1h-1zM184.9 574.5h1v1h-1zM166.8 575.6h1v1h-1zM175.1 579.0h1v1h-1zM181.6 579.4h1v1h-1zM174.3 576.0h1v1h-1zM173.9 559.5h1v1h-1zM184.1 583.6h1v1h-1zM161.6 571.5h1v1h-1zM180.0 567.9h1v1h-1zM184.7 579.3h1v1h-1zM171.8 581.0h1v1h-1zM177.7 581.7h1v1h-1zM186.6 580.9h1v1h-1zM184.0 580.5h1v1h-1zM177.7 579.4h1v1h-1zM177.5 580.0h1v1h-1zM176.2 562.1h1v1h-1zM170.9 565.5h1v1h-1zM181.0 576.3h1v1h-1zM183.2 583.3h1v1h-1zM180.6 580.2h1v1h-1zM184.2 580.7h1v1h-1zM176.6 581.6h1v1h-1zM169.6 565.0h1v1h-1zM185.8 583.7h1v1h-1zM181.9 581.3h1v1h-1zM174.0 582.3h1v1h-1zM170.3 582.4h1v1h-1zM180.8 582.6h1v1h-1zM172.3 571.9h1v1h-1zM187.4 584.0h1v1h-1zM183.2 579.1h1v1h-1zM184.9 576.2h1v1h-1zM176.3 567.3h1v1h-1zM181.1 579.7h1v1h-1zM186.5 582.1h1v1h-1zM175.1 582.7h1v1h-1zM169.8 582.3h1v1h-1zM185.4 584.1h1v1h-1zM178.7 577.1h1v1h-1zM177.0 579.9h1v1h-1zM181.9 584.1h1v1h-1zM182.2 573.5h1v1h-1zM183.4 582.8h1v1h-1zM183.4 583.7h1v1h-1zM184.7 583.0h1v1h-1zM170.3 571.0h1v1h-1zM184.7 583.8h1v1h-1zM186.6 581.4h1v1h-1zM185.0 575.2h1v1h-1zM167.8 566.4h1v1h-1zM175.5 583.0h1v1h-1zM183.6 578.2h1v1h-1zM164.7 553.9h1v1h-1zM182.1 583.8h1v1h-1zM180.7 581.6h1v1h-1zM167.3 548.1h1v1h-1zM187.8 582.0h1v1h-1zM178.5 578.1h1v1h-1zM173.6 579.2h1v1h-1zM184.3 583.8h1v1h-1zM176.7 576.0h1v1h-1zM181.0 581.6h1v1h-1zM178.1 583.8h1v1h-1zM185.9 581.5h1v1h-1zM187.0 583.8h1v1h-1zM186.2 583.4h1v1h-1zM177.4 578.3h1v1h-1zM176.4 582.3h1v1h-1zM185.7 581.6h1v1h-1zM181.3 575.8h1v1h-1zM188.3 583.2h1v1h-1zM183.4 579.2h1v1h-1zM181.9 578.2h1v1h-1zM184.3 577.3h1v1h-1zM179.5 567.6h1v1h-1zM186.2 582.0h1v1h-1zM173.1 583.9h1v1h-1zM176.8 576.1h1v1h-1zM181.7 583.5h1v1h-1zM181.2 579.3h1v1h-1zM181.7 573.0h1v1h-1zM181.2 583.7h1v1h-1zM178.9 578.2h1v1h-1zM183.1 572.9h1v1h-1zM181.3 582.6h1v1h-1zM182.7 583.9h1v1h-1zM186.5 584.0h1v1h-1zM182.5 575.9h1v1h-1zM186.8 582.9h1v1h-1zM176.9 575.2h1v1h-1zM178.0 566.6h1v1h-1zM179.1 575.2h1v1h-1zM177.1 583.2h1v1h-1zM188.3 584.1h1v1h-1zM179.8 581.8h1v1h-1zM183.1 579.2h1v1h-1zM185.0 578.9h1v1h-1zM172.8 568.2h1v1h-1zM187.0 583.7h1v1h-1zM178.5 574.5h1v1h-1zM181.9 571.9h1v1h-1zM169.1 567.4h1v1h-1zM178.4 573.1h1v1h-1zM184.3 583.9h1v1h-1zM183.4 580.0h1v1h-1zM182.4 582.7h1v1h-1zM177.7 580.1h1v1h-1zM177.0 572.3h1v1h-1zM183.6 579.4h1v1h-1zM175.7 572.5h1v1h-1zM183.1 584.0h1v1h-1zM183.1 576.0h1v1h-1zM179.5 584.0h1v1h-1zM184.9 578.4h1v1h-1zM177.6 577.0h1v1h-1zM183.8 577.5h1v1h-1zM184.2 583.6h1v1h-1zM183.5 583.5h1v1h-1zM182.3 578.0h1v1h-1zM179.7 573.2h1v1h-1zM169.0 578.8h1v1h-1zM187.4 582.6h1v1h-1zM178.5 582.6h1v1h-1zM176.1 582.2h1v1h-1zM179.0 578.6h1v1h-1zM177.2 580.4h1v1h-1zM167.3 555.6h1v1h-1zM179.1 569.3h1v1h-1zM185.1 582.2h1v1h-1zM179.8 582.4h1v1h-1zM185.5 582.8h1v1h-1zM178.2 581.3h1v1h-1zM187.5 581.2h1v1h-1zM166.5 584.0h1v1h-1zM180.1 576.0h1v1h-1zM170.3 571.2h1v1h-1zM184.9 577.7h1v1h-1zM178.4 576.7h1v1h-1zM183.7 580.5h1v1h-1zM174.1 564.9h1v1h-1zM173.3 581.6h1v1h-1zM186.9 582.6h1v1h-1zM164.6 574.9h1v1h-1zM186.5 582.9h1v1h-1zM178.3 574.9h1v1h-1zM180.8 580.4h1v1h-1zM184.9 581.4h1v1h-1zM183.1 583.9h1v1h-1zM188.4 583.7h1v1h-1zM178.6 581.4h1v1h-1zM186.5 583.4h1v1h-1zM172.3 580.7h1v1h-1zM177.5 562.6h1v1h-1zM165.5 581.3h1v1h-1zM172.1 582.4h1v1h-1zM157.7 562.7h1v1h-1zM183.8 578.5h1v1h-1zM180.9 581.4h1v1h-1zM177.9 572.9h1v1h-1zM188.8 583.6h1v1h-1zM184.1 572.7h1v1h-1zM184.8 580.3h1v1h-1zM176.2 582.5h1v1h-1zM182.2 579.1h1v1h-1zM179.8 576.2h1v1h-1zM181.5 582.9h1v1h-1zM183.5 576.4h1v1h-1zM187.5 582.3h1v1h-1zM179.1 569.3h1v1h-1zM181.6 580.7h1v1h-1zM175.3 579.1h1v1h-1zM182.5 584.0h1v1h-1zM184.0 584.0h1v1h-1zM175.1 582.1h1v1h-1zM183.2 573.5h1v1h-1zM178.7 582.4h1v1h-1zM184.3 576.1h1v1h-1zM172.1 566.3h1v1h-1zM180.7 583.8h1v1h-1zM182.9 574.4h1v1h-1zM177.7 572.3h1v1h-1zM170.2 577.6h1v1h-1zM185.6 583.8h1v1h-1zM182.2 581.1h1v1h-1zM187.6 583.8h1v1h-1zM185.1 580.5h1v1h-1zM179.2 583.6h1v1h-1zM181.0 583.2h1v1h-1zM177.6 580.1h1v1h-1zM185.6 580.0h1v1h-1zM186.1 584.1h1v1h-1zM181.2 576.7h1v1h-1zM187.7 584.1h1v1h-1zM181.8 571.4h1v1h-1zM180.6 582.3h1v1h-1zM181.3 574.6h1v1h-1zM181.4 580.8h1v1h-1zM178.4 580.1h1v1h-1zM187.5 581.4h1v1h-1zM182.7 573.6h1v1h-1zM182.0 584.0h1v1h-1zM180.1 573.3h1v1h-1zM161.5 552.8h1v1h-1zM180.0 574.1h1v1h-1zM180.4 579.7h1v1h-1zM164.6 553.2h1v1h-1zM173.8 582.0h1v1h-1zM183.0 574.3h1v1h-1zM180.9 584.1h1v1h-1zM176.0 578.7h1v1h-1zM182.0 576.8h1v1h-1zM176.8 573.1h1v1h-1zM184.5 584.0h1v1h-1zM171.4 580.1h1v1h-1zM176.9 582.9h1v1h-1zM183.3 581.4h1v1h-1zM178.5 583.0h1v1h-1zM184.9 584.0h1v1h-1zM181.1 583.1h1v1h-1zM187.8 584.0h1v1h-1zM185.4 584.0h1v1h-1zM178.6 579.8h1v1h-1zM177.1 581.3h1v1h-1zM181.2 581.9h1v1h-1zM187.5 583.3h1v1h-1zM178.3 578.3h1v1h-1zM179.1 583.6h1v1h-1zM174.0 560.8h1v1h-1zM184.6 581.7h1v1h-1zM181.2 582.3h1v1h-1zM183.1 582.3h1v1h-1zM168.3 582.6h1v1h-1zM183.0 580.6h1v1h-1zM184.3 574.2h1v1h-1zM187.0 579.9h1v1h-1zM184.1 583.0h1v1h-1zM182.1 583.1h1v1h-1zM175.6 580.9h1v1h-1zM183.9 584.1h1v1h-1zM187.6 582.4h1v1h-1zM176.7 580.9h1v1h-1zM182.0 568.2h1v1h-1zM185.7 582.4h1v1h-1zM182.4 583.0h1v1h-1zM182.6 574.8h1v1h-1zM144.0 580.2h1v1h-1zM185.1 580.1h1v1h-1zM187.0 584.1h1v1h-1zM172.2 581.9h1v1h-1zM167.3 581.5h1v1h-1zM185.5 580.9h1v1h-1zM165.8 572.5h1v1h-1zM176.7 581.7h1v1h-1zM162.2 569.2h1v1h-1zM182.7 570.8h1v1h-1zM187.5 582.8h1v1h-1zM167.0 564.8h1v1h-1zM176.8 579.4h1v1h-1zM180.3 581.2h1v1h-1zM167.8 562.2h1v1h-1zM177.9 562.6h1v1h-1zM169.4 584.1h1v1h-1zM163.1 573.5h1v1h-1zM182.8 582.1h1v1h-1zM177.6 580.6h1v1h-1zM177.1 576.8h1v1h-1zM176.4 565.4h1v1h-1zM124.6 573.0h1v1h-1zM104.1 539.4h1v1h-1zM170.4 577.8h1v1h-1zM260.8 580.7h1v1h-1zM165.9 574.5h1v1h-1zM200.3 574.2h1v1h-1zM169.2 581.8h1v1h-1zM116.9 580.9h1v1h-1zM227.0 583.6h1v1h-1zM248.2 567.2h1v1h-1zM172.5 551.7h1v1h-1zM213.0 549.8h1v1h-1zM274.1 571.3h1v1h-1zM173.7 580.0h1v1h-1zM179.2 574.9h1v1h-1zM200.2 570.2h1v1h-1zM79.2 572.4h1v1h-1zM126.2 582.3h1v1h-1zM198.1 561.4h1v1h-1zM205.9 568.0h1v1h-1zM87.3 554.0h1v1h-1zM124.6 542.7h1v1h-1zM214.9 583.0h1v1h-1zM248.0 564.1h1v1h-1zM220.8 573.1h1v1h-1zM147.6 570.5h1v1h-1zM257.5 565.4h1v1h-1zM228.9 580.1h1v1h-1zM164.4 573.9h1v1h-1zM232.1 581.6h1v1h-1zM227.2 582.8h1v1h-1zM155.5 562.2h1v1h-1zM211.2 577.7h1v1h-1zM104.2 548.6h1v1h-1zM197.1 567.9h1v1h-1zM263.5 576.7h1v1h-1zM197.5 581.1h1v1h-1zM200.6 574.1h1v1h-1zM223.7 578.9h1v1h-1zM171.5 567.1h1v1h-1zM212.3 581.4h1v1h-1zM134.6 577.2h1v1h-1zM218.6 582.8h1v1h-1zM154.7 560.8h1v1h-1zM256.5 582.8h1v1h-1zM173.7 574.3h1v1h-1zM139.6 564.6h1v1h-1zM197.3 574.6h1v1h-1zM167.8 553.1h1v1h-1zM151.8 568.3h1v1h-1zM140.5 581.7h1v1h-1zM150.3 565.2h1v1h-1zM249.6 579.8h1v1h-1zM77.0 561.9h1v1h-1zM285.1 541.1h1v1h-1zM201.4 581.6h1v1h-1zM257.8 580.2h1v1h-1zM242.6 573.8h1v1h-1zM231.7 582.4h1v1h-1zM268.6 577.0h1v1h-1zM226.1 579.1h1v1h-1zM261.8 564.6h1v1h-1zM237.8 575.2h1v1h-1zM255.7 566.0h1v1h-1zM270.9 562.7h1v1h-1zM252.3 571.5h1v1h-1zM262.6 577.2h1v1h-1zM242.0 535.4h1v1h-1zM272.7 581.8h1v1h-1zM245.4 570.3h1v1h-1zM266.3 515.4h1v1h-1zM269.1 574.4h1v1h-1zM245.7 566.0h1v1h-1zM247.7 579.4h1v1h-1zM238.3 544.9h1v1h-1zM272.6 581.9h1v1h-1zM229.9 552.4h1v1h-1zM273.0 575.5h1v1h-1zM255.5 582.0h1v1h-1zM264.7 577.7h1v1h-1zM253.1 577.2h1v1h-1zM252.0 559.6h1v1h-1zM262.3 577.2h1v1h-1zM273.4 570.5h1v1h-1zM272.2 583.1h1v1h-1zM269.0 581.4h1v1h-1zM237.7 560.5h1v1h-1zM269.8 581.8h1v1h-1zM242.2 576.1h1v1h-1zM272.4 568.5h1v1h-1zM228.1 551.1h1v1h-1zM228.7 569.4h1v1h-1zM249.6 574.7h1v1h-1zM238.0 571.3h1v1h-1zM259.2 576.6h1v1h-1zM231.2 583.4h1v1h-1zM260.5 565.9h1v1h-1zM239.6 515.8h1v1h-1zM255.8 580.4h1v1h-1zM242.0 556.0h1v1h-1zM227.7 574.8h1v1h-1zM224.8 570.1h1v1h-1zM233.7 579.8h1v1h-1zM247.0 550.3h1v1h-1zM255.5 568.2h1v1h-1zM259.8 571.4h1v1h-1zM252.2 581.9h1v1h-1zM260.6 581.7h1v1h-1zM260.2 573.2h1v1h-1zM262.7 582.0h1v1h-1zM228.4 578.8h1v1h-1zM239.6 576.8h1v1h-1zM273.7 570.2h1v1h-1zM252.5 578.7h1v1h-1zM233.2 569.0h1v1h-1zM262.2 577.8h1v1h-1zM252.3 573.9h1v1h-1zM262.0 570.6h1v1h-1zM225.8 579.2h1v1h-1zM246.2 573.4h1v1h-1zM258.5 559.0h1v1h-1zM238.8 570.4h1v1h-1zM229.3 571.7h1v1h-1zM261.5 577.0h1v1h-1zM272.6 582.0h1v1h-1zM267.2 553.1h1v1h-1zM221.3 513.8h1v1h-1zM214.7 521.9h1v1h-1zM221.2 507.8h1v1h-1zM211.5 515.2h1v1h-1zM222.1 518.5h1v1h-1zM212.5 565.0h1v1h-1zM224.9 534.0h1v1h-1zM206.8 561.5h1v1h-1zM207.2 527.0h1v1h-1zM211.6 561.4h1v1h-1zM206.9 534.4h1v1h-1zM207.2 537.4h1v1h-1zM212.2 563.3h1v1h-1zM226.4 532.1h1v1h-1zM223.9 561.0h1v1h-1zM210.8 529.0h1v1h-1zM216.9 505.6h1v1h-1zM220.2 552.7h1v1h-1zM212.4 539.4h1v1h-1zM219.5 560.5h1v1h-1zM220.3 508.7h1v1h-1zM226.6 564.0h1v1h-1zM212.4 513.2h1v1h-1zM216.6 550.1h1v1h-1zM220.2 563.3h1v1h-1zM212.5 565.0h1v1h-1zM225.9 520.3h1v1h-1zM223.1 509.9h1v1h-1zM214.9 563.8h1v1h-1zM206.5 531.0h1v1h-1zM217.8 537.6h1v1h-1zM219.7 556.8h1v1h-1zM224.7 551.3h1v1h-1zM212.2 510.8h1v1h-1zM209.8 556.9h1v1h-1zM208.9 563.6h1v1h-1zM217.3 532.5h1v1h-1zM209.9 531.3h1v1h-1zM214.1 527.6h1v1h-1zM220.0 564.8h1v1h-1zM215.2 560.4h1v1h-1zM225.0 541.7h1v1h-1zM223.3 555.2h1v1h-1zM211.5 563.2h1v1h-1zM207.3 559.6h1v1h-1zM216.4 564.9h1v1h-1zM212.3 513.5h1v1h-1zM211.0 510.7h1v1h-1zM211.4 563.3h1v1h-1zM214.8 558.2h1v1h-1zM207.8 549.4h1v1h-1zM221.8 512.0h1v1h-1zM217.4 531.9h1v1h-1zM210.1 561.0h1v1h-1zM221.8 561.3h1v1h-1zM221.2 527.1h1v1h-1zM213.0 554.3h1v1h-1zM215.2 542.7h1v1h-1zM216.9 563.1h1v1h-1zM220.3 564.9h1v1h-1zM212.2 540.6h1v1h-1zM209.1 519.6h1v1h-1zM214.4 514.5h1v1h-1zM206.9 523.0h1v1h-1zM217.0 530.7h1v1h-1zM226.0 557.1h1v1h-1zM215.9 530.9h1v1h-1zM222.6 536.0h1v1h-1zM219.1 539.0h1v1h-1zM225.3 542.0h1v1h-1zM218.0 546.7h1v1h-1zM208.1 547.0h1v1h-1zM207.1 525.0h1v1h-1zM222.6 562.3h1v1h-1zM210.9 563.2h1v1h-1zM225.8 549.6h1v1h-1zM216.8 540.5h1v1h-1zM222.9 562.6h1v1h-1zM226.0 560.2h1v1h-1zM220.8 564.2h1v1h-1zM217.8 540.7h1v1h-1zM210.4 521.9h1v1h-1zM223.3 561.6h1v1h-1zM219.9 562.3h1v1h-1zM223.3 533.5h1v1h-1zM216.0 550.7h1v1h-1zM207.8 452.5h1v1h-1zM218.0 449.7h1v1h-1zM219.5 461.5h1v1h-1zM215.0 487.5h1v1h-1zM222.4 486.2h1v1h-1zM238.5 493.5h1v1h-1zM248.7 508.1h1v1h-1zM276.5 537.5h1v1h-1zM216.1 403.1h1v1h-1zM279.7 428.3h1v1h-1zM217.2 449.4h1v1h-1zM208.9 453.8h1v1h-1zM218.4 465.2h1v1h-1zM202.0 469.5h1v1h-1zM211.5 475.5h1v1h-1zM225.5 499.5h1v1h-1zM232.5 511.5h1v1h-1zM69.5 547.5h1v1h-1zM96.5 540.5h1v1h-1zM114.5 559.5h1v1h-1zM135.5 552.5h1v1h-1z" fill="#8a8a8a"/><path d="M41.199999999999996,325.0 H43.8 V584.6 H280.3 V587.2" fill="none" stroke="#8a8a8a" stroke-width="1.6"/><path d="M43.8,584.6 H280.3 V587.2" fill="none" stroke="#444" stroke-width="1.2"/><line x1="40.6" y1="355.5" x2="43.8" y2="355.5" stroke="#444" stroke-width="1.1"/><text transform="translate(39.40 358.92) scale(1 1.1)" font-size="9.3" text-anchor="end" fill="#000" >30</text><line x1="40.6" y1="393.7" x2="43.8" y2="393.7" stroke="#444" stroke-width="1.1"/><text transform="translate(39.40 397.10) scale(1 1.1)" font-size="9.3" text-anchor="end" fill="#000" >25</text><line x1="40.6" y1="431.9" x2="43.8" y2="431.9" stroke="#444" stroke-width="1.1"/><text transform="translate(39.40 435.28) scale(1 1.1)" font-size="9.3" text-anchor="end" fill="#000" >20</text><line x1="40.6" y1="470.1" x2="43.8" y2="470.1" stroke="#444" stroke-width="1.1"/><text transform="translate(39.40 473.46) scale(1 1.1)" font-size="9.3" text-anchor="end" fill="#000" >15</text><line x1="40.6" y1="508.2" x2="43.8" y2="508.2" stroke="#444" stroke-width="1.1"/><text transform="translate(39.40 511.64) scale(1 1.1)" font-size="9.3" text-anchor="end" fill="#000" >10</text><line x1="40.6" y1="546.4" x2="43.8" y2="546.4" stroke="#444" stroke-width="1.1"/><text transform="translate(39.40 549.82) scale(1 1.1)" font-size="9.3" text-anchor="end" fill="#000" >5</text><line x1="57.9" y1="584.6" x2="57.9" y2="587.4" stroke="#444" stroke-width="1.1"/><text transform="translate(58.20 596.90) scale(1 1.1)" font-size="9.3" text-anchor="middle" fill="#000" >3.5</text><text transform="translate(52.34 596.90) scale(1 1.1)" font-size="9.3" text-anchor="end" fill="#000" >−</text><line x1="76.7" y1="584.6" x2="76.7" y2="587.4" stroke="#444" stroke-width="1.1"/><text transform="translate(77.00 596.90) scale(1 1.1)" font-size="9.3" text-anchor="middle" fill="#000" >3.0</text><text transform="translate(71.14 596.90) scale(1 1.1)" font-size="9.3" text-anchor="end" fill="#000" >−</text><line x1="95.5" y1="584.6" x2="95.5" y2="587.4" stroke="#444" stroke-width="1.1"/><text transform="translate(95.80 596.90) scale(1 1.1)" font-size="9.3" text-anchor="middle" fill="#000" >2.5</text><text transform="translate(89.94 596.90) scale(1 1.1)" font-size="9.3" text-anchor="end" fill="#000" >−</text><line x1="114.3" y1="584.6" x2="114.3" y2="587.4" stroke="#444" stroke-width="1.1"/><text transform="translate(114.60 596.90) scale(1 1.1)" font-size="9.3" text-anchor="middle" fill="#000" >2.0</text><text transform="translate(108.74 596.90) scale(1 1.1)" font-size="9.3" text-anchor="end" fill="#000" >−</text><line x1="133.1" y1="584.6" x2="133.1" y2="587.4" stroke="#444" stroke-width="1.1"/><text transform="translate(133.40 596.90) scale(1 1.1)" font-size="9.3" text-anchor="middle" fill="#000" >1.5</text><text transform="translate(127.54 596.90) scale(1 1.1)" font-size="9.3" text-anchor="end" fill="#000" >−</text><line x1="151.9" y1="584.6" x2="151.9" y2="587.4" stroke="#444" stroke-width="1.1"/><text transform="translate(152.20 596.90) scale(1 1.1)" font-size="9.3" text-anchor="middle" fill="#000" >1.0</text><text transform="translate(146.34 596.90) scale(1 1.1)" font-size="9.3" text-anchor="end" fill="#000" >−</text><line x1="170.7" y1="584.6" x2="170.7" y2="587.4" stroke="#444" stroke-width="1.1"/><text transform="translate(171.00 596.90) scale(1 1.1)" font-size="9.3" text-anchor="middle" fill="#000" >0.5</text><text transform="translate(165.14 596.90) scale(1 1.1)" font-size="9.3" text-anchor="end" fill="#000" >−</text><line x1="189.5" y1="584.6" x2="189.5" y2="587.4" stroke="#444" stroke-width="1.1"/><text transform="translate(189.80 596.90) scale(1 1.1)" font-size="9.3" text-anchor="middle" fill="#000" >0.0</text><line x1="208.3" y1="584.6" x2="208.3" y2="587.4" stroke="#444" stroke-width="1.1"/><text transform="translate(208.60 596.90) scale(1 1.1)" font-size="9.3" text-anchor="middle" fill="#000" >0.5</text><line x1="227.1" y1="584.6" x2="227.1" y2="587.4" stroke="#444" stroke-width="1.1"/><text transform="translate(227.40 596.90) scale(1 1.1)" font-size="9.3" text-anchor="middle" fill="#000" >1.0</text><line x1="245.9" y1="584.6" x2="245.9" y2="587.4" stroke="#444" stroke-width="1.1"/><text transform="translate(246.20 596.90) scale(1 1.1)" font-size="9.3" text-anchor="middle" fill="#000" >1.5</text><line x1="264.7" y1="584.6" x2="264.7" y2="587.4" stroke="#444" stroke-width="1.1"/><text transform="translate(265.00 596.90) scale(1 1.1)" font-size="9.3" text-anchor="middle" fill="#000" >2.0</text><text transform="translate(188.60 609.60) scale(1 1.1)" font-size="10.6" text-anchor="middle" fill="#000" >log2 fold change</text><text transform="translate(15.80 453.50) rotate(-90.00) scale(1 1.1)" y="0.0" font-size="10.5" text-anchor="middle" fill="#000" >−log (false discovery rate)</text><circle cx="234.7" cy="325.2" r="3.6" fill="#e3191f"/><text transform="translate(241.30 328.50) scale(1 1.1)" font-size="9.3" text-anchor="start" fill="#000" >VAV2</text><circle cx="258.3" cy="397.0" r="3.6" fill="#e3191f"/><text transform="translate(264.60 400.30) scale(1 1.1)" font-size="9.3" text-anchor="start" fill="#000" >CYP2S1</text><circle cx="242.5" cy="443.2" r="3.6" fill="#e3191f"/><text transform="translate(248.90 446.50) scale(1 1.1)" font-size="9.3" text-anchor="start" fill="#000" >SERPINB9</text><circle cx="221.8" cy="529.0" r="3.6" fill="#e3191f"/><text transform="translate(227.00 532.30) scale(1 1.1)" font-size="9.3" text-anchor="start" fill="#000" >ERBB2</text><circle cx="240.6" cy="570.6" r="3.6" fill="#e3191f"/><text transform="translate(246.80 573.90) scale(1 1.1)" font-size="9.3" text-anchor="start" fill="#000" >CLDN6</text><text transform="translate(314.40 332.00) scale(1 1)" font-size="16" text-anchor="start" fill="#000" >d</text><text transform="translate(433.30 344.20) scale(1 1.1)" font-size="9.2" text-anchor="middle" fill="#000" >ERBB2</text><g fill="#8a8a8a"><circle cx="405.5" cy="393.8" r="1.9"/><circle cx="405.5" cy="399.9" r="1.9"/><circle cx="405.5" cy="408.0" r="1.9"/><circle cx="405.5" cy="535.7" r="1.9"/><circle cx="405.5" cy="547.9" r="1.9"/><circle cx="405.0" cy="411.2" r="1.9"/><circle cx="406.3" cy="411.4" r="1.9"/><circle cx="403.8" cy="414.1" r="1.9"/><circle cx="405.2" cy="413.7" r="1.9"/><circle cx="407.6" cy="413.8" r="1.9"/><circle cx="403.5" cy="416.0" r="1.9"/><circle cx="405.5" cy="416.1" r="1.9"/><circle cx="407.7" cy="416.5" r="1.9"/><circle cx="402.9" cy="418.8" r="1.9"/><circle cx="405.4" cy="419.5" r="1.9"/><circle cx="408.0" cy="418.8" r="1.9"/><circle cx="403.3" cy="421.4" r="1.9"/><circle cx="405.6" cy="421.4" r="1.9"/><circle cx="407.6" cy="422.2" r="1.9"/><circle cx="402.8" cy="424.2" r="1.9"/><circle cx="405.8" cy="424.9" r="1.9"/><circle cx="407.9" cy="425.0" r="1.9"/><circle cx="401.1" cy="427.4" r="1.9"/><circle cx="403.1" cy="427.6" r="1.9"/><circle cx="405.6" cy="427.7" r="1.9"/><circle cx="407.9" cy="427.0" r="1.9"/><circle cx="409.8" cy="426.9" r="1.9"/><circle cx="400.1" cy="429.5" r="1.9"/><circle cx="402.8" cy="430.0" r="1.9"/><circle cx="405.2" cy="430.1" r="1.9"/><circle cx="408.0" cy="429.7" r="1.9"/><circle cx="410.9" cy="429.9" r="1.9"/><circle cx="400.0" cy="432.6" r="1.9"/><circle cx="402.9" cy="432.2" r="1.9"/><circle cx="405.8" cy="432.1" r="1.9"/><circle cx="408.4" cy="432.9" r="1.9"/><circle cx="410.6" cy="432.9" r="1.9"/><circle cx="399.2" cy="435.4" r="1.9"/><circle cx="401.5" cy="434.8" r="1.9"/><circle cx="404.1" cy="435.8" r="1.9"/><circle cx="406.6" cy="435.6" r="1.9"/><circle cx="409.5" cy="435.7" r="1.9"/><circle cx="411.6" cy="435.2" r="1.9"/><circle cx="397.5" cy="438.3" r="1.9"/><circle cx="399.9" cy="438.2" r="1.9"/><circle cx="403.0" cy="438.4" r="1.9"/><circle cx="405.2" cy="438.4" r="1.9"/><circle cx="407.9" cy="437.8" r="1.9"/><circle cx="410.9" cy="438.4" r="1.9"/><circle cx="413.4" cy="438.4" r="1.9"/><circle cx="395.6" cy="440.5" r="1.9"/><circle cx="398.3" cy="440.4" r="1.9"/><circle cx="401.0" cy="440.3" r="1.9"/><circle cx="404.2" cy="441.2" r="1.9"/><circle cx="406.7" cy="440.2" r="1.9"/><circle cx="410.0" cy="440.7" r="1.9"/><circle cx="412.5" cy="440.4" r="1.9"/><circle cx="415.5" cy="441.0" r="1.9"/><circle cx="395.6" cy="443.3" r="1.9"/><circle cx="398.2" cy="443.8" r="1.9"/><circle cx="401.0" cy="443.4" r="1.9"/><circle cx="404.3" cy="443.0" r="1.9"/><circle cx="407.1" cy="443.8" r="1.9"/><circle cx="409.8" cy="443.7" r="1.9"/><circle cx="412.3" cy="443.3" r="1.9"/><circle cx="415.2" cy="443.7" r="1.9"/><circle cx="394.1" cy="446.1" r="1.9"/><circle cx="397.3" cy="446.5" r="1.9"/><circle cx="400.1" cy="446.1" r="1.9"/><circle cx="402.7" cy="446.3" r="1.9"/><circle cx="405.5" cy="445.9" r="1.9"/><circle cx="408.3" cy="445.7" r="1.9"/><circle cx="411.1" cy="446.6" r="1.9"/><circle cx="414.3" cy="446.2" r="1.9"/><circle cx="416.8" cy="445.9" r="1.9"/><circle cx="394.0" cy="448.6" r="1.9"/><circle cx="397.2" cy="449.2" r="1.9"/><circle cx="399.8" cy="449.1" r="1.9"/><circle cx="402.8" cy="449.0" r="1.9"/><circle cx="405.6" cy="449.1" r="1.9"/><circle cx="408.2" cy="449.0" r="1.9"/><circle cx="411.0" cy="448.8" r="1.9"/><circle cx="414.1" cy="449.0" r="1.9"/><circle cx="416.7" cy="449.2" r="1.9"/><circle cx="393.3" cy="451.6" r="1.9"/><circle cx="395.6" cy="451.5" r="1.9"/><circle cx="398.5" cy="451.7" r="1.9"/><circle cx="401.4" cy="451.8" r="1.9"/><circle cx="404.2" cy="451.8" r="1.9"/><circle cx="406.8" cy="451.6" r="1.9"/><circle cx="409.7" cy="451.8" r="1.9"/><circle cx="412.2" cy="451.8" r="1.9"/><circle cx="415.3" cy="451.7" r="1.9"/><circle cx="418.1" cy="452.0" r="1.9"/><circle cx="392.2" cy="454.2" r="1.9"/><circle cx="394.7" cy="454.5" r="1.9"/><circle cx="397.8" cy="454.2" r="1.9"/><circle cx="400.3" cy="454.4" r="1.9"/><circle cx="403.0" cy="453.9" r="1.9"/><circle cx="405.7" cy="454.3" r="1.9"/><circle cx="408.3" cy="454.1" r="1.9"/><circle cx="410.9" cy="454.5" r="1.9"/><circle cx="413.6" cy="454.4" r="1.9"/><circle cx="415.9" cy="453.9" r="1.9"/><circle cx="418.8" cy="454.4" r="1.9"/><circle cx="392.0" cy="457.1" r="1.9"/><circle cx="394.9" cy="456.4" r="1.9"/><circle cx="397.5" cy="456.6" r="1.9"/><circle cx="399.9" cy="456.5" r="1.9"/><circle cx="402.7" cy="456.6" r="1.9"/><circle cx="405.3" cy="456.4" r="1.9"/><circle cx="408.1" cy="456.8" r="1.9"/><circle cx="410.9" cy="457.0" r="1.9"/><circle cx="413.3" cy="457.3" r="1.9"/><circle cx="415.8" cy="456.8" r="1.9"/><circle cx="418.7" cy="456.8" r="1.9"/><circle cx="391.0" cy="459.9" r="1.9"/><circle cx="394.0" cy="459.1" r="1.9"/><circle cx="397.0" cy="459.2" r="1.9"/><circle cx="399.8" cy="459.4" r="1.9"/><circle cx="402.7" cy="460.1" r="1.9"/><circle cx="405.7" cy="459.5" r="1.9"/><circle cx="408.5" cy="459.7" r="1.9"/><circle cx="411.1" cy="459.2" r="1.9"/><circle cx="414.1" cy="459.7" r="1.9"/><circle cx="417.2" cy="460.1" r="1.9"/><circle cx="419.8" cy="459.5" r="1.9"/><circle cx="390.1" cy="461.8" r="1.9"/><circle cx="392.5" cy="462.4" r="1.9"/><circle cx="395.6" cy="461.9" r="1.9"/><circle cx="398.5" cy="462.7" r="1.9"/><circle cx="401.2" cy="462.2" r="1.9"/><circle cx="403.9" cy="462.1" r="1.9"/><circle cx="407.2" cy="462.2" r="1.9"/><circle cx="410.0" cy="462.7" r="1.9"/><circle cx="412.7" cy="462.1" r="1.9"/><circle cx="415.7" cy="462.3" r="1.9"/><circle cx="418.2" cy="462.1" r="1.9"/><circle cx="421.4" cy="462.3" r="1.9"/><circle cx="389.5" cy="465.0" r="1.9"/><circle cx="392.3" cy="465.1" r="1.9"/><circle cx="395.3" cy="464.8" r="1.9"/><circle cx="398.4" cy="465.3" r="1.9"/><circle cx="400.9" cy="465.0" r="1.9"/><circle cx="403.9" cy="465.4" r="1.9"/><circle cx="407.1" cy="464.7" r="1.9"/><circle cx="409.7" cy="464.7" r="1.9"/><circle cx="413.0" cy="464.8" r="1.9"/><circle cx="415.7" cy="465.0" r="1.9"/><circle cx="418.6" cy="465.1" r="1.9"/><circle cx="421.5" cy="464.6" r="1.9"/><circle cx="389.5" cy="467.5" r="1.9"/><circle cx="392.0" cy="467.5" r="1.9"/><circle cx="394.6" cy="467.7" r="1.9"/><circle cx="397.4" cy="467.6" r="1.9"/><circle cx="400.3" cy="467.8" r="1.9"/><circle cx="402.5" cy="467.5" r="1.9"/><circle cx="405.5" cy="468.1" r="1.9"/><circle cx="408.4" cy="467.7" r="1.9"/><circle cx="410.6" cy="468.0" r="1.9"/><circle cx="413.5" cy="467.8" r="1.9"/><circle cx="416.4" cy="467.8" r="1.9"/><circle cx="419.0" cy="468.1" r="1.9"/><circle cx="421.6" cy="467.6" r="1.9"/><circle cx="390.4" cy="470.1" r="1.9"/><circle cx="392.8" cy="470.7" r="1.9"/><circle cx="395.5" cy="470.7" r="1.9"/><circle cx="398.6" cy="470.3" r="1.9"/><circle cx="401.2" cy="470.7" r="1.9"/><circle cx="404.4" cy="470.0" r="1.9"/><circle cx="406.9" cy="470.4" r="1.9"/><circle cx="409.7" cy="470.2" r="1.9"/><circle cx="412.3" cy="470.5" r="1.9"/><circle cx="415.5" cy="470.0" r="1.9"/><circle cx="417.9" cy="470.7" r="1.9"/><circle cx="421.0" cy="470.6" r="1.9"/><circle cx="394.8" cy="473.3" r="1.9"/><circle cx="398.0" cy="473.6" r="1.9"/><circle cx="400.4" cy="472.6" r="1.9"/><circle cx="403.1" cy="472.8" r="1.9"/><circle cx="405.6" cy="473.6" r="1.9"/><circle cx="408.2" cy="472.7" r="1.9"/><circle cx="410.6" cy="473.5" r="1.9"/><circle cx="413.1" cy="473.2" r="1.9"/><circle cx="415.9" cy="472.8" r="1.9"/><circle cx="397.7" cy="475.3" r="1.9"/><circle cx="400.0" cy="475.7" r="1.9"/><circle cx="402.6" cy="475.4" r="1.9"/><circle cx="405.5" cy="476.0" r="1.9"/><circle cx="408.4" cy="475.4" r="1.9"/><circle cx="410.7" cy="475.6" r="1.9"/><circle cx="413.4" cy="475.8" r="1.9"/><circle cx="398.2" cy="478.4" r="1.9"/><circle cx="400.2" cy="478.7" r="1.9"/><circle cx="402.8" cy="478.6" r="1.9"/><circle cx="405.5" cy="478.9" r="1.9"/><circle cx="408.0" cy="478.6" r="1.9"/><circle cx="410.4" cy="478.6" r="1.9"/><circle cx="412.9" cy="478.8" r="1.9"/><circle cx="398.3" cy="480.8" r="1.9"/><circle cx="401.0" cy="481.1" r="1.9"/><circle cx="404.2" cy="480.9" r="1.9"/><circle cx="407.1" cy="481.4" r="1.9"/><circle cx="409.6" cy="481.4" r="1.9"/><circle cx="412.5" cy="480.8" r="1.9"/><circle cx="400.6" cy="483.6" r="1.9"/><circle cx="403.3" cy="483.9" r="1.9"/><circle cx="405.4" cy="484.2" r="1.9"/><circle cx="407.7" cy="484.1" r="1.9"/><circle cx="410.2" cy="483.6" r="1.9"/><circle cx="402.1" cy="486.8" r="1.9"/><circle cx="404.1" cy="486.2" r="1.9"/><circle cx="407.0" cy="486.8" r="1.9"/><circle cx="409.4" cy="486.2" r="1.9"/><circle cx="401.9" cy="489.2" r="1.9"/><circle cx="404.1" cy="489.1" r="1.9"/><circle cx="406.8" cy="489.1" r="1.9"/><circle cx="409.1" cy="488.9" r="1.9"/><circle cx="402.6" cy="492.1" r="1.9"/><circle cx="404.6" cy="491.9" r="1.9"/><circle cx="406.7" cy="492.0" r="1.9"/><circle cx="408.7" cy="492.1" r="1.9"/><circle cx="403.2" cy="494.6" r="1.9"/><circle cx="405.3" cy="494.2" r="1.9"/><circle cx="407.8" cy="494.2" r="1.9"/><circle cx="403.3" cy="497.4" r="1.9"/><circle cx="405.7" cy="496.9" r="1.9"/><circle cx="407.9" cy="497.8" r="1.9"/><circle cx="403.2" cy="500.0" r="1.9"/><circle cx="405.5" cy="499.7" r="1.9"/><circle cx="407.7" cy="499.8" r="1.9"/><circle cx="403.1" cy="502.7" r="1.9"/><circle cx="405.7" cy="502.5" r="1.9"/><circle cx="407.7" cy="502.6" r="1.9"/><circle cx="403.6" cy="505.3" r="1.9"/><circle cx="405.3" cy="505.5" r="1.9"/><circle cx="406.9" cy="505.9" r="1.9"/><circle cx="404.0" cy="508.6" r="1.9"/><circle cx="407.1" cy="508.4" r="1.9"/><circle cx="404.1" cy="511.3" r="1.9"/><circle cx="406.6" cy="511.1" r="1.9"/><circle cx="404.1" cy="513.8" r="1.9"/><circle cx="406.9" cy="513.3" r="1.9"/><circle cx="404.6" cy="515.8" r="1.9"/><circle cx="406.0" cy="515.9" r="1.9"/><circle cx="404.8" cy="519.5" r="1.9"/><circle cx="406.1" cy="518.8" r="1.9"/><circle cx="404.9" cy="521.5" r="1.9"/><circle cx="406.3" cy="521.9" r="1.9"/><circle cx="404.7" cy="524.1" r="1.9"/><circle cx="406.2" cy="524.8" r="1.9"/><circle cx="405.0" cy="527.0" r="1.9"/><circle cx="406.3" cy="526.6" r="1.9"/><circle cx="404.7" cy="530.1" r="1.9"/><circle cx="406.0" cy="529.3" r="1.9"/><circle cx="405.5" cy="532.5" r="1.9"/></g><g fill="#e0191f"><circle cx="461.0" cy="399.9" r="1.95"/><circle cx="461.0" cy="409.1" r="1.95"/><circle cx="453.8" cy="411.1" r="1.95"/><circle cx="468.3" cy="410.0" r="1.95"/><circle cx="461.0" cy="413.7" r="1.95"/><circle cx="453.8" cy="421.9" r="1.95"/><circle cx="461.0" cy="421.9" r="1.95"/><circle cx="468.3" cy="423.6" r="1.95"/><circle cx="453.8" cy="426.2" r="1.95"/></g><g stroke="#111" stroke-width="1.0" fill="none"><path d="M405.6,437.6V484.4 M396.9,437.6H414.4 M387,461H424 M396.9,484.4H414.4"/><path d="M462.7,404.5V422.3 M454.1,404.5H471.9 M444.3,413.4H481.4 M454.1,422.3H471.9"/></g><path d="M405.9,382.2H464.7" stroke="#000" stroke-width="1.3"/><polygon points="427.40,374.25 428.00,375.87 429.73,375.94 428.38,377.02 428.84,378.68 427.40,377.73 425.96,378.68 426.42,377.02 425.07,375.94 426.80,375.87" fill="#000"/><polygon points="432.60,374.25 433.20,375.87 434.93,375.94 433.58,377.02 434.04,378.68 432.60,377.73 431.16,378.68 431.62,377.02 430.27,375.94 432.00,375.87" fill="#000"/><polygon points="437.70,374.25 438.30,375.87 440.03,375.94 438.68,377.02 439.14,378.68 437.70,377.73 436.26,378.68 436.72,377.02 435.37,375.94 437.10,375.87" fill="#000"/><polygon points="442.90,374.25 443.50,375.87 445.23,375.94 443.88,377.02 444.34,378.68 442.90,377.73 441.46,378.68 441.92,377.02 440.57,375.94 442.30,375.87" fill="#000"/><path d="M368.7,381.7 V584.5 H498.5" fill="none" stroke="#444" stroke-width="1.0"/><line x1="360.9" y1="381.7" x2="368.7" y2="381.7" stroke="#444" stroke-width="1"/><text transform="translate(359.90 384.90) scale(1 1.1)" font-size="9.2" text-anchor="end" fill="#000" >8.5</text><line x1="360.9" y1="415.5" x2="368.7" y2="415.5" stroke="#444" stroke-width="1"/><text transform="translate(359.90 418.70) scale(1 1.1)" font-size="9.2" text-anchor="end" fill="#000" >8.0</text><line x1="360.9" y1="449.3" x2="368.7" y2="449.3" stroke="#444" stroke-width="1"/><text transform="translate(359.90 452.50) scale(1 1.1)" font-size="9.2" text-anchor="end" fill="#000" >7.5</text><line x1="360.9" y1="483.1" x2="368.7" y2="483.1" stroke="#444" stroke-width="1"/><text transform="translate(359.90 486.30) scale(1 1.1)" font-size="9.2" text-anchor="end" fill="#000" >7.0</text><line x1="360.9" y1="516.9" x2="368.7" y2="516.9" stroke="#444" stroke-width="1"/><text transform="translate(359.90 520.10) scale(1 1.1)" font-size="9.2" text-anchor="end" fill="#000" >6.5</text><line x1="360.9" y1="550.7" x2="368.7" y2="550.7" stroke="#444" stroke-width="1"/><text transform="translate(359.90 553.90) scale(1 1.1)" font-size="9.2" text-anchor="end" fill="#000" >6.0</text><line x1="360.9" y1="584.5" x2="368.7" y2="584.5" stroke="#444" stroke-width="1"/><text transform="translate(359.90 587.70) scale(1 1.1)" font-size="9.2" text-anchor="end" fill="#000" >5.5</text><line x1="405.7" y1="584.5" x2="405.7" y2="591.5" stroke="#444" stroke-width="1"/><line x1="461.2" y1="584.5" x2="461.2" y2="591.5" stroke="#444" stroke-width="1"/><text transform="translate(405.50 602.80) scale(1 1.1)" font-size="9.2" text-anchor="middle" fill="#000" >Pan-sarcoma</text><text transform="translate(460.80 603.00) scale(1 1.1)" font-size="9.2" text-anchor="middle" fill="#000" >DSRCT</text><text transform="translate(489.80 577.20) scale(1 1.1)" font-size="9.1" text-anchor="end" fill="#000" >FC = 4.97</text><text transform="translate(333.10 487.50) rotate(-90.00) scale(1 1.1)" y="0.0" font-size="9.3" text-anchor="middle" fill="#000" >log10 intensity</text><text transform="translate(523.60 332.30) scale(1 1)" font-size="16.5" text-anchor="start" fill="#000" >e</text><text transform="translate(617.20 343.20) scale(1 1.1)" font-size="9.2" text-anchor="middle" fill="#000" >CLDN6</text><g fill="#8a8a8a"><circle cx="573.8" cy="462.8" r="1.9"/><circle cx="573.8" cy="467.6" r="1.9"/><circle cx="573.8" cy="471.6" r="1.9"/><circle cx="573.8" cy="484.7" r="1.9"/><circle cx="580.1" cy="457.3" r="1.9"/><circle cx="580.1" cy="467.9" r="1.9"/><circle cx="580.1" cy="473.1" r="1.9"/><circle cx="580.1" cy="477.1" r="1.9"/><circle cx="580.1" cy="486.2" r="1.9"/><circle cx="580.1" cy="491.0" r="1.9"/><circle cx="580.1" cy="495.8" r="1.9"/><circle cx="586.6" cy="465.9" r="1.9"/><circle cx="586.6" cy="470.4" r="1.9"/><circle cx="586.6" cy="475.4" r="1.9"/><circle cx="586.6" cy="479.1" r="1.9"/><circle cx="586.6" cy="483.8" r="1.9"/><circle cx="586.6" cy="488.4" r="1.9"/><circle cx="586.6" cy="492.2" r="1.9"/><circle cx="586.6" cy="496.9" r="1.9"/><circle cx="593.2" cy="458.8" r="1.9"/><circle cx="593.2" cy="466.6" r="1.9"/><circle cx="593.2" cy="472.3" r="1.9"/><circle cx="593.2" cy="476.2" r="1.9"/><circle cx="593.2" cy="480.1" r="1.9"/><circle cx="593.2" cy="484.7" r="1.9"/><circle cx="593.2" cy="490.6" r="1.9"/><circle cx="593.2" cy="494.8" r="1.9"/><circle cx="599.7" cy="457.3" r="1.9"/><circle cx="599.7" cy="462.8" r="1.9"/><circle cx="599.7" cy="468.7" r="1.9"/><circle cx="599.7" cy="473.5" r="1.9"/><circle cx="599.7" cy="484.7" r="1.9"/><circle cx="599.7" cy="491.0" r="1.9"/><circle cx="606.3" cy="463.8" r="1.9"/><circle cx="606.3" cy="467.8" r="1.9"/><circle cx="606.3" cy="473.5" r="1.9"/><circle cx="589.9" cy="407.2" r="1.9"/><circle cx="589.9" cy="437.1" r="1.9"/><circle cx="589.9" cy="442.6" r="1.9"/><circle cx="590.2" cy="509.9" r="1.9"/><circle cx="590.2" cy="516.2" r="1.9"/><circle cx="586.6" cy="532.1" r="1.9"/><circle cx="593.3" cy="532.5" r="1.9"/><circle cx="599.9" cy="530.0" r="1.9"/><circle cx="590.2" cy="570.2" r="1.9"/></g><g stroke="#6e6e6e" stroke-width="1.0" fill="none"><path d="M590.2,453.7V507.7 M581.2,453.7H598.9 M572,480.5H608.1 M581.2,507.7H598.9"/></g><path d="M644.5,417.2V434.2 M635,417.2H653.4 M626.4,426.1H662.6 M635,434.2H653.4" stroke="#333" stroke-width="1.0" fill="none"/><path d="M589.9,381.9H644.5" stroke="#555" stroke-width="1.4"/><g fill="#e0191f"><circle cx="644.5" cy="419.9" r="1.9"/><circle cx="644.5" cy="432.1" r="1.9"/></g><polygon points="617.30,374.35 617.90,375.97 619.63,376.04 618.28,377.12 618.74,378.78 617.30,377.83 615.86,378.78 616.32,377.12 614.97,376.04 616.70,375.97" fill="#000"/><path d="M553.9,382.4 V584.6 H681.4" fill="none" stroke="#555" stroke-width="1.0"/><line x1="546.1999999999999" y1="382.4" x2="553.9" y2="382.4" stroke="#555" stroke-width="1"/><text transform="translate(541.00 385.65) scale(1 1.1)" font-size="9.2" text-anchor="end" fill="#000" >9</text><line x1="546.1999999999999" y1="422.8" x2="553.9" y2="422.8" stroke="#555" stroke-width="1"/><text transform="translate(541.00 426.10) scale(1 1.1)" font-size="9.2" text-anchor="end" fill="#000" >8</text><line x1="546.1999999999999" y1="463.2" x2="553.9" y2="463.2" stroke="#555" stroke-width="1"/><text transform="translate(541.00 466.55) scale(1 1.1)" font-size="9.2" text-anchor="end" fill="#000" >7</text><line x1="546.1999999999999" y1="503.7" x2="553.9" y2="503.7" stroke="#555" stroke-width="1"/><text transform="translate(541.00 507.00) scale(1 1.1)" font-size="9.2" text-anchor="end" fill="#000" >6</text><line x1="546.1999999999999" y1="544.1" x2="553.9" y2="544.1" stroke="#555" stroke-width="1"/><text transform="translate(541.00 547.45) scale(1 1.1)" font-size="9.2" text-anchor="end" fill="#000" >5</text><line x1="546.1999999999999" y1="584.6" x2="553.9" y2="584.6" stroke="#555" stroke-width="1"/><text transform="translate(541.00 587.90) scale(1 1.1)" font-size="9.2" text-anchor="end" fill="#000" >4</text><line x1="590.2" y1="584.6" x2="590.2" y2="591.1" stroke="#555" stroke-width="1"/><line x1="644.4" y1="584.6" x2="644.4" y2="591.1" stroke="#555" stroke-width="1"/><text transform="translate(589.70 603.00) scale(1 1.1)" font-size="9.2" text-anchor="middle" fill="#000" >Pan-sarcoma</text><text transform="translate(644.80 603.00) scale(1 1.1)" font-size="9.2" text-anchor="middle" fill="#000" >DSRCT</text><text transform="translate(681.80 577.20) scale(1 1.1)" font-size="9.1" text-anchor="end" fill="#000" >FC = 18.05</text><text transform="translate(522.90 473.30) rotate(-90.00) scale(1 1.1)" y="0.0" font-size="9.2" text-anchor="middle" fill="#000" >log10 intensity</text><text transform="translate(-0.10 637.50) scale(1 1)" font-size="16" text-anchor="start" fill="#000" >f</text><g fill="#858585"><circle cx="130.7" cy="704.8" r="2.3"/><circle cx="134.1" cy="719.1" r="2.3"/><circle cx="127.6" cy="731.2" r="2.3"/><circle cx="140.8" cy="736.9" r="2.3"/><circle cx="131.1" cy="747.6" r="2.3"/><circle cx="110.0" cy="750.8" r="2.3"/><circle cx="138.9" cy="750.8" r="2.3"/><circle cx="137.3" cy="755.6" r="2.3"/><circle cx="94.3" cy="760.0" r="2.3"/><circle cx="88.5" cy="770.6" r="2.3"/><circle cx="100.2" cy="768.1" r="2.3"/><circle cx="123.8" cy="781.7" r="2.3"/><circle cx="134.8" cy="781.7" r="2.3"/><circle cx="136.7" cy="789.5" r="2.3"/><circle cx="106.0" cy="794.1" r="2.3"/><circle cx="120.9" cy="799.1" r="2.3"/><circle cx="136.7" cy="803.5" r="2.3"/><circle cx="113.9" cy="810.9" r="2.3"/><circle cx="106.8" cy="813.7" r="2.3"/><circle cx="48.6" cy="811.6" r="2.3"/><circle cx="80.3" cy="829.2" r="2.3"/><circle cx="123.1" cy="831.9" r="2.3"/><circle cx="70.1" cy="843.3" r="2.3"/><circle cx="103.7" cy="855.0" r="2.3"/><circle cx="117.0" cy="874.0" r="2.3"/><circle cx="120.2" cy="888.6" r="2.3"/><circle cx="193.4" cy="674.8" r="2.3"/><circle cx="208.3" cy="674.2" r="2.3"/><circle cx="169.0" cy="682.0" r="2.3"/><circle cx="218.5" cy="682.6" r="2.3"/><circle cx="213.8" cy="687.9" r="2.3"/><circle cx="217.1" cy="690.2" r="2.3"/><circle cx="183.9" cy="694.9" r="2.3"/><circle cx="203.3" cy="699.0" r="2.3"/><circle cx="218.5" cy="696.1" r="2.3"/><circle cx="170.9" cy="706.0" r="2.3"/><circle cx="181.8" cy="704.6" r="2.3"/><circle cx="191.4" cy="706.3" r="2.3"/><circle cx="200.1" cy="704.0" r="2.3"/><circle cx="198.4" cy="706.6" r="2.3"/><circle cx="201.9" cy="704.0" r="2.3"/><circle cx="212.6" cy="704.0" r="2.3"/><circle cx="210.7" cy="707.5" r="2.3"/><circle cx="166.6" cy="713.0" r="2.3"/><circle cx="177.6" cy="713.8" r="2.3"/><circle cx="199.8" cy="710.7" r="2.3"/><circle cx="207.2" cy="711.5" r="2.3"/><circle cx="213.0" cy="710.3" r="2.3"/><circle cx="218.5" cy="700.7" r="2.3"/><circle cx="218.5" cy="710.1" r="2.3"/><circle cx="190.0" cy="717.7" r="2.3"/><circle cx="197.2" cy="717.1" r="2.3"/><circle cx="203.6" cy="714.7" r="2.3"/><circle cx="208.9" cy="714.7" r="2.3"/><circle cx="214.2" cy="714.7" r="2.3"/><circle cx="218.5" cy="717.1" r="2.3"/><circle cx="206.1" cy="719.2" r="2.3"/><circle cx="209.8" cy="719.2" r="2.3"/><circle cx="165.0" cy="725.0" r="2.3"/><circle cx="154.7" cy="726.8" r="2.3"/><circle cx="151.4" cy="729.7" r="2.3"/><circle cx="168.2" cy="728.7" r="2.3"/><circle cx="175.5" cy="729.4" r="2.3"/><circle cx="179.9" cy="729.4" r="2.3"/><circle cx="183.5" cy="726.5" r="2.3"/><circle cx="187.9" cy="725.0" r="2.3"/><circle cx="191.5" cy="723.6" r="2.3"/><circle cx="194.5" cy="724.3" r="2.3"/><circle cx="202.5" cy="721.4" r="2.3"/><circle cx="204.7" cy="724.3" r="2.3"/><circle cx="213.4" cy="725.8" r="2.3"/><circle cx="218.5" cy="727.2" r="2.3"/><circle cx="149.9" cy="736.7" r="2.3"/><circle cx="159.7" cy="738.6" r="2.3"/><circle cx="168.2" cy="733.8" r="2.3"/><circle cx="171.1" cy="732.3" r="2.3"/><circle cx="181.3" cy="732.3" r="2.3"/><circle cx="185.0" cy="730.9" r="2.3"/><circle cx="187.2" cy="733.1" r="2.3"/><circle cx="189.3" cy="730.9" r="2.3"/><circle cx="193.0" cy="728.0" r="2.3"/><circle cx="195.9" cy="729.4" r="2.3"/><circle cx="199.6" cy="730.9" r="2.3"/><circle cx="207.6" cy="729.4" r="2.3"/><circle cx="210.5" cy="729.4" r="2.3"/><circle cx="214.9" cy="729.4" r="2.3"/><circle cx="184.2" cy="737.4" r="2.3"/><circle cx="188.6" cy="736.7" r="2.3"/><circle cx="194.5" cy="736.7" r="2.3"/><circle cx="198.1" cy="736.7" r="2.3"/><circle cx="207.6" cy="733.8" r="2.3"/><circle cx="210.5" cy="736.7" r="2.3"/><circle cx="215.6" cy="738.2" r="2.3"/><circle cx="151.4" cy="744.3" r="2.3"/><circle cx="156.5" cy="743.3" r="2.3"/><circle cx="166.7" cy="745.9" r="2.3"/><circle cx="172.3" cy="744.0" r="2.3"/><circle cx="176.2" cy="740.4" r="2.3"/><circle cx="179.9" cy="740.4" r="2.3"/><circle cx="184.2" cy="744.0" r="2.3"/><circle cx="188.6" cy="743.3" r="2.3"/><circle cx="193.0" cy="743.3" r="2.3"/><circle cx="196.6" cy="741.8" r="2.3"/><circle cx="201.8" cy="741.1" r="2.3"/><circle cx="209.1" cy="742.6" r="2.3"/><circle cx="212.0" cy="741.1" r="2.3"/><circle cx="147.7" cy="749.9" r="2.3"/><circle cx="153.6" cy="752.0" r="2.3"/><circle cx="161.6" cy="749.9" r="2.3"/><circle cx="172.6" cy="747.7" r="2.3"/><circle cx="181.3" cy="747.7" r="2.3"/><circle cx="185.7" cy="746.2" r="2.3"/><circle cx="190.1" cy="748.4" r="2.3"/><circle cx="194.5" cy="749.9" r="2.3"/><circle cx="199.6" cy="747.7" r="2.3"/><circle cx="204.7" cy="751.3" r="2.3"/><circle cx="147.7" cy="755.0" r="2.3"/><circle cx="157.2" cy="755.7" r="2.3"/><circle cx="162.3" cy="752.0" r="2.3"/><circle cx="174.0" cy="752.8" r="2.3"/><circle cx="182.8" cy="752.0" r="2.3"/><circle cx="187.2" cy="751.3" r="2.3"/><circle cx="191.5" cy="755.0" r="2.3"/><circle cx="198.1" cy="753.5" r="2.3"/><circle cx="202.5" cy="752.8" r="2.3"/><circle cx="207.6" cy="757.2" r="2.3"/><circle cx="213.4" cy="754.2" r="2.3"/><circle cx="218.5" cy="752.8" r="2.3"/><circle cx="149.9" cy="765.2" r="2.3"/><circle cx="160.9" cy="763.0" r="2.3"/><circle cx="163.8" cy="761.5" r="2.3"/><circle cx="166.7" cy="757.9" r="2.3"/><circle cx="171.1" cy="763.7" r="2.3"/><circle cx="176.2" cy="762.3" r="2.3"/><circle cx="178.4" cy="757.2" r="2.3"/><circle cx="190.1" cy="755.7" r="2.3"/><circle cx="193.0" cy="761.2" r="2.3"/><circle cx="210.5" cy="760.1" r="2.3"/><circle cx="209.1" cy="763.7" r="2.3"/><circle cx="214.9" cy="764.5" r="2.3"/><circle cx="161.3" cy="769.1" r="2.3"/><circle cx="168.2" cy="767.8" r="2.3"/><circle cx="181.3" cy="765.9" r="2.3"/><circle cx="181.0" cy="768.8" r="2.3"/><circle cx="186.0" cy="769.6" r="2.3"/><circle cx="202.5" cy="768.5" r="2.3"/><circle cx="152.4" cy="775.0" r="2.3"/><circle cx="161.9" cy="781.2" r="2.3"/><circle cx="184.2" cy="781.5" r="2.3"/><circle cx="218.5" cy="757.2" r="2.3"/><circle cx="265.4" cy="652.4" r="2.3"/><circle cx="271.9" cy="664.8" r="2.3"/><circle cx="281.4" cy="666.3" r="2.3"/><circle cx="284.3" cy="667.7" r="2.3"/><circle cx="255.1" cy="667.4" r="2.3"/><circle cx="314.3" cy="665.5" r="2.3"/><circle cx="254.4" cy="673.9" r="2.3"/><circle cx="261.0" cy="674.7" r="2.3"/><circle cx="271.2" cy="677.7" r="2.3"/><circle cx="277.0" cy="675.0" r="2.3"/><circle cx="222.0" cy="676.5" r="2.3"/><circle cx="226.7" cy="678.2" r="2.3"/><circle cx="231.4" cy="676.5" r="2.3"/><circle cx="236.6" cy="675.0" r="2.3"/><circle cx="244.9" cy="680.9" r="2.3"/><circle cx="248.3" cy="681.2" r="2.3"/><circle cx="263.2" cy="682.3" r="2.3"/><circle cx="266.8" cy="687.0" r="2.3"/><circle cx="253.2" cy="688.9" r="2.3"/><circle cx="263.2" cy="694.7" r="2.3"/><circle cx="223.8" cy="690.4" r="2.3"/><circle cx="228.9" cy="690.4" r="2.3"/><circle cx="234.0" cy="689.6" r="2.3"/><circle cx="239.1" cy="688.9" r="2.3"/><circle cx="217.9" cy="692.6" r="2.3"/><circle cx="221.6" cy="696.2" r="2.3"/><circle cx="226.7" cy="694.0" r="2.3"/><circle cx="225.9" cy="697.7" r="2.3"/><circle cx="235.4" cy="696.2" r="2.3"/><circle cx="244.9" cy="691.8" r="2.3"/><circle cx="245.7" cy="694.7" r="2.3"/><circle cx="250.8" cy="692.6" r="2.3"/><circle cx="253.7" cy="693.3" r="2.3"/><circle cx="232.5" cy="702.0" r="2.3"/><circle cx="236.9" cy="702.0" r="2.3"/><circle cx="242.7" cy="704.2" r="2.3"/><circle cx="250.0" cy="705.7" r="2.3"/><circle cx="254.4" cy="701.3" r="2.3"/><circle cx="259.5" cy="700.6" r="2.3"/><circle cx="253.7" cy="698.4" r="2.3"/><circle cx="220.1" cy="706.4" r="2.3"/><circle cx="228.1" cy="708.6" r="2.3"/><circle cx="231.8" cy="711.5" r="2.3"/><circle cx="238.4" cy="708.6" r="2.3"/><circle cx="255.1" cy="711.5" r="2.3"/><circle cx="223.8" cy="718.8" r="2.3"/><circle cx="229.6" cy="718.8" r="2.3"/><circle cx="232.5" cy="716.6" r="2.3"/><circle cx="243.5" cy="717.4" r="2.3"/><circle cx="252.2" cy="720.0" r="2.3"/><circle cx="282.9" cy="715.6" r="2.3"/><circle cx="220.8" cy="726.1" r="2.3"/><circle cx="228.1" cy="723.2" r="2.3"/><circle cx="231.1" cy="723.2" r="2.3"/><circle cx="244.9" cy="723.9" r="2.3"/><circle cx="228.1" cy="729.8" r="2.3"/><circle cx="236.2" cy="731.2" r="2.3"/><circle cx="256.6" cy="730.5" r="2.3"/><circle cx="280.7" cy="731.2" r="2.3"/><circle cx="221.6" cy="737.8" r="2.3"/><circle cx="230.6" cy="747.8" r="2.3"/><circle cx="226.7" cy="753.2" r="2.3"/><circle cx="224.1" cy="755.9" r="2.3"/><circle cx="231.5" cy="755.7" r="2.3"/><circle cx="239.4" cy="755.9" r="2.3"/><circle cx="229.3" cy="786.8" r="2.3"/><circle cx="244.9" cy="829.9" r="2.3"/><circle cx="147.7" cy="797.5" r="2.3"/><circle cx="148.9" cy="810.2" r="2.3"/><circle cx="172.3" cy="807.7" r="2.3"/><circle cx="180.6" cy="812.4" r="2.3"/><circle cx="190.1" cy="809.9" r="2.3"/><circle cx="188.2" cy="829.9" r="2.3"/><circle cx="171.1" cy="705.8" r="2.3"/><circle cx="182.0" cy="704.7" r="2.3"/><circle cx="191.3" cy="706.1" r="2.3"/><circle cx="199.7" cy="703.5" r="2.3"/><circle cx="201.5" cy="704.7" r="2.3"/><circle cx="198.5" cy="706.4" r="2.3"/><circle cx="213.1" cy="704.1" r="2.3"/><circle cx="219.6" cy="701.8" r="2.3"/><circle cx="220.1" cy="706.4" r="2.3"/><circle cx="232.4" cy="701.2" r="2.3"/><circle cx="236.5" cy="701.8" r="2.3"/><circle cx="239.4" cy="702.3" r="2.3"/><circle cx="166.4" cy="712.8" r="2.3"/><circle cx="177.5" cy="713.8" r="2.3"/><circle cx="199.7" cy="710.5" r="2.3"/><circle cx="207.3" cy="711.7" r="2.3"/><circle cx="210.2" cy="713.4" r="2.3"/><circle cx="213.7" cy="711.7" r="2.3"/><circle cx="211.4" cy="708.2" r="2.3"/><circle cx="219.0" cy="711.7" r="2.3"/><circle cx="227.7" cy="709.3" r="2.3"/><circle cx="230.1" cy="711.7" r="2.3"/><circle cx="227.2" cy="708.2" r="2.3"/><circle cx="190.1" cy="717.5" r="2.3"/><circle cx="197.1" cy="716.9" r="2.3"/><circle cx="203.2" cy="714.6" r="2.3"/><circle cx="206.1" cy="714.6" r="2.3"/><circle cx="209.1" cy="716.4" r="2.3"/><circle cx="212.6" cy="715.2" r="2.3"/><circle cx="209.1" cy="718.7" r="2.3"/><circle cx="211.4" cy="719.3" r="2.3"/><circle cx="214.9" cy="718.7" r="2.3"/><circle cx="219.6" cy="717.5" r="2.3"/><circle cx="223.1" cy="718.7" r="2.3"/><circle cx="225.4" cy="718.7" r="2.3"/><circle cx="230.1" cy="717.5" r="2.3"/><circle cx="233.6" cy="716.9" r="2.3"/><circle cx="234.7" cy="711.7" r="2.3"/><circle cx="237.1" cy="709.3" r="2.3"/><circle cx="164.9" cy="725.1" r="2.3"/><circle cx="168.2" cy="728.0" r="2.3"/><circle cx="171.7" cy="731.5" r="2.3"/><circle cx="175.8" cy="730.9" r="2.3"/><circle cx="178.7" cy="729.8" r="2.3"/><circle cx="183.4" cy="727.4" r="2.3"/><circle cx="185.1" cy="725.7" r="2.3"/><circle cx="188.6" cy="723.4" r="2.3"/><circle cx="190.9" cy="721.6" r="2.3"/><circle cx="193.9" cy="723.9" r="2.3"/><circle cx="195.0" cy="725.1" r="2.3"/><circle cx="189.2" cy="728.6" r="2.3"/><circle cx="186.9" cy="729.8" r="2.3"/><circle cx="191.5" cy="730.9" r="2.3"/><circle cx="193.3" cy="727.4" r="2.3"/><circle cx="201.5" cy="721.6" r="2.3"/><circle cx="203.2" cy="723.4" r="2.3"/><circle cx="206.1" cy="724.5" r="2.3"/><circle cx="201.5" cy="725.1" r="2.3"/><circle cx="199.7" cy="729.2" r="2.3"/><circle cx="202.6" cy="730.4" r="2.3"/><circle cx="199.1" cy="732.7" r="2.3"/><circle cx="197.4" cy="730.9" r="2.3"/><circle cx="211.4" cy="727.4" r="2.3"/><circle cx="212.0" cy="725.1" r="2.3"/><circle cx="219.6" cy="725.1" r="2.3"/><circle cx="219.0" cy="729.2" r="2.3"/><circle cx="220.7" cy="726.9" r="2.3"/><circle cx="228.9" cy="722.8" r="2.3"/><circle cx="231.2" cy="721.0" r="2.3"/><circle cx="232.4" cy="719.9" r="2.3"/><circle cx="228.3" cy="729.8" r="2.3"/><circle cx="236.5" cy="730.9" r="2.3"/><circle cx="167.9" cy="734.1" r="2.3"/><circle cx="183.4" cy="733.9" r="2.3"/><circle cx="185.1" cy="735.0" r="2.3"/><circle cx="181.6" cy="738.0" r="2.3"/><circle cx="186.9" cy="736.8" r="2.3"/><circle cx="190.4" cy="735.0" r="2.3"/><circle cx="193.9" cy="733.9" r="2.3"/><circle cx="196.2" cy="735.0" r="2.3"/><circle cx="198.5" cy="736.2" r="2.3"/><circle cx="200.9" cy="733.9" r="2.3"/><circle cx="206.7" cy="736.2" r="2.3"/><circle cx="209.6" cy="733.9" r="2.3"/><circle cx="210.2" cy="737.4" r="2.3"/><circle cx="212.6" cy="738.5" r="2.3"/><circle cx="216.1" cy="738.5" r="2.3"/><circle cx="221.9" cy="738.5" r="2.3"/><circle cx="161.2" cy="738.5" r="2.3"/><circle cx="167.0" cy="746.1" r="2.3"/><circle cx="172.3" cy="743.8" r="2.3"/><circle cx="175.2" cy="740.9" r="2.3"/><circle cx="178.7" cy="740.9" r="2.3"/><circle cx="183.4" cy="743.8" r="2.3"/><circle cx="186.3" cy="744.4" r="2.3"/><circle cx="189.2" cy="743.8" r="2.3"/><circle cx="191.5" cy="743.2" r="2.3"/><circle cx="193.9" cy="744.4" r="2.3"/><circle cx="202.0" cy="740.9" r="2.3"/><circle cx="209.1" cy="742.6" r="2.3"/><circle cx="212.0" cy="741.5" r="2.3"/><circle cx="173.4" cy="747.9" r="2.3"/><circle cx="181.0" cy="747.9" r="2.3"/><circle cx="183.4" cy="749.1" r="2.3"/><circle cx="185.1" cy="751.4" r="2.3"/><circle cx="189.2" cy="750.2" r="2.3"/><circle cx="191.5" cy="749.6" r="2.3"/><circle cx="196.2" cy="746.7" r="2.3"/><circle cx="198.0" cy="749.1" r="2.3"/><circle cx="199.7" cy="751.4" r="2.3"/><circle cx="202.0" cy="750.8" r="2.3"/><circle cx="204.4" cy="752.6" r="2.3"/><circle cx="207.3" cy="754.9" r="2.3"/><circle cx="230.7" cy="747.9" r="2.3"/><circle cx="161.8" cy="750.2" r="2.3"/><circle cx="162.3" cy="753.7" r="2.3"/><circle cx="174.0" cy="752.6" r="2.3"/><circle cx="177.5" cy="757.2" r="2.3"/><circle cx="181.6" cy="752.6" r="2.3"/><circle cx="184.5" cy="754.3" r="2.3"/><circle cx="187.4" cy="754.9" r="2.3"/><circle cx="190.4" cy="753.1" r="2.3"/><circle cx="195.0" cy="753.1" r="2.3"/><circle cx="197.4" cy="754.9" r="2.3"/><circle cx="202.0" cy="753.1" r="2.3"/><circle cx="213.1" cy="754.3" r="2.3"/><circle cx="218.4" cy="753.1" r="2.3"/><circle cx="224.8" cy="754.9" r="2.3"/><circle cx="227.2" cy="753.1" r="2.3"/><circle cx="231.2" cy="755.5" r="2.3"/><circle cx="239.4" cy="756.1" r="2.3"/><circle cx="166.4" cy="757.8" r="2.3"/><circle cx="176.4" cy="759.0" r="2.3"/><circle cx="189.2" cy="756.6" r="2.3"/><circle cx="206.7" cy="757.2" r="2.3"/><circle cx="220.1" cy="757.2" r="2.3"/></g><line x1="49.1" y1="828.7" x2="314.9" y2="657.5" stroke="#111" stroke-width="1.0"/><g fill="#ee1111"><circle cx="304.1" cy="629.9" r="2.9"/><circle cx="266.1" cy="651.0" r="2.9"/><circle cx="281.4" cy="651.4" r="2.9"/><circle cx="284.3" cy="650.2" r="2.9"/><circle cx="259.5" cy="667.7" r="2.9"/><circle cx="263.5" cy="669.2" r="2.9"/><circle cx="286.3" cy="676.6" r="2.9"/><circle cx="288.3" cy="677.0" r="2.9"/><circle cx="265.4" cy="692.6" r="2.9"/></g><path d="M48.6,630.5 V888.5 H314.8 V891.0" fill="none" stroke="#555" stroke-width="1.2"/><line x1="44.4" y1="630.5" x2="48.6" y2="630.5" stroke="#444" stroke-width="1"/><text transform="translate(43.20 633.10) scale(1 1.1)" font-size="9.2" text-anchor="end" fill="#000" >2.0</text><line x1="44.4" y1="656.5" x2="48.6" y2="656.5" stroke="#444" stroke-width="1"/><text transform="translate(43.20 659.12) scale(1 1.1)" font-size="9.2" text-anchor="end" fill="#000" >1.5</text><line x1="44.4" y1="679.4" x2="48.6" y2="679.4" stroke="#444" stroke-width="1"/><text transform="translate(43.20 682.05) scale(1 1.1)" font-size="9.2" text-anchor="end" fill="#000" >1.0</text><line x1="44.4" y1="702.4" x2="48.6" y2="702.4" stroke="#444" stroke-width="1"/><text transform="translate(43.20 704.98) scale(1 1.1)" font-size="9.2" text-anchor="end" fill="#000" >0.5</text><line x1="44.4" y1="725.3" x2="48.6" y2="725.3" stroke="#444" stroke-width="1"/><text transform="translate(43.20 727.90) scale(1 1.1)" font-size="9.2" text-anchor="end" fill="#000" >0.0</text><line x1="44.4" y1="748.2" x2="48.6" y2="748.2" stroke="#444" stroke-width="1"/><text transform="translate(43.20 750.82) scale(1 1.1)" font-size="9.2" text-anchor="end" fill="#000" >−0.5</text><line x1="44.4" y1="771.1" x2="48.6" y2="771.1" stroke="#444" stroke-width="1"/><text transform="translate(43.20 773.75) scale(1 1.1)" font-size="9.2" text-anchor="end" fill="#000" >−1.0</text><line x1="44.4" y1="794.1" x2="48.6" y2="794.1" stroke="#444" stroke-width="1"/><text transform="translate(43.20 796.67) scale(1 1.1)" font-size="9.2" text-anchor="end" fill="#000" >−1.5</text><line x1="44.4" y1="817.0" x2="48.6" y2="817.0" stroke="#444" stroke-width="1"/><text transform="translate(43.20 819.60) scale(1 1.1)" font-size="9.2" text-anchor="end" fill="#000" >−2.0</text><line x1="44.4" y1="839.9" x2="48.6" y2="839.9" stroke="#444" stroke-width="1"/><text transform="translate(43.20 842.52) scale(1 1.1)" font-size="9.2" text-anchor="end" fill="#000" >−2.5</text><line x1="44.4" y1="862.8" x2="48.6" y2="862.8" stroke="#444" stroke-width="1"/><text transform="translate(43.20 865.45) scale(1 1.1)" font-size="9.2" text-anchor="end" fill="#000" >−3.0</text><line x1="44.4" y1="885.8" x2="48.6" y2="885.8" stroke="#444" stroke-width="1"/><text transform="translate(43.20 888.38) scale(1 1.1)" font-size="9.2" text-anchor="end" fill="#000" >−3.5</text><line x1="58.7" y1="888.5" x2="58.7" y2="892.0" stroke="#444" stroke-width="1"/><text transform="translate(58.65 901.80) scale(1 1.1)" font-size="9.2" text-anchor="middle" fill="#000" >−3.0</text><line x1="82.5" y1="888.5" x2="82.5" y2="892.0" stroke="#444" stroke-width="1"/><text transform="translate(82.47 901.80) scale(1 1.1)" font-size="9.2" text-anchor="middle" fill="#000" >−2.5</text><line x1="106.3" y1="888.5" x2="106.3" y2="892.0" stroke="#444" stroke-width="1"/><text transform="translate(106.30 901.80) scale(1 1.1)" font-size="9.2" text-anchor="middle" fill="#000" >−2.0</text><line x1="130.1" y1="888.5" x2="130.1" y2="892.0" stroke="#444" stroke-width="1"/><text transform="translate(130.12 901.80) scale(1 1.1)" font-size="9.2" text-anchor="middle" fill="#000" >−1.5</text><line x1="153.9" y1="888.5" x2="153.9" y2="892.0" stroke="#444" stroke-width="1"/><text transform="translate(153.95 901.80) scale(1 1.1)" font-size="9.2" text-anchor="middle" fill="#000" >−1.0</text><line x1="177.8" y1="888.5" x2="177.8" y2="892.0" stroke="#444" stroke-width="1"/><text transform="translate(177.78 901.80) scale(1 1.1)" font-size="9.2" text-anchor="middle" fill="#000" >−0.5</text><line x1="201.6" y1="888.5" x2="201.6" y2="892.0" stroke="#444" stroke-width="1"/><text transform="translate(201.60 901.80) scale(1 1.1)" font-size="9.2" text-anchor="middle" fill="#000" >0.0</text><line x1="225.4" y1="888.5" x2="225.4" y2="892.0" stroke="#444" stroke-width="1"/><text transform="translate(225.42 901.80) scale(1 1.1)" font-size="9.2" text-anchor="middle" fill="#000" >0.5</text><line x1="249.2" y1="888.5" x2="249.2" y2="892.0" stroke="#444" stroke-width="1"/><text transform="translate(249.25 901.80) scale(1 1.1)" font-size="9.2" text-anchor="middle" fill="#000" >1.0</text><line x1="273.1" y1="888.5" x2="273.1" y2="892.0" stroke="#444" stroke-width="1"/><text transform="translate(273.07 901.80) scale(1 1.1)" font-size="9.2" text-anchor="middle" fill="#000" >1.5</text><line x1="296.9" y1="888.5" x2="296.9" y2="892.0" stroke="#444" stroke-width="1"/><text transform="translate(296.90 901.80) scale(1 1.1)" font-size="9.2" text-anchor="middle" fill="#000" >2.0</text><text transform="translate(181.60 915.60) scale(1 1.1)" font-size="11.85" text-anchor="middle" fill="#000" >z-score (ERBB2 protein)</text><text transform="translate(16.20 758.70) rotate(-90.00) scale(1 1.1)" y="0.0" font-size="10.5" text-anchor="middle" fill="#000" >z-score (<tspan font-style="italic">ERBB2</tspan> mRNA)</text><circle cx="63.9" cy="642.8" r="2.85" fill="#858585"/><circle cx="63.9" cy="656.4" r="2.85" fill="#ee1111"/><text transform="translate(71.30 646.30) scale(1 1.1)" font-size="9.2" text-anchor="start" fill="#000" >Pan-sarcoma (r = 0.73)</text><text transform="translate(71.30 660.00) scale(1 1.1)" font-size="9.2" text-anchor="start" fill="#ee1111" >DSRCT (r = 0.5)</text><text transform="translate(339.60 635.00) scale(1 1)" font-size="16" text-anchor="start" fill="#000" >g</text><rect x="397.10" y="671.10" width="19.92" height="16.10" fill="#ef1010"/><rect x="417.62" y="671.10" width="19.92" height="16.10" fill="#b3d7e7"/><rect x="438.14" y="671.10" width="19.92" height="16.10" fill="#b3d7e7"/><rect x="458.66" y="671.10" width="19.92" height="16.10" fill="#ececec"/><rect x="479.18" y="671.10" width="19.92" height="16.10" fill="#ececec"/><rect x="499.70" y="671.10" width="19.92" height="16.10" fill="#ececec"/><rect x="520.22" y="671.10" width="19.92" height="16.10" fill="#ececec"/><rect x="540.74" y="671.10" width="19.92" height="16.10" fill="#ececec"/><rect x="561.26" y="671.10" width="19.92" height="16.10" fill="#ececec"/><rect x="581.78" y="671.10" width="19.92" height="16.10" fill="#ececec"/><rect x="602.30" y="671.10" width="19.92" height="16.10" fill="#ececec"/><rect x="622.82" y="671.10" width="19.92" height="16.10" fill="#ececec"/><rect x="643.34" y="671.10" width="19.92" height="16.10" fill="#b3d7e7"/><rect x="663.86" y="671.10" width="19.92" height="16.10" fill="#ececec"/><rect x="397.10" y="688.45" width="19.92" height="16.10" fill="#ececec"/><rect x="417.62" y="688.45" width="19.92" height="16.10" fill="#ececec"/><rect x="438.14" y="688.45" width="19.92" height="16.10" fill="#f2a900"/><rect x="458.66" y="688.45" width="19.92" height="16.10" fill="#ececec"/><rect x="479.18" y="688.45" width="19.92" height="16.10" fill="#b3d7e7"/><rect x="499.70" y="688.45" width="19.92" height="16.10" fill="#ef1010"/><rect x="520.22" y="688.45" width="19.92" height="16.10" fill="#ececec"/><rect x="540.74" y="688.45" width="19.92" height="16.10" fill="#ececec"/><rect x="561.26" y="688.45" width="19.92" height="16.10" fill="#f2a900"/><rect x="581.78" y="688.45" width="19.92" height="16.10" fill="#ececec"/><rect x="602.30" y="688.45" width="19.92" height="16.10" fill="#ececec"/><rect x="622.82" y="688.45" width="19.92" height="16.10" fill="#ececec"/><rect x="643.34" y="688.45" width="19.92" height="16.10" fill="#ececec"/><rect x="663.86" y="688.45" width="19.92" height="16.10" fill="#ececec"/><rect x="397.10" y="705.80" width="19.92" height="16.10" fill="#ececec"/><rect x="417.62" y="705.80" width="19.92" height="16.10" fill="#ececec"/><rect x="438.14" y="705.80" width="19.92" height="16.10" fill="#f2a900"/><rect x="458.66" y="705.80" width="19.92" height="16.10" fill="#ececec"/><rect x="479.18" y="705.80" width="19.92" height="16.10" fill="#ececec"/><rect x="499.70" y="705.80" width="19.92" height="16.10" fill="#ececec"/><rect x="520.22" y="705.80" width="19.92" height="16.10" fill="#ececec"/><rect x="540.74" y="705.80" width="19.92" height="16.10" fill="#ececec"/><rect x="561.26" y="705.80" width="19.92" height="16.10" fill="#ececec"/><rect x="581.78" y="705.80" width="19.92" height="16.10" fill="#ececec"/><rect x="602.30" y="705.80" width="19.92" height="16.10" fill="#b3d7e7"/><rect x="622.82" y="705.80" width="19.92" height="16.10" fill="#ececec"/><rect x="643.34" y="705.80" width="19.92" height="16.10" fill="#ececec"/><rect x="663.86" y="705.80" width="19.92" height="16.10" fill="#ececec"/><rect x="397.10" y="723.15" width="19.92" height="16.10" fill="#f2a900"/><rect x="417.62" y="723.15" width="19.92" height="16.10" fill="#f2a900"/><rect x="438.14" y="723.15" width="19.92" height="16.10" fill="#b3d7e7"/><rect x="458.66" y="723.15" width="19.92" height="16.10" fill="#ececec"/><rect x="479.18" y="723.15" width="19.92" height="16.10" fill="#ececec"/><rect x="499.70" y="723.15" width="19.92" height="16.10" fill="#ececec"/><rect x="520.22" y="723.15" width="19.92" height="16.10" fill="#f2a900"/><rect x="540.74" y="723.15" width="19.92" height="16.10" fill="#ececec"/><rect x="561.26" y="723.15" width="19.92" height="16.10" fill="#ececec"/><rect x="581.78" y="723.15" width="19.92" height="16.10" fill="#ececec"/><rect x="602.30" y="723.15" width="19.92" height="16.10" fill="#ef1010"/><rect x="622.82" y="723.15" width="19.92" height="16.10" fill="#ececec"/><rect x="643.34" y="723.15" width="19.92" height="16.10" fill="#ececec"/><rect x="663.86" y="723.15" width="19.92" height="16.10" fill="#ececec"/><rect x="397.10" y="740.50" width="19.92" height="16.10" fill="#f2a900"/><rect x="417.62" y="740.50" width="19.92" height="16.10" fill="#b3d7e7"/><rect x="438.14" y="740.50" width="19.92" height="16.10" fill="#b3d7e7"/><rect x="458.66" y="740.50" width="19.92" height="16.10" fill="#ececec"/><rect x="479.18" y="740.50" width="19.92" height="16.10" fill="#ececec"/><rect x="499.70" y="740.50" width="19.92" height="16.10" fill="#f2a900"/><rect x="520.22" y="740.50" width="19.92" height="16.10" fill="#ececec"/><rect x="540.74" y="740.50" width="19.92" height="16.10" fill="#ececec"/><rect x="561.26" y="740.50" width="19.92" height="16.10" fill="#b3d7e7"/><rect x="581.78" y="740.50" width="19.92" height="16.10" fill="#f2a900"/><rect x="602.30" y="740.50" width="19.92" height="16.10" fill="#b3d7e7"/><rect x="622.82" y="740.50" width="19.92" height="16.10" fill="#ececec"/><rect x="643.34" y="740.50" width="19.92" height="16.10" fill="#ececec"/><rect x="663.86" y="740.50" width="19.92" height="16.10" fill="#ececec"/><rect x="397.10" y="757.85" width="19.92" height="16.10" fill="#b3d7e7"/><rect x="417.62" y="757.85" width="19.92" height="16.10" fill="#b3d7e7"/><rect x="438.14" y="757.85" width="19.92" height="16.10" fill="#f2a900"/><rect x="458.66" y="757.85" width="19.92" height="16.10" fill="#ececec"/><rect x="479.18" y="757.85" width="19.92" height="16.10" fill="#ececec"/><rect x="499.70" y="757.85" width="19.92" height="16.10" fill="#ececec"/><rect x="520.22" y="757.85" width="19.92" height="16.10" fill="#ececec"/><rect x="540.74" y="757.85" width="19.92" height="16.10" fill="#ececec"/><rect x="561.26" y="757.85" width="19.92" height="16.10" fill="#ececec"/><rect x="581.78" y="757.85" width="19.92" height="16.10" fill="#b3d7e7"/><rect x="602.30" y="757.85" width="19.92" height="16.10" fill="#f2a900"/><rect x="622.82" y="757.85" width="19.92" height="16.10" fill="#ececec"/><rect x="643.34" y="757.85" width="19.92" height="16.10" fill="#ececec"/><rect x="663.86" y="757.85" width="19.92" height="16.10" fill="#ececec"/><rect x="397.10" y="775.20" width="19.92" height="16.10" fill="#ececec"/><rect x="417.62" y="775.20" width="19.92" height="16.10" fill="#ececec"/><rect x="438.14" y="775.20" width="19.92" height="16.10" fill="#b3d7e7"/><rect x="458.66" y="775.20" width="19.92" height="16.10" fill="#ececec"/><rect x="479.18" y="775.20" width="19.92" height="16.10" fill="#ececec"/><rect x="499.70" y="775.20" width="19.92" height="16.10" fill="#ececec"/><rect x="520.22" y="775.20" width="19.92" height="16.10" fill="#ececec"/><rect x="540.74" y="775.20" width="19.92" height="16.10" fill="#ececec"/><rect x="561.26" y="775.20" width="19.92" height="16.10" fill="#ececec"/><rect x="581.78" y="775.20" width="19.92" height="16.10" fill="#b3d7e7"/><rect x="602.30" y="775.20" width="19.92" height="16.10" fill="#b3d7e7"/><rect x="622.82" y="775.20" width="19.92" height="16.10" fill="#ececec"/><rect x="643.34" y="775.20" width="19.92" height="16.10" fill="#ececec"/><rect x="663.86" y="775.20" width="19.92" height="16.10" fill="#ececec"/><rect x="397.10" y="792.55" width="19.92" height="16.10" fill="#ef1010"/><rect x="417.62" y="792.55" width="19.92" height="16.10" fill="#ef1010"/><rect x="438.14" y="792.55" width="19.92" height="16.10" fill="#ef1010"/><rect x="458.66" y="792.55" width="19.92" height="16.10" fill="#ececec"/><rect x="479.18" y="792.55" width="19.92" height="16.10" fill="#ececec"/><rect x="499.70" y="792.55" width="19.92" height="16.10" fill="#f2a900"/><rect x="520.22" y="792.55" width="19.92" height="16.10" fill="#f2a900"/><rect x="540.74" y="792.55" width="19.92" height="16.10" fill="#ef1010"/><rect x="561.26" y="792.55" width="19.92" height="16.10" fill="#ececec"/><rect x="581.78" y="792.55" width="19.92" height="16.10" fill="#b3d7e7"/><rect x="602.30" y="792.55" width="19.92" height="16.10" fill="#b3d7e7"/><rect x="622.82" y="792.55" width="19.92" height="16.10" fill="#ececec"/><rect x="643.34" y="792.55" width="19.92" height="16.10" fill="#ececec"/><rect x="663.86" y="792.55" width="19.92" height="16.10" fill="#ececec"/><rect x="397.10" y="809.90" width="19.92" height="16.10" fill="#ef1010"/><rect x="417.62" y="809.90" width="19.92" height="16.10" fill="#ececec"/><rect x="438.14" y="809.90" width="19.92" height="16.10" fill="#f2a900"/><rect x="458.66" y="809.90" width="19.92" height="16.10" fill="#b3d7e7"/><rect x="479.18" y="809.90" width="19.92" height="16.10" fill="#ececec"/><rect x="499.70" y="809.90" width="19.92" height="16.10" fill="#ececec"/><rect x="520.22" y="809.90" width="19.92" height="16.10" fill="#ececec"/><rect x="540.74" y="809.90" width="19.92" height="16.10" fill="#ececec"/><rect x="561.26" y="809.90" width="19.92" height="16.10" fill="#ececec"/><rect x="581.78" y="809.90" width="19.92" height="16.10" fill="#ececec"/><rect x="602.30" y="809.90" width="19.92" height="16.10" fill="#ececec"/><rect x="622.82" y="809.90" width="19.92" height="16.10" fill="#ececec"/><rect x="643.34" y="809.90" width="19.92" height="16.10" fill="#ef1010"/><rect x="663.86" y="809.90" width="19.92" height="16.10" fill="#ececec"/><line x1="437.8" y1="666.5" x2="437.8" y2="832.8" stroke="#7a7a7a" stroke-width="1.1"/><line x1="478.9" y1="666.5" x2="478.9" y2="832.8" stroke="#7a7a7a" stroke-width="1.1"/><line x1="519.9" y1="666.5" x2="519.9" y2="832.8" stroke="#7a7a7a" stroke-width="1.1"/><line x1="561.0" y1="666.5" x2="561.0" y2="832.8" stroke="#7a7a7a" stroke-width="1.1"/><line x1="602.0" y1="666.5" x2="602.0" y2="832.8" stroke="#7a7a7a" stroke-width="1.1"/><line x1="643.0" y1="666.5" x2="643.0" y2="832.8" stroke="#7a7a7a" stroke-width="1.1"/><text transform="translate(417.32 667.60) scale(1 1.1)" font-size="9.2" text-anchor="middle" fill="#000" >TYRO3</text><text transform="translate(458.36 667.60) scale(1 1.1)" font-size="9.2" text-anchor="middle" fill="#000" >ERBB2</text><text transform="translate(499.40 667.60) scale(1 1.1)" font-size="9.2" text-anchor="middle" fill="#000" >FGFR4</text><text transform="translate(540.44 667.60) scale(1 1.1)" font-size="9.2" text-anchor="middle" fill="#000" >KDR</text><text transform="translate(581.48 667.60) scale(1 1.1)" font-size="9.2" text-anchor="middle" fill="#000" >MERTK</text><text transform="translate(622.52 667.60) scale(1 1.1)" font-size="9.2" text-anchor="middle" fill="#000" >ALK</text><text transform="translate(663.56 667.60) scale(1 1.1)" font-size="9.2" text-anchor="middle" fill="#000" >INSR</text><text transform="translate(342.30 682.97) scale(1 1.1)" font-size="9.2" text-anchor="start" fill="#000" >DSRCT-11</text><text transform="translate(342.30 700.32) scale(1 1.1)" font-size="9.2" text-anchor="start" fill="#000" >DSRCT-10</text><text transform="translate(342.30 717.67) scale(1 1.1)" font-size="9.2" text-anchor="start" fill="#000" >DSRCT-12</text><text transform="translate(342.30 735.02) scale(1 1.1)" font-size="9.2" text-anchor="start" fill="#000" >DSRCT-04</text><text transform="translate(342.30 752.38) scale(1 1.1)" font-size="9.2" text-anchor="start" fill="#000" >DSRCT-17</text><text transform="translate(342.30 769.72) scale(1 1.1)" font-size="9.2" text-anchor="start" fill="#000" >DSRCT-19</text><text transform="translate(342.30 787.07) scale(1 1.1)" font-size="9.2" text-anchor="start" fill="#000" >DSRCT-25</text><text transform="translate(342.30 804.42) scale(1 1.1)" font-size="9.2" text-anchor="start" fill="#000" >DSRCT-18</text><text transform="translate(342.30 821.77) scale(1 1.1)" font-size="9.2" text-anchor="start" fill="#000" >DSRCT-29</text><line x1="407.1" y1="826.4" x2="407.1" y2="828.4" stroke="#000" stroke-width="1.3"/><text transform="translate(407.06 842.00) scale(1 1.1)" font-size="9.2" text-anchor="middle" fill="#000" >P</text><line x1="427.6" y1="826.4" x2="427.6" y2="828.4" stroke="#000" stroke-width="1.3"/><circle cx="427.6" cy="838.0" r="5.3" fill="none" stroke="#111" stroke-width="0.9"/><text transform="translate(427.58 841.30) scale(1 1.1)" font-size="9.0" text-anchor="middle" fill="#000" >P</text><line x1="448.1" y1="826.4" x2="448.1" y2="828.4" stroke="#000" stroke-width="1.3"/><text transform="translate(448.10 842.00) scale(1 1.1)" font-size="9.2" text-anchor="middle" fill="#000" >P</text><line x1="468.6" y1="826.4" x2="468.6" y2="828.4" stroke="#000" stroke-width="1.3"/><circle cx="468.6" cy="838.0" r="5.3" fill="none" stroke="#111" stroke-width="0.9"/><text transform="translate(468.62 841.30) scale(1 1.1)" font-size="9.0" text-anchor="middle" fill="#000" >P</text><line x1="489.1" y1="826.4" x2="489.1" y2="828.4" stroke="#000" stroke-width="1.3"/><text transform="translate(489.14 842.00) scale(1 1.1)" font-size="9.2" text-anchor="middle" fill="#000" >P</text><line x1="509.7" y1="826.4" x2="509.7" y2="828.4" stroke="#000" stroke-width="1.3"/><circle cx="509.7" cy="838.0" r="5.3" fill="none" stroke="#111" stroke-width="0.9"/><text transform="translate(509.66 841.30) scale(1 1.1)" font-size="9.0" text-anchor="middle" fill="#000" >P</text><line x1="530.2" y1="826.4" x2="530.2" y2="828.4" stroke="#000" stroke-width="1.3"/><text transform="translate(530.18 842.00) scale(1 1.1)" font-size="9.2" text-anchor="middle" fill="#000" >P</text><line x1="550.7" y1="826.4" x2="550.7" y2="828.4" stroke="#000" stroke-width="1.3"/><circle cx="550.7" cy="838.0" r="5.3" fill="none" stroke="#111" stroke-width="0.9"/><text transform="translate(550.70 841.30) scale(1 1.1)" font-size="9.0" text-anchor="middle" fill="#000" >P</text><line x1="571.2" y1="826.4" x2="571.2" y2="828.4" stroke="#000" stroke-width="1.3"/><text transform="translate(571.22 842.00) scale(1 1.1)" font-size="9.2" text-anchor="middle" fill="#000" >P</text><line x1="591.7" y1="826.4" x2="591.7" y2="828.4" stroke="#000" stroke-width="1.3"/><circle cx="591.7" cy="838.0" r="5.3" fill="none" stroke="#111" stroke-width="0.9"/><text transform="translate(591.74 841.30) scale(1 1.1)" font-size="9.0" text-anchor="middle" fill="#000" >P</text><line x1="612.3" y1="826.4" x2="612.3" y2="828.4" stroke="#000" stroke-width="1.3"/><text transform="translate(612.26 842.00) scale(1 1.1)" font-size="9.2" text-anchor="middle" fill="#000" >P</text><line x1="632.8" y1="826.4" x2="632.8" y2="828.4" stroke="#000" stroke-width="1.3"/><circle cx="632.8" cy="838.0" r="5.3" fill="none" stroke="#111" stroke-width="0.9"/><text transform="translate(632.78 841.30) scale(1 1.1)" font-size="9.0" text-anchor="middle" fill="#000" >P</text><line x1="653.3" y1="826.4" x2="653.3" y2="828.4" stroke="#000" stroke-width="1.3"/><text transform="translate(653.30 842.00) scale(1 1.1)" font-size="9.2" text-anchor="middle" fill="#000" >P</text><line x1="673.8" y1="826.4" x2="673.8" y2="828.4" stroke="#000" stroke-width="1.3"/><circle cx="673.8" cy="838.0" r="5.3" fill="none" stroke="#111" stroke-width="0.9"/><text transform="translate(673.82 841.30) scale(1 1.1)" font-size="9.0" text-anchor="middle" fill="#000" >P</text><text transform="translate(407.80 875.50) scale(1 1.1)" font-size="9.2" text-anchor="start" fill="#000" >z-score:</text><text transform="translate(408.00 886.20) scale(1 1.1)" font-size="9.2" text-anchor="start" fill="#000" >P</text><text transform="translate(419.40 886.20) scale(1 1.1)" font-size="9.2" text-anchor="start" fill="#000" >- protein expression score</text><circle cx="410.2" cy="894.8" r="5.1" fill="none" stroke="#111" stroke-width="0.9"/><text transform="translate(410.20 898.10) scale(1 1.1)" font-size="9.0" text-anchor="middle" fill="#000" >P</text><text transform="translate(419.40 897.80) scale(1 1.1)" font-size="9.2" text-anchor="start" fill="#000" >- phosphorylation score</text><rect x="550.60" y="874.8" width="32.3" height="9.5" fill="#ececec"/><rect x="582.73" y="874.8" width="32.3" height="9.5" fill="#b3d7e7"/><rect x="614.85" y="874.8" width="32.3" height="9.5" fill="#f2a900"/><rect x="646.98" y="874.8" width="32.3" height="9.5" fill="#ef1010"/><line x1="550.6" y1="884.3" x2="550.6" y2="885.9" stroke="#333" stroke-width="0.8"/><text transform="translate(550.60 899.00) scale(1 1.1)" font-size="9.2" text-anchor="middle" fill="#000" >-2</text><line x1="582.7" y1="884.3" x2="582.7" y2="885.9" stroke="#333" stroke-width="0.8"/><text transform="translate(582.73 899.00) scale(1 1.1)" font-size="9.2" text-anchor="middle" fill="#000" >1.0</text><line x1="614.9" y1="884.3" x2="614.9" y2="885.9" stroke="#333" stroke-width="0.8"/><text transform="translate(614.85 899.00) scale(1 1.1)" font-size="9.2" text-anchor="middle" fill="#000" >1.5</text><line x1="647.0" y1="884.3" x2="647.0" y2="885.9" stroke="#333" stroke-width="0.8"/><text transform="translate(646.98 899.00) scale(1 1.1)" font-size="9.2" text-anchor="middle" fill="#000" >2.0</text><line x1="679.1" y1="884.3" x2="679.1" y2="885.9" stroke="#333" stroke-width="0.8"/><text transform="translate(679.10 899.00) scale(1 1.1)" font-size="9.2" text-anchor="middle" fill="#000" >3.4</text>
</svg></body></html>
